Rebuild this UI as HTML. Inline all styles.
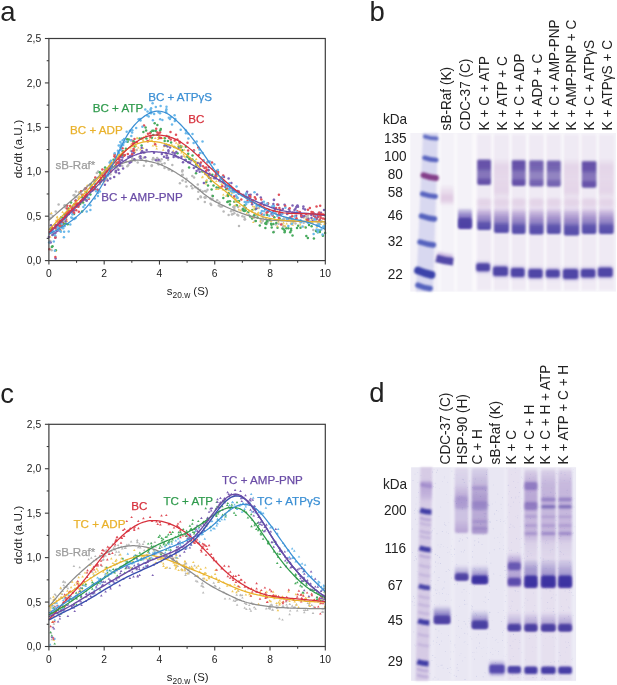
<!DOCTYPE html>
<html><head><meta charset="utf-8"><style>
html,body{margin:0;padding:0;background:#fff;}
svg{display:block;font-family:"Liberation Sans", sans-serif;will-change:transform;}
</style></head><body>
<svg width="617" height="685" viewBox="0 0 617 685">
<defs><filter id="b0" filterUnits="userSpaceOnUse" x="0" y="0" width="617" height="685"><feGaussianBlur stdDeviation="0.8"/></filter><filter id="b1" filterUnits="userSpaceOnUse" x="0" y="0" width="617" height="685"><feGaussianBlur stdDeviation="1.0"/></filter><filter id="b2" filterUnits="userSpaceOnUse" x="0" y="0" width="617" height="685"><feGaussianBlur stdDeviation="0.9"/></filter><linearGradient id="g1" x1="0" y1="0" x2="0" y2="1"><stop offset="0" stop-color="#c79ac8" stop-opacity="0.0"/><stop offset="0.35" stop-color="#c79ac8" stop-opacity="0.25"/><stop offset="0.6" stop-color="#c79ac8" stop-opacity="0.45"/><stop offset="0.75" stop-color="#c79ac8" stop-opacity="0.4"/><stop offset="1" stop-color="#c79ac8" stop-opacity="0.0"/></linearGradient><filter id="b3" filterUnits="userSpaceOnUse" x="0" y="0" width="617" height="685"><feGaussianBlur stdDeviation="1.2"/></filter><filter id="b4" filterUnits="userSpaceOnUse" x="0" y="0" width="617" height="685"><feGaussianBlur stdDeviation="1.5"/></filter><filter id="b5" filterUnits="userSpaceOnUse" x="0" y="0" width="617" height="685"><feGaussianBlur stdDeviation="1.1"/></filter><linearGradient id="g2" x1="0" y1="0" x2="0" y2="1"><stop offset="0" stop-color="#5a48ae" stop-opacity="0.15"/><stop offset="0.3" stop-color="#5a48ae" stop-opacity="0.6"/><stop offset="0.5" stop-color="#5a48ae" stop-opacity="0.8"/><stop offset="1" stop-color="#5a48ae" stop-opacity="0.95"/></linearGradient><linearGradient id="g3" x1="0" y1="0" x2="0" y2="1"><stop offset="0" stop-color="#4d389c" stop-opacity="0.285"/><stop offset="0.07" stop-color="#4d389c" stop-opacity="0.855"/><stop offset="0.35" stop-color="#4d389c" stop-opacity="0.836"/><stop offset="0.5" stop-color="#4d389c" stop-opacity="0.646"/><stop offset="0.7" stop-color="#4d389c" stop-opacity="0.646"/><stop offset="0.8" stop-color="#4d389c" stop-opacity="0.836"/><stop offset="1" stop-color="#4d389c" stop-opacity="0.855"/></linearGradient><linearGradient id="g4" x1="0" y1="0" x2="0" y2="1"><stop offset="0" stop-color="#b58ccc" stop-opacity="0.0"/><stop offset="0.25" stop-color="#b58ccc" stop-opacity="0.35"/><stop offset="0.5" stop-color="#b58ccc" stop-opacity="0.5"/><stop offset="1" stop-color="#b58ccc" stop-opacity="0.0"/></linearGradient><linearGradient id="g5" x1="0" y1="0" x2="0" y2="1"><stop offset="0" stop-color="#4d44a6" stop-opacity="0.0"/><stop offset="0.3" stop-color="#4d44a6" stop-opacity="0.28"/><stop offset="0.52" stop-color="#4d44a6" stop-opacity="0.5"/><stop offset="0.68" stop-color="#4d44a6" stop-opacity="0.88"/><stop offset="1" stop-color="#4d44a6" stop-opacity="0.95"/></linearGradient><linearGradient id="g6" x1="0" y1="0" x2="0" y2="1"><stop offset="0" stop-color="#c9a2cc" stop-opacity="0.0"/><stop offset="0.2" stop-color="#c9a2cc" stop-opacity="0.3"/><stop offset="0.5" stop-color="#c9a2cc" stop-opacity="0.25"/><stop offset="0.8" stop-color="#c9a2cc" stop-opacity="0.3"/><stop offset="1" stop-color="#c9a2cc" stop-opacity="0.0"/></linearGradient><linearGradient id="g7" x1="0" y1="0" x2="0" y2="1"><stop offset="0" stop-color="#b58ccc" stop-opacity="0.0"/><stop offset="0.25" stop-color="#b58ccc" stop-opacity="0.35"/><stop offset="0.5" stop-color="#b58ccc" stop-opacity="0.5"/><stop offset="1" stop-color="#b58ccc" stop-opacity="0.0"/></linearGradient><linearGradient id="g8" x1="0" y1="0" x2="0" y2="1"><stop offset="0" stop-color="#4d44a6" stop-opacity="0.0"/><stop offset="0.3" stop-color="#4d44a6" stop-opacity="0.28"/><stop offset="0.52" stop-color="#4d44a6" stop-opacity="0.5"/><stop offset="0.68" stop-color="#4d44a6" stop-opacity="0.88"/><stop offset="1" stop-color="#4d44a6" stop-opacity="0.95"/></linearGradient><linearGradient id="g9" x1="0" y1="0" x2="0" y2="1"><stop offset="0" stop-color="#4d389c" stop-opacity="0.285"/><stop offset="0.07" stop-color="#4d389c" stop-opacity="0.855"/><stop offset="0.35" stop-color="#4d389c" stop-opacity="0.836"/><stop offset="0.5" stop-color="#4d389c" stop-opacity="0.646"/><stop offset="0.7" stop-color="#4d389c" stop-opacity="0.646"/><stop offset="0.8" stop-color="#4d389c" stop-opacity="0.836"/><stop offset="1" stop-color="#4d389c" stop-opacity="0.855"/></linearGradient><linearGradient id="g10" x1="0" y1="0" x2="0" y2="1"><stop offset="0" stop-color="#b58ccc" stop-opacity="0.0"/><stop offset="0.25" stop-color="#b58ccc" stop-opacity="0.35"/><stop offset="0.5" stop-color="#b58ccc" stop-opacity="0.5"/><stop offset="1" stop-color="#b58ccc" stop-opacity="0.0"/></linearGradient><linearGradient id="g11" x1="0" y1="0" x2="0" y2="1"><stop offset="0" stop-color="#4d44a6" stop-opacity="0.0"/><stop offset="0.3" stop-color="#4d44a6" stop-opacity="0.28"/><stop offset="0.52" stop-color="#4d44a6" stop-opacity="0.5"/><stop offset="0.68" stop-color="#4d44a6" stop-opacity="0.88"/><stop offset="1" stop-color="#4d44a6" stop-opacity="0.95"/></linearGradient><linearGradient id="g12" x1="0" y1="0" x2="0" y2="1"><stop offset="0" stop-color="#4d389c" stop-opacity="0.255"/><stop offset="0.07" stop-color="#4d389c" stop-opacity="0.765"/><stop offset="0.35" stop-color="#4d389c" stop-opacity="0.748"/><stop offset="0.5" stop-color="#4d389c" stop-opacity="0.5780000000000001"/><stop offset="0.7" stop-color="#4d389c" stop-opacity="0.5780000000000001"/><stop offset="0.8" stop-color="#4d389c" stop-opacity="0.748"/><stop offset="1" stop-color="#4d389c" stop-opacity="0.765"/></linearGradient><linearGradient id="g13" x1="0" y1="0" x2="0" y2="1"><stop offset="0" stop-color="#b58ccc" stop-opacity="0.0"/><stop offset="0.25" stop-color="#b58ccc" stop-opacity="0.35"/><stop offset="0.5" stop-color="#b58ccc" stop-opacity="0.5"/><stop offset="1" stop-color="#b58ccc" stop-opacity="0.0"/></linearGradient><linearGradient id="g14" x1="0" y1="0" x2="0" y2="1"><stop offset="0" stop-color="#4d44a6" stop-opacity="0.0"/><stop offset="0.3" stop-color="#4d44a6" stop-opacity="0.28"/><stop offset="0.52" stop-color="#4d44a6" stop-opacity="0.5"/><stop offset="0.68" stop-color="#4d44a6" stop-opacity="0.88"/><stop offset="1" stop-color="#4d44a6" stop-opacity="0.95"/></linearGradient><linearGradient id="g15" x1="0" y1="0" x2="0" y2="1"><stop offset="0" stop-color="#4d389c" stop-opacity="0.255"/><stop offset="0.07" stop-color="#4d389c" stop-opacity="0.765"/><stop offset="0.35" stop-color="#4d389c" stop-opacity="0.748"/><stop offset="0.5" stop-color="#4d389c" stop-opacity="0.5780000000000001"/><stop offset="0.7" stop-color="#4d389c" stop-opacity="0.5780000000000001"/><stop offset="0.8" stop-color="#4d389c" stop-opacity="0.748"/><stop offset="1" stop-color="#4d389c" stop-opacity="0.765"/></linearGradient><linearGradient id="g16" x1="0" y1="0" x2="0" y2="1"><stop offset="0" stop-color="#b58ccc" stop-opacity="0.0"/><stop offset="0.25" stop-color="#b58ccc" stop-opacity="0.35"/><stop offset="0.5" stop-color="#b58ccc" stop-opacity="0.5"/><stop offset="1" stop-color="#b58ccc" stop-opacity="0.0"/></linearGradient><linearGradient id="g17" x1="0" y1="0" x2="0" y2="1"><stop offset="0" stop-color="#4d44a6" stop-opacity="0.0"/><stop offset="0.3" stop-color="#4d44a6" stop-opacity="0.28"/><stop offset="0.52" stop-color="#4d44a6" stop-opacity="0.5"/><stop offset="0.68" stop-color="#4d44a6" stop-opacity="0.88"/><stop offset="1" stop-color="#4d44a6" stop-opacity="0.95"/></linearGradient><linearGradient id="g18" x1="0" y1="0" x2="0" y2="1"><stop offset="0" stop-color="#c9a2cc" stop-opacity="0.0"/><stop offset="0.2" stop-color="#c9a2cc" stop-opacity="0.3"/><stop offset="0.5" stop-color="#c9a2cc" stop-opacity="0.25"/><stop offset="0.8" stop-color="#c9a2cc" stop-opacity="0.3"/><stop offset="1" stop-color="#c9a2cc" stop-opacity="0.0"/></linearGradient><linearGradient id="g19" x1="0" y1="0" x2="0" y2="1"><stop offset="0" stop-color="#b58ccc" stop-opacity="0.0"/><stop offset="0.25" stop-color="#b58ccc" stop-opacity="0.35"/><stop offset="0.5" stop-color="#b58ccc" stop-opacity="0.5"/><stop offset="1" stop-color="#b58ccc" stop-opacity="0.0"/></linearGradient><linearGradient id="g20" x1="0" y1="0" x2="0" y2="1"><stop offset="0" stop-color="#4d44a6" stop-opacity="0.0"/><stop offset="0.3" stop-color="#4d44a6" stop-opacity="0.28"/><stop offset="0.52" stop-color="#4d44a6" stop-opacity="0.5"/><stop offset="0.68" stop-color="#4d44a6" stop-opacity="0.88"/><stop offset="1" stop-color="#4d44a6" stop-opacity="0.95"/></linearGradient><linearGradient id="g21" x1="0" y1="0" x2="0" y2="1"><stop offset="0" stop-color="#4d389c" stop-opacity="0.285"/><stop offset="0.07" stop-color="#4d389c" stop-opacity="0.855"/><stop offset="0.35" stop-color="#4d389c" stop-opacity="0.836"/><stop offset="0.5" stop-color="#4d389c" stop-opacity="0.646"/><stop offset="0.7" stop-color="#4d389c" stop-opacity="0.646"/><stop offset="0.8" stop-color="#4d389c" stop-opacity="0.836"/><stop offset="1" stop-color="#4d389c" stop-opacity="0.855"/></linearGradient><linearGradient id="g22" x1="0" y1="0" x2="0" y2="1"><stop offset="0" stop-color="#b58ccc" stop-opacity="0.0"/><stop offset="0.25" stop-color="#b58ccc" stop-opacity="0.35"/><stop offset="0.5" stop-color="#b58ccc" stop-opacity="0.5"/><stop offset="1" stop-color="#b58ccc" stop-opacity="0.0"/></linearGradient><linearGradient id="g23" x1="0" y1="0" x2="0" y2="1"><stop offset="0" stop-color="#4d44a6" stop-opacity="0.0"/><stop offset="0.3" stop-color="#4d44a6" stop-opacity="0.28"/><stop offset="0.52" stop-color="#4d44a6" stop-opacity="0.5"/><stop offset="0.68" stop-color="#4d44a6" stop-opacity="0.88"/><stop offset="1" stop-color="#4d44a6" stop-opacity="0.95"/></linearGradient><linearGradient id="g24" x1="0" y1="0" x2="0" y2="1"><stop offset="0" stop-color="#c9a2cc" stop-opacity="0.0"/><stop offset="0.2" stop-color="#c9a2cc" stop-opacity="0.3"/><stop offset="0.5" stop-color="#c9a2cc" stop-opacity="0.25"/><stop offset="0.8" stop-color="#c9a2cc" stop-opacity="0.3"/><stop offset="1" stop-color="#c9a2cc" stop-opacity="0.0"/></linearGradient><linearGradient id="g25" x1="0" y1="0" x2="0" y2="1"><stop offset="0" stop-color="#b58ccc" stop-opacity="0.0"/><stop offset="0.25" stop-color="#b58ccc" stop-opacity="0.35"/><stop offset="0.5" stop-color="#b58ccc" stop-opacity="0.5"/><stop offset="1" stop-color="#b58ccc" stop-opacity="0.0"/></linearGradient><linearGradient id="g26" x1="0" y1="0" x2="0" y2="1"><stop offset="0" stop-color="#4d44a6" stop-opacity="0.0"/><stop offset="0.3" stop-color="#4d44a6" stop-opacity="0.28"/><stop offset="0.52" stop-color="#4d44a6" stop-opacity="0.5"/><stop offset="0.68" stop-color="#4d44a6" stop-opacity="0.88"/><stop offset="1" stop-color="#4d44a6" stop-opacity="0.95"/></linearGradient><linearGradient id="g27" x1="0" y1="0" x2="0" y2="1"><stop offset="0" stop-color="#8a6cc0" stop-opacity="0.0"/><stop offset="0.15" stop-color="#8a6cc0" stop-opacity="0.5"/><stop offset="0.35" stop-color="#8a6cc0" stop-opacity="0.35"/><stop offset="0.7" stop-color="#8a6cc0" stop-opacity="0.25"/><stop offset="1" stop-color="#8a6cc0" stop-opacity="0.0"/></linearGradient><linearGradient id="g28" x1="0" y1="0" x2="0" y2="1"><stop offset="0" stop-color="#5a48ac" stop-opacity="0.05"/><stop offset="0.4" stop-color="#5a48ac" stop-opacity="0.55"/><stop offset="1" stop-color="#5a48ac" stop-opacity="0.95"/></linearGradient><linearGradient id="g29" x1="0" y1="0" x2="0" y2="1"><stop offset="0" stop-color="#8a68b8" stop-opacity="0.12"/><stop offset="0.25" stop-color="#8a68b8" stop-opacity="0.2"/><stop offset="0.4" stop-color="#8a68b8" stop-opacity="0.42"/><stop offset="0.6" stop-color="#8a68b8" stop-opacity="0.3"/><stop offset="0.8" stop-color="#8a68b8" stop-opacity="0.3"/><stop offset="0.96" stop-color="#8a68b8" stop-opacity="0.5"/><stop offset="1" stop-color="#8a68b8" stop-opacity="0.5"/></linearGradient><linearGradient id="g30" x1="0" y1="0" x2="0" y2="1"><stop offset="0" stop-color="#5a48ac" stop-opacity="0.0"/><stop offset="0.5" stop-color="#5a48ac" stop-opacity="0.4"/><stop offset="1" stop-color="#5a48ac" stop-opacity="0.9"/></linearGradient><linearGradient id="g31" x1="0" y1="0" x2="0" y2="1"><stop offset="0" stop-color="#7a5cb0" stop-opacity="0.15"/><stop offset="0.25" stop-color="#7a5cb0" stop-opacity="0.35"/><stop offset="0.45" stop-color="#7a5cb0" stop-opacity="0.55"/><stop offset="0.6" stop-color="#7a5cb0" stop-opacity="0.4"/><stop offset="0.8" stop-color="#7a5cb0" stop-opacity="0.45"/><stop offset="0.96" stop-color="#7a5cb0" stop-opacity="0.55"/><stop offset="1" stop-color="#7a5cb0" stop-opacity="0.55"/></linearGradient><filter id="b6" filterUnits="userSpaceOnUse" x="0" y="0" width="617" height="685"><feGaussianBlur stdDeviation="1.4"/></filter><linearGradient id="g32" x1="0" y1="0" x2="0" y2="1"><stop offset="0" stop-color="#5a48ac" stop-opacity="0.0"/><stop offset="0.45" stop-color="#5a48ac" stop-opacity="0.45"/><stop offset="1" stop-color="#5a48ac" stop-opacity="0.95"/></linearGradient><linearGradient id="g33" x1="0" y1="0" x2="0" y2="1"><stop offset="0" stop-color="#5a48ac" stop-opacity="0.0"/><stop offset="0.45" stop-color="#5a48ac" stop-opacity="0.45"/><stop offset="1" stop-color="#5a48ac" stop-opacity="0.95"/></linearGradient><linearGradient id="g34" x1="0" y1="0" x2="0" y2="1"><stop offset="0" stop-color="#6a4cb0" stop-opacity="0.0"/><stop offset="0.3" stop-color="#6a4cb0" stop-opacity="0.55"/><stop offset="0.45" stop-color="#6a4cb0" stop-opacity="0.5"/><stop offset="0.6" stop-color="#6a4cb0" stop-opacity="0.35"/><stop offset="0.8" stop-color="#6a4cb0" stop-opacity="0.7"/><stop offset="0.92" stop-color="#6a4cb0" stop-opacity="0.6"/><stop offset="1" stop-color="#6a4cb0" stop-opacity="0.0"/></linearGradient><linearGradient id="g35" x1="0" y1="0" x2="0" y2="1"><stop offset="0" stop-color="#8060b4" stop-opacity="0.12"/><stop offset="0.15" stop-color="#8060b4" stop-opacity="0.4"/><stop offset="0.35" stop-color="#8060b4" stop-opacity="0.45"/><stop offset="0.5" stop-color="#8060b4" stop-opacity="0.3"/><stop offset="0.7" stop-color="#8060b4" stop-opacity="0.35"/><stop offset="0.8" stop-color="#8060b4" stop-opacity="0.12"/><stop offset="1" stop-color="#8060b4" stop-opacity="0.05"/></linearGradient><filter id="b7" filterUnits="userSpaceOnUse" x="0" y="0" width="617" height="685"><feGaussianBlur stdDeviation="1.3"/></filter><linearGradient id="g36" x1="0" y1="0" x2="0" y2="1"><stop offset="0" stop-color="#5a48ac" stop-opacity="0.1"/><stop offset="0.3" stop-color="#5a48ac" stop-opacity="0.45"/><stop offset="0.55" stop-color="#5a48ac" stop-opacity="0.5"/><stop offset="1" stop-color="#5a48ac" stop-opacity="0.95"/></linearGradient><linearGradient id="g37" x1="0" y1="0" x2="0" y2="1"><stop offset="0" stop-color="#6a52b0" stop-opacity="0.0"/><stop offset="0.5" stop-color="#6a52b0" stop-opacity="0.35"/><stop offset="1" stop-color="#6a52b0" stop-opacity="0.9"/></linearGradient><linearGradient id="g38" x1="0" y1="0" x2="0" y2="1"><stop offset="0" stop-color="#8060b4" stop-opacity="0.12"/><stop offset="0.15" stop-color="#8060b4" stop-opacity="0.32000000000000006"/><stop offset="0.35" stop-color="#8060b4" stop-opacity="0.36000000000000004"/><stop offset="0.5" stop-color="#8060b4" stop-opacity="0.3"/><stop offset="0.7" stop-color="#8060b4" stop-opacity="0.35"/><stop offset="0.8" stop-color="#8060b4" stop-opacity="0.12"/><stop offset="1" stop-color="#8060b4" stop-opacity="0.05"/></linearGradient><linearGradient id="g39" x1="0" y1="0" x2="0" y2="1"><stop offset="0" stop-color="#5a48ac" stop-opacity="0.1"/><stop offset="0.3" stop-color="#5a48ac" stop-opacity="0.36000000000000004"/><stop offset="0.55" stop-color="#5a48ac" stop-opacity="0.5"/><stop offset="1" stop-color="#5a48ac" stop-opacity="0.95"/></linearGradient><linearGradient id="g40" x1="0" y1="0" x2="0" y2="1"><stop offset="0" stop-color="#6a52b0" stop-opacity="0.0"/><stop offset="0.5" stop-color="#6a52b0" stop-opacity="0.35"/><stop offset="1" stop-color="#6a52b0" stop-opacity="0.9"/></linearGradient><linearGradient id="g41" x1="0" y1="0" x2="0" y2="1"><stop offset="0" stop-color="#8060b4" stop-opacity="0.12"/><stop offset="0.15" stop-color="#8060b4" stop-opacity="0.30000000000000004"/><stop offset="0.35" stop-color="#8060b4" stop-opacity="0.3375"/><stop offset="0.5" stop-color="#8060b4" stop-opacity="0.3"/><stop offset="0.7" stop-color="#8060b4" stop-opacity="0.35"/><stop offset="0.8" stop-color="#8060b4" stop-opacity="0.12"/><stop offset="1" stop-color="#8060b4" stop-opacity="0.05"/></linearGradient><linearGradient id="g42" x1="0" y1="0" x2="0" y2="1"><stop offset="0" stop-color="#5a48ac" stop-opacity="0.1"/><stop offset="0.3" stop-color="#5a48ac" stop-opacity="0.3375"/><stop offset="0.55" stop-color="#5a48ac" stop-opacity="0.5"/><stop offset="1" stop-color="#5a48ac" stop-opacity="0.95"/></linearGradient><linearGradient id="g43" x1="0" y1="0" x2="0" y2="1"><stop offset="0" stop-color="#6a52b0" stop-opacity="0.0"/><stop offset="0.5" stop-color="#6a52b0" stop-opacity="0.35"/><stop offset="1" stop-color="#6a52b0" stop-opacity="0.9"/></linearGradient><linearGradient id="g44" x1="0" y1="0" x2="0" y2="1"><stop offset="0" stop-color="#6a52b0" stop-opacity="0.0"/><stop offset="0.5" stop-color="#6a52b0" stop-opacity="0.3"/><stop offset="1" stop-color="#6a52b0" stop-opacity="0.9"/></linearGradient></defs>
<rect width="617" height="685" fill="#fff"/>
<text x="0.2" y="20.8" font-size="27.5" text-anchor="start" fill="#222">a</text>
<text x="369.5" y="20.8" font-size="27.5" text-anchor="start" fill="#222">b</text>
<text x="0.2" y="402.7" font-size="27.5" text-anchor="start" fill="#222">c</text>
<text x="369.2" y="402.4" font-size="27.5" text-anchor="start" fill="#222">d</text>
<circle cx="50.6" cy="218.1" r="1.25" fill="#b9b9b9"/>
<circle cx="50.7" cy="214.1" r="1.25" fill="#b9b9b9"/>
<circle cx="52.7" cy="216.1" r="1.25" fill="#b9b9b9"/>
<circle cx="55.7" cy="211.5" r="1.25" fill="#b9b9b9"/>
<circle cx="58.6" cy="204.4" r="1.25" fill="#b9b9b9"/>
<circle cx="64.6" cy="205.3" r="1.25" fill="#b9b9b9"/>
<circle cx="64.9" cy="205.4" r="1.25" fill="#b9b9b9"/>
<circle cx="65.2" cy="207.2" r="1.25" fill="#b9b9b9"/>
<circle cx="68.0" cy="210.7" r="1.25" fill="#b9b9b9"/>
<circle cx="73.6" cy="195.3" r="1.25" fill="#b9b9b9"/>
<circle cx="73.8" cy="206.3" r="1.25" fill="#b9b9b9"/>
<circle cx="74.5" cy="195.0" r="1.25" fill="#b9b9b9"/>
<circle cx="75.3" cy="197.3" r="1.25" fill="#b9b9b9"/>
<circle cx="75.9" cy="191.6" r="1.25" fill="#b9b9b9"/>
<circle cx="76.2" cy="196.7" r="1.25" fill="#b9b9b9"/>
<circle cx="78.4" cy="198.1" r="1.25" fill="#b9b9b9"/>
<circle cx="79.0" cy="192.4" r="1.25" fill="#b9b9b9"/>
<circle cx="81.5" cy="194.2" r="1.25" fill="#b9b9b9"/>
<circle cx="84.8" cy="189.6" r="1.25" fill="#b9b9b9"/>
<circle cx="84.9" cy="188.4" r="1.25" fill="#b9b9b9"/>
<circle cx="85.1" cy="189.0" r="1.25" fill="#b9b9b9"/>
<circle cx="89.8" cy="185.0" r="1.25" fill="#b9b9b9"/>
<circle cx="90.5" cy="187.2" r="1.25" fill="#b9b9b9"/>
<circle cx="90.7" cy="184.2" r="1.25" fill="#b9b9b9"/>
<circle cx="94.2" cy="189.8" r="1.25" fill="#b9b9b9"/>
<circle cx="94.3" cy="180.9" r="1.25" fill="#b9b9b9"/>
<circle cx="96.7" cy="183.4" r="1.25" fill="#b9b9b9"/>
<circle cx="96.8" cy="173.1" r="1.25" fill="#b9b9b9"/>
<circle cx="98.1" cy="171.4" r="1.25" fill="#b9b9b9"/>
<circle cx="99.9" cy="184.3" r="1.25" fill="#b9b9b9"/>
<circle cx="103.5" cy="172.4" r="1.25" fill="#b9b9b9"/>
<circle cx="104.4" cy="173.0" r="1.25" fill="#b9b9b9"/>
<circle cx="104.5" cy="177.0" r="1.25" fill="#b9b9b9"/>
<circle cx="104.8" cy="169.8" r="1.25" fill="#b9b9b9"/>
<circle cx="106.7" cy="173.0" r="1.25" fill="#b9b9b9"/>
<circle cx="106.9" cy="178.7" r="1.25" fill="#b9b9b9"/>
<circle cx="107.3" cy="171.8" r="1.25" fill="#b9b9b9"/>
<circle cx="109.0" cy="170.2" r="1.25" fill="#b9b9b9"/>
<circle cx="109.1" cy="169.1" r="1.25" fill="#b9b9b9"/>
<circle cx="110.4" cy="174.3" r="1.25" fill="#b9b9b9"/>
<circle cx="112.2" cy="165.1" r="1.25" fill="#b9b9b9"/>
<circle cx="115.4" cy="163.0" r="1.25" fill="#b9b9b9"/>
<circle cx="115.4" cy="171.4" r="1.25" fill="#b9b9b9"/>
<circle cx="117.4" cy="168.3" r="1.25" fill="#b9b9b9"/>
<circle cx="120.1" cy="164.6" r="1.25" fill="#b9b9b9"/>
<circle cx="122.3" cy="165.9" r="1.25" fill="#b9b9b9"/>
<circle cx="123.2" cy="155.3" r="1.25" fill="#b9b9b9"/>
<circle cx="126.0" cy="161.2" r="1.25" fill="#b9b9b9"/>
<circle cx="127.3" cy="166.2" r="1.25" fill="#b9b9b9"/>
<circle cx="128.4" cy="164.9" r="1.25" fill="#b9b9b9"/>
<circle cx="130.6" cy="161.2" r="1.25" fill="#b9b9b9"/>
<circle cx="130.8" cy="150.7" r="1.25" fill="#b9b9b9"/>
<circle cx="131.9" cy="161.5" r="1.25" fill="#b9b9b9"/>
<circle cx="132.3" cy="160.0" r="1.25" fill="#b9b9b9"/>
<circle cx="132.3" cy="158.3" r="1.25" fill="#b9b9b9"/>
<circle cx="135.1" cy="160.4" r="1.25" fill="#b9b9b9"/>
<circle cx="136.6" cy="150.1" r="1.25" fill="#b9b9b9"/>
<circle cx="137.7" cy="162.5" r="1.25" fill="#b9b9b9"/>
<circle cx="139.4" cy="156.9" r="1.25" fill="#b9b9b9"/>
<circle cx="141.8" cy="159.7" r="1.25" fill="#b9b9b9"/>
<circle cx="143.7" cy="157.8" r="1.25" fill="#b9b9b9"/>
<circle cx="143.9" cy="165.8" r="1.25" fill="#b9b9b9"/>
<circle cx="144.5" cy="152.8" r="1.25" fill="#b9b9b9"/>
<circle cx="146.0" cy="161.4" r="1.25" fill="#b9b9b9"/>
<circle cx="146.2" cy="160.8" r="1.25" fill="#b9b9b9"/>
<circle cx="151.6" cy="166.1" r="1.25" fill="#b9b9b9"/>
<circle cx="151.8" cy="165.2" r="1.25" fill="#b9b9b9"/>
<circle cx="152.6" cy="159.6" r="1.25" fill="#b9b9b9"/>
<circle cx="153.2" cy="157.9" r="1.25" fill="#b9b9b9"/>
<circle cx="154.9" cy="159.4" r="1.25" fill="#b9b9b9"/>
<circle cx="157.2" cy="158.1" r="1.25" fill="#b9b9b9"/>
<circle cx="157.5" cy="160.4" r="1.25" fill="#b9b9b9"/>
<circle cx="157.9" cy="163.5" r="1.25" fill="#b9b9b9"/>
<circle cx="158.4" cy="160.1" r="1.25" fill="#b9b9b9"/>
<circle cx="158.5" cy="161.3" r="1.25" fill="#b9b9b9"/>
<circle cx="158.6" cy="164.4" r="1.25" fill="#b9b9b9"/>
<circle cx="160.2" cy="161.3" r="1.25" fill="#b9b9b9"/>
<circle cx="161.6" cy="159.3" r="1.25" fill="#b9b9b9"/>
<circle cx="161.7" cy="164.1" r="1.25" fill="#b9b9b9"/>
<circle cx="164.5" cy="167.9" r="1.25" fill="#b9b9b9"/>
<circle cx="164.6" cy="163.2" r="1.25" fill="#b9b9b9"/>
<circle cx="168.1" cy="159.7" r="1.25" fill="#b9b9b9"/>
<circle cx="168.7" cy="169.4" r="1.25" fill="#b9b9b9"/>
<circle cx="169.4" cy="169.3" r="1.25" fill="#b9b9b9"/>
<circle cx="172.0" cy="170.9" r="1.25" fill="#b9b9b9"/>
<circle cx="172.3" cy="165.0" r="1.25" fill="#b9b9b9"/>
<circle cx="179.9" cy="183.3" r="1.25" fill="#b9b9b9"/>
<circle cx="182.0" cy="175.0" r="1.25" fill="#b9b9b9"/>
<circle cx="182.2" cy="171.4" r="1.25" fill="#b9b9b9"/>
<circle cx="182.5" cy="180.5" r="1.25" fill="#b9b9b9"/>
<circle cx="182.5" cy="170.3" r="1.25" fill="#b9b9b9"/>
<circle cx="182.8" cy="174.8" r="1.25" fill="#b9b9b9"/>
<circle cx="185.8" cy="181.7" r="1.25" fill="#b9b9b9"/>
<circle cx="186.5" cy="178.8" r="1.25" fill="#b9b9b9"/>
<circle cx="186.5" cy="186.6" r="1.25" fill="#b9b9b9"/>
<circle cx="191.3" cy="185.9" r="1.25" fill="#b9b9b9"/>
<circle cx="192.3" cy="176.1" r="1.25" fill="#b9b9b9"/>
<circle cx="192.4" cy="188.3" r="1.25" fill="#b9b9b9"/>
<circle cx="194.1" cy="177.5" r="1.25" fill="#b9b9b9"/>
<circle cx="195.4" cy="187.2" r="1.25" fill="#b9b9b9"/>
<circle cx="197.8" cy="184.4" r="1.25" fill="#b9b9b9"/>
<circle cx="197.8" cy="188.6" r="1.25" fill="#b9b9b9"/>
<circle cx="198.0" cy="199.0" r="1.25" fill="#b9b9b9"/>
<circle cx="198.3" cy="191.8" r="1.25" fill="#b9b9b9"/>
<circle cx="200.2" cy="190.0" r="1.25" fill="#b9b9b9"/>
<circle cx="200.6" cy="196.4" r="1.25" fill="#b9b9b9"/>
<circle cx="200.8" cy="197.3" r="1.25" fill="#b9b9b9"/>
<circle cx="202.8" cy="191.4" r="1.25" fill="#b9b9b9"/>
<circle cx="204.6" cy="197.3" r="1.25" fill="#b9b9b9"/>
<circle cx="204.8" cy="202.1" r="1.25" fill="#b9b9b9"/>
<circle cx="205.0" cy="197.8" r="1.25" fill="#b9b9b9"/>
<circle cx="205.1" cy="191.0" r="1.25" fill="#b9b9b9"/>
<circle cx="205.6" cy="197.4" r="1.25" fill="#b9b9b9"/>
<circle cx="206.2" cy="191.5" r="1.25" fill="#b9b9b9"/>
<circle cx="207.5" cy="189.8" r="1.25" fill="#b9b9b9"/>
<circle cx="210.4" cy="198.5" r="1.25" fill="#b9b9b9"/>
<circle cx="210.5" cy="203.7" r="1.25" fill="#b9b9b9"/>
<circle cx="211.2" cy="204.9" r="1.25" fill="#b9b9b9"/>
<circle cx="211.7" cy="199.5" r="1.25" fill="#b9b9b9"/>
<circle cx="212.1" cy="195.8" r="1.25" fill="#b9b9b9"/>
<circle cx="212.5" cy="198.7" r="1.25" fill="#b9b9b9"/>
<circle cx="217.2" cy="200.2" r="1.25" fill="#b9b9b9"/>
<circle cx="218.8" cy="205.4" r="1.25" fill="#b9b9b9"/>
<circle cx="219.4" cy="202.4" r="1.25" fill="#b9b9b9"/>
<circle cx="220.4" cy="206.4" r="1.25" fill="#b9b9b9"/>
<circle cx="221.8" cy="206.4" r="1.25" fill="#b9b9b9"/>
<circle cx="223.6" cy="211.5" r="1.25" fill="#b9b9b9"/>
<circle cx="228.6" cy="215.0" r="1.25" fill="#b9b9b9"/>
<circle cx="231.1" cy="211.3" r="1.25" fill="#b9b9b9"/>
<circle cx="231.9" cy="214.4" r="1.25" fill="#b9b9b9"/>
<circle cx="232.8" cy="214.1" r="1.25" fill="#b9b9b9"/>
<circle cx="233.3" cy="207.0" r="1.25" fill="#b9b9b9"/>
<circle cx="233.5" cy="210.6" r="1.25" fill="#b9b9b9"/>
<circle cx="234.0" cy="197.4" r="1.25" fill="#b9b9b9"/>
<circle cx="234.3" cy="206.3" r="1.25" fill="#b9b9b9"/>
<circle cx="234.3" cy="213.2" r="1.25" fill="#b9b9b9"/>
<circle cx="234.4" cy="207.0" r="1.25" fill="#b9b9b9"/>
<circle cx="234.4" cy="208.9" r="1.25" fill="#b9b9b9"/>
<circle cx="237.3" cy="214.7" r="1.25" fill="#b9b9b9"/>
<circle cx="238.1" cy="207.0" r="1.25" fill="#b9b9b9"/>
<circle cx="238.3" cy="215.4" r="1.25" fill="#b9b9b9"/>
<circle cx="239.0" cy="225.9" r="1.25" fill="#b9b9b9"/>
<circle cx="241.8" cy="209.8" r="1.25" fill="#b9b9b9"/>
<circle cx="242.4" cy="216.3" r="1.25" fill="#b9b9b9"/>
<circle cx="243.9" cy="207.4" r="1.25" fill="#b9b9b9"/>
<circle cx="244.4" cy="217.1" r="1.25" fill="#b9b9b9"/>
<circle cx="244.6" cy="219.5" r="1.25" fill="#b9b9b9"/>
<circle cx="244.7" cy="207.5" r="1.25" fill="#b9b9b9"/>
<circle cx="245.0" cy="219.2" r="1.25" fill="#b9b9b9"/>
<circle cx="248.9" cy="214.8" r="1.25" fill="#b9b9b9"/>
<circle cx="252.3" cy="210.2" r="1.25" fill="#b9b9b9"/>
<circle cx="253.2" cy="216.4" r="1.25" fill="#b9b9b9"/>
<circle cx="254.1" cy="217.5" r="1.25" fill="#b9b9b9"/>
<circle cx="254.3" cy="216.7" r="1.25" fill="#b9b9b9"/>
<circle cx="254.9" cy="213.6" r="1.25" fill="#b9b9b9"/>
<circle cx="254.9" cy="220.9" r="1.25" fill="#b9b9b9"/>
<circle cx="255.7" cy="214.8" r="1.25" fill="#b9b9b9"/>
<circle cx="257.2" cy="215.3" r="1.25" fill="#b9b9b9"/>
<circle cx="258.9" cy="207.9" r="1.25" fill="#b9b9b9"/>
<circle cx="260.8" cy="220.1" r="1.25" fill="#b9b9b9"/>
<circle cx="261.4" cy="222.8" r="1.25" fill="#b9b9b9"/>
<circle cx="261.8" cy="215.6" r="1.25" fill="#b9b9b9"/>
<circle cx="262.9" cy="220.8" r="1.25" fill="#b9b9b9"/>
<circle cx="263.2" cy="217.8" r="1.25" fill="#b9b9b9"/>
<circle cx="265.9" cy="218.9" r="1.25" fill="#b9b9b9"/>
<circle cx="266.7" cy="214.4" r="1.25" fill="#b9b9b9"/>
<circle cx="267.5" cy="222.6" r="1.25" fill="#b9b9b9"/>
<circle cx="270.6" cy="220.4" r="1.25" fill="#b9b9b9"/>
<circle cx="273.9" cy="231.7" r="1.25" fill="#b9b9b9"/>
<circle cx="275.8" cy="224.4" r="1.25" fill="#b9b9b9"/>
<circle cx="275.8" cy="213.6" r="1.25" fill="#b9b9b9"/>
<circle cx="278.5" cy="223.7" r="1.25" fill="#b9b9b9"/>
<circle cx="281.9" cy="223.9" r="1.25" fill="#b9b9b9"/>
<circle cx="283.3" cy="226.3" r="1.25" fill="#b9b9b9"/>
<circle cx="283.9" cy="218.4" r="1.25" fill="#b9b9b9"/>
<circle cx="284.0" cy="220.1" r="1.25" fill="#b9b9b9"/>
<circle cx="284.3" cy="226.2" r="1.25" fill="#b9b9b9"/>
<circle cx="286.4" cy="218.1" r="1.25" fill="#b9b9b9"/>
<circle cx="289.9" cy="220.0" r="1.25" fill="#b9b9b9"/>
<circle cx="290.3" cy="217.8" r="1.25" fill="#b9b9b9"/>
<circle cx="291.3" cy="224.1" r="1.25" fill="#b9b9b9"/>
<circle cx="291.9" cy="213.5" r="1.25" fill="#b9b9b9"/>
<circle cx="292.6" cy="219.4" r="1.25" fill="#b9b9b9"/>
<circle cx="293.6" cy="221.8" r="1.25" fill="#b9b9b9"/>
<circle cx="295.5" cy="223.6" r="1.25" fill="#b9b9b9"/>
<circle cx="300.4" cy="222.5" r="1.25" fill="#b9b9b9"/>
<circle cx="303.6" cy="217.6" r="1.25" fill="#b9b9b9"/>
<circle cx="303.7" cy="222.7" r="1.25" fill="#b9b9b9"/>
<circle cx="306.5" cy="216.7" r="1.25" fill="#b9b9b9"/>
<circle cx="306.6" cy="218.9" r="1.25" fill="#b9b9b9"/>
<circle cx="308.0" cy="215.5" r="1.25" fill="#b9b9b9"/>
<circle cx="308.1" cy="217.9" r="1.25" fill="#b9b9b9"/>
<circle cx="310.8" cy="221.8" r="1.25" fill="#b9b9b9"/>
<circle cx="313.3" cy="230.0" r="1.25" fill="#b9b9b9"/>
<circle cx="315.5" cy="220.2" r="1.25" fill="#b9b9b9"/>
<circle cx="315.6" cy="218.0" r="1.25" fill="#b9b9b9"/>
<circle cx="315.7" cy="220.8" r="1.25" fill="#b9b9b9"/>
<circle cx="317.2" cy="219.1" r="1.25" fill="#b9b9b9"/>
<circle cx="318.0" cy="223.6" r="1.25" fill="#b9b9b9"/>
<circle cx="325.2" cy="223.2" r="1.25" fill="#b9b9b9"/>
<circle cx="50.3" cy="241.1" r="1.25" fill="#b9b9b9"/>
<circle cx="51.6" cy="250.3" r="1.25" fill="#b9b9b9"/>
<circle cx="55.6" cy="236.6" r="1.25" fill="#b9b9b9"/>
<circle cx="50.9" cy="228.7" r="1.25" fill="#48ab5e"/>
<circle cx="51.4" cy="228.1" r="1.25" fill="#48ab5e"/>
<circle cx="53.2" cy="234.5" r="1.25" fill="#48ab5e"/>
<circle cx="57.4" cy="224.9" r="1.25" fill="#48ab5e"/>
<circle cx="58.4" cy="225.2" r="1.25" fill="#48ab5e"/>
<circle cx="60.4" cy="222.0" r="1.25" fill="#48ab5e"/>
<circle cx="61.0" cy="217.4" r="1.25" fill="#48ab5e"/>
<circle cx="61.2" cy="223.9" r="1.25" fill="#48ab5e"/>
<circle cx="61.4" cy="225.7" r="1.25" fill="#48ab5e"/>
<circle cx="61.9" cy="225.2" r="1.25" fill="#48ab5e"/>
<circle cx="62.9" cy="222.5" r="1.25" fill="#48ab5e"/>
<circle cx="62.9" cy="217.7" r="1.25" fill="#48ab5e"/>
<circle cx="63.9" cy="223.7" r="1.25" fill="#48ab5e"/>
<circle cx="64.4" cy="214.5" r="1.25" fill="#48ab5e"/>
<circle cx="65.5" cy="217.3" r="1.25" fill="#48ab5e"/>
<circle cx="65.5" cy="219.6" r="1.25" fill="#48ab5e"/>
<circle cx="66.2" cy="223.8" r="1.25" fill="#48ab5e"/>
<circle cx="66.3" cy="216.8" r="1.25" fill="#48ab5e"/>
<circle cx="66.9" cy="214.2" r="1.25" fill="#48ab5e"/>
<circle cx="67.7" cy="224.3" r="1.25" fill="#48ab5e"/>
<circle cx="68.1" cy="210.7" r="1.25" fill="#48ab5e"/>
<circle cx="68.2" cy="208.6" r="1.25" fill="#48ab5e"/>
<circle cx="68.5" cy="214.1" r="1.25" fill="#48ab5e"/>
<circle cx="69.0" cy="212.9" r="1.25" fill="#48ab5e"/>
<circle cx="71.0" cy="202.4" r="1.25" fill="#48ab5e"/>
<circle cx="74.0" cy="204.5" r="1.25" fill="#48ab5e"/>
<circle cx="74.0" cy="213.9" r="1.25" fill="#48ab5e"/>
<circle cx="79.5" cy="203.9" r="1.25" fill="#48ab5e"/>
<circle cx="80.1" cy="204.0" r="1.25" fill="#48ab5e"/>
<circle cx="81.5" cy="202.3" r="1.25" fill="#48ab5e"/>
<circle cx="82.1" cy="211.4" r="1.25" fill="#48ab5e"/>
<circle cx="82.3" cy="197.3" r="1.25" fill="#48ab5e"/>
<circle cx="83.1" cy="202.6" r="1.25" fill="#48ab5e"/>
<circle cx="83.6" cy="198.5" r="1.25" fill="#48ab5e"/>
<circle cx="83.7" cy="199.6" r="1.25" fill="#48ab5e"/>
<circle cx="86.4" cy="192.0" r="1.25" fill="#48ab5e"/>
<circle cx="86.6" cy="196.9" r="1.25" fill="#48ab5e"/>
<circle cx="90.4" cy="194.4" r="1.25" fill="#48ab5e"/>
<circle cx="90.7" cy="188.2" r="1.25" fill="#48ab5e"/>
<circle cx="90.8" cy="184.2" r="1.25" fill="#48ab5e"/>
<circle cx="93.0" cy="189.1" r="1.25" fill="#48ab5e"/>
<circle cx="94.4" cy="179.9" r="1.25" fill="#48ab5e"/>
<circle cx="95.0" cy="184.1" r="1.25" fill="#48ab5e"/>
<circle cx="95.7" cy="186.7" r="1.25" fill="#48ab5e"/>
<circle cx="99.8" cy="172.3" r="1.25" fill="#48ab5e"/>
<circle cx="100.1" cy="182.3" r="1.25" fill="#48ab5e"/>
<circle cx="100.3" cy="174.0" r="1.25" fill="#48ab5e"/>
<circle cx="101.0" cy="179.8" r="1.25" fill="#48ab5e"/>
<circle cx="101.9" cy="174.5" r="1.25" fill="#48ab5e"/>
<circle cx="103.7" cy="179.6" r="1.25" fill="#48ab5e"/>
<circle cx="104.1" cy="177.3" r="1.25" fill="#48ab5e"/>
<circle cx="105.1" cy="167.6" r="1.25" fill="#48ab5e"/>
<circle cx="107.2" cy="168.8" r="1.25" fill="#48ab5e"/>
<circle cx="109.9" cy="166.1" r="1.25" fill="#48ab5e"/>
<circle cx="110.5" cy="167.4" r="1.25" fill="#48ab5e"/>
<circle cx="113.5" cy="159.8" r="1.25" fill="#48ab5e"/>
<circle cx="114.9" cy="166.3" r="1.25" fill="#48ab5e"/>
<circle cx="116.9" cy="162.7" r="1.25" fill="#48ab5e"/>
<circle cx="119.8" cy="155.0" r="1.25" fill="#48ab5e"/>
<circle cx="122.3" cy="155.2" r="1.25" fill="#48ab5e"/>
<circle cx="122.5" cy="154.4" r="1.25" fill="#48ab5e"/>
<circle cx="122.7" cy="151.5" r="1.25" fill="#48ab5e"/>
<circle cx="123.0" cy="151.4" r="1.25" fill="#48ab5e"/>
<circle cx="125.9" cy="148.8" r="1.25" fill="#48ab5e"/>
<circle cx="127.2" cy="139.2" r="1.25" fill="#48ab5e"/>
<circle cx="127.6" cy="141.7" r="1.25" fill="#48ab5e"/>
<circle cx="128.8" cy="139.6" r="1.25" fill="#48ab5e"/>
<circle cx="133.5" cy="141.2" r="1.25" fill="#48ab5e"/>
<circle cx="134.7" cy="142.4" r="1.25" fill="#48ab5e"/>
<circle cx="134.8" cy="146.5" r="1.25" fill="#48ab5e"/>
<circle cx="139.6" cy="138.6" r="1.25" fill="#48ab5e"/>
<circle cx="141.6" cy="145.4" r="1.25" fill="#48ab5e"/>
<circle cx="141.8" cy="138.6" r="1.25" fill="#48ab5e"/>
<circle cx="143.4" cy="132.0" r="1.25" fill="#48ab5e"/>
<circle cx="145.6" cy="127.5" r="1.25" fill="#48ab5e"/>
<circle cx="146.1" cy="130.4" r="1.25" fill="#48ab5e"/>
<circle cx="146.4" cy="138.4" r="1.25" fill="#48ab5e"/>
<circle cx="150.8" cy="132.1" r="1.25" fill="#48ab5e"/>
<circle cx="151.9" cy="137.8" r="1.25" fill="#48ab5e"/>
<circle cx="152.3" cy="130.7" r="1.25" fill="#48ab5e"/>
<circle cx="153.3" cy="135.0" r="1.25" fill="#48ab5e"/>
<circle cx="153.6" cy="130.7" r="1.25" fill="#48ab5e"/>
<circle cx="154.7" cy="123.3" r="1.25" fill="#48ab5e"/>
<circle cx="155.8" cy="130.9" r="1.25" fill="#48ab5e"/>
<circle cx="157.4" cy="125.1" r="1.25" fill="#48ab5e"/>
<circle cx="157.5" cy="134.7" r="1.25" fill="#48ab5e"/>
<circle cx="159.1" cy="137.5" r="1.25" fill="#48ab5e"/>
<circle cx="160.2" cy="130.5" r="1.25" fill="#48ab5e"/>
<circle cx="160.8" cy="129.0" r="1.25" fill="#48ab5e"/>
<circle cx="164.7" cy="140.9" r="1.25" fill="#48ab5e"/>
<circle cx="164.8" cy="138.2" r="1.25" fill="#48ab5e"/>
<circle cx="165.9" cy="145.5" r="1.25" fill="#48ab5e"/>
<circle cx="167.9" cy="141.1" r="1.25" fill="#48ab5e"/>
<circle cx="168.6" cy="136.7" r="1.25" fill="#48ab5e"/>
<circle cx="171.1" cy="142.6" r="1.25" fill="#48ab5e"/>
<circle cx="174.3" cy="147.1" r="1.25" fill="#48ab5e"/>
<circle cx="177.5" cy="153.3" r="1.25" fill="#48ab5e"/>
<circle cx="178.7" cy="146.5" r="1.25" fill="#48ab5e"/>
<circle cx="180.5" cy="146.1" r="1.25" fill="#48ab5e"/>
<circle cx="180.9" cy="147.3" r="1.25" fill="#48ab5e"/>
<circle cx="182.4" cy="150.2" r="1.25" fill="#48ab5e"/>
<circle cx="185.7" cy="160.1" r="1.25" fill="#48ab5e"/>
<circle cx="185.8" cy="146.7" r="1.25" fill="#48ab5e"/>
<circle cx="187.5" cy="156.5" r="1.25" fill="#48ab5e"/>
<circle cx="187.5" cy="156.9" r="1.25" fill="#48ab5e"/>
<circle cx="188.2" cy="153.7" r="1.25" fill="#48ab5e"/>
<circle cx="189.1" cy="167.4" r="1.25" fill="#48ab5e"/>
<circle cx="189.5" cy="158.6" r="1.25" fill="#48ab5e"/>
<circle cx="189.5" cy="158.9" r="1.25" fill="#48ab5e"/>
<circle cx="192.4" cy="159.6" r="1.25" fill="#48ab5e"/>
<circle cx="192.5" cy="155.4" r="1.25" fill="#48ab5e"/>
<circle cx="194.7" cy="161.6" r="1.25" fill="#48ab5e"/>
<circle cx="196.0" cy="173.2" r="1.25" fill="#48ab5e"/>
<circle cx="196.2" cy="166.8" r="1.25" fill="#48ab5e"/>
<circle cx="196.2" cy="164.4" r="1.25" fill="#48ab5e"/>
<circle cx="202.4" cy="171.4" r="1.25" fill="#48ab5e"/>
<circle cx="206.3" cy="182.0" r="1.25" fill="#48ab5e"/>
<circle cx="208.0" cy="185.4" r="1.25" fill="#48ab5e"/>
<circle cx="208.2" cy="175.8" r="1.25" fill="#48ab5e"/>
<circle cx="209.1" cy="177.7" r="1.25" fill="#48ab5e"/>
<circle cx="211.0" cy="181.3" r="1.25" fill="#48ab5e"/>
<circle cx="211.6" cy="189.5" r="1.25" fill="#48ab5e"/>
<circle cx="212.3" cy="174.7" r="1.25" fill="#48ab5e"/>
<circle cx="212.9" cy="196.1" r="1.25" fill="#48ab5e"/>
<circle cx="213.5" cy="185.4" r="1.25" fill="#48ab5e"/>
<circle cx="215.7" cy="176.6" r="1.25" fill="#48ab5e"/>
<circle cx="216.6" cy="187.4" r="1.25" fill="#48ab5e"/>
<circle cx="218.7" cy="187.7" r="1.25" fill="#48ab5e"/>
<circle cx="223.3" cy="198.0" r="1.25" fill="#48ab5e"/>
<circle cx="226.2" cy="189.2" r="1.25" fill="#48ab5e"/>
<circle cx="227.3" cy="201.9" r="1.25" fill="#48ab5e"/>
<circle cx="227.7" cy="195.3" r="1.25" fill="#48ab5e"/>
<circle cx="228.0" cy="196.0" r="1.25" fill="#48ab5e"/>
<circle cx="228.2" cy="201.5" r="1.25" fill="#48ab5e"/>
<circle cx="228.7" cy="193.3" r="1.25" fill="#48ab5e"/>
<circle cx="229.9" cy="204.5" r="1.25" fill="#48ab5e"/>
<circle cx="230.0" cy="201.3" r="1.25" fill="#48ab5e"/>
<circle cx="234.3" cy="201.7" r="1.25" fill="#48ab5e"/>
<circle cx="236.8" cy="205.2" r="1.25" fill="#48ab5e"/>
<circle cx="237.2" cy="201.6" r="1.25" fill="#48ab5e"/>
<circle cx="239.1" cy="201.0" r="1.25" fill="#48ab5e"/>
<circle cx="243.0" cy="209.1" r="1.25" fill="#48ab5e"/>
<circle cx="243.4" cy="210.5" r="1.25" fill="#48ab5e"/>
<circle cx="244.4" cy="211.1" r="1.25" fill="#48ab5e"/>
<circle cx="244.5" cy="210.5" r="1.25" fill="#48ab5e"/>
<circle cx="244.6" cy="205.3" r="1.25" fill="#48ab5e"/>
<circle cx="245.6" cy="210.6" r="1.25" fill="#48ab5e"/>
<circle cx="245.7" cy="207.9" r="1.25" fill="#48ab5e"/>
<circle cx="248.3" cy="211.9" r="1.25" fill="#48ab5e"/>
<circle cx="250.2" cy="216.5" r="1.25" fill="#48ab5e"/>
<circle cx="252.1" cy="210.1" r="1.25" fill="#48ab5e"/>
<circle cx="252.1" cy="218.6" r="1.25" fill="#48ab5e"/>
<circle cx="254.1" cy="215.2" r="1.25" fill="#48ab5e"/>
<circle cx="255.4" cy="209.3" r="1.25" fill="#48ab5e"/>
<circle cx="255.8" cy="221.0" r="1.25" fill="#48ab5e"/>
<circle cx="257.5" cy="217.4" r="1.25" fill="#48ab5e"/>
<circle cx="259.8" cy="225.5" r="1.25" fill="#48ab5e"/>
<circle cx="265.3" cy="223.5" r="1.25" fill="#48ab5e"/>
<circle cx="265.4" cy="227.9" r="1.25" fill="#48ab5e"/>
<circle cx="265.9" cy="223.1" r="1.25" fill="#48ab5e"/>
<circle cx="266.3" cy="224.0" r="1.25" fill="#48ab5e"/>
<circle cx="266.9" cy="221.3" r="1.25" fill="#48ab5e"/>
<circle cx="267.3" cy="215.1" r="1.25" fill="#48ab5e"/>
<circle cx="267.4" cy="220.9" r="1.25" fill="#48ab5e"/>
<circle cx="269.5" cy="220.0" r="1.25" fill="#48ab5e"/>
<circle cx="271.1" cy="223.8" r="1.25" fill="#48ab5e"/>
<circle cx="271.5" cy="224.8" r="1.25" fill="#48ab5e"/>
<circle cx="271.7" cy="227.4" r="1.25" fill="#48ab5e"/>
<circle cx="273.4" cy="232.3" r="1.25" fill="#48ab5e"/>
<circle cx="273.4" cy="224.0" r="1.25" fill="#48ab5e"/>
<circle cx="274.3" cy="217.3" r="1.25" fill="#48ab5e"/>
<circle cx="276.3" cy="223.0" r="1.25" fill="#48ab5e"/>
<circle cx="277.5" cy="227.8" r="1.25" fill="#48ab5e"/>
<circle cx="279.6" cy="218.6" r="1.25" fill="#48ab5e"/>
<circle cx="282.5" cy="228.4" r="1.25" fill="#48ab5e"/>
<circle cx="283.9" cy="229.5" r="1.25" fill="#48ab5e"/>
<circle cx="284.6" cy="232.2" r="1.25" fill="#48ab5e"/>
<circle cx="284.9" cy="231.1" r="1.25" fill="#48ab5e"/>
<circle cx="286.3" cy="228.2" r="1.25" fill="#48ab5e"/>
<circle cx="288.0" cy="218.5" r="1.25" fill="#48ab5e"/>
<circle cx="288.4" cy="228.3" r="1.25" fill="#48ab5e"/>
<circle cx="290.2" cy="232.2" r="1.25" fill="#48ab5e"/>
<circle cx="291.1" cy="230.5" r="1.25" fill="#48ab5e"/>
<circle cx="291.1" cy="228.8" r="1.25" fill="#48ab5e"/>
<circle cx="292.5" cy="235.6" r="1.25" fill="#48ab5e"/>
<circle cx="297.0" cy="228.0" r="1.25" fill="#48ab5e"/>
<circle cx="298.2" cy="225.7" r="1.25" fill="#48ab5e"/>
<circle cx="300.5" cy="227.7" r="1.25" fill="#48ab5e"/>
<circle cx="305.7" cy="227.4" r="1.25" fill="#48ab5e"/>
<circle cx="306.3" cy="235.9" r="1.25" fill="#48ab5e"/>
<circle cx="307.9" cy="238.0" r="1.25" fill="#48ab5e"/>
<circle cx="309.0" cy="224.9" r="1.25" fill="#48ab5e"/>
<circle cx="311.6" cy="226.3" r="1.25" fill="#48ab5e"/>
<circle cx="313.9" cy="238.4" r="1.25" fill="#48ab5e"/>
<circle cx="316.0" cy="231.1" r="1.25" fill="#48ab5e"/>
<circle cx="317.8" cy="232.3" r="1.25" fill="#48ab5e"/>
<circle cx="319.8" cy="230.4" r="1.25" fill="#48ab5e"/>
<circle cx="319.9" cy="231.9" r="1.25" fill="#48ab5e"/>
<circle cx="322.9" cy="235.7" r="1.25" fill="#48ab5e"/>
<circle cx="325.1" cy="233.0" r="1.25" fill="#48ab5e"/>
<circle cx="52.5" cy="246.3" r="1.25" fill="#48ab5e"/>
<circle cx="55.8" cy="250.2" r="1.25" fill="#48ab5e"/>
<circle cx="51.8" cy="247.0" r="1.25" fill="#48ab5e"/>
<path d="M51.4 211.8l1.3 2.2h-2.6z" fill="#f0c85a"/>
<path d="M54.6 226.2l1.3 2.2h-2.6z" fill="#f0c85a"/>
<path d="M56.0 219.3l1.3 2.2h-2.6z" fill="#f0c85a"/>
<path d="M57.0 216.0l1.3 2.2h-2.6z" fill="#f0c85a"/>
<path d="M57.3 215.6l1.3 2.2h-2.6z" fill="#f0c85a"/>
<path d="M57.8 217.8l1.3 2.2h-2.6z" fill="#f0c85a"/>
<path d="M60.8 228.7l1.3 2.2h-2.6z" fill="#f0c85a"/>
<path d="M62.1 219.3l1.3 2.2h-2.6z" fill="#f0c85a"/>
<path d="M62.6 210.7l1.3 2.2h-2.6z" fill="#f0c85a"/>
<path d="M63.5 217.2l1.3 2.2h-2.6z" fill="#f0c85a"/>
<path d="M66.4 214.8l1.3 2.2h-2.6z" fill="#f0c85a"/>
<path d="M67.1 219.9l1.3 2.2h-2.6z" fill="#f0c85a"/>
<path d="M67.3 203.8l1.3 2.2h-2.6z" fill="#f0c85a"/>
<path d="M70.1 204.2l1.3 2.2h-2.6z" fill="#f0c85a"/>
<path d="M72.4 208.1l1.3 2.2h-2.6z" fill="#f0c85a"/>
<path d="M72.7 204.5l1.3 2.2h-2.6z" fill="#f0c85a"/>
<path d="M73.7 203.3l1.3 2.2h-2.6z" fill="#f0c85a"/>
<path d="M74.7 206.9l1.3 2.2h-2.6z" fill="#f0c85a"/>
<path d="M76.3 201.6l1.3 2.2h-2.6z" fill="#f0c85a"/>
<path d="M78.8 196.7l1.3 2.2h-2.6z" fill="#f0c85a"/>
<path d="M79.1 195.1l1.3 2.2h-2.6z" fill="#f0c85a"/>
<path d="M79.7 191.3l1.3 2.2h-2.6z" fill="#f0c85a"/>
<path d="M82.9 193.5l1.3 2.2h-2.6z" fill="#f0c85a"/>
<path d="M84.3 194.2l1.3 2.2h-2.6z" fill="#f0c85a"/>
<path d="M84.8 189.8l1.3 2.2h-2.6z" fill="#f0c85a"/>
<path d="M85.3 193.9l1.3 2.2h-2.6z" fill="#f0c85a"/>
<path d="M85.7 196.3l1.3 2.2h-2.6z" fill="#f0c85a"/>
<path d="M87.2 184.0l1.3 2.2h-2.6z" fill="#f0c85a"/>
<path d="M87.9 190.0l1.3 2.2h-2.6z" fill="#f0c85a"/>
<path d="M91.6 183.8l1.3 2.2h-2.6z" fill="#f0c85a"/>
<path d="M92.9 179.9l1.3 2.2h-2.6z" fill="#f0c85a"/>
<path d="M93.9 186.7l1.3 2.2h-2.6z" fill="#f0c85a"/>
<path d="M94.4 178.3l1.3 2.2h-2.6z" fill="#f0c85a"/>
<path d="M99.6 173.3l1.3 2.2h-2.6z" fill="#f0c85a"/>
<path d="M100.4 174.9l1.3 2.2h-2.6z" fill="#f0c85a"/>
<path d="M101.7 171.2l1.3 2.2h-2.6z" fill="#f0c85a"/>
<path d="M101.8 176.2l1.3 2.2h-2.6z" fill="#f0c85a"/>
<path d="M103.8 180.4l1.3 2.2h-2.6z" fill="#f0c85a"/>
<path d="M107.0 168.2l1.3 2.2h-2.6z" fill="#f0c85a"/>
<path d="M110.0 167.7l1.3 2.2h-2.6z" fill="#f0c85a"/>
<path d="M110.1 159.7l1.3 2.2h-2.6z" fill="#f0c85a"/>
<path d="M110.5 161.9l1.3 2.2h-2.6z" fill="#f0c85a"/>
<path d="M110.9 165.0l1.3 2.2h-2.6z" fill="#f0c85a"/>
<path d="M111.6 161.7l1.3 2.2h-2.6z" fill="#f0c85a"/>
<path d="M114.6 152.8l1.3 2.2h-2.6z" fill="#f0c85a"/>
<path d="M114.8 153.5l1.3 2.2h-2.6z" fill="#f0c85a"/>
<path d="M118.2 153.6l1.3 2.2h-2.6z" fill="#f0c85a"/>
<path d="M118.9 152.7l1.3 2.2h-2.6z" fill="#f0c85a"/>
<path d="M120.5 154.4l1.3 2.2h-2.6z" fill="#f0c85a"/>
<path d="M130.6 146.2l1.3 2.2h-2.6z" fill="#f0c85a"/>
<path d="M131.3 142.6l1.3 2.2h-2.6z" fill="#f0c85a"/>
<path d="M133.0 144.8l1.3 2.2h-2.6z" fill="#f0c85a"/>
<path d="M133.0 142.9l1.3 2.2h-2.6z" fill="#f0c85a"/>
<path d="M134.8 148.3l1.3 2.2h-2.6z" fill="#f0c85a"/>
<path d="M134.8 150.8l1.3 2.2h-2.6z" fill="#f0c85a"/>
<path d="M135.0 150.9l1.3 2.2h-2.6z" fill="#f0c85a"/>
<path d="M136.3 144.7l1.3 2.2h-2.6z" fill="#f0c85a"/>
<path d="M137.0 136.6l1.3 2.2h-2.6z" fill="#f0c85a"/>
<path d="M137.6 137.0l1.3 2.2h-2.6z" fill="#f0c85a"/>
<path d="M138.3 146.4l1.3 2.2h-2.6z" fill="#f0c85a"/>
<path d="M140.6 148.2l1.3 2.2h-2.6z" fill="#f0c85a"/>
<path d="M142.3 137.4l1.3 2.2h-2.6z" fill="#f0c85a"/>
<path d="M143.1 138.7l1.3 2.2h-2.6z" fill="#f0c85a"/>
<path d="M143.1 146.9l1.3 2.2h-2.6z" fill="#f0c85a"/>
<path d="M143.5 136.0l1.3 2.2h-2.6z" fill="#f0c85a"/>
<path d="M143.5 139.9l1.3 2.2h-2.6z" fill="#f0c85a"/>
<path d="M145.9 134.5l1.3 2.2h-2.6z" fill="#f0c85a"/>
<path d="M149.6 138.6l1.3 2.2h-2.6z" fill="#f0c85a"/>
<path d="M150.0 136.2l1.3 2.2h-2.6z" fill="#f0c85a"/>
<path d="M151.9 138.7l1.3 2.2h-2.6z" fill="#f0c85a"/>
<path d="M152.9 144.4l1.3 2.2h-2.6z" fill="#f0c85a"/>
<path d="M154.6 141.3l1.3 2.2h-2.6z" fill="#f0c85a"/>
<path d="M154.9 143.3l1.3 2.2h-2.6z" fill="#f0c85a"/>
<path d="M155.2 136.7l1.3 2.2h-2.6z" fill="#f0c85a"/>
<path d="M156.4 144.9l1.3 2.2h-2.6z" fill="#f0c85a"/>
<path d="M156.7 147.3l1.3 2.2h-2.6z" fill="#f0c85a"/>
<path d="M158.2 137.7l1.3 2.2h-2.6z" fill="#f0c85a"/>
<path d="M158.6 135.7l1.3 2.2h-2.6z" fill="#f0c85a"/>
<path d="M159.6 134.5l1.3 2.2h-2.6z" fill="#f0c85a"/>
<path d="M163.1 136.9l1.3 2.2h-2.6z" fill="#f0c85a"/>
<path d="M163.2 148.5l1.3 2.2h-2.6z" fill="#f0c85a"/>
<path d="M163.9 145.1l1.3 2.2h-2.6z" fill="#f0c85a"/>
<path d="M165.0 144.7l1.3 2.2h-2.6z" fill="#f0c85a"/>
<path d="M166.3 142.8l1.3 2.2h-2.6z" fill="#f0c85a"/>
<path d="M166.6 152.3l1.3 2.2h-2.6z" fill="#f0c85a"/>
<path d="M169.3 143.7l1.3 2.2h-2.6z" fill="#f0c85a"/>
<path d="M171.9 143.5l1.3 2.2h-2.6z" fill="#f0c85a"/>
<path d="M173.3 149.6l1.3 2.2h-2.6z" fill="#f0c85a"/>
<path d="M173.8 145.1l1.3 2.2h-2.6z" fill="#f0c85a"/>
<path d="M176.2 141.5l1.3 2.2h-2.6z" fill="#f0c85a"/>
<path d="M176.7 146.8l1.3 2.2h-2.6z" fill="#f0c85a"/>
<path d="M178.1 143.1l1.3 2.2h-2.6z" fill="#f0c85a"/>
<path d="M179.7 144.2l1.3 2.2h-2.6z" fill="#f0c85a"/>
<path d="M180.7 147.5l1.3 2.2h-2.6z" fill="#f0c85a"/>
<path d="M180.7 147.6l1.3 2.2h-2.6z" fill="#f0c85a"/>
<path d="M181.4 151.4l1.3 2.2h-2.6z" fill="#f0c85a"/>
<path d="M182.5 145.0l1.3 2.2h-2.6z" fill="#f0c85a"/>
<path d="M183.6 153.3l1.3 2.2h-2.6z" fill="#f0c85a"/>
<path d="M184.1 154.7l1.3 2.2h-2.6z" fill="#f0c85a"/>
<path d="M184.3 148.6l1.3 2.2h-2.6z" fill="#f0c85a"/>
<path d="M185.2 155.6l1.3 2.2h-2.6z" fill="#f0c85a"/>
<path d="M196.2 160.6l1.3 2.2h-2.6z" fill="#f0c85a"/>
<path d="M196.2 157.8l1.3 2.2h-2.6z" fill="#f0c85a"/>
<path d="M196.9 162.8l1.3 2.2h-2.6z" fill="#f0c85a"/>
<path d="M197.2 163.1l1.3 2.2h-2.6z" fill="#f0c85a"/>
<path d="M198.9 161.4l1.3 2.2h-2.6z" fill="#f0c85a"/>
<path d="M199.8 163.0l1.3 2.2h-2.6z" fill="#f0c85a"/>
<path d="M202.2 176.0l1.3 2.2h-2.6z" fill="#f0c85a"/>
<path d="M202.7 175.4l1.3 2.2h-2.6z" fill="#f0c85a"/>
<path d="M205.0 166.2l1.3 2.2h-2.6z" fill="#f0c85a"/>
<path d="M205.4 170.9l1.3 2.2h-2.6z" fill="#f0c85a"/>
<path d="M205.9 182.4l1.3 2.2h-2.6z" fill="#f0c85a"/>
<path d="M206.1 179.3l1.3 2.2h-2.6z" fill="#f0c85a"/>
<path d="M206.7 173.8l1.3 2.2h-2.6z" fill="#f0c85a"/>
<path d="M206.9 178.5l1.3 2.2h-2.6z" fill="#f0c85a"/>
<path d="M207.5 172.7l1.3 2.2h-2.6z" fill="#f0c85a"/>
<path d="M208.7 175.6l1.3 2.2h-2.6z" fill="#f0c85a"/>
<path d="M211.7 176.6l1.3 2.2h-2.6z" fill="#f0c85a"/>
<path d="M216.2 187.8l1.3 2.2h-2.6z" fill="#f0c85a"/>
<path d="M216.3 179.9l1.3 2.2h-2.6z" fill="#f0c85a"/>
<path d="M217.3 174.8l1.3 2.2h-2.6z" fill="#f0c85a"/>
<path d="M218.3 187.8l1.3 2.2h-2.6z" fill="#f0c85a"/>
<path d="M220.6 180.3l1.3 2.2h-2.6z" fill="#f0c85a"/>
<path d="M221.7 182.7l1.3 2.2h-2.6z" fill="#f0c85a"/>
<path d="M222.1 184.5l1.3 2.2h-2.6z" fill="#f0c85a"/>
<path d="M222.9 188.2l1.3 2.2h-2.6z" fill="#f0c85a"/>
<path d="M223.3 193.4l1.3 2.2h-2.6z" fill="#f0c85a"/>
<path d="M226.2 194.6l1.3 2.2h-2.6z" fill="#f0c85a"/>
<path d="M228.4 189.1l1.3 2.2h-2.6z" fill="#f0c85a"/>
<path d="M229.5 189.1l1.3 2.2h-2.6z" fill="#f0c85a"/>
<path d="M230.5 188.8l1.3 2.2h-2.6z" fill="#f0c85a"/>
<path d="M231.6 191.0l1.3 2.2h-2.6z" fill="#f0c85a"/>
<path d="M231.9 191.5l1.3 2.2h-2.6z" fill="#f0c85a"/>
<path d="M235.2 200.3l1.3 2.2h-2.6z" fill="#f0c85a"/>
<path d="M235.2 203.8l1.3 2.2h-2.6z" fill="#f0c85a"/>
<path d="M235.5 197.7l1.3 2.2h-2.6z" fill="#f0c85a"/>
<path d="M236.3 197.1l1.3 2.2h-2.6z" fill="#f0c85a"/>
<path d="M238.4 200.7l1.3 2.2h-2.6z" fill="#f0c85a"/>
<path d="M238.9 208.2l1.3 2.2h-2.6z" fill="#f0c85a"/>
<path d="M239.8 204.6l1.3 2.2h-2.6z" fill="#f0c85a"/>
<path d="M240.6 209.4l1.3 2.2h-2.6z" fill="#f0c85a"/>
<path d="M245.0 205.5l1.3 2.2h-2.6z" fill="#f0c85a"/>
<path d="M246.7 212.0l1.3 2.2h-2.6z" fill="#f0c85a"/>
<path d="M249.0 209.6l1.3 2.2h-2.6z" fill="#f0c85a"/>
<path d="M251.7 208.9l1.3 2.2h-2.6z" fill="#f0c85a"/>
<path d="M252.2 210.0l1.3 2.2h-2.6z" fill="#f0c85a"/>
<path d="M252.9 205.0l1.3 2.2h-2.6z" fill="#f0c85a"/>
<path d="M253.1 216.0l1.3 2.2h-2.6z" fill="#f0c85a"/>
<path d="M253.3 220.9l1.3 2.2h-2.6z" fill="#f0c85a"/>
<path d="M254.1 207.4l1.3 2.2h-2.6z" fill="#f0c85a"/>
<path d="M254.6 205.6l1.3 2.2h-2.6z" fill="#f0c85a"/>
<path d="M257.7 206.9l1.3 2.2h-2.6z" fill="#f0c85a"/>
<path d="M257.7 212.0l1.3 2.2h-2.6z" fill="#f0c85a"/>
<path d="M258.5 211.2l1.3 2.2h-2.6z" fill="#f0c85a"/>
<path d="M258.6 213.1l1.3 2.2h-2.6z" fill="#f0c85a"/>
<path d="M260.4 220.1l1.3 2.2h-2.6z" fill="#f0c85a"/>
<path d="M261.1 217.1l1.3 2.2h-2.6z" fill="#f0c85a"/>
<path d="M264.5 213.5l1.3 2.2h-2.6z" fill="#f0c85a"/>
<path d="M271.2 219.8l1.3 2.2h-2.6z" fill="#f0c85a"/>
<path d="M277.2 209.7l1.3 2.2h-2.6z" fill="#f0c85a"/>
<path d="M277.5 225.0l1.3 2.2h-2.6z" fill="#f0c85a"/>
<path d="M278.4 220.2l1.3 2.2h-2.6z" fill="#f0c85a"/>
<path d="M279.5 213.5l1.3 2.2h-2.6z" fill="#f0c85a"/>
<path d="M283.5 221.5l1.3 2.2h-2.6z" fill="#f0c85a"/>
<path d="M283.8 223.9l1.3 2.2h-2.6z" fill="#f0c85a"/>
<path d="M285.5 225.0l1.3 2.2h-2.6z" fill="#f0c85a"/>
<path d="M286.7 222.3l1.3 2.2h-2.6z" fill="#f0c85a"/>
<path d="M287.8 212.4l1.3 2.2h-2.6z" fill="#f0c85a"/>
<path d="M289.3 217.4l1.3 2.2h-2.6z" fill="#f0c85a"/>
<path d="M290.7 217.0l1.3 2.2h-2.6z" fill="#f0c85a"/>
<path d="M290.9 221.7l1.3 2.2h-2.6z" fill="#f0c85a"/>
<path d="M291.2 215.6l1.3 2.2h-2.6z" fill="#f0c85a"/>
<path d="M292.4 219.0l1.3 2.2h-2.6z" fill="#f0c85a"/>
<path d="M292.8 223.5l1.3 2.2h-2.6z" fill="#f0c85a"/>
<path d="M292.8 221.5l1.3 2.2h-2.6z" fill="#f0c85a"/>
<path d="M293.6 218.6l1.3 2.2h-2.6z" fill="#f0c85a"/>
<path d="M294.3 214.3l1.3 2.2h-2.6z" fill="#f0c85a"/>
<path d="M294.9 219.8l1.3 2.2h-2.6z" fill="#f0c85a"/>
<path d="M297.4 217.5l1.3 2.2h-2.6z" fill="#f0c85a"/>
<path d="M299.4 210.8l1.3 2.2h-2.6z" fill="#f0c85a"/>
<path d="M300.2 223.3l1.3 2.2h-2.6z" fill="#f0c85a"/>
<path d="M304.0 225.4l1.3 2.2h-2.6z" fill="#f0c85a"/>
<path d="M304.1 215.6l1.3 2.2h-2.6z" fill="#f0c85a"/>
<path d="M305.8 218.0l1.3 2.2h-2.6z" fill="#f0c85a"/>
<path d="M306.5 220.5l1.3 2.2h-2.6z" fill="#f0c85a"/>
<path d="M307.3 218.9l1.3 2.2h-2.6z" fill="#f0c85a"/>
<path d="M311.4 221.6l1.3 2.2h-2.6z" fill="#f0c85a"/>
<path d="M311.9 217.9l1.3 2.2h-2.6z" fill="#f0c85a"/>
<path d="M312.6 221.7l1.3 2.2h-2.6z" fill="#f0c85a"/>
<path d="M314.8 216.7l1.3 2.2h-2.6z" fill="#f0c85a"/>
<path d="M316.8 225.5l1.3 2.2h-2.6z" fill="#f0c85a"/>
<path d="M317.5 223.9l1.3 2.2h-2.6z" fill="#f0c85a"/>
<path d="M318.1 219.8l1.3 2.2h-2.6z" fill="#f0c85a"/>
<path d="M319.3 222.5l1.3 2.2h-2.6z" fill="#f0c85a"/>
<path d="M319.9 217.3l1.3 2.2h-2.6z" fill="#f0c85a"/>
<path d="M320.6 220.6l1.3 2.2h-2.6z" fill="#f0c85a"/>
<path d="M320.6 222.8l1.3 2.2h-2.6z" fill="#f0c85a"/>
<path d="M321.9 219.5l1.3 2.2h-2.6z" fill="#f0c85a"/>
<path d="M324.5 222.8l1.3 2.2h-2.6z" fill="#f0c85a"/>
<path d="M324.9 227.4l1.3 2.2h-2.6z" fill="#f0c85a"/>
<path d="M55.7 249.9l1.3 2.2h-2.6z" fill="#f0c85a"/>
<path d="M50.2 235.5l1.3 2.2h-2.6z" fill="#f0c85a"/>
<path d="M49.5 247.4l1.3 2.2h-2.6z" fill="#f0c85a"/>
<circle cx="50.7" cy="242.4" r="1.25" fill="#7d62b4"/>
<circle cx="51.0" cy="225.2" r="1.25" fill="#7d62b4"/>
<circle cx="52.4" cy="234.9" r="1.25" fill="#7d62b4"/>
<circle cx="54.0" cy="233.5" r="1.25" fill="#7d62b4"/>
<circle cx="55.3" cy="225.1" r="1.25" fill="#7d62b4"/>
<circle cx="55.5" cy="227.2" r="1.25" fill="#7d62b4"/>
<circle cx="55.6" cy="232.8" r="1.25" fill="#7d62b4"/>
<circle cx="56.9" cy="225.1" r="1.25" fill="#7d62b4"/>
<circle cx="57.0" cy="231.0" r="1.25" fill="#7d62b4"/>
<circle cx="58.6" cy="227.5" r="1.25" fill="#7d62b4"/>
<circle cx="59.1" cy="230.6" r="1.25" fill="#7d62b4"/>
<circle cx="65.5" cy="221.5" r="1.25" fill="#7d62b4"/>
<circle cx="65.7" cy="215.8" r="1.25" fill="#7d62b4"/>
<circle cx="69.0" cy="213.9" r="1.25" fill="#7d62b4"/>
<circle cx="71.4" cy="210.7" r="1.25" fill="#7d62b4"/>
<circle cx="72.3" cy="207.1" r="1.25" fill="#7d62b4"/>
<circle cx="72.6" cy="211.0" r="1.25" fill="#7d62b4"/>
<circle cx="73.1" cy="213.3" r="1.25" fill="#7d62b4"/>
<circle cx="74.1" cy="210.6" r="1.25" fill="#7d62b4"/>
<circle cx="75.8" cy="200.4" r="1.25" fill="#7d62b4"/>
<circle cx="76.8" cy="206.5" r="1.25" fill="#7d62b4"/>
<circle cx="77.5" cy="204.5" r="1.25" fill="#7d62b4"/>
<circle cx="78.5" cy="205.4" r="1.25" fill="#7d62b4"/>
<circle cx="81.7" cy="200.7" r="1.25" fill="#7d62b4"/>
<circle cx="82.8" cy="198.7" r="1.25" fill="#7d62b4"/>
<circle cx="84.7" cy="198.8" r="1.25" fill="#7d62b4"/>
<circle cx="84.9" cy="199.2" r="1.25" fill="#7d62b4"/>
<circle cx="86.5" cy="200.4" r="1.25" fill="#7d62b4"/>
<circle cx="86.7" cy="200.4" r="1.25" fill="#7d62b4"/>
<circle cx="90.1" cy="191.5" r="1.25" fill="#7d62b4"/>
<circle cx="91.1" cy="188.9" r="1.25" fill="#7d62b4"/>
<circle cx="92.2" cy="187.0" r="1.25" fill="#7d62b4"/>
<circle cx="92.5" cy="190.6" r="1.25" fill="#7d62b4"/>
<circle cx="97.4" cy="189.5" r="1.25" fill="#7d62b4"/>
<circle cx="98.9" cy="181.5" r="1.25" fill="#7d62b4"/>
<circle cx="99.1" cy="181.4" r="1.25" fill="#7d62b4"/>
<circle cx="104.9" cy="184.8" r="1.25" fill="#7d62b4"/>
<circle cx="105.1" cy="174.4" r="1.25" fill="#7d62b4"/>
<circle cx="105.2" cy="175.3" r="1.25" fill="#7d62b4"/>
<circle cx="105.3" cy="170.4" r="1.25" fill="#7d62b4"/>
<circle cx="107.6" cy="180.4" r="1.25" fill="#7d62b4"/>
<circle cx="110.3" cy="178.4" r="1.25" fill="#7d62b4"/>
<circle cx="112.5" cy="167.1" r="1.25" fill="#7d62b4"/>
<circle cx="114.2" cy="176.9" r="1.25" fill="#7d62b4"/>
<circle cx="115.9" cy="170.7" r="1.25" fill="#7d62b4"/>
<circle cx="116.0" cy="172.2" r="1.25" fill="#7d62b4"/>
<circle cx="118.4" cy="169.8" r="1.25" fill="#7d62b4"/>
<circle cx="119.1" cy="173.2" r="1.25" fill="#7d62b4"/>
<circle cx="119.5" cy="165.5" r="1.25" fill="#7d62b4"/>
<circle cx="119.5" cy="160.1" r="1.25" fill="#7d62b4"/>
<circle cx="119.7" cy="162.3" r="1.25" fill="#7d62b4"/>
<circle cx="119.9" cy="162.2" r="1.25" fill="#7d62b4"/>
<circle cx="120.1" cy="165.5" r="1.25" fill="#7d62b4"/>
<circle cx="120.8" cy="157.0" r="1.25" fill="#7d62b4"/>
<circle cx="122.0" cy="160.2" r="1.25" fill="#7d62b4"/>
<circle cx="122.5" cy="157.5" r="1.25" fill="#7d62b4"/>
<circle cx="123.1" cy="168.6" r="1.25" fill="#7d62b4"/>
<circle cx="128.3" cy="156.9" r="1.25" fill="#7d62b4"/>
<circle cx="129.6" cy="162.8" r="1.25" fill="#7d62b4"/>
<circle cx="130.2" cy="155.9" r="1.25" fill="#7d62b4"/>
<circle cx="130.2" cy="156.5" r="1.25" fill="#7d62b4"/>
<circle cx="130.8" cy="162.1" r="1.25" fill="#7d62b4"/>
<circle cx="131.9" cy="155.7" r="1.25" fill="#7d62b4"/>
<circle cx="132.0" cy="151.4" r="1.25" fill="#7d62b4"/>
<circle cx="132.3" cy="154.1" r="1.25" fill="#7d62b4"/>
<circle cx="134.0" cy="152.9" r="1.25" fill="#7d62b4"/>
<circle cx="134.4" cy="159.2" r="1.25" fill="#7d62b4"/>
<circle cx="140.4" cy="156.3" r="1.25" fill="#7d62b4"/>
<circle cx="140.6" cy="158.2" r="1.25" fill="#7d62b4"/>
<circle cx="141.2" cy="152.5" r="1.25" fill="#7d62b4"/>
<circle cx="141.7" cy="147.7" r="1.25" fill="#7d62b4"/>
<circle cx="142.1" cy="150.9" r="1.25" fill="#7d62b4"/>
<circle cx="143.6" cy="152.5" r="1.25" fill="#7d62b4"/>
<circle cx="145.2" cy="157.2" r="1.25" fill="#7d62b4"/>
<circle cx="146.6" cy="150.1" r="1.25" fill="#7d62b4"/>
<circle cx="154.0" cy="152.8" r="1.25" fill="#7d62b4"/>
<circle cx="156.1" cy="160.3" r="1.25" fill="#7d62b4"/>
<circle cx="158.7" cy="159.7" r="1.25" fill="#7d62b4"/>
<circle cx="161.8" cy="153.9" r="1.25" fill="#7d62b4"/>
<circle cx="164.0" cy="156.7" r="1.25" fill="#7d62b4"/>
<circle cx="164.6" cy="145.5" r="1.25" fill="#7d62b4"/>
<circle cx="165.8" cy="152.9" r="1.25" fill="#7d62b4"/>
<circle cx="166.5" cy="157.8" r="1.25" fill="#7d62b4"/>
<circle cx="166.8" cy="155.4" r="1.25" fill="#7d62b4"/>
<circle cx="167.5" cy="146.4" r="1.25" fill="#7d62b4"/>
<circle cx="168.0" cy="157.7" r="1.25" fill="#7d62b4"/>
<circle cx="168.4" cy="150.2" r="1.25" fill="#7d62b4"/>
<circle cx="168.5" cy="151.7" r="1.25" fill="#7d62b4"/>
<circle cx="170.0" cy="147.5" r="1.25" fill="#7d62b4"/>
<circle cx="172.6" cy="152.5" r="1.25" fill="#7d62b4"/>
<circle cx="173.6" cy="156.9" r="1.25" fill="#7d62b4"/>
<circle cx="174.7" cy="153.2" r="1.25" fill="#7d62b4"/>
<circle cx="174.8" cy="155.3" r="1.25" fill="#7d62b4"/>
<circle cx="176.3" cy="151.9" r="1.25" fill="#7d62b4"/>
<circle cx="176.3" cy="156.5" r="1.25" fill="#7d62b4"/>
<circle cx="178.4" cy="148.4" r="1.25" fill="#7d62b4"/>
<circle cx="178.4" cy="157.6" r="1.25" fill="#7d62b4"/>
<circle cx="181.5" cy="156.7" r="1.25" fill="#7d62b4"/>
<circle cx="183.0" cy="162.3" r="1.25" fill="#7d62b4"/>
<circle cx="185.2" cy="160.0" r="1.25" fill="#7d62b4"/>
<circle cx="188.3" cy="162.2" r="1.25" fill="#7d62b4"/>
<circle cx="189.9" cy="162.5" r="1.25" fill="#7d62b4"/>
<circle cx="191.6" cy="160.2" r="1.25" fill="#7d62b4"/>
<circle cx="193.8" cy="167.9" r="1.25" fill="#7d62b4"/>
<circle cx="196.6" cy="170.9" r="1.25" fill="#7d62b4"/>
<circle cx="197.7" cy="162.9" r="1.25" fill="#7d62b4"/>
<circle cx="198.5" cy="169.5" r="1.25" fill="#7d62b4"/>
<circle cx="199.7" cy="171.8" r="1.25" fill="#7d62b4"/>
<circle cx="200.2" cy="164.0" r="1.25" fill="#7d62b4"/>
<circle cx="200.4" cy="165.8" r="1.25" fill="#7d62b4"/>
<circle cx="203.9" cy="182.9" r="1.25" fill="#7d62b4"/>
<circle cx="205.3" cy="173.7" r="1.25" fill="#7d62b4"/>
<circle cx="208.4" cy="170.3" r="1.25" fill="#7d62b4"/>
<circle cx="208.4" cy="170.1" r="1.25" fill="#7d62b4"/>
<circle cx="208.4" cy="176.1" r="1.25" fill="#7d62b4"/>
<circle cx="208.8" cy="167.1" r="1.25" fill="#7d62b4"/>
<circle cx="210.1" cy="178.3" r="1.25" fill="#7d62b4"/>
<circle cx="214.3" cy="178.2" r="1.25" fill="#7d62b4"/>
<circle cx="215.8" cy="177.6" r="1.25" fill="#7d62b4"/>
<circle cx="215.9" cy="178.2" r="1.25" fill="#7d62b4"/>
<circle cx="215.9" cy="174.6" r="1.25" fill="#7d62b4"/>
<circle cx="216.4" cy="173.9" r="1.25" fill="#7d62b4"/>
<circle cx="219.4" cy="180.5" r="1.25" fill="#7d62b4"/>
<circle cx="224.0" cy="176.9" r="1.25" fill="#7d62b4"/>
<circle cx="225.4" cy="187.0" r="1.25" fill="#7d62b4"/>
<circle cx="225.7" cy="185.1" r="1.25" fill="#7d62b4"/>
<circle cx="228.6" cy="178.4" r="1.25" fill="#7d62b4"/>
<circle cx="229.4" cy="186.0" r="1.25" fill="#7d62b4"/>
<circle cx="231.4" cy="183.0" r="1.25" fill="#7d62b4"/>
<circle cx="233.4" cy="190.9" r="1.25" fill="#7d62b4"/>
<circle cx="234.2" cy="190.6" r="1.25" fill="#7d62b4"/>
<circle cx="237.4" cy="191.9" r="1.25" fill="#7d62b4"/>
<circle cx="237.7" cy="190.9" r="1.25" fill="#7d62b4"/>
<circle cx="238.7" cy="193.7" r="1.25" fill="#7d62b4"/>
<circle cx="243.4" cy="194.9" r="1.25" fill="#7d62b4"/>
<circle cx="246.4" cy="193.7" r="1.25" fill="#7d62b4"/>
<circle cx="247.1" cy="191.7" r="1.25" fill="#7d62b4"/>
<circle cx="248.7" cy="197.3" r="1.25" fill="#7d62b4"/>
<circle cx="249.1" cy="195.1" r="1.25" fill="#7d62b4"/>
<circle cx="250.6" cy="194.7" r="1.25" fill="#7d62b4"/>
<circle cx="252.1" cy="204.2" r="1.25" fill="#7d62b4"/>
<circle cx="256.4" cy="208.4" r="1.25" fill="#7d62b4"/>
<circle cx="257.1" cy="194.6" r="1.25" fill="#7d62b4"/>
<circle cx="260.8" cy="197.5" r="1.25" fill="#7d62b4"/>
<circle cx="261.3" cy="203.3" r="1.25" fill="#7d62b4"/>
<circle cx="262.4" cy="202.4" r="1.25" fill="#7d62b4"/>
<circle cx="265.3" cy="209.3" r="1.25" fill="#7d62b4"/>
<circle cx="267.4" cy="212.0" r="1.25" fill="#7d62b4"/>
<circle cx="267.7" cy="204.6" r="1.25" fill="#7d62b4"/>
<circle cx="271.5" cy="214.0" r="1.25" fill="#7d62b4"/>
<circle cx="273.4" cy="204.0" r="1.25" fill="#7d62b4"/>
<circle cx="273.4" cy="211.1" r="1.25" fill="#7d62b4"/>
<circle cx="273.8" cy="206.9" r="1.25" fill="#7d62b4"/>
<circle cx="273.9" cy="199.7" r="1.25" fill="#7d62b4"/>
<circle cx="274.0" cy="200.0" r="1.25" fill="#7d62b4"/>
<circle cx="275.0" cy="209.8" r="1.25" fill="#7d62b4"/>
<circle cx="278.3" cy="204.8" r="1.25" fill="#7d62b4"/>
<circle cx="280.9" cy="214.8" r="1.25" fill="#7d62b4"/>
<circle cx="281.3" cy="212.9" r="1.25" fill="#7d62b4"/>
<circle cx="282.9" cy="209.0" r="1.25" fill="#7d62b4"/>
<circle cx="284.6" cy="204.8" r="1.25" fill="#7d62b4"/>
<circle cx="287.1" cy="213.9" r="1.25" fill="#7d62b4"/>
<circle cx="289.0" cy="209.3" r="1.25" fill="#7d62b4"/>
<circle cx="289.7" cy="211.3" r="1.25" fill="#7d62b4"/>
<circle cx="290.2" cy="217.4" r="1.25" fill="#7d62b4"/>
<circle cx="292.4" cy="212.7" r="1.25" fill="#7d62b4"/>
<circle cx="292.5" cy="205.5" r="1.25" fill="#7d62b4"/>
<circle cx="294.1" cy="212.7" r="1.25" fill="#7d62b4"/>
<circle cx="294.5" cy="210.1" r="1.25" fill="#7d62b4"/>
<circle cx="295.5" cy="208.7" r="1.25" fill="#7d62b4"/>
<circle cx="296.2" cy="215.7" r="1.25" fill="#7d62b4"/>
<circle cx="296.3" cy="207.0" r="1.25" fill="#7d62b4"/>
<circle cx="297.1" cy="205.9" r="1.25" fill="#7d62b4"/>
<circle cx="297.5" cy="205.5" r="1.25" fill="#7d62b4"/>
<circle cx="298.0" cy="206.8" r="1.25" fill="#7d62b4"/>
<circle cx="301.1" cy="214.9" r="1.25" fill="#7d62b4"/>
<circle cx="301.4" cy="215.5" r="1.25" fill="#7d62b4"/>
<circle cx="301.6" cy="216.4" r="1.25" fill="#7d62b4"/>
<circle cx="301.6" cy="216.9" r="1.25" fill="#7d62b4"/>
<circle cx="303.0" cy="216.5" r="1.25" fill="#7d62b4"/>
<circle cx="303.3" cy="208.6" r="1.25" fill="#7d62b4"/>
<circle cx="303.4" cy="206.6" r="1.25" fill="#7d62b4"/>
<circle cx="304.4" cy="216.0" r="1.25" fill="#7d62b4"/>
<circle cx="305.1" cy="209.6" r="1.25" fill="#7d62b4"/>
<circle cx="308.5" cy="219.0" r="1.25" fill="#7d62b4"/>
<circle cx="311.3" cy="215.1" r="1.25" fill="#7d62b4"/>
<circle cx="311.5" cy="218.1" r="1.25" fill="#7d62b4"/>
<circle cx="312.7" cy="221.1" r="1.25" fill="#7d62b4"/>
<circle cx="313.4" cy="213.7" r="1.25" fill="#7d62b4"/>
<circle cx="313.8" cy="213.6" r="1.25" fill="#7d62b4"/>
<circle cx="314.4" cy="215.8" r="1.25" fill="#7d62b4"/>
<circle cx="314.9" cy="216.4" r="1.25" fill="#7d62b4"/>
<circle cx="316.7" cy="218.7" r="1.25" fill="#7d62b4"/>
<circle cx="317.4" cy="215.0" r="1.25" fill="#7d62b4"/>
<circle cx="317.6" cy="217.1" r="1.25" fill="#7d62b4"/>
<circle cx="318.5" cy="213.5" r="1.25" fill="#7d62b4"/>
<circle cx="319.8" cy="220.1" r="1.25" fill="#7d62b4"/>
<circle cx="320.7" cy="213.9" r="1.25" fill="#7d62b4"/>
<circle cx="321.0" cy="212.7" r="1.25" fill="#7d62b4"/>
<circle cx="324.0" cy="209.9" r="1.25" fill="#7d62b4"/>
<circle cx="55.6" cy="258.4" r="1.25" fill="#7d62b4"/>
<circle cx="55.4" cy="237.8" r="1.25" fill="#7d62b4"/>
<circle cx="48.9" cy="237.1" r="1.25" fill="#7d62b4"/>
<circle cx="52.1" cy="227.4" r="1.25" fill="#e0505a"/>
<circle cx="55.7" cy="228.5" r="1.25" fill="#e0505a"/>
<circle cx="57.5" cy="221.5" r="1.25" fill="#e0505a"/>
<circle cx="58.9" cy="225.5" r="1.25" fill="#e0505a"/>
<circle cx="59.6" cy="222.9" r="1.25" fill="#e0505a"/>
<circle cx="59.9" cy="220.6" r="1.25" fill="#e0505a"/>
<circle cx="60.1" cy="226.1" r="1.25" fill="#e0505a"/>
<circle cx="60.1" cy="230.0" r="1.25" fill="#e0505a"/>
<circle cx="62.2" cy="224.6" r="1.25" fill="#e0505a"/>
<circle cx="62.3" cy="222.4" r="1.25" fill="#e0505a"/>
<circle cx="63.2" cy="219.3" r="1.25" fill="#e0505a"/>
<circle cx="64.9" cy="217.0" r="1.25" fill="#e0505a"/>
<circle cx="65.1" cy="216.8" r="1.25" fill="#e0505a"/>
<circle cx="66.1" cy="213.3" r="1.25" fill="#e0505a"/>
<circle cx="66.1" cy="219.5" r="1.25" fill="#e0505a"/>
<circle cx="66.8" cy="208.6" r="1.25" fill="#e0505a"/>
<circle cx="67.1" cy="205.7" r="1.25" fill="#e0505a"/>
<circle cx="68.0" cy="212.0" r="1.25" fill="#e0505a"/>
<circle cx="70.0" cy="210.8" r="1.25" fill="#e0505a"/>
<circle cx="70.1" cy="206.1" r="1.25" fill="#e0505a"/>
<circle cx="71.3" cy="207.5" r="1.25" fill="#e0505a"/>
<circle cx="72.1" cy="208.8" r="1.25" fill="#e0505a"/>
<circle cx="72.5" cy="210.0" r="1.25" fill="#e0505a"/>
<circle cx="73.0" cy="212.0" r="1.25" fill="#e0505a"/>
<circle cx="74.1" cy="212.9" r="1.25" fill="#e0505a"/>
<circle cx="75.0" cy="203.8" r="1.25" fill="#e0505a"/>
<circle cx="75.6" cy="200.8" r="1.25" fill="#e0505a"/>
<circle cx="76.2" cy="210.3" r="1.25" fill="#e0505a"/>
<circle cx="76.9" cy="205.2" r="1.25" fill="#e0505a"/>
<circle cx="77.2" cy="203.6" r="1.25" fill="#e0505a"/>
<circle cx="77.7" cy="206.0" r="1.25" fill="#e0505a"/>
<circle cx="78.4" cy="206.8" r="1.25" fill="#e0505a"/>
<circle cx="78.4" cy="205.1" r="1.25" fill="#e0505a"/>
<circle cx="78.8" cy="211.7" r="1.25" fill="#e0505a"/>
<circle cx="80.9" cy="201.1" r="1.25" fill="#e0505a"/>
<circle cx="81.0" cy="202.0" r="1.25" fill="#e0505a"/>
<circle cx="81.1" cy="191.2" r="1.25" fill="#e0505a"/>
<circle cx="82.5" cy="195.0" r="1.25" fill="#e0505a"/>
<circle cx="82.9" cy="200.3" r="1.25" fill="#e0505a"/>
<circle cx="85.0" cy="196.6" r="1.25" fill="#e0505a"/>
<circle cx="85.5" cy="188.4" r="1.25" fill="#e0505a"/>
<circle cx="86.2" cy="188.1" r="1.25" fill="#e0505a"/>
<circle cx="86.4" cy="194.2" r="1.25" fill="#e0505a"/>
<circle cx="86.4" cy="195.6" r="1.25" fill="#e0505a"/>
<circle cx="88.9" cy="198.8" r="1.25" fill="#e0505a"/>
<circle cx="92.4" cy="190.0" r="1.25" fill="#e0505a"/>
<circle cx="94.1" cy="187.3" r="1.25" fill="#e0505a"/>
<circle cx="94.9" cy="189.0" r="1.25" fill="#e0505a"/>
<circle cx="95.3" cy="177.6" r="1.25" fill="#e0505a"/>
<circle cx="98.2" cy="190.3" r="1.25" fill="#e0505a"/>
<circle cx="100.1" cy="180.2" r="1.25" fill="#e0505a"/>
<circle cx="100.4" cy="177.5" r="1.25" fill="#e0505a"/>
<circle cx="102.3" cy="175.1" r="1.25" fill="#e0505a"/>
<circle cx="102.4" cy="169.4" r="1.25" fill="#e0505a"/>
<circle cx="104.4" cy="180.8" r="1.25" fill="#e0505a"/>
<circle cx="105.1" cy="177.1" r="1.25" fill="#e0505a"/>
<circle cx="106.6" cy="171.4" r="1.25" fill="#e0505a"/>
<circle cx="109.2" cy="168.2" r="1.25" fill="#e0505a"/>
<circle cx="110.2" cy="169.4" r="1.25" fill="#e0505a"/>
<circle cx="110.2" cy="171.0" r="1.25" fill="#e0505a"/>
<circle cx="110.5" cy="162.5" r="1.25" fill="#e0505a"/>
<circle cx="110.8" cy="171.5" r="1.25" fill="#e0505a"/>
<circle cx="111.5" cy="168.6" r="1.25" fill="#e0505a"/>
<circle cx="114.4" cy="156.2" r="1.25" fill="#e0505a"/>
<circle cx="114.7" cy="154.6" r="1.25" fill="#e0505a"/>
<circle cx="115.4" cy="157.6" r="1.25" fill="#e0505a"/>
<circle cx="116.0" cy="164.7" r="1.25" fill="#e0505a"/>
<circle cx="117.4" cy="163.1" r="1.25" fill="#e0505a"/>
<circle cx="118.3" cy="162.3" r="1.25" fill="#e0505a"/>
<circle cx="118.5" cy="163.1" r="1.25" fill="#e0505a"/>
<circle cx="119.2" cy="159.2" r="1.25" fill="#e0505a"/>
<circle cx="122.5" cy="148.3" r="1.25" fill="#e0505a"/>
<circle cx="123.3" cy="152.1" r="1.25" fill="#e0505a"/>
<circle cx="124.1" cy="155.7" r="1.25" fill="#e0505a"/>
<circle cx="124.9" cy="155.0" r="1.25" fill="#e0505a"/>
<circle cx="127.8" cy="154.1" r="1.25" fill="#e0505a"/>
<circle cx="131.5" cy="140.3" r="1.25" fill="#e0505a"/>
<circle cx="132.1" cy="154.2" r="1.25" fill="#e0505a"/>
<circle cx="133.1" cy="143.2" r="1.25" fill="#e0505a"/>
<circle cx="133.1" cy="150.8" r="1.25" fill="#e0505a"/>
<circle cx="133.6" cy="148.7" r="1.25" fill="#e0505a"/>
<circle cx="133.7" cy="150.6" r="1.25" fill="#e0505a"/>
<circle cx="134.5" cy="139.1" r="1.25" fill="#e0505a"/>
<circle cx="136.8" cy="142.1" r="1.25" fill="#e0505a"/>
<circle cx="144.0" cy="125.5" r="1.25" fill="#e0505a"/>
<circle cx="147.6" cy="141.0" r="1.25" fill="#e0505a"/>
<circle cx="147.9" cy="141.2" r="1.25" fill="#e0505a"/>
<circle cx="148.0" cy="133.7" r="1.25" fill="#e0505a"/>
<circle cx="150.0" cy="133.3" r="1.25" fill="#e0505a"/>
<circle cx="150.5" cy="137.0" r="1.25" fill="#e0505a"/>
<circle cx="155.2" cy="144.2" r="1.25" fill="#e0505a"/>
<circle cx="156.2" cy="128.7" r="1.25" fill="#e0505a"/>
<circle cx="157.4" cy="132.6" r="1.25" fill="#e0505a"/>
<circle cx="158.7" cy="133.4" r="1.25" fill="#e0505a"/>
<circle cx="159.7" cy="137.9" r="1.25" fill="#e0505a"/>
<circle cx="160.0" cy="132.4" r="1.25" fill="#e0505a"/>
<circle cx="161.0" cy="137.9" r="1.25" fill="#e0505a"/>
<circle cx="166.6" cy="136.1" r="1.25" fill="#e0505a"/>
<circle cx="169.2" cy="137.9" r="1.25" fill="#e0505a"/>
<circle cx="170.5" cy="131.9" r="1.25" fill="#e0505a"/>
<circle cx="170.8" cy="139.6" r="1.25" fill="#e0505a"/>
<circle cx="174.7" cy="140.6" r="1.25" fill="#e0505a"/>
<circle cx="176.0" cy="134.8" r="1.25" fill="#e0505a"/>
<circle cx="177.4" cy="139.5" r="1.25" fill="#e0505a"/>
<circle cx="179.6" cy="141.8" r="1.25" fill="#e0505a"/>
<circle cx="179.7" cy="142.8" r="1.25" fill="#e0505a"/>
<circle cx="187.5" cy="142.8" r="1.25" fill="#e0505a"/>
<circle cx="188.1" cy="150.5" r="1.25" fill="#e0505a"/>
<circle cx="193.9" cy="150.3" r="1.25" fill="#e0505a"/>
<circle cx="198.3" cy="147.5" r="1.25" fill="#e0505a"/>
<circle cx="198.8" cy="155.1" r="1.25" fill="#e0505a"/>
<circle cx="200.9" cy="162.5" r="1.25" fill="#e0505a"/>
<circle cx="203.0" cy="166.3" r="1.25" fill="#e0505a"/>
<circle cx="203.2" cy="160.5" r="1.25" fill="#e0505a"/>
<circle cx="204.5" cy="167.9" r="1.25" fill="#e0505a"/>
<circle cx="206.0" cy="171.0" r="1.25" fill="#e0505a"/>
<circle cx="206.1" cy="167.4" r="1.25" fill="#e0505a"/>
<circle cx="206.9" cy="169.7" r="1.25" fill="#e0505a"/>
<circle cx="207.8" cy="161.8" r="1.25" fill="#e0505a"/>
<circle cx="209.5" cy="173.7" r="1.25" fill="#e0505a"/>
<circle cx="212.0" cy="162.6" r="1.25" fill="#e0505a"/>
<circle cx="215.5" cy="176.1" r="1.25" fill="#e0505a"/>
<circle cx="216.3" cy="172.9" r="1.25" fill="#e0505a"/>
<circle cx="216.7" cy="170.9" r="1.25" fill="#e0505a"/>
<circle cx="218.0" cy="174.0" r="1.25" fill="#e0505a"/>
<circle cx="218.2" cy="172.0" r="1.25" fill="#e0505a"/>
<circle cx="219.2" cy="180.5" r="1.25" fill="#e0505a"/>
<circle cx="220.6" cy="187.5" r="1.25" fill="#e0505a"/>
<circle cx="220.8" cy="178.4" r="1.25" fill="#e0505a"/>
<circle cx="222.3" cy="186.3" r="1.25" fill="#e0505a"/>
<circle cx="223.2" cy="182.3" r="1.25" fill="#e0505a"/>
<circle cx="223.2" cy="175.5" r="1.25" fill="#e0505a"/>
<circle cx="223.5" cy="180.8" r="1.25" fill="#e0505a"/>
<circle cx="224.2" cy="183.2" r="1.25" fill="#e0505a"/>
<circle cx="227.3" cy="188.3" r="1.25" fill="#e0505a"/>
<circle cx="233.2" cy="189.6" r="1.25" fill="#e0505a"/>
<circle cx="233.2" cy="189.1" r="1.25" fill="#e0505a"/>
<circle cx="234.3" cy="196.2" r="1.25" fill="#e0505a"/>
<circle cx="238.8" cy="191.5" r="1.25" fill="#e0505a"/>
<circle cx="241.3" cy="199.5" r="1.25" fill="#e0505a"/>
<circle cx="242.9" cy="194.9" r="1.25" fill="#e0505a"/>
<circle cx="247.5" cy="201.1" r="1.25" fill="#e0505a"/>
<circle cx="249.8" cy="196.1" r="1.25" fill="#e0505a"/>
<circle cx="250.4" cy="197.1" r="1.25" fill="#e0505a"/>
<circle cx="251.2" cy="201.3" r="1.25" fill="#e0505a"/>
<circle cx="251.9" cy="202.2" r="1.25" fill="#e0505a"/>
<circle cx="253.1" cy="200.5" r="1.25" fill="#e0505a"/>
<circle cx="254.8" cy="197.2" r="1.25" fill="#e0505a"/>
<circle cx="255.7" cy="199.1" r="1.25" fill="#e0505a"/>
<circle cx="259.5" cy="205.0" r="1.25" fill="#e0505a"/>
<circle cx="260.7" cy="204.8" r="1.25" fill="#e0505a"/>
<circle cx="261.3" cy="199.5" r="1.25" fill="#e0505a"/>
<circle cx="261.5" cy="213.8" r="1.25" fill="#e0505a"/>
<circle cx="264.0" cy="205.2" r="1.25" fill="#e0505a"/>
<circle cx="266.6" cy="212.7" r="1.25" fill="#e0505a"/>
<circle cx="268.0" cy="203.2" r="1.25" fill="#e0505a"/>
<circle cx="268.2" cy="211.4" r="1.25" fill="#e0505a"/>
<circle cx="268.9" cy="210.0" r="1.25" fill="#e0505a"/>
<circle cx="272.7" cy="215.6" r="1.25" fill="#e0505a"/>
<circle cx="274.2" cy="211.1" r="1.25" fill="#e0505a"/>
<circle cx="276.1" cy="208.1" r="1.25" fill="#e0505a"/>
<circle cx="277.3" cy="204.5" r="1.25" fill="#e0505a"/>
<circle cx="278.8" cy="217.8" r="1.25" fill="#e0505a"/>
<circle cx="278.8" cy="214.2" r="1.25" fill="#e0505a"/>
<circle cx="278.9" cy="194.8" r="1.25" fill="#e0505a"/>
<circle cx="279.4" cy="208.1" r="1.25" fill="#e0505a"/>
<circle cx="279.7" cy="212.3" r="1.25" fill="#e0505a"/>
<circle cx="280.4" cy="210.1" r="1.25" fill="#e0505a"/>
<circle cx="281.1" cy="224.4" r="1.25" fill="#e0505a"/>
<circle cx="285.2" cy="205.9" r="1.25" fill="#e0505a"/>
<circle cx="287.4" cy="212.5" r="1.25" fill="#e0505a"/>
<circle cx="287.5" cy="219.6" r="1.25" fill="#e0505a"/>
<circle cx="289.6" cy="208.2" r="1.25" fill="#e0505a"/>
<circle cx="292.2" cy="216.3" r="1.25" fill="#e0505a"/>
<circle cx="296.4" cy="218.2" r="1.25" fill="#e0505a"/>
<circle cx="297.3" cy="211.3" r="1.25" fill="#e0505a"/>
<circle cx="299.8" cy="211.9" r="1.25" fill="#e0505a"/>
<circle cx="301.2" cy="215.7" r="1.25" fill="#e0505a"/>
<circle cx="306.2" cy="214.1" r="1.25" fill="#e0505a"/>
<circle cx="307.1" cy="219.8" r="1.25" fill="#e0505a"/>
<circle cx="307.8" cy="220.2" r="1.25" fill="#e0505a"/>
<circle cx="308.0" cy="209.8" r="1.25" fill="#e0505a"/>
<circle cx="309.9" cy="208.0" r="1.25" fill="#e0505a"/>
<circle cx="311.5" cy="212.0" r="1.25" fill="#e0505a"/>
<circle cx="312.8" cy="212.3" r="1.25" fill="#e0505a"/>
<circle cx="313.7" cy="215.8" r="1.25" fill="#e0505a"/>
<circle cx="314.7" cy="214.6" r="1.25" fill="#e0505a"/>
<circle cx="315.5" cy="218.3" r="1.25" fill="#e0505a"/>
<circle cx="316.5" cy="206.4" r="1.25" fill="#e0505a"/>
<circle cx="318.5" cy="216.8" r="1.25" fill="#e0505a"/>
<circle cx="319.2" cy="212.5" r="1.25" fill="#e0505a"/>
<circle cx="319.3" cy="214.4" r="1.25" fill="#e0505a"/>
<circle cx="319.6" cy="220.6" r="1.25" fill="#e0505a"/>
<circle cx="320.2" cy="205.8" r="1.25" fill="#e0505a"/>
<circle cx="320.5" cy="216.1" r="1.25" fill="#e0505a"/>
<circle cx="320.8" cy="217.9" r="1.25" fill="#e0505a"/>
<circle cx="321.5" cy="214.0" r="1.25" fill="#e0505a"/>
<circle cx="323.0" cy="218.6" r="1.25" fill="#e0505a"/>
<circle cx="323.3" cy="214.5" r="1.25" fill="#e0505a"/>
<circle cx="324.9" cy="219.0" r="1.25" fill="#e0505a"/>
<circle cx="49.3" cy="249.2" r="1.25" fill="#e0505a"/>
<circle cx="55.4" cy="257.1" r="1.25" fill="#e0505a"/>
<circle cx="55.3" cy="237.4" r="1.25" fill="#e0505a"/>
<circle cx="51.8" cy="231.7" r="1.25" fill="#6ab8ea"/>
<circle cx="52.2" cy="231.1" r="1.25" fill="#6ab8ea"/>
<circle cx="52.4" cy="231.6" r="1.25" fill="#6ab8ea"/>
<circle cx="52.7" cy="231.1" r="1.25" fill="#6ab8ea"/>
<circle cx="55.0" cy="235.2" r="1.25" fill="#6ab8ea"/>
<circle cx="57.5" cy="229.6" r="1.25" fill="#6ab8ea"/>
<circle cx="58.0" cy="227.6" r="1.25" fill="#6ab8ea"/>
<circle cx="59.8" cy="230.7" r="1.25" fill="#6ab8ea"/>
<circle cx="60.8" cy="231.8" r="1.25" fill="#6ab8ea"/>
<circle cx="61.3" cy="218.9" r="1.25" fill="#6ab8ea"/>
<circle cx="61.8" cy="224.1" r="1.25" fill="#6ab8ea"/>
<circle cx="62.3" cy="227.9" r="1.25" fill="#6ab8ea"/>
<circle cx="63.2" cy="228.2" r="1.25" fill="#6ab8ea"/>
<circle cx="63.9" cy="237.3" r="1.25" fill="#6ab8ea"/>
<circle cx="64.1" cy="231.7" r="1.25" fill="#6ab8ea"/>
<circle cx="64.5" cy="226.3" r="1.25" fill="#6ab8ea"/>
<circle cx="65.0" cy="219.1" r="1.25" fill="#6ab8ea"/>
<circle cx="68.7" cy="231.6" r="1.25" fill="#6ab8ea"/>
<circle cx="70.3" cy="224.4" r="1.25" fill="#6ab8ea"/>
<circle cx="71.1" cy="212.2" r="1.25" fill="#6ab8ea"/>
<circle cx="71.3" cy="217.6" r="1.25" fill="#6ab8ea"/>
<circle cx="72.3" cy="218.0" r="1.25" fill="#6ab8ea"/>
<circle cx="72.4" cy="214.5" r="1.25" fill="#6ab8ea"/>
<circle cx="74.3" cy="218.9" r="1.25" fill="#6ab8ea"/>
<circle cx="75.6" cy="218.1" r="1.25" fill="#6ab8ea"/>
<circle cx="83.4" cy="207.0" r="1.25" fill="#6ab8ea"/>
<circle cx="84.7" cy="205.1" r="1.25" fill="#6ab8ea"/>
<circle cx="86.7" cy="211.4" r="1.25" fill="#6ab8ea"/>
<circle cx="88.5" cy="197.8" r="1.25" fill="#6ab8ea"/>
<circle cx="90.4" cy="210.0" r="1.25" fill="#6ab8ea"/>
<circle cx="90.4" cy="205.3" r="1.25" fill="#6ab8ea"/>
<circle cx="94.2" cy="183.6" r="1.25" fill="#6ab8ea"/>
<circle cx="94.8" cy="198.6" r="1.25" fill="#6ab8ea"/>
<circle cx="96.2" cy="191.3" r="1.25" fill="#6ab8ea"/>
<circle cx="97.9" cy="196.1" r="1.25" fill="#6ab8ea"/>
<circle cx="98.0" cy="193.0" r="1.25" fill="#6ab8ea"/>
<circle cx="99.9" cy="191.6" r="1.25" fill="#6ab8ea"/>
<circle cx="108.0" cy="175.4" r="1.25" fill="#6ab8ea"/>
<circle cx="109.4" cy="167.9" r="1.25" fill="#6ab8ea"/>
<circle cx="109.6" cy="162.5" r="1.25" fill="#6ab8ea"/>
<circle cx="110.1" cy="165.5" r="1.25" fill="#6ab8ea"/>
<circle cx="110.9" cy="160.7" r="1.25" fill="#6ab8ea"/>
<circle cx="111.9" cy="167.9" r="1.25" fill="#6ab8ea"/>
<circle cx="114.7" cy="153.3" r="1.25" fill="#6ab8ea"/>
<circle cx="117.9" cy="150.7" r="1.25" fill="#6ab8ea"/>
<circle cx="118.7" cy="145.4" r="1.25" fill="#6ab8ea"/>
<circle cx="118.8" cy="153.1" r="1.25" fill="#6ab8ea"/>
<circle cx="118.8" cy="152.2" r="1.25" fill="#6ab8ea"/>
<circle cx="120.3" cy="142.1" r="1.25" fill="#6ab8ea"/>
<circle cx="120.4" cy="145.4" r="1.25" fill="#6ab8ea"/>
<circle cx="120.5" cy="147.3" r="1.25" fill="#6ab8ea"/>
<circle cx="120.9" cy="150.0" r="1.25" fill="#6ab8ea"/>
<circle cx="121.3" cy="146.6" r="1.25" fill="#6ab8ea"/>
<circle cx="121.5" cy="143.7" r="1.25" fill="#6ab8ea"/>
<circle cx="122.7" cy="140.3" r="1.25" fill="#6ab8ea"/>
<circle cx="123.2" cy="145.0" r="1.25" fill="#6ab8ea"/>
<circle cx="123.9" cy="142.6" r="1.25" fill="#6ab8ea"/>
<circle cx="124.1" cy="138.9" r="1.25" fill="#6ab8ea"/>
<circle cx="126.3" cy="141.5" r="1.25" fill="#6ab8ea"/>
<circle cx="126.7" cy="131.8" r="1.25" fill="#6ab8ea"/>
<circle cx="129.8" cy="131.0" r="1.25" fill="#6ab8ea"/>
<circle cx="130.4" cy="130.7" r="1.25" fill="#6ab8ea"/>
<circle cx="130.8" cy="140.3" r="1.25" fill="#6ab8ea"/>
<circle cx="131.3" cy="135.9" r="1.25" fill="#6ab8ea"/>
<circle cx="132.1" cy="132.5" r="1.25" fill="#6ab8ea"/>
<circle cx="132.3" cy="130.3" r="1.25" fill="#6ab8ea"/>
<circle cx="136.2" cy="128.0" r="1.25" fill="#6ab8ea"/>
<circle cx="138.6" cy="119.2" r="1.25" fill="#6ab8ea"/>
<circle cx="140.0" cy="119.1" r="1.25" fill="#6ab8ea"/>
<circle cx="140.5" cy="120.4" r="1.25" fill="#6ab8ea"/>
<circle cx="142.4" cy="126.7" r="1.25" fill="#6ab8ea"/>
<circle cx="145.3" cy="109.4" r="1.25" fill="#6ab8ea"/>
<circle cx="147.2" cy="115.6" r="1.25" fill="#6ab8ea"/>
<circle cx="147.5" cy="111.6" r="1.25" fill="#6ab8ea"/>
<circle cx="148.7" cy="116.6" r="1.25" fill="#6ab8ea"/>
<circle cx="149.8" cy="113.1" r="1.25" fill="#6ab8ea"/>
<circle cx="150.5" cy="109.7" r="1.25" fill="#6ab8ea"/>
<circle cx="151.1" cy="111.5" r="1.25" fill="#6ab8ea"/>
<circle cx="151.1" cy="108.2" r="1.25" fill="#6ab8ea"/>
<circle cx="151.1" cy="113.3" r="1.25" fill="#6ab8ea"/>
<circle cx="152.6" cy="103.2" r="1.25" fill="#6ab8ea"/>
<circle cx="152.9" cy="120.3" r="1.25" fill="#6ab8ea"/>
<circle cx="154.1" cy="114.1" r="1.25" fill="#6ab8ea"/>
<circle cx="155.8" cy="107.0" r="1.25" fill="#6ab8ea"/>
<circle cx="158.6" cy="112.3" r="1.25" fill="#6ab8ea"/>
<circle cx="160.0" cy="113.2" r="1.25" fill="#6ab8ea"/>
<circle cx="160.2" cy="119.2" r="1.25" fill="#6ab8ea"/>
<circle cx="160.6" cy="106.0" r="1.25" fill="#6ab8ea"/>
<circle cx="162.4" cy="120.1" r="1.25" fill="#6ab8ea"/>
<circle cx="166.1" cy="110.8" r="1.25" fill="#6ab8ea"/>
<circle cx="166.2" cy="112.2" r="1.25" fill="#6ab8ea"/>
<circle cx="166.4" cy="109.3" r="1.25" fill="#6ab8ea"/>
<circle cx="166.5" cy="106.8" r="1.25" fill="#6ab8ea"/>
<circle cx="168.8" cy="117.7" r="1.25" fill="#6ab8ea"/>
<circle cx="169.9" cy="118.9" r="1.25" fill="#6ab8ea"/>
<circle cx="170.8" cy="117.3" r="1.25" fill="#6ab8ea"/>
<circle cx="172.0" cy="124.5" r="1.25" fill="#6ab8ea"/>
<circle cx="174.6" cy="115.3" r="1.25" fill="#6ab8ea"/>
<circle cx="174.8" cy="120.9" r="1.25" fill="#6ab8ea"/>
<circle cx="175.3" cy="119.0" r="1.25" fill="#6ab8ea"/>
<circle cx="180.7" cy="129.8" r="1.25" fill="#6ab8ea"/>
<circle cx="185.9" cy="130.4" r="1.25" fill="#6ab8ea"/>
<circle cx="185.9" cy="133.3" r="1.25" fill="#6ab8ea"/>
<circle cx="188.3" cy="133.7" r="1.25" fill="#6ab8ea"/>
<circle cx="188.4" cy="138.4" r="1.25" fill="#6ab8ea"/>
<circle cx="192.5" cy="134.1" r="1.25" fill="#6ab8ea"/>
<circle cx="193.6" cy="143.0" r="1.25" fill="#6ab8ea"/>
<circle cx="193.7" cy="151.6" r="1.25" fill="#6ab8ea"/>
<circle cx="196.7" cy="141.5" r="1.25" fill="#6ab8ea"/>
<circle cx="199.4" cy="149.5" r="1.25" fill="#6ab8ea"/>
<circle cx="200.1" cy="153.0" r="1.25" fill="#6ab8ea"/>
<circle cx="202.5" cy="141.6" r="1.25" fill="#6ab8ea"/>
<circle cx="202.6" cy="153.0" r="1.25" fill="#6ab8ea"/>
<circle cx="203.8" cy="160.5" r="1.25" fill="#6ab8ea"/>
<circle cx="207.3" cy="162.4" r="1.25" fill="#6ab8ea"/>
<circle cx="209.7" cy="161.6" r="1.25" fill="#6ab8ea"/>
<circle cx="212.7" cy="168.6" r="1.25" fill="#6ab8ea"/>
<circle cx="214.3" cy="164.3" r="1.25" fill="#6ab8ea"/>
<circle cx="217.8" cy="169.9" r="1.25" fill="#6ab8ea"/>
<circle cx="220.3" cy="181.2" r="1.25" fill="#6ab8ea"/>
<circle cx="221.2" cy="178.7" r="1.25" fill="#6ab8ea"/>
<circle cx="222.2" cy="177.1" r="1.25" fill="#6ab8ea"/>
<circle cx="226.9" cy="186.8" r="1.25" fill="#6ab8ea"/>
<circle cx="229.1" cy="189.0" r="1.25" fill="#6ab8ea"/>
<circle cx="229.3" cy="183.3" r="1.25" fill="#6ab8ea"/>
<circle cx="230.9" cy="186.5" r="1.25" fill="#6ab8ea"/>
<circle cx="231.1" cy="194.9" r="1.25" fill="#6ab8ea"/>
<circle cx="231.2" cy="191.2" r="1.25" fill="#6ab8ea"/>
<circle cx="233.5" cy="192.3" r="1.25" fill="#6ab8ea"/>
<circle cx="234.7" cy="191.9" r="1.25" fill="#6ab8ea"/>
<circle cx="236.0" cy="195.4" r="1.25" fill="#6ab8ea"/>
<circle cx="236.5" cy="186.6" r="1.25" fill="#6ab8ea"/>
<circle cx="237.1" cy="197.2" r="1.25" fill="#6ab8ea"/>
<circle cx="237.6" cy="198.0" r="1.25" fill="#6ab8ea"/>
<circle cx="242.6" cy="195.4" r="1.25" fill="#6ab8ea"/>
<circle cx="244.4" cy="207.3" r="1.25" fill="#6ab8ea"/>
<circle cx="244.7" cy="202.1" r="1.25" fill="#6ab8ea"/>
<circle cx="245.5" cy="195.2" r="1.25" fill="#6ab8ea"/>
<circle cx="246.0" cy="204.2" r="1.25" fill="#6ab8ea"/>
<circle cx="246.0" cy="202.0" r="1.25" fill="#6ab8ea"/>
<circle cx="246.1" cy="193.5" r="1.25" fill="#6ab8ea"/>
<circle cx="246.4" cy="196.5" r="1.25" fill="#6ab8ea"/>
<circle cx="247.1" cy="198.6" r="1.25" fill="#6ab8ea"/>
<circle cx="247.6" cy="198.1" r="1.25" fill="#6ab8ea"/>
<circle cx="247.8" cy="202.3" r="1.25" fill="#6ab8ea"/>
<circle cx="249.3" cy="198.8" r="1.25" fill="#6ab8ea"/>
<circle cx="250.0" cy="201.5" r="1.25" fill="#6ab8ea"/>
<circle cx="254.5" cy="192.2" r="1.25" fill="#6ab8ea"/>
<circle cx="255.5" cy="201.4" r="1.25" fill="#6ab8ea"/>
<circle cx="256.5" cy="206.0" r="1.25" fill="#6ab8ea"/>
<circle cx="257.5" cy="205.3" r="1.25" fill="#6ab8ea"/>
<circle cx="259.8" cy="206.1" r="1.25" fill="#6ab8ea"/>
<circle cx="260.6" cy="212.9" r="1.25" fill="#6ab8ea"/>
<circle cx="261.9" cy="211.1" r="1.25" fill="#6ab8ea"/>
<circle cx="263.9" cy="201.8" r="1.25" fill="#6ab8ea"/>
<circle cx="264.0" cy="214.8" r="1.25" fill="#6ab8ea"/>
<circle cx="264.1" cy="211.2" r="1.25" fill="#6ab8ea"/>
<circle cx="264.6" cy="204.4" r="1.25" fill="#6ab8ea"/>
<circle cx="267.3" cy="203.6" r="1.25" fill="#6ab8ea"/>
<circle cx="269.3" cy="215.8" r="1.25" fill="#6ab8ea"/>
<circle cx="272.4" cy="206.2" r="1.25" fill="#6ab8ea"/>
<circle cx="272.5" cy="214.4" r="1.25" fill="#6ab8ea"/>
<circle cx="274.0" cy="206.0" r="1.25" fill="#6ab8ea"/>
<circle cx="275.3" cy="211.7" r="1.25" fill="#6ab8ea"/>
<circle cx="277.4" cy="216.0" r="1.25" fill="#6ab8ea"/>
<circle cx="281.6" cy="212.9" r="1.25" fill="#6ab8ea"/>
<circle cx="282.3" cy="213.9" r="1.25" fill="#6ab8ea"/>
<circle cx="282.5" cy="219.8" r="1.25" fill="#6ab8ea"/>
<circle cx="285.4" cy="207.7" r="1.25" fill="#6ab8ea"/>
<circle cx="287.1" cy="219.2" r="1.25" fill="#6ab8ea"/>
<circle cx="287.1" cy="212.5" r="1.25" fill="#6ab8ea"/>
<circle cx="287.5" cy="219.9" r="1.25" fill="#6ab8ea"/>
<circle cx="288.3" cy="226.1" r="1.25" fill="#6ab8ea"/>
<circle cx="291.9" cy="223.8" r="1.25" fill="#6ab8ea"/>
<circle cx="292.1" cy="219.3" r="1.25" fill="#6ab8ea"/>
<circle cx="294.8" cy="216.4" r="1.25" fill="#6ab8ea"/>
<circle cx="296.6" cy="212.0" r="1.25" fill="#6ab8ea"/>
<circle cx="300.5" cy="220.3" r="1.25" fill="#6ab8ea"/>
<circle cx="301.3" cy="222.1" r="1.25" fill="#6ab8ea"/>
<circle cx="302.6" cy="226.6" r="1.25" fill="#6ab8ea"/>
<circle cx="307.9" cy="222.7" r="1.25" fill="#6ab8ea"/>
<circle cx="309.6" cy="221.6" r="1.25" fill="#6ab8ea"/>
<circle cx="313.6" cy="234.1" r="1.25" fill="#6ab8ea"/>
<circle cx="314.5" cy="218.9" r="1.25" fill="#6ab8ea"/>
<circle cx="314.6" cy="219.6" r="1.25" fill="#6ab8ea"/>
<circle cx="314.8" cy="214.6" r="1.25" fill="#6ab8ea"/>
<circle cx="316.6" cy="229.5" r="1.25" fill="#6ab8ea"/>
<circle cx="316.8" cy="225.4" r="1.25" fill="#6ab8ea"/>
<circle cx="317.5" cy="225.8" r="1.25" fill="#6ab8ea"/>
<circle cx="317.8" cy="231.9" r="1.25" fill="#6ab8ea"/>
<circle cx="318.1" cy="229.9" r="1.25" fill="#6ab8ea"/>
<circle cx="318.2" cy="230.6" r="1.25" fill="#6ab8ea"/>
<circle cx="319.1" cy="224.3" r="1.25" fill="#6ab8ea"/>
<circle cx="319.3" cy="224.7" r="1.25" fill="#6ab8ea"/>
<circle cx="321.0" cy="221.4" r="1.25" fill="#6ab8ea"/>
<circle cx="321.3" cy="229.4" r="1.25" fill="#6ab8ea"/>
<circle cx="322.6" cy="234.4" r="1.25" fill="#6ab8ea"/>
<circle cx="323.3" cy="226.6" r="1.25" fill="#6ab8ea"/>
<circle cx="324.1" cy="227.3" r="1.25" fill="#6ab8ea"/>
<circle cx="324.7" cy="226.2" r="1.25" fill="#6ab8ea"/>
<circle cx="53.8" cy="241.4" r="1.25" fill="#6ab8ea"/>
<circle cx="54.9" cy="250.8" r="1.25" fill="#6ab8ea"/>
<circle cx="49.1" cy="242.4" r="1.25" fill="#6ab8ea"/>
<path d="M48.90 220.26 L50.64 218.72 L52.38 217.18 L54.12 215.65 L55.85 214.12 L57.59 212.59 L59.33 211.06 L61.07 209.54 L62.81 208.02 L64.55 206.50 L66.28 205.00 L68.02 203.49 L69.76 201.99 L71.50 200.49 L73.24 198.99 L74.98 197.48 L76.71 195.96 L78.45 194.44 L80.19 192.90 L81.93 191.35 L83.67 189.78 L85.41 188.20 L87.14 186.61 L88.88 185.02 L90.62 183.44 L92.36 181.88 L94.10 180.36 L95.84 178.87 L97.57 177.43 L99.31 176.05 L101.05 174.74 L102.79 173.50 L104.53 172.33 L106.27 171.22 L108.00 170.17 L109.74 169.18 L111.48 168.25 L113.22 167.36 L114.96 166.52 L116.70 165.72 L118.43 164.95 L120.17 164.23 L121.91 163.54 L123.65 162.90 L125.39 162.31 L127.13 161.78 L128.86 161.31 L130.60 160.92 L132.34 160.60 L134.08 160.36 L135.82 160.22 L137.56 160.17 L139.29 160.20 L141.03 160.30 L142.77 160.46 L144.51 160.68 L146.25 160.92 L147.99 161.21 L149.73 161.53 L151.46 161.89 L153.20 162.29 L154.94 162.75 L156.68 163.27 L158.42 163.85 L160.16 164.49 L161.89 165.20 L163.63 165.96 L165.37 166.77 L167.11 167.64 L168.85 168.55 L170.59 169.50 L172.32 170.49 L174.06 171.52 L175.80 172.57 L177.54 173.66 L179.28 174.78 L181.02 175.92 L182.75 177.10 L184.49 178.32 L186.23 179.57 L187.97 180.86 L189.71 182.18 L191.45 183.55 L193.18 184.95 L194.92 186.40 L196.66 187.86 L198.40 189.34 L200.14 190.81 L201.88 192.26 L203.61 193.68 L205.35 195.04 L207.09 196.34 L208.83 197.57 L210.57 198.72 L212.31 199.82 L214.04 200.86 L215.78 201.85 L217.52 202.79 L219.26 203.69 L221.00 204.55 L222.74 205.38 L224.47 206.18 L226.21 206.97 L227.95 207.74 L229.69 208.49 L231.43 209.23 L233.17 209.96 L234.91 210.67 L236.64 211.36 L238.38 212.04 L240.12 212.69 L241.86 213.33 L243.60 213.95 L245.34 214.54 L247.07 215.11 L248.81 215.66 L250.55 216.18 L252.29 216.67 L254.03 217.14 L255.77 217.57 L257.50 217.98 L259.24 218.36 L260.98 218.70 L262.72 219.00 L264.46 219.28 L266.20 219.53 L267.93 219.74 L269.67 219.94 L271.41 220.11 L273.15 220.26 L274.89 220.40 L276.63 220.52 L278.36 220.63 L280.10 220.73 L281.84 220.82 L283.58 220.91 L285.32 220.99 L287.06 221.06 L288.79 221.13 L290.53 221.19 L292.27 221.24 L294.01 221.29 L295.75 221.33 L297.49 221.37 L299.22 221.40 L300.96 221.43 L302.70 221.45 L304.44 221.47 L306.18 221.49 L307.92 221.50 L309.65 221.51 L311.39 221.52 L313.13 221.52 L314.87 221.53 L316.61 221.53 L318.35 221.53 L320.08 221.52 L321.82 221.52 L323.56 221.52 L325.30 221.52" fill="none" stroke="#8c8c8c" stroke-width="1.25"/>
<path d="M48.90 229.84 L50.64 228.00 L52.38 226.18 L54.12 224.35 L55.85 222.53 L57.59 220.71 L59.33 218.90 L61.07 217.11 L62.81 215.32 L64.55 213.54 L66.28 211.78 L68.02 210.04 L69.76 208.30 L71.50 206.57 L73.24 204.84 L74.98 203.10 L76.71 201.36 L78.45 199.61 L80.19 197.84 L81.93 196.05 L83.67 194.24 L85.41 192.40 L87.14 190.54 L88.88 188.66 L90.62 186.76 L92.36 184.84 L94.10 182.90 L95.84 180.96 L97.57 179.00 L99.31 177.03 L101.05 175.05 L102.79 173.08 L104.53 171.10 L106.27 169.14 L108.00 167.20 L109.74 165.29 L111.48 163.41 L113.22 161.57 L114.96 159.79 L116.70 158.06 L118.43 156.39 L120.17 154.80 L121.91 153.28 L123.65 151.85 L125.39 150.49 L127.13 149.22 L128.86 148.05 L130.60 146.96 L132.34 145.98 L134.08 145.09 L135.82 144.32 L137.56 143.64 L139.29 143.07 L141.03 142.60 L142.77 142.22 L144.51 141.92 L146.25 141.70 L147.99 141.56 L149.73 141.49 L151.46 141.49 L153.20 141.56 L154.94 141.69 L156.68 141.88 L158.42 142.13 L160.16 142.44 L161.89 142.81 L163.63 143.24 L165.37 143.73 L167.11 144.27 L168.85 144.88 L170.59 145.55 L172.32 146.28 L174.06 147.07 L175.80 147.92 L177.54 148.84 L179.28 149.82 L181.02 150.88 L182.75 152.02 L184.49 153.23 L186.23 154.54 L187.97 155.93 L189.71 157.41 L191.45 158.99 L193.18 160.67 L194.92 162.45 L196.66 164.31 L198.40 166.22 L200.14 168.16 L201.88 170.10 L203.61 172.03 L205.35 173.92 L207.09 175.74 L208.83 177.48 L210.57 179.12 L212.31 180.69 L214.04 182.19 L215.78 183.65 L217.52 185.06 L219.26 186.45 L221.00 187.83 L222.74 189.21 L224.47 190.61 L226.21 192.04 L227.95 193.50 L229.69 194.99 L231.43 196.49 L233.17 198.00 L234.91 199.51 L236.64 201.00 L238.38 202.46 L240.12 203.88 L241.86 205.26 L243.60 206.58 L245.34 207.83 L247.07 209.01 L248.81 210.11 L250.55 211.15 L252.29 212.12 L254.03 213.02 L255.77 213.85 L257.50 214.62 L259.24 215.33 L260.98 215.97 L262.72 216.55 L264.46 217.08 L266.20 217.55 L267.93 217.98 L269.67 218.35 L271.41 218.69 L273.15 218.99 L274.89 219.26 L276.63 219.50 L278.36 219.72 L280.10 219.92 L281.84 220.09 L283.58 220.26 L285.32 220.40 L287.06 220.54 L288.79 220.66 L290.53 220.77 L292.27 220.87 L294.01 220.96 L295.75 221.05 L297.49 221.13 L299.22 221.20 L300.96 221.27 L302.70 221.34 L304.44 221.40 L306.18 221.46 L307.92 221.51 L309.65 221.57 L311.39 221.62 L313.13 221.67 L314.87 221.71 L316.61 221.76 L318.35 221.80 L320.08 221.84 L321.82 221.88 L323.56 221.92 L325.30 221.96" fill="none" stroke="#e9b12a" stroke-width="1.25"/>
<path d="M48.90 233.35 L50.64 231.74 L52.38 230.13 L54.12 228.52 L55.85 226.90 L57.59 225.27 L59.33 223.64 L61.07 222.00 L62.81 220.34 L64.55 218.68 L66.28 216.99 L68.02 215.30 L69.76 213.59 L71.50 211.87 L73.24 210.14 L74.98 208.40 L76.71 206.65 L78.45 204.91 L80.19 203.15 L81.93 201.40 L83.67 199.65 L85.41 197.90 L87.14 196.15 L88.88 194.41 L90.62 192.66 L92.36 190.90 L94.10 189.14 L95.84 187.38 L97.57 185.61 L99.31 183.83 L101.05 182.05 L102.79 180.25 L104.53 178.46 L106.27 176.67 L108.00 174.91 L109.74 173.17 L111.48 171.47 L113.22 169.82 L114.96 168.22 L116.70 166.68 L118.43 165.21 L120.17 163.83 L121.91 162.52 L123.65 161.29 L125.39 160.14 L127.13 159.06 L128.86 158.06 L130.60 157.13 L132.34 156.28 L134.08 155.50 L135.82 154.79 L137.56 154.16 L139.29 153.59 L141.03 153.10 L142.77 152.68 L144.51 152.34 L146.25 152.08 L147.99 151.89 L149.73 151.77 L151.46 151.72 L153.20 151.72 L154.94 151.78 L156.68 151.88 L158.42 152.02 L160.16 152.19 L161.89 152.41 L163.63 152.67 L165.37 152.97 L167.11 153.33 L168.85 153.74 L170.59 154.21 L172.32 154.74 L174.06 155.34 L175.80 156.01 L177.54 156.75 L179.28 157.54 L181.02 158.39 L182.75 159.29 L184.49 160.23 L186.23 161.19 L187.97 162.18 L189.71 163.18 L191.45 164.19 L193.18 165.20 L194.92 166.20 L196.66 167.19 L198.40 168.18 L200.14 169.17 L201.88 170.16 L203.61 171.15 L205.35 172.14 L207.09 173.13 L208.83 174.13 L210.57 175.13 L212.31 176.14 L214.04 177.16 L215.78 178.19 L217.52 179.22 L219.26 180.26 L221.00 181.32 L222.74 182.38 L224.47 183.45 L226.21 184.54 L227.95 185.64 L229.69 186.74 L231.43 187.84 L233.17 188.94 L234.91 190.04 L236.64 191.12 L238.38 192.18 L240.12 193.23 L241.86 194.25 L243.60 195.24 L245.34 196.20 L247.07 197.12 L248.81 198.01 L250.55 198.87 L252.29 199.71 L254.03 200.52 L255.77 201.30 L257.50 202.06 L259.24 202.80 L260.98 203.53 L262.72 204.24 L264.46 204.93 L266.20 205.62 L267.93 206.29 L269.67 206.93 L271.41 207.55 L273.15 208.15 L274.89 208.71 L276.63 209.23 L278.36 209.72 L280.10 210.15 L281.84 210.55 L283.58 210.91 L285.32 211.23 L287.06 211.51 L288.79 211.77 L290.53 212.00 L292.27 212.20 L294.01 212.38 L295.75 212.55 L297.49 212.70 L299.22 212.84 L300.96 212.97 L302.70 213.10 L304.44 213.23 L306.18 213.36 L307.92 213.49 L309.65 213.64 L311.39 213.80 L313.13 213.98 L314.87 214.18 L316.61 214.40 L318.35 214.63 L320.08 214.88 L321.82 215.14 L323.56 215.41 L325.30 215.68" fill="none" stroke="#6a4ca6" stroke-width="1.25"/>
<path d="M48.90 232.52 L50.64 230.80 L52.38 229.07 L54.12 227.34 L55.85 225.62 L57.59 223.90 L59.33 222.17 L61.07 220.45 L62.81 218.74 L64.55 217.02 L66.28 215.31 L68.02 213.60 L69.76 211.89 L71.50 210.17 L73.24 208.45 L74.98 206.72 L76.71 204.98 L78.45 203.23 L80.19 201.45 L81.93 199.67 L83.67 197.85 L85.41 196.02 L87.14 194.16 L88.88 192.28 L90.62 190.38 L92.36 188.45 L94.10 186.50 L95.84 184.53 L97.57 182.53 L99.31 180.51 L101.05 178.46 L102.79 176.39 L104.53 174.31 L106.27 172.22 L108.00 170.14 L109.74 168.06 L111.48 166.00 L113.22 163.96 L114.96 161.96 L116.70 160.00 L118.43 158.08 L120.17 156.22 L121.91 154.42 L123.65 152.68 L125.39 151.00 L127.13 149.38 L128.86 147.83 L130.60 146.35 L132.34 144.94 L134.08 143.60 L135.82 142.34 L137.56 141.16 L139.29 140.06 L141.03 139.06 L142.77 138.16 L144.51 137.38 L146.25 136.71 L147.99 136.16 L149.73 135.73 L151.46 135.41 L153.20 135.18 L154.94 135.05 L156.68 135.00 L158.42 135.02 L160.16 135.12 L161.89 135.29 L163.63 135.53 L165.37 135.85 L167.11 136.24 L168.85 136.72 L170.59 137.27 L172.32 137.90 L174.06 138.62 L175.80 139.43 L177.54 140.31 L179.28 141.28 L181.02 142.33 L182.75 143.45 L184.49 144.64 L186.23 145.91 L187.97 147.23 L189.71 148.62 L191.45 150.07 L193.18 151.57 L194.92 153.12 L196.66 154.71 L198.40 156.34 L200.14 157.99 L201.88 159.66 L203.61 161.33 L205.35 163.01 L207.09 164.68 L208.83 166.33 L210.57 167.96 L212.31 169.58 L214.04 171.17 L215.78 172.75 L217.52 174.32 L219.26 175.87 L221.00 177.41 L222.74 178.95 L224.47 180.47 L226.21 181.98 L227.95 183.49 L229.69 184.99 L231.43 186.47 L233.17 187.93 L234.91 189.36 L236.64 190.77 L238.38 192.15 L240.12 193.49 L241.86 194.79 L243.60 196.04 L245.34 197.25 L247.07 198.41 L248.81 199.52 L250.55 200.58 L252.29 201.60 L254.03 202.58 L255.77 203.51 L257.50 204.40 L259.24 205.25 L260.98 206.06 L262.72 206.83 L264.46 207.57 L266.20 208.27 L267.93 208.93 L269.67 209.55 L271.41 210.13 L273.15 210.66 L274.89 211.15 L276.63 211.58 L278.36 211.97 L280.10 212.30 L281.84 212.57 L283.58 212.81 L285.32 213.00 L287.06 213.15 L288.79 213.27 L290.53 213.37 L292.27 213.44 L294.01 213.50 L295.75 213.54 L297.49 213.58 L299.22 213.62 L300.96 213.65 L302.70 213.68 L304.44 213.71 L306.18 213.75 L307.92 213.80 L309.65 213.85 L311.39 213.91 L313.13 213.99 L314.87 214.07 L316.61 214.18 L318.35 214.29 L320.08 214.41 L321.82 214.54 L323.56 214.67 L325.30 214.81" fill="none" stroke="#d7303c" stroke-width="1.25"/>
<path d="M48.90 234.28 L50.64 233.34 L52.38 232.41 L54.12 231.46 L55.85 230.51 L57.59 229.53 L59.33 228.54 L61.07 227.53 L62.81 226.49 L64.55 225.41 L66.28 224.30 L68.02 223.15 L69.76 221.96 L71.50 220.72 L73.24 219.42 L74.98 218.06 L76.71 216.64 L78.45 215.14 L80.19 213.57 L81.93 211.92 L83.67 210.18 L85.41 208.35 L87.14 206.42 L88.88 204.39 L90.62 202.25 L92.36 199.99 L94.10 197.62 L95.84 195.11 L97.57 192.47 L99.31 189.69 L101.05 186.77 L102.79 183.70 L104.53 180.50 L106.27 177.19 L108.00 173.79 L109.74 170.30 L111.48 166.76 L113.22 163.17 L114.96 159.56 L116.70 155.94 L118.43 152.32 L120.17 148.73 L121.91 145.20 L123.65 141.78 L125.39 138.51 L127.13 135.42 L128.86 132.56 L130.60 129.95 L132.34 127.61 L134.08 125.50 L135.82 123.60 L137.56 121.86 L139.29 120.27 L141.03 118.79 L142.77 117.40 L144.51 116.13 L146.25 114.99 L147.99 113.97 L149.73 113.10 L151.46 112.38 L153.20 111.82 L154.94 111.42 L156.68 111.19 L158.42 111.13 L160.16 111.25 L161.89 111.54 L163.63 112.02 L165.37 112.68 L167.11 113.53 L168.85 114.55 L170.59 115.72 L172.32 117.04 L174.06 118.47 L175.80 119.99 L177.54 121.59 L179.28 123.27 L181.02 125.02 L182.75 126.86 L184.49 128.76 L186.23 130.74 L187.97 132.80 L189.71 134.92 L191.45 137.12 L193.18 139.39 L194.92 141.72 L196.66 144.11 L198.40 146.56 L200.14 149.04 L201.88 151.55 L203.61 154.09 L205.35 156.64 L207.09 159.19 L208.83 161.74 L210.57 164.28 L212.31 166.78 L214.04 169.24 L215.78 171.65 L217.52 173.99 L219.26 176.24 L221.00 178.40 L222.74 180.45 L224.47 182.38 L226.21 184.17 L227.95 185.82 L229.69 187.34 L231.43 188.76 L233.17 190.07 L234.91 191.29 L236.64 192.45 L238.38 193.55 L240.12 194.61 L241.86 195.65 L243.60 196.67 L245.34 197.69 L247.07 198.72 L248.81 199.76 L250.55 200.79 L252.29 201.82 L254.03 202.85 L255.77 203.87 L257.50 204.87 L259.24 205.86 L260.98 206.84 L262.72 207.79 L264.46 208.72 L266.20 209.62 L267.93 210.50 L269.67 211.34 L271.41 212.15 L273.15 212.92 L274.89 213.66 L276.63 214.35 L278.36 214.99 L280.10 215.59 L281.84 216.15 L283.58 216.66 L285.32 217.14 L287.06 217.59 L288.79 218.01 L290.53 218.42 L292.27 218.81 L294.01 219.18 L295.75 219.56 L297.49 219.93 L299.22 220.30 L300.96 220.69 L302.70 221.09 L304.44 221.51 L306.18 221.95 L307.92 222.43 L309.65 222.94 L311.39 223.49 L313.13 224.09 L314.87 224.74 L316.61 225.43 L318.35 226.17 L320.08 226.94 L321.82 227.74 L323.56 228.55 L325.30 229.37" fill="none" stroke="#3b8fd4" stroke-width="1.25"/>
<rect x="48.90" y="38.50" width="276.40" height="222.10" fill="none" stroke="#3c3c3c" stroke-width="1.2"/>
<line x1="44.90" y1="260.60" x2="48.90" y2="260.60" stroke="#3c3c3c" stroke-width="1.1"/>
<text x="41.20" y="264.20" text-anchor="end" font-size="10.3" fill="#222">0,0</text>
<line x1="46.70" y1="238.39" x2="48.90" y2="238.39" stroke="#3c3c3c" stroke-width="1.1"/>
<line x1="44.90" y1="216.18" x2="48.90" y2="216.18" stroke="#3c3c3c" stroke-width="1.1"/>
<text x="41.20" y="219.78" text-anchor="end" font-size="10.3" fill="#222">0,5</text>
<line x1="46.70" y1="193.97" x2="48.90" y2="193.97" stroke="#3c3c3c" stroke-width="1.1"/>
<line x1="44.90" y1="171.76" x2="48.90" y2="171.76" stroke="#3c3c3c" stroke-width="1.1"/>
<text x="41.20" y="175.36" text-anchor="end" font-size="10.3" fill="#222">1,0</text>
<line x1="46.70" y1="149.55" x2="48.90" y2="149.55" stroke="#3c3c3c" stroke-width="1.1"/>
<line x1="44.90" y1="127.34" x2="48.90" y2="127.34" stroke="#3c3c3c" stroke-width="1.1"/>
<text x="41.20" y="130.94" text-anchor="end" font-size="10.3" fill="#222">1,5</text>
<line x1="46.70" y1="105.13" x2="48.90" y2="105.13" stroke="#3c3c3c" stroke-width="1.1"/>
<line x1="44.90" y1="82.92" x2="48.90" y2="82.92" stroke="#3c3c3c" stroke-width="1.1"/>
<text x="41.20" y="86.52" text-anchor="end" font-size="10.3" fill="#222">2,0</text>
<line x1="46.70" y1="60.71" x2="48.90" y2="60.71" stroke="#3c3c3c" stroke-width="1.1"/>
<line x1="44.90" y1="38.50" x2="48.90" y2="38.50" stroke="#3c3c3c" stroke-width="1.1"/>
<text x="41.20" y="42.10" text-anchor="end" font-size="10.3" fill="#222">2,5</text>
<line x1="48.90" y1="260.60" x2="48.90" y2="264.60" stroke="#3c3c3c" stroke-width="1.1"/>
<text x="48.90" y="277.00" text-anchor="middle" font-size="10.3" fill="#222">0</text>
<line x1="76.54" y1="260.60" x2="76.54" y2="262.80" stroke="#3c3c3c" stroke-width="1.1"/>
<line x1="104.18" y1="260.60" x2="104.18" y2="264.60" stroke="#3c3c3c" stroke-width="1.1"/>
<text x="104.18" y="277.00" text-anchor="middle" font-size="10.3" fill="#222">2</text>
<line x1="131.82" y1="260.60" x2="131.82" y2="262.80" stroke="#3c3c3c" stroke-width="1.1"/>
<line x1="159.46" y1="260.60" x2="159.46" y2="264.60" stroke="#3c3c3c" stroke-width="1.1"/>
<text x="159.46" y="277.00" text-anchor="middle" font-size="10.3" fill="#222">4</text>
<line x1="187.10" y1="260.60" x2="187.10" y2="262.80" stroke="#3c3c3c" stroke-width="1.1"/>
<line x1="214.74" y1="260.60" x2="214.74" y2="264.60" stroke="#3c3c3c" stroke-width="1.1"/>
<text x="214.74" y="277.00" text-anchor="middle" font-size="10.3" fill="#222">6</text>
<line x1="242.38" y1="260.60" x2="242.38" y2="262.80" stroke="#3c3c3c" stroke-width="1.1"/>
<line x1="270.02" y1="260.60" x2="270.02" y2="264.60" stroke="#3c3c3c" stroke-width="1.1"/>
<text x="270.02" y="277.00" text-anchor="middle" font-size="10.3" fill="#222">8</text>
<line x1="297.66" y1="260.60" x2="297.66" y2="262.80" stroke="#3c3c3c" stroke-width="1.1"/>
<line x1="325.30" y1="260.60" x2="325.30" y2="264.60" stroke="#3c3c3c" stroke-width="1.1"/>
<text x="325.30" y="277.00" text-anchor="middle" font-size="10.3" fill="#222">10</text>
<text transform="translate(21.9 149.10) rotate(-90)" text-anchor="middle" font-size="11.8" fill="#222">dc/dt (a.U.)</text>
<text x="166.80" y="294.60" font-size="11.4" fill="#222">s<tspan font-size="8.4" dy="3">20.w</tspan><tspan dy="-3"> (S)</tspan></text>
<text x="148.2" y="101" font-size="11.6" fill="#3b8fd4" stroke="#3b8fd4" stroke-width="0.25">BC + ATPγS</text>
<text x="92.8" y="112.3" font-size="11.6" fill="#2e9a4c" stroke="#2e9a4c" stroke-width="0.25">BC + ATP</text>
<text x="188.2" y="122.7" font-size="11.6" fill="#d7303c" stroke="#d7303c" stroke-width="0.25">BC</text>
<text x="70.1" y="133.5" font-size="11.6" fill="#e9b12a" stroke="#e9b12a" stroke-width="0.25">BC + ADP</text>
<text x="55.4" y="169.3" font-size="11.6" fill="#9c9c9c" stroke="#9c9c9c" stroke-width="0.25">sB-Raf*</text>
<text x="101.2" y="200.6" font-size="11.6" fill="#6a4ca6" stroke="#6a4ca6" stroke-width="0.25">BC + AMP-PNP</text>
<path d="M50.5 597.1l1.3 2.2h-2.6z" fill="#b9b9b9"/>
<path d="M50.6 605.8l1.3 2.2h-2.6z" fill="#b9b9b9"/>
<path d="M51.0 612.3l1.3 2.2h-2.6z" fill="#b9b9b9"/>
<path d="M51.9 604.5l1.3 2.2h-2.6z" fill="#b9b9b9"/>
<path d="M54.3 598.9l1.3 2.2h-2.6z" fill="#b9b9b9"/>
<path d="M54.9 592.9l1.3 2.2h-2.6z" fill="#b9b9b9"/>
<path d="M55.4 602.1l1.3 2.2h-2.6z" fill="#b9b9b9"/>
<path d="M55.8 594.1l1.3 2.2h-2.6z" fill="#b9b9b9"/>
<path d="M61.0 587.3l1.3 2.2h-2.6z" fill="#b9b9b9"/>
<path d="M62.1 592.7l1.3 2.2h-2.6z" fill="#b9b9b9"/>
<path d="M62.7 589.7l1.3 2.2h-2.6z" fill="#b9b9b9"/>
<path d="M63.1 580.6l1.3 2.2h-2.6z" fill="#b9b9b9"/>
<path d="M63.7 580.1l1.3 2.2h-2.6z" fill="#b9b9b9"/>
<path d="M63.7 583.9l1.3 2.2h-2.6z" fill="#b9b9b9"/>
<path d="M64.2 585.8l1.3 2.2h-2.6z" fill="#b9b9b9"/>
<path d="M65.1 581.1l1.3 2.2h-2.6z" fill="#b9b9b9"/>
<path d="M66.0 585.8l1.3 2.2h-2.6z" fill="#b9b9b9"/>
<path d="M67.0 584.6l1.3 2.2h-2.6z" fill="#b9b9b9"/>
<path d="M67.9 587.0l1.3 2.2h-2.6z" fill="#b9b9b9"/>
<path d="M68.3 582.7l1.3 2.2h-2.6z" fill="#b9b9b9"/>
<path d="M70.5 580.9l1.3 2.2h-2.6z" fill="#b9b9b9"/>
<path d="M73.9 564.8l1.3 2.2h-2.6z" fill="#b9b9b9"/>
<path d="M79.5 572.8l1.3 2.2h-2.6z" fill="#b9b9b9"/>
<path d="M79.7 566.1l1.3 2.2h-2.6z" fill="#b9b9b9"/>
<path d="M88.7 558.0l1.3 2.2h-2.6z" fill="#b9b9b9"/>
<path d="M91.3 562.6l1.3 2.2h-2.6z" fill="#b9b9b9"/>
<path d="M91.3 556.6l1.3 2.2h-2.6z" fill="#b9b9b9"/>
<path d="M92.3 570.6l1.3 2.2h-2.6z" fill="#b9b9b9"/>
<path d="M93.5 559.6l1.3 2.2h-2.6z" fill="#b9b9b9"/>
<path d="M95.3 554.9l1.3 2.2h-2.6z" fill="#b9b9b9"/>
<path d="M101.9 564.8l1.3 2.2h-2.6z" fill="#b9b9b9"/>
<path d="M102.8 558.7l1.3 2.2h-2.6z" fill="#b9b9b9"/>
<path d="M103.2 548.7l1.3 2.2h-2.6z" fill="#b9b9b9"/>
<path d="M103.5 554.3l1.3 2.2h-2.6z" fill="#b9b9b9"/>
<path d="M103.6 558.0l1.3 2.2h-2.6z" fill="#b9b9b9"/>
<path d="M104.0 554.6l1.3 2.2h-2.6z" fill="#b9b9b9"/>
<path d="M105.7 554.4l1.3 2.2h-2.6z" fill="#b9b9b9"/>
<path d="M106.2 548.5l1.3 2.2h-2.6z" fill="#b9b9b9"/>
<path d="M106.2 549.7l1.3 2.2h-2.6z" fill="#b9b9b9"/>
<path d="M109.0 551.5l1.3 2.2h-2.6z" fill="#b9b9b9"/>
<path d="M110.0 552.8l1.3 2.2h-2.6z" fill="#b9b9b9"/>
<path d="M111.3 549.5l1.3 2.2h-2.6z" fill="#b9b9b9"/>
<path d="M112.8 542.7l1.3 2.2h-2.6z" fill="#b9b9b9"/>
<path d="M113.7 546.7l1.3 2.2h-2.6z" fill="#b9b9b9"/>
<path d="M114.8 545.0l1.3 2.2h-2.6z" fill="#b9b9b9"/>
<path d="M115.1 548.4l1.3 2.2h-2.6z" fill="#b9b9b9"/>
<path d="M115.2 553.4l1.3 2.2h-2.6z" fill="#b9b9b9"/>
<path d="M116.3 550.5l1.3 2.2h-2.6z" fill="#b9b9b9"/>
<path d="M118.1 543.8l1.3 2.2h-2.6z" fill="#b9b9b9"/>
<path d="M118.5 546.2l1.3 2.2h-2.6z" fill="#b9b9b9"/>
<path d="M118.9 550.5l1.3 2.2h-2.6z" fill="#b9b9b9"/>
<path d="M119.3 553.6l1.3 2.2h-2.6z" fill="#b9b9b9"/>
<path d="M121.3 545.4l1.3 2.2h-2.6z" fill="#b9b9b9"/>
<path d="M122.2 547.2l1.3 2.2h-2.6z" fill="#b9b9b9"/>
<path d="M124.9 546.7l1.3 2.2h-2.6z" fill="#b9b9b9"/>
<path d="M125.7 546.5l1.3 2.2h-2.6z" fill="#b9b9b9"/>
<path d="M126.9 543.6l1.3 2.2h-2.6z" fill="#b9b9b9"/>
<path d="M128.9 543.3l1.3 2.2h-2.6z" fill="#b9b9b9"/>
<path d="M131.1 540.2l1.3 2.2h-2.6z" fill="#b9b9b9"/>
<path d="M137.2 540.4l1.3 2.2h-2.6z" fill="#b9b9b9"/>
<path d="M137.3 538.7l1.3 2.2h-2.6z" fill="#b9b9b9"/>
<path d="M137.5 541.0l1.3 2.2h-2.6z" fill="#b9b9b9"/>
<path d="M138.2 546.1l1.3 2.2h-2.6z" fill="#b9b9b9"/>
<path d="M139.3 545.0l1.3 2.2h-2.6z" fill="#b9b9b9"/>
<path d="M139.6 542.6l1.3 2.2h-2.6z" fill="#b9b9b9"/>
<path d="M140.3 546.2l1.3 2.2h-2.6z" fill="#b9b9b9"/>
<path d="M143.0 542.8l1.3 2.2h-2.6z" fill="#b9b9b9"/>
<path d="M144.2 540.3l1.3 2.2h-2.6z" fill="#b9b9b9"/>
<path d="M144.2 549.0l1.3 2.2h-2.6z" fill="#b9b9b9"/>
<path d="M146.4 553.7l1.3 2.2h-2.6z" fill="#b9b9b9"/>
<path d="M151.0 541.7l1.3 2.2h-2.6z" fill="#b9b9b9"/>
<path d="M151.5 547.1l1.3 2.2h-2.6z" fill="#b9b9b9"/>
<path d="M153.6 544.7l1.3 2.2h-2.6z" fill="#b9b9b9"/>
<path d="M153.8 553.9l1.3 2.2h-2.6z" fill="#b9b9b9"/>
<path d="M154.9 540.7l1.3 2.2h-2.6z" fill="#b9b9b9"/>
<path d="M155.7 545.4l1.3 2.2h-2.6z" fill="#b9b9b9"/>
<path d="M157.7 550.0l1.3 2.2h-2.6z" fill="#b9b9b9"/>
<path d="M158.2 551.3l1.3 2.2h-2.6z" fill="#b9b9b9"/>
<path d="M160.0 550.1l1.3 2.2h-2.6z" fill="#b9b9b9"/>
<path d="M160.1 551.4l1.3 2.2h-2.6z" fill="#b9b9b9"/>
<path d="M160.6 552.1l1.3 2.2h-2.6z" fill="#b9b9b9"/>
<path d="M160.9 556.0l1.3 2.2h-2.6z" fill="#b9b9b9"/>
<path d="M161.7 545.8l1.3 2.2h-2.6z" fill="#b9b9b9"/>
<path d="M162.6 552.1l1.3 2.2h-2.6z" fill="#b9b9b9"/>
<path d="M164.9 552.9l1.3 2.2h-2.6z" fill="#b9b9b9"/>
<path d="M165.8 553.3l1.3 2.2h-2.6z" fill="#b9b9b9"/>
<path d="M169.9 566.7l1.3 2.2h-2.6z" fill="#b9b9b9"/>
<path d="M170.4 554.2l1.3 2.2h-2.6z" fill="#b9b9b9"/>
<path d="M172.3 559.3l1.3 2.2h-2.6z" fill="#b9b9b9"/>
<path d="M173.2 559.8l1.3 2.2h-2.6z" fill="#b9b9b9"/>
<path d="M173.6 558.4l1.3 2.2h-2.6z" fill="#b9b9b9"/>
<path d="M174.9 563.9l1.3 2.2h-2.6z" fill="#b9b9b9"/>
<path d="M175.3 556.1l1.3 2.2h-2.6z" fill="#b9b9b9"/>
<path d="M177.8 564.7l1.3 2.2h-2.6z" fill="#b9b9b9"/>
<path d="M181.5 568.1l1.3 2.2h-2.6z" fill="#b9b9b9"/>
<path d="M182.1 568.4l1.3 2.2h-2.6z" fill="#b9b9b9"/>
<path d="M182.4 564.1l1.3 2.2h-2.6z" fill="#b9b9b9"/>
<path d="M184.6 563.0l1.3 2.2h-2.6z" fill="#b9b9b9"/>
<path d="M185.2 569.4l1.3 2.2h-2.6z" fill="#b9b9b9"/>
<path d="M185.5 573.7l1.3 2.2h-2.6z" fill="#b9b9b9"/>
<path d="M185.5 562.2l1.3 2.2h-2.6z" fill="#b9b9b9"/>
<path d="M185.9 571.9l1.3 2.2h-2.6z" fill="#b9b9b9"/>
<path d="M186.2 562.1l1.3 2.2h-2.6z" fill="#b9b9b9"/>
<path d="M188.2 569.1l1.3 2.2h-2.6z" fill="#b9b9b9"/>
<path d="M188.2 572.0l1.3 2.2h-2.6z" fill="#b9b9b9"/>
<path d="M188.7 572.0l1.3 2.2h-2.6z" fill="#b9b9b9"/>
<path d="M189.2 567.5l1.3 2.2h-2.6z" fill="#b9b9b9"/>
<path d="M189.5 565.8l1.3 2.2h-2.6z" fill="#b9b9b9"/>
<path d="M189.7 570.8l1.3 2.2h-2.6z" fill="#b9b9b9"/>
<path d="M192.0 567.4l1.3 2.2h-2.6z" fill="#b9b9b9"/>
<path d="M194.6 564.2l1.3 2.2h-2.6z" fill="#b9b9b9"/>
<path d="M195.2 574.8l1.3 2.2h-2.6z" fill="#b9b9b9"/>
<path d="M196.0 579.6l1.3 2.2h-2.6z" fill="#b9b9b9"/>
<path d="M197.4 580.2l1.3 2.2h-2.6z" fill="#b9b9b9"/>
<path d="M201.3 584.4l1.3 2.2h-2.6z" fill="#b9b9b9"/>
<path d="M202.3 581.7l1.3 2.2h-2.6z" fill="#b9b9b9"/>
<path d="M202.4 582.2l1.3 2.2h-2.6z" fill="#b9b9b9"/>
<path d="M202.4 584.9l1.3 2.2h-2.6z" fill="#b9b9b9"/>
<path d="M203.1 577.1l1.3 2.2h-2.6z" fill="#b9b9b9"/>
<path d="M203.2 591.2l1.3 2.2h-2.6z" fill="#b9b9b9"/>
<path d="M203.4 585.6l1.3 2.2h-2.6z" fill="#b9b9b9"/>
<path d="M205.1 571.9l1.3 2.2h-2.6z" fill="#b9b9b9"/>
<path d="M213.7 581.5l1.3 2.2h-2.6z" fill="#b9b9b9"/>
<path d="M214.7 584.4l1.3 2.2h-2.6z" fill="#b9b9b9"/>
<path d="M215.6 585.1l1.3 2.2h-2.6z" fill="#b9b9b9"/>
<path d="M218.7 580.9l1.3 2.2h-2.6z" fill="#b9b9b9"/>
<path d="M219.5 586.8l1.3 2.2h-2.6z" fill="#b9b9b9"/>
<path d="M223.9 591.0l1.3 2.2h-2.6z" fill="#b9b9b9"/>
<path d="M225.0 597.4l1.3 2.2h-2.6z" fill="#b9b9b9"/>
<path d="M226.6 592.9l1.3 2.2h-2.6z" fill="#b9b9b9"/>
<path d="M229.7 597.4l1.3 2.2h-2.6z" fill="#b9b9b9"/>
<path d="M233.7 599.2l1.3 2.2h-2.6z" fill="#b9b9b9"/>
<path d="M235.2 599.9l1.3 2.2h-2.6z" fill="#b9b9b9"/>
<path d="M235.8 597.2l1.3 2.2h-2.6z" fill="#b9b9b9"/>
<path d="M236.4 598.8l1.3 2.2h-2.6z" fill="#b9b9b9"/>
<path d="M236.7 593.6l1.3 2.2h-2.6z" fill="#b9b9b9"/>
<path d="M237.1 603.5l1.3 2.2h-2.6z" fill="#b9b9b9"/>
<path d="M237.4 598.5l1.3 2.2h-2.6z" fill="#b9b9b9"/>
<path d="M238.5 589.9l1.3 2.2h-2.6z" fill="#b9b9b9"/>
<path d="M239.9 598.6l1.3 2.2h-2.6z" fill="#b9b9b9"/>
<path d="M240.3 593.6l1.3 2.2h-2.6z" fill="#b9b9b9"/>
<path d="M240.7 594.0l1.3 2.2h-2.6z" fill="#b9b9b9"/>
<path d="M242.1 593.7l1.3 2.2h-2.6z" fill="#b9b9b9"/>
<path d="M242.4 596.4l1.3 2.2h-2.6z" fill="#b9b9b9"/>
<path d="M244.7 606.6l1.3 2.2h-2.6z" fill="#b9b9b9"/>
<path d="M244.9 601.7l1.3 2.2h-2.6z" fill="#b9b9b9"/>
<path d="M246.3 602.7l1.3 2.2h-2.6z" fill="#b9b9b9"/>
<path d="M246.4 607.9l1.3 2.2h-2.6z" fill="#b9b9b9"/>
<path d="M249.3 603.9l1.3 2.2h-2.6z" fill="#b9b9b9"/>
<path d="M249.8 607.5l1.3 2.2h-2.6z" fill="#b9b9b9"/>
<path d="M250.9 609.6l1.3 2.2h-2.6z" fill="#b9b9b9"/>
<path d="M251.8 601.5l1.3 2.2h-2.6z" fill="#b9b9b9"/>
<path d="M253.1 602.9l1.3 2.2h-2.6z" fill="#b9b9b9"/>
<path d="M254.2 606.0l1.3 2.2h-2.6z" fill="#b9b9b9"/>
<path d="M255.6 607.5l1.3 2.2h-2.6z" fill="#b9b9b9"/>
<path d="M266.2 607.3l1.3 2.2h-2.6z" fill="#b9b9b9"/>
<path d="M268.6 606.9l1.3 2.2h-2.6z" fill="#b9b9b9"/>
<path d="M269.7 607.1l1.3 2.2h-2.6z" fill="#b9b9b9"/>
<path d="M269.9 605.6l1.3 2.2h-2.6z" fill="#b9b9b9"/>
<path d="M270.0 607.3l1.3 2.2h-2.6z" fill="#b9b9b9"/>
<path d="M270.3 603.7l1.3 2.2h-2.6z" fill="#b9b9b9"/>
<path d="M271.7 603.2l1.3 2.2h-2.6z" fill="#b9b9b9"/>
<path d="M272.0 604.0l1.3 2.2h-2.6z" fill="#b9b9b9"/>
<path d="M272.5 608.6l1.3 2.2h-2.6z" fill="#b9b9b9"/>
<path d="M272.7 608.4l1.3 2.2h-2.6z" fill="#b9b9b9"/>
<path d="M276.7 604.0l1.3 2.2h-2.6z" fill="#b9b9b9"/>
<path d="M276.9 606.9l1.3 2.2h-2.6z" fill="#b9b9b9"/>
<path d="M278.2 606.3l1.3 2.2h-2.6z" fill="#b9b9b9"/>
<path d="M279.4 617.3l1.3 2.2h-2.6z" fill="#b9b9b9"/>
<path d="M282.5 618.4l1.3 2.2h-2.6z" fill="#b9b9b9"/>
<path d="M282.7 604.9l1.3 2.2h-2.6z" fill="#b9b9b9"/>
<path d="M283.4 605.0l1.3 2.2h-2.6z" fill="#b9b9b9"/>
<path d="M286.3 600.4l1.3 2.2h-2.6z" fill="#b9b9b9"/>
<path d="M286.5 603.4l1.3 2.2h-2.6z" fill="#b9b9b9"/>
<path d="M287.1 605.6l1.3 2.2h-2.6z" fill="#b9b9b9"/>
<path d="M288.0 606.6l1.3 2.2h-2.6z" fill="#b9b9b9"/>
<path d="M289.6 613.1l1.3 2.2h-2.6z" fill="#b9b9b9"/>
<path d="M289.8 602.8l1.3 2.2h-2.6z" fill="#b9b9b9"/>
<path d="M290.2 609.4l1.3 2.2h-2.6z" fill="#b9b9b9"/>
<path d="M292.2 604.6l1.3 2.2h-2.6z" fill="#b9b9b9"/>
<path d="M294.0 606.0l1.3 2.2h-2.6z" fill="#b9b9b9"/>
<path d="M295.0 605.7l1.3 2.2h-2.6z" fill="#b9b9b9"/>
<path d="M296.5 603.0l1.3 2.2h-2.6z" fill="#b9b9b9"/>
<path d="M297.2 609.2l1.3 2.2h-2.6z" fill="#b9b9b9"/>
<path d="M304.0 608.9l1.3 2.2h-2.6z" fill="#b9b9b9"/>
<path d="M304.3 611.0l1.3 2.2h-2.6z" fill="#b9b9b9"/>
<path d="M305.5 608.8l1.3 2.2h-2.6z" fill="#b9b9b9"/>
<path d="M306.9 599.8l1.3 2.2h-2.6z" fill="#b9b9b9"/>
<path d="M307.4 608.8l1.3 2.2h-2.6z" fill="#b9b9b9"/>
<path d="M307.8 601.9l1.3 2.2h-2.6z" fill="#b9b9b9"/>
<path d="M309.1 603.6l1.3 2.2h-2.6z" fill="#b9b9b9"/>
<path d="M309.1 604.0l1.3 2.2h-2.6z" fill="#b9b9b9"/>
<path d="M311.8 603.7l1.3 2.2h-2.6z" fill="#b9b9b9"/>
<path d="M313.0 611.8l1.3 2.2h-2.6z" fill="#b9b9b9"/>
<path d="M313.9 605.6l1.3 2.2h-2.6z" fill="#b9b9b9"/>
<path d="M318.2 600.3l1.3 2.2h-2.6z" fill="#b9b9b9"/>
<path d="M322.2 610.5l1.3 2.2h-2.6z" fill="#b9b9b9"/>
<path d="M322.7 607.6l1.3 2.2h-2.6z" fill="#b9b9b9"/>
<path d="M323.0 610.5l1.3 2.2h-2.6z" fill="#b9b9b9"/>
<path d="M325.1 606.0l1.3 2.2h-2.6z" fill="#b9b9b9"/>
<path d="M51.0 631.3l1.3 2.2h-2.6z" fill="#b9b9b9"/>
<path d="M51.8 638.1l1.3 2.2h-2.6z" fill="#b9b9b9"/>
<path d="M53.9 622.5l1.3 2.2h-2.6z" fill="#b9b9b9"/>
<path d="M50.6 609.1l1.3 2.2h-2.6z" fill="#f0c85a"/>
<path d="M50.7 606.5l1.3 2.2h-2.6z" fill="#f0c85a"/>
<path d="M52.0 603.5l1.3 2.2h-2.6z" fill="#f0c85a"/>
<path d="M53.2 606.0l1.3 2.2h-2.6z" fill="#f0c85a"/>
<path d="M53.4 598.4l1.3 2.2h-2.6z" fill="#f0c85a"/>
<path d="M53.4 595.6l1.3 2.2h-2.6z" fill="#f0c85a"/>
<path d="M54.6 608.3l1.3 2.2h-2.6z" fill="#f0c85a"/>
<path d="M55.0 597.6l1.3 2.2h-2.6z" fill="#f0c85a"/>
<path d="M56.6 599.4l1.3 2.2h-2.6z" fill="#f0c85a"/>
<path d="M59.0 597.6l1.3 2.2h-2.6z" fill="#f0c85a"/>
<path d="M60.6 586.6l1.3 2.2h-2.6z" fill="#f0c85a"/>
<path d="M60.7 592.1l1.3 2.2h-2.6z" fill="#f0c85a"/>
<path d="M60.8 596.0l1.3 2.2h-2.6z" fill="#f0c85a"/>
<path d="M61.6 596.1l1.3 2.2h-2.6z" fill="#f0c85a"/>
<path d="M63.0 605.6l1.3 2.2h-2.6z" fill="#f0c85a"/>
<path d="M67.4 589.5l1.3 2.2h-2.6z" fill="#f0c85a"/>
<path d="M67.7 596.1l1.3 2.2h-2.6z" fill="#f0c85a"/>
<path d="M69.6 590.6l1.3 2.2h-2.6z" fill="#f0c85a"/>
<path d="M70.2 590.6l1.3 2.2h-2.6z" fill="#f0c85a"/>
<path d="M71.1 586.1l1.3 2.2h-2.6z" fill="#f0c85a"/>
<path d="M72.2 580.6l1.3 2.2h-2.6z" fill="#f0c85a"/>
<path d="M74.6 583.6l1.3 2.2h-2.6z" fill="#f0c85a"/>
<path d="M76.6 581.0l1.3 2.2h-2.6z" fill="#f0c85a"/>
<path d="M77.9 586.7l1.3 2.2h-2.6z" fill="#f0c85a"/>
<path d="M78.5 583.3l1.3 2.2h-2.6z" fill="#f0c85a"/>
<path d="M78.6 581.8l1.3 2.2h-2.6z" fill="#f0c85a"/>
<path d="M78.6 591.6l1.3 2.2h-2.6z" fill="#f0c85a"/>
<path d="M78.7 576.1l1.3 2.2h-2.6z" fill="#f0c85a"/>
<path d="M79.5 587.8l1.3 2.2h-2.6z" fill="#f0c85a"/>
<path d="M82.3 588.4l1.3 2.2h-2.6z" fill="#f0c85a"/>
<path d="M82.6 575.2l1.3 2.2h-2.6z" fill="#f0c85a"/>
<path d="M85.0 571.4l1.3 2.2h-2.6z" fill="#f0c85a"/>
<path d="M85.2 583.8l1.3 2.2h-2.6z" fill="#f0c85a"/>
<path d="M86.1 582.8l1.3 2.2h-2.6z" fill="#f0c85a"/>
<path d="M89.9 563.7l1.3 2.2h-2.6z" fill="#f0c85a"/>
<path d="M90.3 576.7l1.3 2.2h-2.6z" fill="#f0c85a"/>
<path d="M91.1 585.5l1.3 2.2h-2.6z" fill="#f0c85a"/>
<path d="M91.8 579.0l1.3 2.2h-2.6z" fill="#f0c85a"/>
<path d="M92.1 567.2l1.3 2.2h-2.6z" fill="#f0c85a"/>
<path d="M93.3 572.4l1.3 2.2h-2.6z" fill="#f0c85a"/>
<path d="M95.6 570.5l1.3 2.2h-2.6z" fill="#f0c85a"/>
<path d="M96.8 567.6l1.3 2.2h-2.6z" fill="#f0c85a"/>
<path d="M97.9 569.4l1.3 2.2h-2.6z" fill="#f0c85a"/>
<path d="M103.4 570.6l1.3 2.2h-2.6z" fill="#f0c85a"/>
<path d="M104.7 575.5l1.3 2.2h-2.6z" fill="#f0c85a"/>
<path d="M105.3 566.2l1.3 2.2h-2.6z" fill="#f0c85a"/>
<path d="M106.7 572.3l1.3 2.2h-2.6z" fill="#f0c85a"/>
<path d="M110.7 565.6l1.3 2.2h-2.6z" fill="#f0c85a"/>
<path d="M111.3 557.2l1.3 2.2h-2.6z" fill="#f0c85a"/>
<path d="M112.9 561.9l1.3 2.2h-2.6z" fill="#f0c85a"/>
<path d="M114.5 563.3l1.3 2.2h-2.6z" fill="#f0c85a"/>
<path d="M114.5 563.3l1.3 2.2h-2.6z" fill="#f0c85a"/>
<path d="M115.6 559.8l1.3 2.2h-2.6z" fill="#f0c85a"/>
<path d="M116.4 558.6l1.3 2.2h-2.6z" fill="#f0c85a"/>
<path d="M117.2 568.2l1.3 2.2h-2.6z" fill="#f0c85a"/>
<path d="M120.4 560.2l1.3 2.2h-2.6z" fill="#f0c85a"/>
<path d="M120.4 553.3l1.3 2.2h-2.6z" fill="#f0c85a"/>
<path d="M121.5 557.1l1.3 2.2h-2.6z" fill="#f0c85a"/>
<path d="M126.1 562.1l1.3 2.2h-2.6z" fill="#f0c85a"/>
<path d="M127.5 561.2l1.3 2.2h-2.6z" fill="#f0c85a"/>
<path d="M130.9 566.2l1.3 2.2h-2.6z" fill="#f0c85a"/>
<path d="M132.1 560.2l1.3 2.2h-2.6z" fill="#f0c85a"/>
<path d="M134.3 548.9l1.3 2.2h-2.6z" fill="#f0c85a"/>
<path d="M142.3 554.5l1.3 2.2h-2.6z" fill="#f0c85a"/>
<path d="M143.4 557.8l1.3 2.2h-2.6z" fill="#f0c85a"/>
<path d="M143.4 556.6l1.3 2.2h-2.6z" fill="#f0c85a"/>
<path d="M143.5 554.5l1.3 2.2h-2.6z" fill="#f0c85a"/>
<path d="M144.2 554.4l1.3 2.2h-2.6z" fill="#f0c85a"/>
<path d="M144.6 555.5l1.3 2.2h-2.6z" fill="#f0c85a"/>
<path d="M146.6 557.3l1.3 2.2h-2.6z" fill="#f0c85a"/>
<path d="M147.9 551.1l1.3 2.2h-2.6z" fill="#f0c85a"/>
<path d="M148.4 547.1l1.3 2.2h-2.6z" fill="#f0c85a"/>
<path d="M149.2 556.5l1.3 2.2h-2.6z" fill="#f0c85a"/>
<path d="M150.4 556.5l1.3 2.2h-2.6z" fill="#f0c85a"/>
<path d="M153.9 549.3l1.3 2.2h-2.6z" fill="#f0c85a"/>
<path d="M155.5 561.4l1.3 2.2h-2.6z" fill="#f0c85a"/>
<path d="M158.0 558.1l1.3 2.2h-2.6z" fill="#f0c85a"/>
<path d="M159.9 557.6l1.3 2.2h-2.6z" fill="#f0c85a"/>
<path d="M160.4 555.4l1.3 2.2h-2.6z" fill="#f0c85a"/>
<path d="M161.0 557.5l1.3 2.2h-2.6z" fill="#f0c85a"/>
<path d="M161.3 560.3l1.3 2.2h-2.6z" fill="#f0c85a"/>
<path d="M161.8 555.1l1.3 2.2h-2.6z" fill="#f0c85a"/>
<path d="M163.3 562.3l1.3 2.2h-2.6z" fill="#f0c85a"/>
<path d="M163.5 564.8l1.3 2.2h-2.6z" fill="#f0c85a"/>
<path d="M165.5 566.8l1.3 2.2h-2.6z" fill="#f0c85a"/>
<path d="M166.3 554.7l1.3 2.2h-2.6z" fill="#f0c85a"/>
<path d="M167.0 566.0l1.3 2.2h-2.6z" fill="#f0c85a"/>
<path d="M168.2 556.7l1.3 2.2h-2.6z" fill="#f0c85a"/>
<path d="M172.1 557.2l1.3 2.2h-2.6z" fill="#f0c85a"/>
<path d="M173.1 557.0l1.3 2.2h-2.6z" fill="#f0c85a"/>
<path d="M173.7 561.6l1.3 2.2h-2.6z" fill="#f0c85a"/>
<path d="M174.8 563.7l1.3 2.2h-2.6z" fill="#f0c85a"/>
<path d="M175.2 561.0l1.3 2.2h-2.6z" fill="#f0c85a"/>
<path d="M175.5 564.2l1.3 2.2h-2.6z" fill="#f0c85a"/>
<path d="M175.6 567.3l1.3 2.2h-2.6z" fill="#f0c85a"/>
<path d="M176.1 556.2l1.3 2.2h-2.6z" fill="#f0c85a"/>
<path d="M176.2 565.8l1.3 2.2h-2.6z" fill="#f0c85a"/>
<path d="M176.2 553.8l1.3 2.2h-2.6z" fill="#f0c85a"/>
<path d="M176.6 559.7l1.3 2.2h-2.6z" fill="#f0c85a"/>
<path d="M176.6 564.0l1.3 2.2h-2.6z" fill="#f0c85a"/>
<path d="M177.1 560.2l1.3 2.2h-2.6z" fill="#f0c85a"/>
<path d="M177.6 556.9l1.3 2.2h-2.6z" fill="#f0c85a"/>
<path d="M178.6 568.9l1.3 2.2h-2.6z" fill="#f0c85a"/>
<path d="M181.6 568.1l1.3 2.2h-2.6z" fill="#f0c85a"/>
<path d="M182.5 569.0l1.3 2.2h-2.6z" fill="#f0c85a"/>
<path d="M183.7 564.0l1.3 2.2h-2.6z" fill="#f0c85a"/>
<path d="M184.3 563.3l1.3 2.2h-2.6z" fill="#f0c85a"/>
<path d="M184.8 565.1l1.3 2.2h-2.6z" fill="#f0c85a"/>
<path d="M184.8 568.5l1.3 2.2h-2.6z" fill="#f0c85a"/>
<path d="M184.8 567.6l1.3 2.2h-2.6z" fill="#f0c85a"/>
<path d="M184.9 560.0l1.3 2.2h-2.6z" fill="#f0c85a"/>
<path d="M185.0 560.3l1.3 2.2h-2.6z" fill="#f0c85a"/>
<path d="M186.5 565.3l1.3 2.2h-2.6z" fill="#f0c85a"/>
<path d="M187.3 572.0l1.3 2.2h-2.6z" fill="#f0c85a"/>
<path d="M191.6 565.2l1.3 2.2h-2.6z" fill="#f0c85a"/>
<path d="M192.1 566.9l1.3 2.2h-2.6z" fill="#f0c85a"/>
<path d="M193.0 567.4l1.3 2.2h-2.6z" fill="#f0c85a"/>
<path d="M193.3 560.9l1.3 2.2h-2.6z" fill="#f0c85a"/>
<path d="M196.5 566.2l1.3 2.2h-2.6z" fill="#f0c85a"/>
<path d="M197.1 574.5l1.3 2.2h-2.6z" fill="#f0c85a"/>
<path d="M197.8 574.7l1.3 2.2h-2.6z" fill="#f0c85a"/>
<path d="M198.3 564.5l1.3 2.2h-2.6z" fill="#f0c85a"/>
<path d="M199.6 570.2l1.3 2.2h-2.6z" fill="#f0c85a"/>
<path d="M200.8 567.7l1.3 2.2h-2.6z" fill="#f0c85a"/>
<path d="M203.6 573.2l1.3 2.2h-2.6z" fill="#f0c85a"/>
<path d="M204.4 577.3l1.3 2.2h-2.6z" fill="#f0c85a"/>
<path d="M204.7 571.8l1.3 2.2h-2.6z" fill="#f0c85a"/>
<path d="M205.6 566.4l1.3 2.2h-2.6z" fill="#f0c85a"/>
<path d="M205.7 571.8l1.3 2.2h-2.6z" fill="#f0c85a"/>
<path d="M206.8 578.8l1.3 2.2h-2.6z" fill="#f0c85a"/>
<path d="M208.8 576.0l1.3 2.2h-2.6z" fill="#f0c85a"/>
<path d="M209.1 577.0l1.3 2.2h-2.6z" fill="#f0c85a"/>
<path d="M211.7 575.1l1.3 2.2h-2.6z" fill="#f0c85a"/>
<path d="M215.1 572.8l1.3 2.2h-2.6z" fill="#f0c85a"/>
<path d="M215.6 568.7l1.3 2.2h-2.6z" fill="#f0c85a"/>
<path d="M216.3 576.8l1.3 2.2h-2.6z" fill="#f0c85a"/>
<path d="M218.2 580.5l1.3 2.2h-2.6z" fill="#f0c85a"/>
<path d="M219.2 578.7l1.3 2.2h-2.6z" fill="#f0c85a"/>
<path d="M223.5 580.9l1.3 2.2h-2.6z" fill="#f0c85a"/>
<path d="M227.2 584.5l1.3 2.2h-2.6z" fill="#f0c85a"/>
<path d="M230.0 583.7l1.3 2.2h-2.6z" fill="#f0c85a"/>
<path d="M230.3 584.0l1.3 2.2h-2.6z" fill="#f0c85a"/>
<path d="M232.5 590.1l1.3 2.2h-2.6z" fill="#f0c85a"/>
<path d="M234.7 583.4l1.3 2.2h-2.6z" fill="#f0c85a"/>
<path d="M235.3 587.8l1.3 2.2h-2.6z" fill="#f0c85a"/>
<path d="M236.5 591.0l1.3 2.2h-2.6z" fill="#f0c85a"/>
<path d="M237.7 584.9l1.3 2.2h-2.6z" fill="#f0c85a"/>
<path d="M237.9 589.3l1.3 2.2h-2.6z" fill="#f0c85a"/>
<path d="M238.4 579.7l1.3 2.2h-2.6z" fill="#f0c85a"/>
<path d="M239.8 585.8l1.3 2.2h-2.6z" fill="#f0c85a"/>
<path d="M245.2 589.5l1.3 2.2h-2.6z" fill="#f0c85a"/>
<path d="M245.9 593.4l1.3 2.2h-2.6z" fill="#f0c85a"/>
<path d="M249.5 593.0l1.3 2.2h-2.6z" fill="#f0c85a"/>
<path d="M250.8 587.8l1.3 2.2h-2.6z" fill="#f0c85a"/>
<path d="M250.8 594.6l1.3 2.2h-2.6z" fill="#f0c85a"/>
<path d="M253.2 588.8l1.3 2.2h-2.6z" fill="#f0c85a"/>
<path d="M258.5 602.8l1.3 2.2h-2.6z" fill="#f0c85a"/>
<path d="M260.2 592.9l1.3 2.2h-2.6z" fill="#f0c85a"/>
<path d="M260.3 590.2l1.3 2.2h-2.6z" fill="#f0c85a"/>
<path d="M260.5 592.4l1.3 2.2h-2.6z" fill="#f0c85a"/>
<path d="M263.4 594.4l1.3 2.2h-2.6z" fill="#f0c85a"/>
<path d="M266.7 590.5l1.3 2.2h-2.6z" fill="#f0c85a"/>
<path d="M269.6 599.2l1.3 2.2h-2.6z" fill="#f0c85a"/>
<path d="M270.8 600.0l1.3 2.2h-2.6z" fill="#f0c85a"/>
<path d="M271.3 595.2l1.3 2.2h-2.6z" fill="#f0c85a"/>
<path d="M273.2 590.6l1.3 2.2h-2.6z" fill="#f0c85a"/>
<path d="M274.2 594.2l1.3 2.2h-2.6z" fill="#f0c85a"/>
<path d="M274.4 597.0l1.3 2.2h-2.6z" fill="#f0c85a"/>
<path d="M275.7 594.9l1.3 2.2h-2.6z" fill="#f0c85a"/>
<path d="M275.9 594.3l1.3 2.2h-2.6z" fill="#f0c85a"/>
<path d="M276.5 601.9l1.3 2.2h-2.6z" fill="#f0c85a"/>
<path d="M277.9 609.0l1.3 2.2h-2.6z" fill="#f0c85a"/>
<path d="M278.5 601.2l1.3 2.2h-2.6z" fill="#f0c85a"/>
<path d="M279.5 603.4l1.3 2.2h-2.6z" fill="#f0c85a"/>
<path d="M279.8 599.4l1.3 2.2h-2.6z" fill="#f0c85a"/>
<path d="M279.9 602.1l1.3 2.2h-2.6z" fill="#f0c85a"/>
<path d="M282.3 600.9l1.3 2.2h-2.6z" fill="#f0c85a"/>
<path d="M282.6 595.2l1.3 2.2h-2.6z" fill="#f0c85a"/>
<path d="M283.6 596.8l1.3 2.2h-2.6z" fill="#f0c85a"/>
<path d="M284.4 597.4l1.3 2.2h-2.6z" fill="#f0c85a"/>
<path d="M288.6 590.4l1.3 2.2h-2.6z" fill="#f0c85a"/>
<path d="M289.5 599.9l1.3 2.2h-2.6z" fill="#f0c85a"/>
<path d="M294.7 600.2l1.3 2.2h-2.6z" fill="#f0c85a"/>
<path d="M295.9 593.0l1.3 2.2h-2.6z" fill="#f0c85a"/>
<path d="M296.3 603.6l1.3 2.2h-2.6z" fill="#f0c85a"/>
<path d="M298.6 606.1l1.3 2.2h-2.6z" fill="#f0c85a"/>
<path d="M303.1 593.5l1.3 2.2h-2.6z" fill="#f0c85a"/>
<path d="M305.1 598.0l1.3 2.2h-2.6z" fill="#f0c85a"/>
<path d="M305.7 596.8l1.3 2.2h-2.6z" fill="#f0c85a"/>
<path d="M305.8 596.7l1.3 2.2h-2.6z" fill="#f0c85a"/>
<path d="M308.7 595.7l1.3 2.2h-2.6z" fill="#f0c85a"/>
<path d="M309.5 601.9l1.3 2.2h-2.6z" fill="#f0c85a"/>
<path d="M309.7 600.1l1.3 2.2h-2.6z" fill="#f0c85a"/>
<path d="M309.9 604.7l1.3 2.2h-2.6z" fill="#f0c85a"/>
<path d="M313.3 599.3l1.3 2.2h-2.6z" fill="#f0c85a"/>
<path d="M313.6 598.9l1.3 2.2h-2.6z" fill="#f0c85a"/>
<path d="M320.1 602.2l1.3 2.2h-2.6z" fill="#f0c85a"/>
<path d="M322.3 597.3l1.3 2.2h-2.6z" fill="#f0c85a"/>
<path d="M324.0 587.1l1.3 2.2h-2.6z" fill="#f0c85a"/>
<path d="M324.8 605.4l1.3 2.2h-2.6z" fill="#f0c85a"/>
<path d="M53.8 638.6l1.3 2.2h-2.6z" fill="#f0c85a"/>
<path d="M52.2 620.7l1.3 2.2h-2.6z" fill="#f0c85a"/>
<path d="M53.0 620.3l1.3 2.2h-2.6z" fill="#f0c85a"/>
<path d="M50.7 625.0l1.3 2.2h-2.6z" fill="#e0505a"/>
<path d="M52.7 620.8l1.3 2.2h-2.6z" fill="#e0505a"/>
<path d="M53.2 611.0l1.3 2.2h-2.6z" fill="#e0505a"/>
<path d="M53.7 614.3l1.3 2.2h-2.6z" fill="#e0505a"/>
<path d="M54.8 605.3l1.3 2.2h-2.6z" fill="#e0505a"/>
<path d="M55.4 611.3l1.3 2.2h-2.6z" fill="#e0505a"/>
<path d="M56.4 610.4l1.3 2.2h-2.6z" fill="#e0505a"/>
<path d="M57.2 604.3l1.3 2.2h-2.6z" fill="#e0505a"/>
<path d="M63.3 600.7l1.3 2.2h-2.6z" fill="#e0505a"/>
<path d="M64.7 593.2l1.3 2.2h-2.6z" fill="#e0505a"/>
<path d="M64.9 604.8l1.3 2.2h-2.6z" fill="#e0505a"/>
<path d="M65.5 597.5l1.3 2.2h-2.6z" fill="#e0505a"/>
<path d="M65.8 596.1l1.3 2.2h-2.6z" fill="#e0505a"/>
<path d="M65.8 596.7l1.3 2.2h-2.6z" fill="#e0505a"/>
<path d="M66.4 593.4l1.3 2.2h-2.6z" fill="#e0505a"/>
<path d="M69.1 590.9l1.3 2.2h-2.6z" fill="#e0505a"/>
<path d="M69.7 594.8l1.3 2.2h-2.6z" fill="#e0505a"/>
<path d="M69.9 597.1l1.3 2.2h-2.6z" fill="#e0505a"/>
<path d="M70.2 590.0l1.3 2.2h-2.6z" fill="#e0505a"/>
<path d="M72.8 591.3l1.3 2.2h-2.6z" fill="#e0505a"/>
<path d="M77.3 582.3l1.3 2.2h-2.6z" fill="#e0505a"/>
<path d="M77.8 579.9l1.3 2.2h-2.6z" fill="#e0505a"/>
<path d="M78.9 583.9l1.3 2.2h-2.6z" fill="#e0505a"/>
<path d="M80.9 586.5l1.3 2.2h-2.6z" fill="#e0505a"/>
<path d="M84.0 579.9l1.3 2.2h-2.6z" fill="#e0505a"/>
<path d="M87.1 571.3l1.3 2.2h-2.6z" fill="#e0505a"/>
<path d="M87.2 575.7l1.3 2.2h-2.6z" fill="#e0505a"/>
<path d="M87.5 569.1l1.3 2.2h-2.6z" fill="#e0505a"/>
<path d="M90.6 570.1l1.3 2.2h-2.6z" fill="#e0505a"/>
<path d="M93.7 565.6l1.3 2.2h-2.6z" fill="#e0505a"/>
<path d="M94.1 568.4l1.3 2.2h-2.6z" fill="#e0505a"/>
<path d="M95.6 564.2l1.3 2.2h-2.6z" fill="#e0505a"/>
<path d="M96.2 558.1l1.3 2.2h-2.6z" fill="#e0505a"/>
<path d="M96.5 564.1l1.3 2.2h-2.6z" fill="#e0505a"/>
<path d="M97.5 562.7l1.3 2.2h-2.6z" fill="#e0505a"/>
<path d="M97.9 564.2l1.3 2.2h-2.6z" fill="#e0505a"/>
<path d="M100.0 554.6l1.3 2.2h-2.6z" fill="#e0505a"/>
<path d="M101.0 563.6l1.3 2.2h-2.6z" fill="#e0505a"/>
<path d="M101.1 559.6l1.3 2.2h-2.6z" fill="#e0505a"/>
<path d="M101.8 551.9l1.3 2.2h-2.6z" fill="#e0505a"/>
<path d="M102.4 548.8l1.3 2.2h-2.6z" fill="#e0505a"/>
<path d="M103.2 555.2l1.3 2.2h-2.6z" fill="#e0505a"/>
<path d="M103.8 549.2l1.3 2.2h-2.6z" fill="#e0505a"/>
<path d="M107.3 558.3l1.3 2.2h-2.6z" fill="#e0505a"/>
<path d="M107.7 545.6l1.3 2.2h-2.6z" fill="#e0505a"/>
<path d="M109.0 546.2l1.3 2.2h-2.6z" fill="#e0505a"/>
<path d="M109.1 552.8l1.3 2.2h-2.6z" fill="#e0505a"/>
<path d="M112.4 551.8l1.3 2.2h-2.6z" fill="#e0505a"/>
<path d="M115.2 543.3l1.3 2.2h-2.6z" fill="#e0505a"/>
<path d="M115.5 539.6l1.3 2.2h-2.6z" fill="#e0505a"/>
<path d="M116.1 538.4l1.3 2.2h-2.6z" fill="#e0505a"/>
<path d="M116.3 539.4l1.3 2.2h-2.6z" fill="#e0505a"/>
<path d="M116.8 536.0l1.3 2.2h-2.6z" fill="#e0505a"/>
<path d="M117.2 535.8l1.3 2.2h-2.6z" fill="#e0505a"/>
<path d="M121.0 541.5l1.3 2.2h-2.6z" fill="#e0505a"/>
<path d="M121.6 536.5l1.3 2.2h-2.6z" fill="#e0505a"/>
<path d="M121.9 536.8l1.3 2.2h-2.6z" fill="#e0505a"/>
<path d="M123.1 528.9l1.3 2.2h-2.6z" fill="#e0505a"/>
<path d="M124.1 534.8l1.3 2.2h-2.6z" fill="#e0505a"/>
<path d="M124.5 527.7l1.3 2.2h-2.6z" fill="#e0505a"/>
<path d="M126.5 530.2l1.3 2.2h-2.6z" fill="#e0505a"/>
<path d="M126.8 519.9l1.3 2.2h-2.6z" fill="#e0505a"/>
<path d="M127.8 529.8l1.3 2.2h-2.6z" fill="#e0505a"/>
<path d="M128.1 529.3l1.3 2.2h-2.6z" fill="#e0505a"/>
<path d="M129.0 529.1l1.3 2.2h-2.6z" fill="#e0505a"/>
<path d="M130.2 527.1l1.3 2.2h-2.6z" fill="#e0505a"/>
<path d="M131.6 515.9l1.3 2.2h-2.6z" fill="#e0505a"/>
<path d="M134.1 527.3l1.3 2.2h-2.6z" fill="#e0505a"/>
<path d="M134.3 528.8l1.3 2.2h-2.6z" fill="#e0505a"/>
<path d="M134.7 525.6l1.3 2.2h-2.6z" fill="#e0505a"/>
<path d="M138.3 519.7l1.3 2.2h-2.6z" fill="#e0505a"/>
<path d="M138.4 527.1l1.3 2.2h-2.6z" fill="#e0505a"/>
<path d="M143.4 517.1l1.3 2.2h-2.6z" fill="#e0505a"/>
<path d="M150.1 515.8l1.3 2.2h-2.6z" fill="#e0505a"/>
<path d="M152.0 519.8l1.3 2.2h-2.6z" fill="#e0505a"/>
<path d="M156.5 520.3l1.3 2.2h-2.6z" fill="#e0505a"/>
<path d="M157.7 522.8l1.3 2.2h-2.6z" fill="#e0505a"/>
<path d="M159.9 520.8l1.3 2.2h-2.6z" fill="#e0505a"/>
<path d="M160.4 523.2l1.3 2.2h-2.6z" fill="#e0505a"/>
<path d="M161.5 514.3l1.3 2.2h-2.6z" fill="#e0505a"/>
<path d="M166.3 513.9l1.3 2.2h-2.6z" fill="#e0505a"/>
<path d="M168.7 523.1l1.3 2.2h-2.6z" fill="#e0505a"/>
<path d="M169.9 522.5l1.3 2.2h-2.6z" fill="#e0505a"/>
<path d="M170.0 530.8l1.3 2.2h-2.6z" fill="#e0505a"/>
<path d="M174.0 526.4l1.3 2.2h-2.6z" fill="#e0505a"/>
<path d="M177.1 524.2l1.3 2.2h-2.6z" fill="#e0505a"/>
<path d="M177.6 524.7l1.3 2.2h-2.6z" fill="#e0505a"/>
<path d="M177.7 525.4l1.3 2.2h-2.6z" fill="#e0505a"/>
<path d="M178.0 522.4l1.3 2.2h-2.6z" fill="#e0505a"/>
<path d="M179.3 526.5l1.3 2.2h-2.6z" fill="#e0505a"/>
<path d="M180.2 529.2l1.3 2.2h-2.6z" fill="#e0505a"/>
<path d="M180.3 520.4l1.3 2.2h-2.6z" fill="#e0505a"/>
<path d="M180.4 536.1l1.3 2.2h-2.6z" fill="#e0505a"/>
<path d="M182.9 534.4l1.3 2.2h-2.6z" fill="#e0505a"/>
<path d="M186.0 534.7l1.3 2.2h-2.6z" fill="#e0505a"/>
<path d="M191.5 539.0l1.3 2.2h-2.6z" fill="#e0505a"/>
<path d="M193.7 541.1l1.3 2.2h-2.6z" fill="#e0505a"/>
<path d="M194.6 539.5l1.3 2.2h-2.6z" fill="#e0505a"/>
<path d="M194.7 541.8l1.3 2.2h-2.6z" fill="#e0505a"/>
<path d="M196.1 540.2l1.3 2.2h-2.6z" fill="#e0505a"/>
<path d="M197.1 538.3l1.3 2.2h-2.6z" fill="#e0505a"/>
<path d="M198.0 541.6l1.3 2.2h-2.6z" fill="#e0505a"/>
<path d="M198.9 542.1l1.3 2.2h-2.6z" fill="#e0505a"/>
<path d="M201.0 548.9l1.3 2.2h-2.6z" fill="#e0505a"/>
<path d="M201.5 550.3l1.3 2.2h-2.6z" fill="#e0505a"/>
<path d="M202.0 547.0l1.3 2.2h-2.6z" fill="#e0505a"/>
<path d="M202.7 542.4l1.3 2.2h-2.6z" fill="#e0505a"/>
<path d="M203.0 545.2l1.3 2.2h-2.6z" fill="#e0505a"/>
<path d="M203.9 542.9l1.3 2.2h-2.6z" fill="#e0505a"/>
<path d="M203.9 543.4l1.3 2.2h-2.6z" fill="#e0505a"/>
<path d="M205.1 544.0l1.3 2.2h-2.6z" fill="#e0505a"/>
<path d="M206.0 553.5l1.3 2.2h-2.6z" fill="#e0505a"/>
<path d="M206.4 544.9l1.3 2.2h-2.6z" fill="#e0505a"/>
<path d="M207.2 547.8l1.3 2.2h-2.6z" fill="#e0505a"/>
<path d="M209.1 544.0l1.3 2.2h-2.6z" fill="#e0505a"/>
<path d="M211.2 552.8l1.3 2.2h-2.6z" fill="#e0505a"/>
<path d="M213.5 556.5l1.3 2.2h-2.6z" fill="#e0505a"/>
<path d="M214.0 559.0l1.3 2.2h-2.6z" fill="#e0505a"/>
<path d="M216.3 560.1l1.3 2.2h-2.6z" fill="#e0505a"/>
<path d="M216.7 568.6l1.3 2.2h-2.6z" fill="#e0505a"/>
<path d="M221.6 567.4l1.3 2.2h-2.6z" fill="#e0505a"/>
<path d="M222.0 566.8l1.3 2.2h-2.6z" fill="#e0505a"/>
<path d="M224.4 564.6l1.3 2.2h-2.6z" fill="#e0505a"/>
<path d="M227.8 575.0l1.3 2.2h-2.6z" fill="#e0505a"/>
<path d="M228.4 572.1l1.3 2.2h-2.6z" fill="#e0505a"/>
<path d="M228.8 565.0l1.3 2.2h-2.6z" fill="#e0505a"/>
<path d="M230.2 576.5l1.3 2.2h-2.6z" fill="#e0505a"/>
<path d="M230.3 570.6l1.3 2.2h-2.6z" fill="#e0505a"/>
<path d="M233.1 578.9l1.3 2.2h-2.6z" fill="#e0505a"/>
<path d="M233.1 577.0l1.3 2.2h-2.6z" fill="#e0505a"/>
<path d="M233.4 574.7l1.3 2.2h-2.6z" fill="#e0505a"/>
<path d="M235.8 574.7l1.3 2.2h-2.6z" fill="#e0505a"/>
<path d="M235.9 580.8l1.3 2.2h-2.6z" fill="#e0505a"/>
<path d="M238.7 585.1l1.3 2.2h-2.6z" fill="#e0505a"/>
<path d="M238.8 573.9l1.3 2.2h-2.6z" fill="#e0505a"/>
<path d="M239.1 580.1l1.3 2.2h-2.6z" fill="#e0505a"/>
<path d="M240.8 578.5l1.3 2.2h-2.6z" fill="#e0505a"/>
<path d="M241.5 578.4l1.3 2.2h-2.6z" fill="#e0505a"/>
<path d="M244.7 581.1l1.3 2.2h-2.6z" fill="#e0505a"/>
<path d="M244.8 585.6l1.3 2.2h-2.6z" fill="#e0505a"/>
<path d="M248.4 587.1l1.3 2.2h-2.6z" fill="#e0505a"/>
<path d="M250.9 594.6l1.3 2.2h-2.6z" fill="#e0505a"/>
<path d="M251.4 587.2l1.3 2.2h-2.6z" fill="#e0505a"/>
<path d="M252.2 590.5l1.3 2.2h-2.6z" fill="#e0505a"/>
<path d="M256.5 590.4l1.3 2.2h-2.6z" fill="#e0505a"/>
<path d="M256.6 582.1l1.3 2.2h-2.6z" fill="#e0505a"/>
<path d="M256.6 587.3l1.3 2.2h-2.6z" fill="#e0505a"/>
<path d="M257.0 590.2l1.3 2.2h-2.6z" fill="#e0505a"/>
<path d="M260.0 597.6l1.3 2.2h-2.6z" fill="#e0505a"/>
<path d="M261.3 588.9l1.3 2.2h-2.6z" fill="#e0505a"/>
<path d="M264.9 586.4l1.3 2.2h-2.6z" fill="#e0505a"/>
<path d="M265.6 596.9l1.3 2.2h-2.6z" fill="#e0505a"/>
<path d="M265.6 591.5l1.3 2.2h-2.6z" fill="#e0505a"/>
<path d="M265.8 595.6l1.3 2.2h-2.6z" fill="#e0505a"/>
<path d="M266.1 594.1l1.3 2.2h-2.6z" fill="#e0505a"/>
<path d="M266.7 595.2l1.3 2.2h-2.6z" fill="#e0505a"/>
<path d="M267.1 600.8l1.3 2.2h-2.6z" fill="#e0505a"/>
<path d="M267.3 596.0l1.3 2.2h-2.6z" fill="#e0505a"/>
<path d="M267.4 600.9l1.3 2.2h-2.6z" fill="#e0505a"/>
<path d="M269.9 588.2l1.3 2.2h-2.6z" fill="#e0505a"/>
<path d="M271.4 590.0l1.3 2.2h-2.6z" fill="#e0505a"/>
<path d="M272.7 594.7l1.3 2.2h-2.6z" fill="#e0505a"/>
<path d="M273.3 593.7l1.3 2.2h-2.6z" fill="#e0505a"/>
<path d="M274.2 594.8l1.3 2.2h-2.6z" fill="#e0505a"/>
<path d="M276.0 594.5l1.3 2.2h-2.6z" fill="#e0505a"/>
<path d="M278.5 594.9l1.3 2.2h-2.6z" fill="#e0505a"/>
<path d="M280.7 597.0l1.3 2.2h-2.6z" fill="#e0505a"/>
<path d="M281.2 596.8l1.3 2.2h-2.6z" fill="#e0505a"/>
<path d="M282.9 602.1l1.3 2.2h-2.6z" fill="#e0505a"/>
<path d="M283.3 600.6l1.3 2.2h-2.6z" fill="#e0505a"/>
<path d="M286.1 599.2l1.3 2.2h-2.6z" fill="#e0505a"/>
<path d="M286.7 595.7l1.3 2.2h-2.6z" fill="#e0505a"/>
<path d="M287.5 598.3l1.3 2.2h-2.6z" fill="#e0505a"/>
<path d="M288.8 588.5l1.3 2.2h-2.6z" fill="#e0505a"/>
<path d="M293.1 598.0l1.3 2.2h-2.6z" fill="#e0505a"/>
<path d="M293.8 598.8l1.3 2.2h-2.6z" fill="#e0505a"/>
<path d="M297.2 595.6l1.3 2.2h-2.6z" fill="#e0505a"/>
<path d="M297.8 593.1l1.3 2.2h-2.6z" fill="#e0505a"/>
<path d="M298.9 589.6l1.3 2.2h-2.6z" fill="#e0505a"/>
<path d="M300.7 593.6l1.3 2.2h-2.6z" fill="#e0505a"/>
<path d="M301.2 600.4l1.3 2.2h-2.6z" fill="#e0505a"/>
<path d="M301.3 598.6l1.3 2.2h-2.6z" fill="#e0505a"/>
<path d="M301.3 593.3l1.3 2.2h-2.6z" fill="#e0505a"/>
<path d="M301.8 596.8l1.3 2.2h-2.6z" fill="#e0505a"/>
<path d="M303.4 594.6l1.3 2.2h-2.6z" fill="#e0505a"/>
<path d="M304.5 598.5l1.3 2.2h-2.6z" fill="#e0505a"/>
<path d="M307.1 591.4l1.3 2.2h-2.6z" fill="#e0505a"/>
<path d="M311.7 592.5l1.3 2.2h-2.6z" fill="#e0505a"/>
<path d="M311.9 594.0l1.3 2.2h-2.6z" fill="#e0505a"/>
<path d="M314.5 598.4l1.3 2.2h-2.6z" fill="#e0505a"/>
<path d="M315.0 606.2l1.3 2.2h-2.6z" fill="#e0505a"/>
<path d="M318.3 605.4l1.3 2.2h-2.6z" fill="#e0505a"/>
<path d="M319.1 598.1l1.3 2.2h-2.6z" fill="#e0505a"/>
<path d="M319.5 596.8l1.3 2.2h-2.6z" fill="#e0505a"/>
<path d="M320.3 612.4l1.3 2.2h-2.6z" fill="#e0505a"/>
<path d="M320.9 601.8l1.3 2.2h-2.6z" fill="#e0505a"/>
<path d="M321.0 594.7l1.3 2.2h-2.6z" fill="#e0505a"/>
<path d="M322.3 595.7l1.3 2.2h-2.6z" fill="#e0505a"/>
<path d="M323.0 602.1l1.3 2.2h-2.6z" fill="#e0505a"/>
<path d="M324.8 597.4l1.3 2.2h-2.6z" fill="#e0505a"/>
<path d="M53.3 636.6l1.3 2.2h-2.6z" fill="#e0505a"/>
<path d="M53.8 637.9l1.3 2.2h-2.6z" fill="#e0505a"/>
<path d="M54.5 620.0l1.3 2.2h-2.6z" fill="#e0505a"/>
<path d="M51.4 611.2l1.3 2.2h-2.6z" fill="#48ab5e"/>
<path d="M51.7 611.6l1.3 2.2h-2.6z" fill="#48ab5e"/>
<path d="M53.7 606.8l1.3 2.2h-2.6z" fill="#48ab5e"/>
<path d="M58.9 612.8l1.3 2.2h-2.6z" fill="#48ab5e"/>
<path d="M61.0 612.2l1.3 2.2h-2.6z" fill="#48ab5e"/>
<path d="M61.0 608.2l1.3 2.2h-2.6z" fill="#48ab5e"/>
<path d="M62.8 606.6l1.3 2.2h-2.6z" fill="#48ab5e"/>
<path d="M63.0 605.1l1.3 2.2h-2.6z" fill="#48ab5e"/>
<path d="M64.3 606.2l1.3 2.2h-2.6z" fill="#48ab5e"/>
<path d="M69.0 599.6l1.3 2.2h-2.6z" fill="#48ab5e"/>
<path d="M70.8 597.3l1.3 2.2h-2.6z" fill="#48ab5e"/>
<path d="M72.0 598.5l1.3 2.2h-2.6z" fill="#48ab5e"/>
<path d="M74.1 602.8l1.3 2.2h-2.6z" fill="#48ab5e"/>
<path d="M76.2 591.6l1.3 2.2h-2.6z" fill="#48ab5e"/>
<path d="M76.5 603.2l1.3 2.2h-2.6z" fill="#48ab5e"/>
<path d="M76.7 597.2l1.3 2.2h-2.6z" fill="#48ab5e"/>
<path d="M80.3 589.8l1.3 2.2h-2.6z" fill="#48ab5e"/>
<path d="M81.0 596.0l1.3 2.2h-2.6z" fill="#48ab5e"/>
<path d="M82.2 586.8l1.3 2.2h-2.6z" fill="#48ab5e"/>
<path d="M82.7 583.6l1.3 2.2h-2.6z" fill="#48ab5e"/>
<path d="M85.7 583.0l1.3 2.2h-2.6z" fill="#48ab5e"/>
<path d="M92.3 583.4l1.3 2.2h-2.6z" fill="#48ab5e"/>
<path d="M92.3 581.0l1.3 2.2h-2.6z" fill="#48ab5e"/>
<path d="M92.3 587.5l1.3 2.2h-2.6z" fill="#48ab5e"/>
<path d="M93.8 582.5l1.3 2.2h-2.6z" fill="#48ab5e"/>
<path d="M93.9 582.2l1.3 2.2h-2.6z" fill="#48ab5e"/>
<path d="M97.3 581.4l1.3 2.2h-2.6z" fill="#48ab5e"/>
<path d="M97.8 580.7l1.3 2.2h-2.6z" fill="#48ab5e"/>
<path d="M98.9 581.5l1.3 2.2h-2.6z" fill="#48ab5e"/>
<path d="M100.1 588.4l1.3 2.2h-2.6z" fill="#48ab5e"/>
<path d="M100.4 577.8l1.3 2.2h-2.6z" fill="#48ab5e"/>
<path d="M105.2 574.8l1.3 2.2h-2.6z" fill="#48ab5e"/>
<path d="M106.8 566.0l1.3 2.2h-2.6z" fill="#48ab5e"/>
<path d="M107.6 571.4l1.3 2.2h-2.6z" fill="#48ab5e"/>
<path d="M107.6 574.2l1.3 2.2h-2.6z" fill="#48ab5e"/>
<path d="M109.8 569.1l1.3 2.2h-2.6z" fill="#48ab5e"/>
<path d="M113.2 567.9l1.3 2.2h-2.6z" fill="#48ab5e"/>
<path d="M113.8 570.3l1.3 2.2h-2.6z" fill="#48ab5e"/>
<path d="M114.7 571.3l1.3 2.2h-2.6z" fill="#48ab5e"/>
<path d="M117.3 574.4l1.3 2.2h-2.6z" fill="#48ab5e"/>
<path d="M120.3 565.5l1.3 2.2h-2.6z" fill="#48ab5e"/>
<path d="M122.9 557.2l1.3 2.2h-2.6z" fill="#48ab5e"/>
<path d="M124.7 571.6l1.3 2.2h-2.6z" fill="#48ab5e"/>
<path d="M125.6 567.0l1.3 2.2h-2.6z" fill="#48ab5e"/>
<path d="M125.6 559.4l1.3 2.2h-2.6z" fill="#48ab5e"/>
<path d="M126.5 561.4l1.3 2.2h-2.6z" fill="#48ab5e"/>
<path d="M127.1 560.0l1.3 2.2h-2.6z" fill="#48ab5e"/>
<path d="M132.3 566.9l1.3 2.2h-2.6z" fill="#48ab5e"/>
<path d="M133.3 560.7l1.3 2.2h-2.6z" fill="#48ab5e"/>
<path d="M133.7 555.6l1.3 2.2h-2.6z" fill="#48ab5e"/>
<path d="M135.8 553.9l1.3 2.2h-2.6z" fill="#48ab5e"/>
<path d="M137.1 554.4l1.3 2.2h-2.6z" fill="#48ab5e"/>
<path d="M137.8 559.1l1.3 2.2h-2.6z" fill="#48ab5e"/>
<path d="M139.8 551.6l1.3 2.2h-2.6z" fill="#48ab5e"/>
<path d="M140.8 558.6l1.3 2.2h-2.6z" fill="#48ab5e"/>
<path d="M141.7 556.9l1.3 2.2h-2.6z" fill="#48ab5e"/>
<path d="M147.6 554.3l1.3 2.2h-2.6z" fill="#48ab5e"/>
<path d="M148.2 542.4l1.3 2.2h-2.6z" fill="#48ab5e"/>
<path d="M148.5 550.4l1.3 2.2h-2.6z" fill="#48ab5e"/>
<path d="M148.8 548.2l1.3 2.2h-2.6z" fill="#48ab5e"/>
<path d="M149.9 557.5l1.3 2.2h-2.6z" fill="#48ab5e"/>
<path d="M151.3 542.1l1.3 2.2h-2.6z" fill="#48ab5e"/>
<path d="M151.6 544.7l1.3 2.2h-2.6z" fill="#48ab5e"/>
<path d="M153.5 553.0l1.3 2.2h-2.6z" fill="#48ab5e"/>
<path d="M154.0 552.5l1.3 2.2h-2.6z" fill="#48ab5e"/>
<path d="M158.7 535.7l1.3 2.2h-2.6z" fill="#48ab5e"/>
<path d="M159.6 546.8l1.3 2.2h-2.6z" fill="#48ab5e"/>
<path d="M159.8 534.3l1.3 2.2h-2.6z" fill="#48ab5e"/>
<path d="M160.3 544.4l1.3 2.2h-2.6z" fill="#48ab5e"/>
<path d="M161.0 553.0l1.3 2.2h-2.6z" fill="#48ab5e"/>
<path d="M161.7 536.7l1.3 2.2h-2.6z" fill="#48ab5e"/>
<path d="M161.9 539.3l1.3 2.2h-2.6z" fill="#48ab5e"/>
<path d="M163.2 538.0l1.3 2.2h-2.6z" fill="#48ab5e"/>
<path d="M163.7 543.0l1.3 2.2h-2.6z" fill="#48ab5e"/>
<path d="M164.2 541.5l1.3 2.2h-2.6z" fill="#48ab5e"/>
<path d="M165.8 535.7l1.3 2.2h-2.6z" fill="#48ab5e"/>
<path d="M166.1 543.5l1.3 2.2h-2.6z" fill="#48ab5e"/>
<path d="M166.2 548.5l1.3 2.2h-2.6z" fill="#48ab5e"/>
<path d="M167.0 535.4l1.3 2.2h-2.6z" fill="#48ab5e"/>
<path d="M168.3 541.7l1.3 2.2h-2.6z" fill="#48ab5e"/>
<path d="M168.3 533.3l1.3 2.2h-2.6z" fill="#48ab5e"/>
<path d="M168.5 541.0l1.3 2.2h-2.6z" fill="#48ab5e"/>
<path d="M168.7 540.7l1.3 2.2h-2.6z" fill="#48ab5e"/>
<path d="M169.6 539.6l1.3 2.2h-2.6z" fill="#48ab5e"/>
<path d="M170.7 548.5l1.3 2.2h-2.6z" fill="#48ab5e"/>
<path d="M171.1 532.7l1.3 2.2h-2.6z" fill="#48ab5e"/>
<path d="M171.8 540.4l1.3 2.2h-2.6z" fill="#48ab5e"/>
<path d="M172.6 538.2l1.3 2.2h-2.6z" fill="#48ab5e"/>
<path d="M172.7 530.8l1.3 2.2h-2.6z" fill="#48ab5e"/>
<path d="M175.3 535.7l1.3 2.2h-2.6z" fill="#48ab5e"/>
<path d="M178.7 531.0l1.3 2.2h-2.6z" fill="#48ab5e"/>
<path d="M178.8 533.4l1.3 2.2h-2.6z" fill="#48ab5e"/>
<path d="M180.4 530.8l1.3 2.2h-2.6z" fill="#48ab5e"/>
<path d="M181.2 532.7l1.3 2.2h-2.6z" fill="#48ab5e"/>
<path d="M183.2 527.9l1.3 2.2h-2.6z" fill="#48ab5e"/>
<path d="M185.1 533.1l1.3 2.2h-2.6z" fill="#48ab5e"/>
<path d="M186.6 529.5l1.3 2.2h-2.6z" fill="#48ab5e"/>
<path d="M186.7 534.6l1.3 2.2h-2.6z" fill="#48ab5e"/>
<path d="M189.9 524.6l1.3 2.2h-2.6z" fill="#48ab5e"/>
<path d="M190.0 539.5l1.3 2.2h-2.6z" fill="#48ab5e"/>
<path d="M190.2 528.8l1.3 2.2h-2.6z" fill="#48ab5e"/>
<path d="M190.8 527.7l1.3 2.2h-2.6z" fill="#48ab5e"/>
<path d="M191.4 527.5l1.3 2.2h-2.6z" fill="#48ab5e"/>
<path d="M192.2 528.6l1.3 2.2h-2.6z" fill="#48ab5e"/>
<path d="M192.3 522.5l1.3 2.2h-2.6z" fill="#48ab5e"/>
<path d="M192.8 518.8l1.3 2.2h-2.6z" fill="#48ab5e"/>
<path d="M193.0 530.7l1.3 2.2h-2.6z" fill="#48ab5e"/>
<path d="M193.2 536.4l1.3 2.2h-2.6z" fill="#48ab5e"/>
<path d="M194.2 532.2l1.3 2.2h-2.6z" fill="#48ab5e"/>
<path d="M194.3 530.9l1.3 2.2h-2.6z" fill="#48ab5e"/>
<path d="M194.4 527.8l1.3 2.2h-2.6z" fill="#48ab5e"/>
<path d="M195.0 527.1l1.3 2.2h-2.6z" fill="#48ab5e"/>
<path d="M198.3 519.9l1.3 2.2h-2.6z" fill="#48ab5e"/>
<path d="M199.1 526.0l1.3 2.2h-2.6z" fill="#48ab5e"/>
<path d="M202.8 521.7l1.3 2.2h-2.6z" fill="#48ab5e"/>
<path d="M203.5 520.5l1.3 2.2h-2.6z" fill="#48ab5e"/>
<path d="M204.7 524.0l1.3 2.2h-2.6z" fill="#48ab5e"/>
<path d="M205.4 521.0l1.3 2.2h-2.6z" fill="#48ab5e"/>
<path d="M205.7 507.1l1.3 2.2h-2.6z" fill="#48ab5e"/>
<path d="M206.4 519.3l1.3 2.2h-2.6z" fill="#48ab5e"/>
<path d="M207.2 522.6l1.3 2.2h-2.6z" fill="#48ab5e"/>
<path d="M210.8 525.4l1.3 2.2h-2.6z" fill="#48ab5e"/>
<path d="M215.9 507.6l1.3 2.2h-2.6z" fill="#48ab5e"/>
<path d="M216.2 513.5l1.3 2.2h-2.6z" fill="#48ab5e"/>
<path d="M216.4 514.7l1.3 2.2h-2.6z" fill="#48ab5e"/>
<path d="M216.7 500.9l1.3 2.2h-2.6z" fill="#48ab5e"/>
<path d="M217.1 505.2l1.3 2.2h-2.6z" fill="#48ab5e"/>
<path d="M217.9 518.6l1.3 2.2h-2.6z" fill="#48ab5e"/>
<path d="M218.1 512.4l1.3 2.2h-2.6z" fill="#48ab5e"/>
<path d="M219.0 505.9l1.3 2.2h-2.6z" fill="#48ab5e"/>
<path d="M222.3 505.0l1.3 2.2h-2.6z" fill="#48ab5e"/>
<path d="M222.6 513.5l1.3 2.2h-2.6z" fill="#48ab5e"/>
<path d="M223.6 500.2l1.3 2.2h-2.6z" fill="#48ab5e"/>
<path d="M224.7 499.5l1.3 2.2h-2.6z" fill="#48ab5e"/>
<path d="M225.2 512.4l1.3 2.2h-2.6z" fill="#48ab5e"/>
<path d="M225.5 515.2l1.3 2.2h-2.6z" fill="#48ab5e"/>
<path d="M225.6 513.5l1.3 2.2h-2.6z" fill="#48ab5e"/>
<path d="M227.2 503.9l1.3 2.2h-2.6z" fill="#48ab5e"/>
<path d="M227.8 501.9l1.3 2.2h-2.6z" fill="#48ab5e"/>
<path d="M228.7 505.7l1.3 2.2h-2.6z" fill="#48ab5e"/>
<path d="M229.2 509.1l1.3 2.2h-2.6z" fill="#48ab5e"/>
<path d="M230.3 506.7l1.3 2.2h-2.6z" fill="#48ab5e"/>
<path d="M231.8 503.6l1.3 2.2h-2.6z" fill="#48ab5e"/>
<path d="M234.1 511.5l1.3 2.2h-2.6z" fill="#48ab5e"/>
<path d="M235.8 513.9l1.3 2.2h-2.6z" fill="#48ab5e"/>
<path d="M235.9 506.8l1.3 2.2h-2.6z" fill="#48ab5e"/>
<path d="M237.0 501.1l1.3 2.2h-2.6z" fill="#48ab5e"/>
<path d="M244.5 509.5l1.3 2.2h-2.6z" fill="#48ab5e"/>
<path d="M246.2 510.9l1.3 2.2h-2.6z" fill="#48ab5e"/>
<path d="M247.9 516.4l1.3 2.2h-2.6z" fill="#48ab5e"/>
<path d="M251.2 513.0l1.3 2.2h-2.6z" fill="#48ab5e"/>
<path d="M251.5 525.0l1.3 2.2h-2.6z" fill="#48ab5e"/>
<path d="M252.3 518.6l1.3 2.2h-2.6z" fill="#48ab5e"/>
<path d="M254.7 524.1l1.3 2.2h-2.6z" fill="#48ab5e"/>
<path d="M254.9 522.4l1.3 2.2h-2.6z" fill="#48ab5e"/>
<path d="M256.3 527.8l1.3 2.2h-2.6z" fill="#48ab5e"/>
<path d="M257.4 521.8l1.3 2.2h-2.6z" fill="#48ab5e"/>
<path d="M257.8 526.1l1.3 2.2h-2.6z" fill="#48ab5e"/>
<path d="M258.2 529.0l1.3 2.2h-2.6z" fill="#48ab5e"/>
<path d="M258.4 524.3l1.3 2.2h-2.6z" fill="#48ab5e"/>
<path d="M258.9 527.6l1.3 2.2h-2.6z" fill="#48ab5e"/>
<path d="M260.7 532.3l1.3 2.2h-2.6z" fill="#48ab5e"/>
<path d="M261.1 533.2l1.3 2.2h-2.6z" fill="#48ab5e"/>
<path d="M262.4 529.0l1.3 2.2h-2.6z" fill="#48ab5e"/>
<path d="M263.1 537.6l1.3 2.2h-2.6z" fill="#48ab5e"/>
<path d="M268.0 541.8l1.3 2.2h-2.6z" fill="#48ab5e"/>
<path d="M268.3 542.4l1.3 2.2h-2.6z" fill="#48ab5e"/>
<path d="M268.5 540.2l1.3 2.2h-2.6z" fill="#48ab5e"/>
<path d="M274.0 550.4l1.3 2.2h-2.6z" fill="#48ab5e"/>
<path d="M274.3 540.4l1.3 2.2h-2.6z" fill="#48ab5e"/>
<path d="M277.2 561.8l1.3 2.2h-2.6z" fill="#48ab5e"/>
<path d="M277.7 552.2l1.3 2.2h-2.6z" fill="#48ab5e"/>
<path d="M278.1 555.5l1.3 2.2h-2.6z" fill="#48ab5e"/>
<path d="M279.9 552.8l1.3 2.2h-2.6z" fill="#48ab5e"/>
<path d="M280.6 565.9l1.3 2.2h-2.6z" fill="#48ab5e"/>
<path d="M287.1 561.4l1.3 2.2h-2.6z" fill="#48ab5e"/>
<path d="M295.4 582.0l1.3 2.2h-2.6z" fill="#48ab5e"/>
<path d="M295.6 572.9l1.3 2.2h-2.6z" fill="#48ab5e"/>
<path d="M295.8 574.0l1.3 2.2h-2.6z" fill="#48ab5e"/>
<path d="M296.7 577.0l1.3 2.2h-2.6z" fill="#48ab5e"/>
<path d="M297.3 581.0l1.3 2.2h-2.6z" fill="#48ab5e"/>
<path d="M300.4 584.2l1.3 2.2h-2.6z" fill="#48ab5e"/>
<path d="M301.5 581.2l1.3 2.2h-2.6z" fill="#48ab5e"/>
<path d="M301.9 585.3l1.3 2.2h-2.6z" fill="#48ab5e"/>
<path d="M302.6 591.2l1.3 2.2h-2.6z" fill="#48ab5e"/>
<path d="M303.5 591.4l1.3 2.2h-2.6z" fill="#48ab5e"/>
<path d="M303.6 579.9l1.3 2.2h-2.6z" fill="#48ab5e"/>
<path d="M306.4 582.0l1.3 2.2h-2.6z" fill="#48ab5e"/>
<path d="M306.5 583.5l1.3 2.2h-2.6z" fill="#48ab5e"/>
<path d="M310.8 588.7l1.3 2.2h-2.6z" fill="#48ab5e"/>
<path d="M312.7 588.5l1.3 2.2h-2.6z" fill="#48ab5e"/>
<path d="M314.2 588.9l1.3 2.2h-2.6z" fill="#48ab5e"/>
<path d="M316.8 591.4l1.3 2.2h-2.6z" fill="#48ab5e"/>
<path d="M316.9 596.1l1.3 2.2h-2.6z" fill="#48ab5e"/>
<path d="M317.1 595.9l1.3 2.2h-2.6z" fill="#48ab5e"/>
<path d="M317.1 597.8l1.3 2.2h-2.6z" fill="#48ab5e"/>
<path d="M318.5 592.7l1.3 2.2h-2.6z" fill="#48ab5e"/>
<path d="M320.8 598.9l1.3 2.2h-2.6z" fill="#48ab5e"/>
<path d="M324.4 596.9l1.3 2.2h-2.6z" fill="#48ab5e"/>
<path d="M324.4 590.4l1.3 2.2h-2.6z" fill="#48ab5e"/>
<path d="M51.8 634.3l1.3 2.2h-2.6z" fill="#48ab5e"/>
<path d="M50.5 631.0l1.3 2.2h-2.6z" fill="#48ab5e"/>
<path d="M54.7 642.4l1.3 2.2h-2.6z" fill="#48ab5e"/>
<path d="M52.4 603.9l1.3 2.2h-2.6z" fill="#6ab8ea"/>
<path d="M52.6 604.0l1.3 2.2h-2.6z" fill="#6ab8ea"/>
<path d="M52.8 607.0l1.3 2.2h-2.6z" fill="#6ab8ea"/>
<path d="M53.3 610.4l1.3 2.2h-2.6z" fill="#6ab8ea"/>
<path d="M54.2 601.7l1.3 2.2h-2.6z" fill="#6ab8ea"/>
<path d="M54.5 609.3l1.3 2.2h-2.6z" fill="#6ab8ea"/>
<path d="M55.4 605.5l1.3 2.2h-2.6z" fill="#6ab8ea"/>
<path d="M56.8 601.5l1.3 2.2h-2.6z" fill="#6ab8ea"/>
<path d="M58.3 604.6l1.3 2.2h-2.6z" fill="#6ab8ea"/>
<path d="M62.0 596.7l1.3 2.2h-2.6z" fill="#6ab8ea"/>
<path d="M62.2 603.7l1.3 2.2h-2.6z" fill="#6ab8ea"/>
<path d="M62.2 603.8l1.3 2.2h-2.6z" fill="#6ab8ea"/>
<path d="M62.5 602.3l1.3 2.2h-2.6z" fill="#6ab8ea"/>
<path d="M62.7 608.0l1.3 2.2h-2.6z" fill="#6ab8ea"/>
<path d="M63.3 607.2l1.3 2.2h-2.6z" fill="#6ab8ea"/>
<path d="M63.3 598.9l1.3 2.2h-2.6z" fill="#6ab8ea"/>
<path d="M63.3 610.1l1.3 2.2h-2.6z" fill="#6ab8ea"/>
<path d="M64.6 596.5l1.3 2.2h-2.6z" fill="#6ab8ea"/>
<path d="M66.9 598.9l1.3 2.2h-2.6z" fill="#6ab8ea"/>
<path d="M68.7 593.7l1.3 2.2h-2.6z" fill="#6ab8ea"/>
<path d="M69.2 595.2l1.3 2.2h-2.6z" fill="#6ab8ea"/>
<path d="M70.9 594.9l1.3 2.2h-2.6z" fill="#6ab8ea"/>
<path d="M75.0 587.2l1.3 2.2h-2.6z" fill="#6ab8ea"/>
<path d="M75.9 594.6l1.3 2.2h-2.6z" fill="#6ab8ea"/>
<path d="M76.6 594.3l1.3 2.2h-2.6z" fill="#6ab8ea"/>
<path d="M80.3 586.4l1.3 2.2h-2.6z" fill="#6ab8ea"/>
<path d="M81.0 593.9l1.3 2.2h-2.6z" fill="#6ab8ea"/>
<path d="M83.8 584.1l1.3 2.2h-2.6z" fill="#6ab8ea"/>
<path d="M85.7 584.9l1.3 2.2h-2.6z" fill="#6ab8ea"/>
<path d="M86.1 589.9l1.3 2.2h-2.6z" fill="#6ab8ea"/>
<path d="M89.3 591.2l1.3 2.2h-2.6z" fill="#6ab8ea"/>
<path d="M92.6 592.4l1.3 2.2h-2.6z" fill="#6ab8ea"/>
<path d="M94.1 574.1l1.3 2.2h-2.6z" fill="#6ab8ea"/>
<path d="M94.4 588.9l1.3 2.2h-2.6z" fill="#6ab8ea"/>
<path d="M96.3 586.4l1.3 2.2h-2.6z" fill="#6ab8ea"/>
<path d="M97.4 576.4l1.3 2.2h-2.6z" fill="#6ab8ea"/>
<path d="M98.8 577.3l1.3 2.2h-2.6z" fill="#6ab8ea"/>
<path d="M99.3 578.1l1.3 2.2h-2.6z" fill="#6ab8ea"/>
<path d="M99.6 578.5l1.3 2.2h-2.6z" fill="#6ab8ea"/>
<path d="M100.6 580.2l1.3 2.2h-2.6z" fill="#6ab8ea"/>
<path d="M100.6 582.4l1.3 2.2h-2.6z" fill="#6ab8ea"/>
<path d="M102.0 580.7l1.3 2.2h-2.6z" fill="#6ab8ea"/>
<path d="M105.4 572.6l1.3 2.2h-2.6z" fill="#6ab8ea"/>
<path d="M107.3 569.2l1.3 2.2h-2.6z" fill="#6ab8ea"/>
<path d="M107.3 568.8l1.3 2.2h-2.6z" fill="#6ab8ea"/>
<path d="M108.7 573.4l1.3 2.2h-2.6z" fill="#6ab8ea"/>
<path d="M109.5 582.8l1.3 2.2h-2.6z" fill="#6ab8ea"/>
<path d="M111.0 569.6l1.3 2.2h-2.6z" fill="#6ab8ea"/>
<path d="M111.1 572.4l1.3 2.2h-2.6z" fill="#6ab8ea"/>
<path d="M114.9 581.6l1.3 2.2h-2.6z" fill="#6ab8ea"/>
<path d="M116.5 562.6l1.3 2.2h-2.6z" fill="#6ab8ea"/>
<path d="M116.6 567.8l1.3 2.2h-2.6z" fill="#6ab8ea"/>
<path d="M119.1 567.7l1.3 2.2h-2.6z" fill="#6ab8ea"/>
<path d="M119.7 566.2l1.3 2.2h-2.6z" fill="#6ab8ea"/>
<path d="M123.9 564.6l1.3 2.2h-2.6z" fill="#6ab8ea"/>
<path d="M124.0 564.0l1.3 2.2h-2.6z" fill="#6ab8ea"/>
<path d="M125.5 563.8l1.3 2.2h-2.6z" fill="#6ab8ea"/>
<path d="M126.6 563.8l1.3 2.2h-2.6z" fill="#6ab8ea"/>
<path d="M126.9 561.2l1.3 2.2h-2.6z" fill="#6ab8ea"/>
<path d="M127.6 561.9l1.3 2.2h-2.6z" fill="#6ab8ea"/>
<path d="M127.8 552.6l1.3 2.2h-2.6z" fill="#6ab8ea"/>
<path d="M128.2 562.5l1.3 2.2h-2.6z" fill="#6ab8ea"/>
<path d="M128.3 565.4l1.3 2.2h-2.6z" fill="#6ab8ea"/>
<path d="M129.2 565.4l1.3 2.2h-2.6z" fill="#6ab8ea"/>
<path d="M129.4 560.9l1.3 2.2h-2.6z" fill="#6ab8ea"/>
<path d="M130.4 561.6l1.3 2.2h-2.6z" fill="#6ab8ea"/>
<path d="M130.4 561.1l1.3 2.2h-2.6z" fill="#6ab8ea"/>
<path d="M132.1 562.4l1.3 2.2h-2.6z" fill="#6ab8ea"/>
<path d="M133.6 561.6l1.3 2.2h-2.6z" fill="#6ab8ea"/>
<path d="M133.9 557.3l1.3 2.2h-2.6z" fill="#6ab8ea"/>
<path d="M134.6 554.3l1.3 2.2h-2.6z" fill="#6ab8ea"/>
<path d="M137.0 557.9l1.3 2.2h-2.6z" fill="#6ab8ea"/>
<path d="M138.0 559.5l1.3 2.2h-2.6z" fill="#6ab8ea"/>
<path d="M138.3 564.1l1.3 2.2h-2.6z" fill="#6ab8ea"/>
<path d="M139.5 563.6l1.3 2.2h-2.6z" fill="#6ab8ea"/>
<path d="M140.6 557.7l1.3 2.2h-2.6z" fill="#6ab8ea"/>
<path d="M142.6 558.2l1.3 2.2h-2.6z" fill="#6ab8ea"/>
<path d="M143.4 557.2l1.3 2.2h-2.6z" fill="#6ab8ea"/>
<path d="M144.0 561.5l1.3 2.2h-2.6z" fill="#6ab8ea"/>
<path d="M145.1 556.6l1.3 2.2h-2.6z" fill="#6ab8ea"/>
<path d="M145.7 564.5l1.3 2.2h-2.6z" fill="#6ab8ea"/>
<path d="M147.6 560.4l1.3 2.2h-2.6z" fill="#6ab8ea"/>
<path d="M148.0 558.5l1.3 2.2h-2.6z" fill="#6ab8ea"/>
<path d="M149.4 551.7l1.3 2.2h-2.6z" fill="#6ab8ea"/>
<path d="M151.2 556.3l1.3 2.2h-2.6z" fill="#6ab8ea"/>
<path d="M152.7 557.2l1.3 2.2h-2.6z" fill="#6ab8ea"/>
<path d="M153.0 551.6l1.3 2.2h-2.6z" fill="#6ab8ea"/>
<path d="M153.4 553.1l1.3 2.2h-2.6z" fill="#6ab8ea"/>
<path d="M154.0 548.4l1.3 2.2h-2.6z" fill="#6ab8ea"/>
<path d="M154.8 550.7l1.3 2.2h-2.6z" fill="#6ab8ea"/>
<path d="M155.9 550.8l1.3 2.2h-2.6z" fill="#6ab8ea"/>
<path d="M156.2 552.4l1.3 2.2h-2.6z" fill="#6ab8ea"/>
<path d="M164.9 545.1l1.3 2.2h-2.6z" fill="#6ab8ea"/>
<path d="M165.3 551.2l1.3 2.2h-2.6z" fill="#6ab8ea"/>
<path d="M166.7 554.2l1.3 2.2h-2.6z" fill="#6ab8ea"/>
<path d="M168.6 542.6l1.3 2.2h-2.6z" fill="#6ab8ea"/>
<path d="M168.9 548.6l1.3 2.2h-2.6z" fill="#6ab8ea"/>
<path d="M170.4 545.7l1.3 2.2h-2.6z" fill="#6ab8ea"/>
<path d="M171.8 542.6l1.3 2.2h-2.6z" fill="#6ab8ea"/>
<path d="M175.8 539.2l1.3 2.2h-2.6z" fill="#6ab8ea"/>
<path d="M176.7 556.3l1.3 2.2h-2.6z" fill="#6ab8ea"/>
<path d="M177.1 547.9l1.3 2.2h-2.6z" fill="#6ab8ea"/>
<path d="M178.2 537.3l1.3 2.2h-2.6z" fill="#6ab8ea"/>
<path d="M178.5 550.3l1.3 2.2h-2.6z" fill="#6ab8ea"/>
<path d="M179.9 540.0l1.3 2.2h-2.6z" fill="#6ab8ea"/>
<path d="M180.4 543.5l1.3 2.2h-2.6z" fill="#6ab8ea"/>
<path d="M180.7 545.7l1.3 2.2h-2.6z" fill="#6ab8ea"/>
<path d="M182.8 541.5l1.3 2.2h-2.6z" fill="#6ab8ea"/>
<path d="M186.4 546.9l1.3 2.2h-2.6z" fill="#6ab8ea"/>
<path d="M187.2 537.2l1.3 2.2h-2.6z" fill="#6ab8ea"/>
<path d="M189.9 532.5l1.3 2.2h-2.6z" fill="#6ab8ea"/>
<path d="M191.2 543.5l1.3 2.2h-2.6z" fill="#6ab8ea"/>
<path d="M195.2 538.3l1.3 2.2h-2.6z" fill="#6ab8ea"/>
<path d="M195.5 529.8l1.3 2.2h-2.6z" fill="#6ab8ea"/>
<path d="M196.9 532.8l1.3 2.2h-2.6z" fill="#6ab8ea"/>
<path d="M198.6 535.0l1.3 2.2h-2.6z" fill="#6ab8ea"/>
<path d="M198.6 527.2l1.3 2.2h-2.6z" fill="#6ab8ea"/>
<path d="M199.6 540.6l1.3 2.2h-2.6z" fill="#6ab8ea"/>
<path d="M201.5 533.2l1.3 2.2h-2.6z" fill="#6ab8ea"/>
<path d="M201.7 531.5l1.3 2.2h-2.6z" fill="#6ab8ea"/>
<path d="M202.8 532.7l1.3 2.2h-2.6z" fill="#6ab8ea"/>
<path d="M204.1 526.9l1.3 2.2h-2.6z" fill="#6ab8ea"/>
<path d="M204.8 537.5l1.3 2.2h-2.6z" fill="#6ab8ea"/>
<path d="M209.9 526.2l1.3 2.2h-2.6z" fill="#6ab8ea"/>
<path d="M210.9 529.1l1.3 2.2h-2.6z" fill="#6ab8ea"/>
<path d="M211.2 520.0l1.3 2.2h-2.6z" fill="#6ab8ea"/>
<path d="M212.1 519.9l1.3 2.2h-2.6z" fill="#6ab8ea"/>
<path d="M213.2 527.0l1.3 2.2h-2.6z" fill="#6ab8ea"/>
<path d="M214.6 527.3l1.3 2.2h-2.6z" fill="#6ab8ea"/>
<path d="M215.8 521.5l1.3 2.2h-2.6z" fill="#6ab8ea"/>
<path d="M216.7 524.3l1.3 2.2h-2.6z" fill="#6ab8ea"/>
<path d="M217.5 522.3l1.3 2.2h-2.6z" fill="#6ab8ea"/>
<path d="M217.6 517.7l1.3 2.2h-2.6z" fill="#6ab8ea"/>
<path d="M219.8 519.7l1.3 2.2h-2.6z" fill="#6ab8ea"/>
<path d="M219.8 509.5l1.3 2.2h-2.6z" fill="#6ab8ea"/>
<path d="M221.5 515.6l1.3 2.2h-2.6z" fill="#6ab8ea"/>
<path d="M221.7 518.1l1.3 2.2h-2.6z" fill="#6ab8ea"/>
<path d="M224.7 518.0l1.3 2.2h-2.6z" fill="#6ab8ea"/>
<path d="M225.8 514.4l1.3 2.2h-2.6z" fill="#6ab8ea"/>
<path d="M229.6 504.1l1.3 2.2h-2.6z" fill="#6ab8ea"/>
<path d="M231.5 505.3l1.3 2.2h-2.6z" fill="#6ab8ea"/>
<path d="M232.4 500.8l1.3 2.2h-2.6z" fill="#6ab8ea"/>
<path d="M232.8 501.0l1.3 2.2h-2.6z" fill="#6ab8ea"/>
<path d="M234.6 503.4l1.3 2.2h-2.6z" fill="#6ab8ea"/>
<path d="M237.2 507.7l1.3 2.2h-2.6z" fill="#6ab8ea"/>
<path d="M239.5 504.5l1.3 2.2h-2.6z" fill="#6ab8ea"/>
<path d="M240.6 503.2l1.3 2.2h-2.6z" fill="#6ab8ea"/>
<path d="M242.1 510.6l1.3 2.2h-2.6z" fill="#6ab8ea"/>
<path d="M243.0 501.7l1.3 2.2h-2.6z" fill="#6ab8ea"/>
<path d="M244.5 507.7l1.3 2.2h-2.6z" fill="#6ab8ea"/>
<path d="M245.5 503.5l1.3 2.2h-2.6z" fill="#6ab8ea"/>
<path d="M245.8 505.4l1.3 2.2h-2.6z" fill="#6ab8ea"/>
<path d="M250.0 501.5l1.3 2.2h-2.6z" fill="#6ab8ea"/>
<path d="M251.2 492.8l1.3 2.2h-2.6z" fill="#6ab8ea"/>
<path d="M251.9 510.2l1.3 2.2h-2.6z" fill="#6ab8ea"/>
<path d="M252.0 505.0l1.3 2.2h-2.6z" fill="#6ab8ea"/>
<path d="M253.2 496.5l1.3 2.2h-2.6z" fill="#6ab8ea"/>
<path d="M255.6 511.4l1.3 2.2h-2.6z" fill="#6ab8ea"/>
<path d="M258.7 511.0l1.3 2.2h-2.6z" fill="#6ab8ea"/>
<path d="M260.7 512.4l1.3 2.2h-2.6z" fill="#6ab8ea"/>
<path d="M260.8 510.6l1.3 2.2h-2.6z" fill="#6ab8ea"/>
<path d="M261.9 520.4l1.3 2.2h-2.6z" fill="#6ab8ea"/>
<path d="M262.0 511.9l1.3 2.2h-2.6z" fill="#6ab8ea"/>
<path d="M263.3 512.1l1.3 2.2h-2.6z" fill="#6ab8ea"/>
<path d="M265.9 506.5l1.3 2.2h-2.6z" fill="#6ab8ea"/>
<path d="M269.1 522.4l1.3 2.2h-2.6z" fill="#6ab8ea"/>
<path d="M270.4 526.3l1.3 2.2h-2.6z" fill="#6ab8ea"/>
<path d="M272.5 526.0l1.3 2.2h-2.6z" fill="#6ab8ea"/>
<path d="M275.7 542.9l1.3 2.2h-2.6z" fill="#6ab8ea"/>
<path d="M277.5 532.3l1.3 2.2h-2.6z" fill="#6ab8ea"/>
<path d="M278.2 527.8l1.3 2.2h-2.6z" fill="#6ab8ea"/>
<path d="M283.1 541.9l1.3 2.2h-2.6z" fill="#6ab8ea"/>
<path d="M284.8 544.3l1.3 2.2h-2.6z" fill="#6ab8ea"/>
<path d="M287.8 549.4l1.3 2.2h-2.6z" fill="#6ab8ea"/>
<path d="M288.6 548.7l1.3 2.2h-2.6z" fill="#6ab8ea"/>
<path d="M289.3 555.8l1.3 2.2h-2.6z" fill="#6ab8ea"/>
<path d="M292.2 547.3l1.3 2.2h-2.6z" fill="#6ab8ea"/>
<path d="M292.4 556.5l1.3 2.2h-2.6z" fill="#6ab8ea"/>
<path d="M292.7 556.9l1.3 2.2h-2.6z" fill="#6ab8ea"/>
<path d="M294.3 549.5l1.3 2.2h-2.6z" fill="#6ab8ea"/>
<path d="M294.4 556.9l1.3 2.2h-2.6z" fill="#6ab8ea"/>
<path d="M295.6 560.4l1.3 2.2h-2.6z" fill="#6ab8ea"/>
<path d="M299.0 555.4l1.3 2.2h-2.6z" fill="#6ab8ea"/>
<path d="M299.8 562.9l1.3 2.2h-2.6z" fill="#6ab8ea"/>
<path d="M302.1 562.2l1.3 2.2h-2.6z" fill="#6ab8ea"/>
<path d="M303.2 570.2l1.3 2.2h-2.6z" fill="#6ab8ea"/>
<path d="M304.0 576.5l1.3 2.2h-2.6z" fill="#6ab8ea"/>
<path d="M304.3 568.2l1.3 2.2h-2.6z" fill="#6ab8ea"/>
<path d="M305.1 563.5l1.3 2.2h-2.6z" fill="#6ab8ea"/>
<path d="M307.9 575.0l1.3 2.2h-2.6z" fill="#6ab8ea"/>
<path d="M311.5 575.1l1.3 2.2h-2.6z" fill="#6ab8ea"/>
<path d="M318.4 580.3l1.3 2.2h-2.6z" fill="#6ab8ea"/>
<path d="M318.4 582.4l1.3 2.2h-2.6z" fill="#6ab8ea"/>
<path d="M318.7 583.6l1.3 2.2h-2.6z" fill="#6ab8ea"/>
<path d="M319.4 581.1l1.3 2.2h-2.6z" fill="#6ab8ea"/>
<path d="M321.3 585.4l1.3 2.2h-2.6z" fill="#6ab8ea"/>
<path d="M321.5 588.9l1.3 2.2h-2.6z" fill="#6ab8ea"/>
<path d="M323.8 583.9l1.3 2.2h-2.6z" fill="#6ab8ea"/>
<path d="M323.9 585.1l1.3 2.2h-2.6z" fill="#6ab8ea"/>
<path d="M323.9 587.0l1.3 2.2h-2.6z" fill="#6ab8ea"/>
<path d="M54.8 618.6l1.3 2.2h-2.6z" fill="#6ab8ea"/>
<path d="M50.2 643.2l1.3 2.2h-2.6z" fill="#6ab8ea"/>
<path d="M54.8 637.3l1.3 2.2h-2.6z" fill="#6ab8ea"/>
<path d="M50.6 612.3l1.3 2.2h-2.6z" fill="#7d62b4"/>
<path d="M56.3 608.5l1.3 2.2h-2.6z" fill="#7d62b4"/>
<path d="M57.4 612.1l1.3 2.2h-2.6z" fill="#7d62b4"/>
<path d="M58.1 620.2l1.3 2.2h-2.6z" fill="#7d62b4"/>
<path d="M58.2 608.9l1.3 2.2h-2.6z" fill="#7d62b4"/>
<path d="M59.8 614.9l1.3 2.2h-2.6z" fill="#7d62b4"/>
<path d="M59.9 617.4l1.3 2.2h-2.6z" fill="#7d62b4"/>
<path d="M60.8 610.1l1.3 2.2h-2.6z" fill="#7d62b4"/>
<path d="M61.6 608.8l1.3 2.2h-2.6z" fill="#7d62b4"/>
<path d="M64.1 608.6l1.3 2.2h-2.6z" fill="#7d62b4"/>
<path d="M66.9 603.9l1.3 2.2h-2.6z" fill="#7d62b4"/>
<path d="M67.9 614.8l1.3 2.2h-2.6z" fill="#7d62b4"/>
<path d="M68.2 603.4l1.3 2.2h-2.6z" fill="#7d62b4"/>
<path d="M69.3 598.0l1.3 2.2h-2.6z" fill="#7d62b4"/>
<path d="M71.6 604.4l1.3 2.2h-2.6z" fill="#7d62b4"/>
<path d="M71.8 606.2l1.3 2.2h-2.6z" fill="#7d62b4"/>
<path d="M71.8 604.7l1.3 2.2h-2.6z" fill="#7d62b4"/>
<path d="M73.3 597.5l1.3 2.2h-2.6z" fill="#7d62b4"/>
<path d="M73.6 603.7l1.3 2.2h-2.6z" fill="#7d62b4"/>
<path d="M73.9 606.2l1.3 2.2h-2.6z" fill="#7d62b4"/>
<path d="M74.7 609.9l1.3 2.2h-2.6z" fill="#7d62b4"/>
<path d="M75.0 595.6l1.3 2.2h-2.6z" fill="#7d62b4"/>
<path d="M77.6 594.0l1.3 2.2h-2.6z" fill="#7d62b4"/>
<path d="M79.3 599.3l1.3 2.2h-2.6z" fill="#7d62b4"/>
<path d="M79.5 589.9l1.3 2.2h-2.6z" fill="#7d62b4"/>
<path d="M80.9 600.2l1.3 2.2h-2.6z" fill="#7d62b4"/>
<path d="M81.2 594.9l1.3 2.2h-2.6z" fill="#7d62b4"/>
<path d="M81.6 603.9l1.3 2.2h-2.6z" fill="#7d62b4"/>
<path d="M85.9 599.9l1.3 2.2h-2.6z" fill="#7d62b4"/>
<path d="M86.2 595.2l1.3 2.2h-2.6z" fill="#7d62b4"/>
<path d="M86.3 592.9l1.3 2.2h-2.6z" fill="#7d62b4"/>
<path d="M86.5 592.2l1.3 2.2h-2.6z" fill="#7d62b4"/>
<path d="M88.4 597.8l1.3 2.2h-2.6z" fill="#7d62b4"/>
<path d="M90.7 594.8l1.3 2.2h-2.6z" fill="#7d62b4"/>
<path d="M92.0 592.1l1.3 2.2h-2.6z" fill="#7d62b4"/>
<path d="M93.5 592.0l1.3 2.2h-2.6z" fill="#7d62b4"/>
<path d="M94.4 591.3l1.3 2.2h-2.6z" fill="#7d62b4"/>
<path d="M96.2 585.4l1.3 2.2h-2.6z" fill="#7d62b4"/>
<path d="M97.2 583.2l1.3 2.2h-2.6z" fill="#7d62b4"/>
<path d="M101.3 594.3l1.3 2.2h-2.6z" fill="#7d62b4"/>
<path d="M101.3 580.0l1.3 2.2h-2.6z" fill="#7d62b4"/>
<path d="M101.8 584.9l1.3 2.2h-2.6z" fill="#7d62b4"/>
<path d="M102.7 583.7l1.3 2.2h-2.6z" fill="#7d62b4"/>
<path d="M102.9 583.5l1.3 2.2h-2.6z" fill="#7d62b4"/>
<path d="M103.5 580.5l1.3 2.2h-2.6z" fill="#7d62b4"/>
<path d="M105.2 580.5l1.3 2.2h-2.6z" fill="#7d62b4"/>
<path d="M105.6 590.3l1.3 2.2h-2.6z" fill="#7d62b4"/>
<path d="M108.9 577.5l1.3 2.2h-2.6z" fill="#7d62b4"/>
<path d="M110.0 585.8l1.3 2.2h-2.6z" fill="#7d62b4"/>
<path d="M110.1 579.0l1.3 2.2h-2.6z" fill="#7d62b4"/>
<path d="M110.6 579.4l1.3 2.2h-2.6z" fill="#7d62b4"/>
<path d="M110.6 587.3l1.3 2.2h-2.6z" fill="#7d62b4"/>
<path d="M111.6 579.7l1.3 2.2h-2.6z" fill="#7d62b4"/>
<path d="M113.2 580.0l1.3 2.2h-2.6z" fill="#7d62b4"/>
<path d="M114.0 581.4l1.3 2.2h-2.6z" fill="#7d62b4"/>
<path d="M115.5 568.3l1.3 2.2h-2.6z" fill="#7d62b4"/>
<path d="M116.1 576.5l1.3 2.2h-2.6z" fill="#7d62b4"/>
<path d="M116.6 578.5l1.3 2.2h-2.6z" fill="#7d62b4"/>
<path d="M116.6 569.0l1.3 2.2h-2.6z" fill="#7d62b4"/>
<path d="M118.1 576.1l1.3 2.2h-2.6z" fill="#7d62b4"/>
<path d="M119.0 576.1l1.3 2.2h-2.6z" fill="#7d62b4"/>
<path d="M119.7 584.1l1.3 2.2h-2.6z" fill="#7d62b4"/>
<path d="M120.3 572.0l1.3 2.2h-2.6z" fill="#7d62b4"/>
<path d="M121.1 569.7l1.3 2.2h-2.6z" fill="#7d62b4"/>
<path d="M122.0 565.1l1.3 2.2h-2.6z" fill="#7d62b4"/>
<path d="M123.3 577.6l1.3 2.2h-2.6z" fill="#7d62b4"/>
<path d="M126.6 566.4l1.3 2.2h-2.6z" fill="#7d62b4"/>
<path d="M126.9 564.6l1.3 2.2h-2.6z" fill="#7d62b4"/>
<path d="M128.8 566.6l1.3 2.2h-2.6z" fill="#7d62b4"/>
<path d="M129.4 569.6l1.3 2.2h-2.6z" fill="#7d62b4"/>
<path d="M129.9 576.8l1.3 2.2h-2.6z" fill="#7d62b4"/>
<path d="M132.4 567.1l1.3 2.2h-2.6z" fill="#7d62b4"/>
<path d="M132.4 570.5l1.3 2.2h-2.6z" fill="#7d62b4"/>
<path d="M133.5 575.2l1.3 2.2h-2.6z" fill="#7d62b4"/>
<path d="M134.3 564.3l1.3 2.2h-2.6z" fill="#7d62b4"/>
<path d="M135.1 567.1l1.3 2.2h-2.6z" fill="#7d62b4"/>
<path d="M136.7 566.8l1.3 2.2h-2.6z" fill="#7d62b4"/>
<path d="M136.7 556.8l1.3 2.2h-2.6z" fill="#7d62b4"/>
<path d="M136.8 568.1l1.3 2.2h-2.6z" fill="#7d62b4"/>
<path d="M137.6 574.6l1.3 2.2h-2.6z" fill="#7d62b4"/>
<path d="M137.8 575.2l1.3 2.2h-2.6z" fill="#7d62b4"/>
<path d="M138.1 562.6l1.3 2.2h-2.6z" fill="#7d62b4"/>
<path d="M138.9 565.6l1.3 2.2h-2.6z" fill="#7d62b4"/>
<path d="M139.3 567.8l1.3 2.2h-2.6z" fill="#7d62b4"/>
<path d="M139.6 573.8l1.3 2.2h-2.6z" fill="#7d62b4"/>
<path d="M143.4 566.2l1.3 2.2h-2.6z" fill="#7d62b4"/>
<path d="M145.0 566.8l1.3 2.2h-2.6z" fill="#7d62b4"/>
<path d="M145.7 561.9l1.3 2.2h-2.6z" fill="#7d62b4"/>
<path d="M146.7 564.9l1.3 2.2h-2.6z" fill="#7d62b4"/>
<path d="M147.3 564.7l1.3 2.2h-2.6z" fill="#7d62b4"/>
<path d="M147.6 560.8l1.3 2.2h-2.6z" fill="#7d62b4"/>
<path d="M147.8 564.1l1.3 2.2h-2.6z" fill="#7d62b4"/>
<path d="M148.1 558.9l1.3 2.2h-2.6z" fill="#7d62b4"/>
<path d="M152.7 573.9l1.3 2.2h-2.6z" fill="#7d62b4"/>
<path d="M153.8 563.6l1.3 2.2h-2.6z" fill="#7d62b4"/>
<path d="M154.6 552.3l1.3 2.2h-2.6z" fill="#7d62b4"/>
<path d="M156.2 556.2l1.3 2.2h-2.6z" fill="#7d62b4"/>
<path d="M156.8 561.8l1.3 2.2h-2.6z" fill="#7d62b4"/>
<path d="M164.0 555.1l1.3 2.2h-2.6z" fill="#7d62b4"/>
<path d="M165.2 556.4l1.3 2.2h-2.6z" fill="#7d62b4"/>
<path d="M166.3 555.0l1.3 2.2h-2.6z" fill="#7d62b4"/>
<path d="M169.9 545.5l1.3 2.2h-2.6z" fill="#7d62b4"/>
<path d="M170.1 553.7l1.3 2.2h-2.6z" fill="#7d62b4"/>
<path d="M170.4 550.8l1.3 2.2h-2.6z" fill="#7d62b4"/>
<path d="M171.8 555.0l1.3 2.2h-2.6z" fill="#7d62b4"/>
<path d="M171.9 554.4l1.3 2.2h-2.6z" fill="#7d62b4"/>
<path d="M173.0 557.5l1.3 2.2h-2.6z" fill="#7d62b4"/>
<path d="M175.6 552.3l1.3 2.2h-2.6z" fill="#7d62b4"/>
<path d="M175.9 551.0l1.3 2.2h-2.6z" fill="#7d62b4"/>
<path d="M176.0 550.5l1.3 2.2h-2.6z" fill="#7d62b4"/>
<path d="M176.2 548.8l1.3 2.2h-2.6z" fill="#7d62b4"/>
<path d="M176.4 548.5l1.3 2.2h-2.6z" fill="#7d62b4"/>
<path d="M176.8 545.8l1.3 2.2h-2.6z" fill="#7d62b4"/>
<path d="M177.6 549.2l1.3 2.2h-2.6z" fill="#7d62b4"/>
<path d="M178.0 542.1l1.3 2.2h-2.6z" fill="#7d62b4"/>
<path d="M178.2 545.2l1.3 2.2h-2.6z" fill="#7d62b4"/>
<path d="M178.7 541.5l1.3 2.2h-2.6z" fill="#7d62b4"/>
<path d="M178.9 547.8l1.3 2.2h-2.6z" fill="#7d62b4"/>
<path d="M179.1 542.0l1.3 2.2h-2.6z" fill="#7d62b4"/>
<path d="M179.3 546.9l1.3 2.2h-2.6z" fill="#7d62b4"/>
<path d="M180.0 554.3l1.3 2.2h-2.6z" fill="#7d62b4"/>
<path d="M181.8 545.9l1.3 2.2h-2.6z" fill="#7d62b4"/>
<path d="M183.8 545.2l1.3 2.2h-2.6z" fill="#7d62b4"/>
<path d="M184.4 550.6l1.3 2.2h-2.6z" fill="#7d62b4"/>
<path d="M185.5 547.7l1.3 2.2h-2.6z" fill="#7d62b4"/>
<path d="M186.3 545.3l1.3 2.2h-2.6z" fill="#7d62b4"/>
<path d="M186.8 532.0l1.3 2.2h-2.6z" fill="#7d62b4"/>
<path d="M187.6 540.2l1.3 2.2h-2.6z" fill="#7d62b4"/>
<path d="M187.7 533.4l1.3 2.2h-2.6z" fill="#7d62b4"/>
<path d="M187.8 537.2l1.3 2.2h-2.6z" fill="#7d62b4"/>
<path d="M189.2 535.4l1.3 2.2h-2.6z" fill="#7d62b4"/>
<path d="M189.2 536.6l1.3 2.2h-2.6z" fill="#7d62b4"/>
<path d="M189.9 546.4l1.3 2.2h-2.6z" fill="#7d62b4"/>
<path d="M190.4 533.6l1.3 2.2h-2.6z" fill="#7d62b4"/>
<path d="M191.0 543.2l1.3 2.2h-2.6z" fill="#7d62b4"/>
<path d="M191.0 536.7l1.3 2.2h-2.6z" fill="#7d62b4"/>
<path d="M193.6 536.6l1.3 2.2h-2.6z" fill="#7d62b4"/>
<path d="M196.0 526.4l1.3 2.2h-2.6z" fill="#7d62b4"/>
<path d="M196.1 528.2l1.3 2.2h-2.6z" fill="#7d62b4"/>
<path d="M197.1 524.3l1.3 2.2h-2.6z" fill="#7d62b4"/>
<path d="M197.6 529.7l1.3 2.2h-2.6z" fill="#7d62b4"/>
<path d="M198.6 530.7l1.3 2.2h-2.6z" fill="#7d62b4"/>
<path d="M201.0 524.4l1.3 2.2h-2.6z" fill="#7d62b4"/>
<path d="M201.4 516.7l1.3 2.2h-2.6z" fill="#7d62b4"/>
<path d="M203.4 522.6l1.3 2.2h-2.6z" fill="#7d62b4"/>
<path d="M204.2 523.7l1.3 2.2h-2.6z" fill="#7d62b4"/>
<path d="M204.4 529.2l1.3 2.2h-2.6z" fill="#7d62b4"/>
<path d="M206.5 524.2l1.3 2.2h-2.6z" fill="#7d62b4"/>
<path d="M206.7 521.0l1.3 2.2h-2.6z" fill="#7d62b4"/>
<path d="M207.5 516.6l1.3 2.2h-2.6z" fill="#7d62b4"/>
<path d="M207.6 516.7l1.3 2.2h-2.6z" fill="#7d62b4"/>
<path d="M208.3 519.0l1.3 2.2h-2.6z" fill="#7d62b4"/>
<path d="M208.6 517.6l1.3 2.2h-2.6z" fill="#7d62b4"/>
<path d="M209.1 510.5l1.3 2.2h-2.6z" fill="#7d62b4"/>
<path d="M210.5 507.3l1.3 2.2h-2.6z" fill="#7d62b4"/>
<path d="M211.2 509.2l1.3 2.2h-2.6z" fill="#7d62b4"/>
<path d="M211.9 506.8l1.3 2.2h-2.6z" fill="#7d62b4"/>
<path d="M217.5 500.7l1.3 2.2h-2.6z" fill="#7d62b4"/>
<path d="M217.5 498.0l1.3 2.2h-2.6z" fill="#7d62b4"/>
<path d="M218.5 510.6l1.3 2.2h-2.6z" fill="#7d62b4"/>
<path d="M219.2 506.4l1.3 2.2h-2.6z" fill="#7d62b4"/>
<path d="M219.5 502.7l1.3 2.2h-2.6z" fill="#7d62b4"/>
<path d="M220.3 501.0l1.3 2.2h-2.6z" fill="#7d62b4"/>
<path d="M220.4 496.7l1.3 2.2h-2.6z" fill="#7d62b4"/>
<path d="M222.4 508.5l1.3 2.2h-2.6z" fill="#7d62b4"/>
<path d="M222.9 499.2l1.3 2.2h-2.6z" fill="#7d62b4"/>
<path d="M224.4 497.1l1.3 2.2h-2.6z" fill="#7d62b4"/>
<path d="M224.7 501.0l1.3 2.2h-2.6z" fill="#7d62b4"/>
<path d="M225.3 498.1l1.3 2.2h-2.6z" fill="#7d62b4"/>
<path d="M227.6 491.1l1.3 2.2h-2.6z" fill="#7d62b4"/>
<path d="M228.8 492.8l1.3 2.2h-2.6z" fill="#7d62b4"/>
<path d="M229.4 495.1l1.3 2.2h-2.6z" fill="#7d62b4"/>
<path d="M231.3 492.7l1.3 2.2h-2.6z" fill="#7d62b4"/>
<path d="M234.4 493.5l1.3 2.2h-2.6z" fill="#7d62b4"/>
<path d="M235.1 488.7l1.3 2.2h-2.6z" fill="#7d62b4"/>
<path d="M235.7 493.3l1.3 2.2h-2.6z" fill="#7d62b4"/>
<path d="M240.5 489.8l1.3 2.2h-2.6z" fill="#7d62b4"/>
<path d="M241.1 497.0l1.3 2.2h-2.6z" fill="#7d62b4"/>
<path d="M241.2 494.7l1.3 2.2h-2.6z" fill="#7d62b4"/>
<path d="M241.8 499.9l1.3 2.2h-2.6z" fill="#7d62b4"/>
<path d="M242.8 496.5l1.3 2.2h-2.6z" fill="#7d62b4"/>
<path d="M245.5 494.0l1.3 2.2h-2.6z" fill="#7d62b4"/>
<path d="M246.1 502.8l1.3 2.2h-2.6z" fill="#7d62b4"/>
<path d="M248.3 502.1l1.3 2.2h-2.6z" fill="#7d62b4"/>
<path d="M248.6 500.3l1.3 2.2h-2.6z" fill="#7d62b4"/>
<path d="M249.7 503.6l1.3 2.2h-2.6z" fill="#7d62b4"/>
<path d="M249.8 498.5l1.3 2.2h-2.6z" fill="#7d62b4"/>
<path d="M250.5 508.5l1.3 2.2h-2.6z" fill="#7d62b4"/>
<path d="M250.7 499.4l1.3 2.2h-2.6z" fill="#7d62b4"/>
<path d="M250.8 497.4l1.3 2.2h-2.6z" fill="#7d62b4"/>
<path d="M252.8 498.6l1.3 2.2h-2.6z" fill="#7d62b4"/>
<path d="M253.3 507.0l1.3 2.2h-2.6z" fill="#7d62b4"/>
<path d="M253.4 510.3l1.3 2.2h-2.6z" fill="#7d62b4"/>
<path d="M253.8 514.4l1.3 2.2h-2.6z" fill="#7d62b4"/>
<path d="M254.1 504.7l1.3 2.2h-2.6z" fill="#7d62b4"/>
<path d="M254.7 504.9l1.3 2.2h-2.6z" fill="#7d62b4"/>
<path d="M255.1 507.8l1.3 2.2h-2.6z" fill="#7d62b4"/>
<path d="M255.2 507.7l1.3 2.2h-2.6z" fill="#7d62b4"/>
<path d="M256.5 508.1l1.3 2.2h-2.6z" fill="#7d62b4"/>
<path d="M258.5 515.7l1.3 2.2h-2.6z" fill="#7d62b4"/>
<path d="M258.7 521.0l1.3 2.2h-2.6z" fill="#7d62b4"/>
<path d="M260.0 522.8l1.3 2.2h-2.6z" fill="#7d62b4"/>
<path d="M260.6 520.9l1.3 2.2h-2.6z" fill="#7d62b4"/>
<path d="M261.9 523.6l1.3 2.2h-2.6z" fill="#7d62b4"/>
<path d="M264.1 530.1l1.3 2.2h-2.6z" fill="#7d62b4"/>
<path d="M264.7 525.9l1.3 2.2h-2.6z" fill="#7d62b4"/>
<path d="M265.1 529.2l1.3 2.2h-2.6z" fill="#7d62b4"/>
<path d="M266.4 523.6l1.3 2.2h-2.6z" fill="#7d62b4"/>
<path d="M266.6 527.4l1.3 2.2h-2.6z" fill="#7d62b4"/>
<path d="M270.8 530.2l1.3 2.2h-2.6z" fill="#7d62b4"/>
<path d="M271.7 541.0l1.3 2.2h-2.6z" fill="#7d62b4"/>
<path d="M272.1 540.7l1.3 2.2h-2.6z" fill="#7d62b4"/>
<path d="M273.7 545.5l1.3 2.2h-2.6z" fill="#7d62b4"/>
<path d="M275.7 540.2l1.3 2.2h-2.6z" fill="#7d62b4"/>
<path d="M275.8 527.7l1.3 2.2h-2.6z" fill="#7d62b4"/>
<path d="M279.7 546.5l1.3 2.2h-2.6z" fill="#7d62b4"/>
<path d="M279.8 549.6l1.3 2.2h-2.6z" fill="#7d62b4"/>
<path d="M281.6 549.3l1.3 2.2h-2.6z" fill="#7d62b4"/>
<path d="M282.0 550.9l1.3 2.2h-2.6z" fill="#7d62b4"/>
<path d="M284.8 550.4l1.3 2.2h-2.6z" fill="#7d62b4"/>
<path d="M285.2 555.3l1.3 2.2h-2.6z" fill="#7d62b4"/>
<path d="M285.3 559.3l1.3 2.2h-2.6z" fill="#7d62b4"/>
<path d="M286.1 565.0l1.3 2.2h-2.6z" fill="#7d62b4"/>
<path d="M287.5 556.7l1.3 2.2h-2.6z" fill="#7d62b4"/>
<path d="M290.2 557.4l1.3 2.2h-2.6z" fill="#7d62b4"/>
<path d="M290.4 561.4l1.3 2.2h-2.6z" fill="#7d62b4"/>
<path d="M290.5 566.3l1.3 2.2h-2.6z" fill="#7d62b4"/>
<path d="M291.5 565.5l1.3 2.2h-2.6z" fill="#7d62b4"/>
<path d="M292.2 565.9l1.3 2.2h-2.6z" fill="#7d62b4"/>
<path d="M297.6 568.2l1.3 2.2h-2.6z" fill="#7d62b4"/>
<path d="M298.9 572.6l1.3 2.2h-2.6z" fill="#7d62b4"/>
<path d="M299.1 567.3l1.3 2.2h-2.6z" fill="#7d62b4"/>
<path d="M300.4 574.8l1.3 2.2h-2.6z" fill="#7d62b4"/>
<path d="M300.5 577.0l1.3 2.2h-2.6z" fill="#7d62b4"/>
<path d="M301.3 566.7l1.3 2.2h-2.6z" fill="#7d62b4"/>
<path d="M301.5 579.7l1.3 2.2h-2.6z" fill="#7d62b4"/>
<path d="M302.4 579.6l1.3 2.2h-2.6z" fill="#7d62b4"/>
<path d="M302.6 567.0l1.3 2.2h-2.6z" fill="#7d62b4"/>
<path d="M303.9 576.4l1.3 2.2h-2.6z" fill="#7d62b4"/>
<path d="M304.0 569.8l1.3 2.2h-2.6z" fill="#7d62b4"/>
<path d="M304.2 589.1l1.3 2.2h-2.6z" fill="#7d62b4"/>
<path d="M304.3 572.5l1.3 2.2h-2.6z" fill="#7d62b4"/>
<path d="M304.5 578.3l1.3 2.2h-2.6z" fill="#7d62b4"/>
<path d="M306.7 580.1l1.3 2.2h-2.6z" fill="#7d62b4"/>
<path d="M307.4 579.0l1.3 2.2h-2.6z" fill="#7d62b4"/>
<path d="M308.9 595.0l1.3 2.2h-2.6z" fill="#7d62b4"/>
<path d="M310.5 588.1l1.3 2.2h-2.6z" fill="#7d62b4"/>
<path d="M310.7 582.3l1.3 2.2h-2.6z" fill="#7d62b4"/>
<path d="M311.1 570.2l1.3 2.2h-2.6z" fill="#7d62b4"/>
<path d="M311.7 588.5l1.3 2.2h-2.6z" fill="#7d62b4"/>
<path d="M315.2 577.5l1.3 2.2h-2.6z" fill="#7d62b4"/>
<path d="M315.3 585.4l1.3 2.2h-2.6z" fill="#7d62b4"/>
<path d="M317.8 585.5l1.3 2.2h-2.6z" fill="#7d62b4"/>
<path d="M321.0 596.8l1.3 2.2h-2.6z" fill="#7d62b4"/>
<path d="M321.1 589.8l1.3 2.2h-2.6z" fill="#7d62b4"/>
<path d="M322.0 597.0l1.3 2.2h-2.6z" fill="#7d62b4"/>
<path d="M322.8 599.2l1.3 2.2h-2.6z" fill="#7d62b4"/>
<path d="M323.3 588.3l1.3 2.2h-2.6z" fill="#7d62b4"/>
<path d="M324.2 597.9l1.3 2.2h-2.6z" fill="#7d62b4"/>
<path d="M324.9 597.5l1.3 2.2h-2.6z" fill="#7d62b4"/>
<path d="M52.0 635.8l1.3 2.2h-2.6z" fill="#7d62b4"/>
<path d="M54.0 627.4l1.3 2.2h-2.6z" fill="#7d62b4"/>
<path d="M53.0 626.0l1.3 2.2h-2.6z" fill="#7d62b4"/>
<path d="M48.90 606.86 L50.64 604.70 L52.38 602.55 L54.12 600.41 L55.85 598.29 L57.59 596.19 L59.33 594.12 L61.07 592.08 L62.81 590.08 L64.55 588.13 L66.28 586.23 L68.02 584.38 L69.76 582.58 L71.50 580.82 L73.24 579.10 L74.98 577.43 L76.71 575.79 L78.45 574.18 L80.19 572.60 L81.93 571.04 L83.67 569.50 L85.41 567.99 L87.14 566.50 L88.88 565.04 L90.62 563.61 L92.36 562.22 L94.10 560.87 L95.84 559.57 L97.57 558.32 L99.31 557.12 L101.05 555.98 L102.79 554.91 L104.53 553.90 L106.27 552.94 L108.00 552.05 L109.74 551.22 L111.48 550.45 L113.22 549.74 L114.96 549.08 L116.70 548.48 L118.43 547.94 L120.17 547.46 L121.91 547.03 L123.65 546.66 L125.39 546.35 L127.13 546.10 L128.86 545.91 L130.60 545.79 L132.34 545.73 L134.08 545.73 L135.82 545.78 L137.56 545.89 L139.29 546.05 L141.03 546.25 L142.77 546.50 L144.51 546.79 L146.25 547.14 L147.99 547.53 L149.73 547.97 L151.46 548.48 L153.20 549.04 L154.94 549.66 L156.68 550.35 L158.42 551.11 L160.16 551.94 L161.89 552.83 L163.63 553.78 L165.37 554.77 L167.11 555.81 L168.85 556.90 L170.59 558.01 L172.32 559.15 L174.06 560.31 L175.80 561.49 L177.54 562.67 L179.28 563.87 L181.02 565.07 L182.75 566.29 L184.49 567.51 L186.23 568.74 L187.97 569.97 L189.71 571.21 L191.45 572.46 L193.18 573.71 L194.92 574.97 L196.66 576.22 L198.40 577.47 L200.14 578.71 L201.88 579.93 L203.61 581.13 L205.35 582.30 L207.09 583.44 L208.83 584.54 L210.57 585.61 L212.31 586.63 L214.04 587.60 L215.78 588.55 L217.52 589.46 L219.26 590.35 L221.00 591.22 L222.74 592.07 L224.47 592.92 L226.21 593.76 L227.95 594.60 L229.69 595.44 L231.43 596.28 L233.17 597.11 L234.91 597.92 L236.64 598.70 L238.38 599.45 L240.12 600.16 L241.86 600.82 L243.60 601.43 L245.34 602.00 L247.07 602.52 L248.81 603.00 L250.55 603.44 L252.29 603.85 L254.03 604.23 L255.77 604.58 L257.50 604.90 L259.24 605.20 L260.98 605.48 L262.72 605.74 L264.46 605.99 L266.20 606.22 L267.93 606.43 L269.67 606.62 L271.41 606.81 L273.15 606.97 L274.89 607.13 L276.63 607.27 L278.36 607.40 L280.10 607.53 L281.84 607.64 L283.58 607.74 L285.32 607.83 L287.06 607.92 L288.79 608.00 L290.53 608.07 L292.27 608.14 L294.01 608.19 L295.75 608.25 L297.49 608.30 L299.22 608.34 L300.96 608.38 L302.70 608.42 L304.44 608.45 L306.18 608.48 L307.92 608.51 L309.65 608.54 L311.39 608.56 L313.13 608.59 L314.87 608.61 L316.61 608.63 L318.35 608.65 L320.08 608.67 L321.82 608.69 L323.56 608.71 L325.30 608.73" fill="none" stroke="#8c8c8c" stroke-width="1.25"/>
<path d="M48.90 606.52 L50.64 605.38 L52.38 604.24 L54.12 603.10 L55.85 601.96 L57.59 600.81 L59.33 599.66 L61.07 598.50 L62.81 597.34 L64.55 596.17 L66.28 595.00 L68.02 593.81 L69.76 592.62 L71.50 591.43 L73.24 590.23 L74.98 589.03 L76.71 587.83 L78.45 586.63 L80.19 585.43 L81.93 584.23 L83.67 583.03 L85.41 581.84 L87.14 580.66 L88.88 579.49 L90.62 578.33 L92.36 577.19 L94.10 576.06 L95.84 574.96 L97.57 573.88 L99.31 572.83 L101.05 571.81 L102.79 570.82 L104.53 569.86 L106.27 568.92 L108.00 568.02 L109.74 567.14 L111.48 566.29 L113.22 565.46 L114.96 564.65 L116.70 563.87 L118.43 563.11 L120.17 562.37 L121.91 561.65 L123.65 560.95 L125.39 560.28 L127.13 559.64 L128.86 559.02 L130.60 558.43 L132.34 557.88 L134.08 557.36 L135.82 556.87 L137.56 556.42 L139.29 556.02 L141.03 555.68 L142.77 555.42 L144.51 555.25 L146.25 555.18 L147.99 555.19 L149.73 555.29 L151.46 555.48 L153.20 555.73 L154.94 556.05 L156.68 556.42 L158.42 556.85 L160.16 557.33 L161.89 557.85 L163.63 558.40 L165.37 558.99 L167.11 559.60 L168.85 560.24 L170.59 560.90 L172.32 561.57 L174.06 562.25 L175.80 562.94 L177.54 563.63 L179.28 564.32 L181.02 565.02 L182.75 565.71 L184.49 566.41 L186.23 567.10 L187.97 567.80 L189.71 568.49 L191.45 569.19 L193.18 569.88 L194.92 570.58 L196.66 571.27 L198.40 571.97 L200.14 572.66 L201.88 573.37 L203.61 574.07 L205.35 574.78 L207.09 575.50 L208.83 576.23 L210.57 576.96 L212.31 577.71 L214.04 578.47 L215.78 579.23 L217.52 580.00 L219.26 580.77 L221.00 581.55 L222.74 582.32 L224.47 583.10 L226.21 583.88 L227.95 584.66 L229.69 585.43 L231.43 586.19 L233.17 586.95 L234.91 587.69 L236.64 588.41 L238.38 589.10 L240.12 589.77 L241.86 590.41 L243.60 591.02 L245.34 591.60 L247.07 592.14 L248.81 592.66 L250.55 593.16 L252.29 593.62 L254.03 594.07 L255.77 594.48 L257.50 594.88 L259.24 595.25 L260.98 595.60 L262.72 595.93 L264.46 596.24 L266.20 596.53 L267.93 596.81 L269.67 597.08 L271.41 597.33 L273.15 597.57 L274.89 597.80 L276.63 598.02 L278.36 598.24 L280.10 598.45 L281.84 598.65 L283.58 598.86 L285.32 599.06 L287.06 599.26 L288.79 599.47 L290.53 599.67 L292.27 599.87 L294.01 600.07 L295.75 600.26 L297.49 600.44 L299.22 600.62 L300.96 600.80 L302.70 600.96 L304.44 601.12 L306.18 601.26 L307.92 601.39 L309.65 601.51 L311.39 601.61 L313.13 601.70 L314.87 601.78 L316.61 601.85 L318.35 601.91 L320.08 601.96 L321.82 602.00 L323.56 602.05 L325.30 602.09" fill="none" stroke="#e9b12a" stroke-width="1.25"/>
<path d="M48.90 619.80 L50.64 617.78 L52.38 615.76 L54.12 613.75 L55.85 611.75 L57.59 609.75 L59.33 607.77 L61.07 605.81 L62.81 603.86 L64.55 601.94 L66.28 600.03 L68.02 598.15 L69.76 596.27 L71.50 594.41 L73.24 592.53 L74.98 590.64 L76.71 588.73 L78.45 586.79 L80.19 584.82 L81.93 582.79 L83.67 580.71 L85.41 578.57 L87.14 576.38 L88.88 574.15 L90.62 571.90 L92.36 569.63 L94.10 567.37 L95.84 565.10 L97.57 562.86 L99.31 560.65 L101.05 558.47 L102.79 556.35 L104.53 554.27 L106.27 552.24 L108.00 550.26 L109.74 548.32 L111.48 546.44 L113.22 544.59 L114.96 542.80 L116.70 541.05 L118.43 539.34 L120.17 537.69 L121.91 536.08 L123.65 534.53 L125.39 533.04 L127.13 531.61 L128.86 530.25 L130.60 528.96 L132.34 527.75 L134.08 526.62 L135.82 525.58 L137.56 524.63 L139.29 523.77 L141.03 523.01 L142.77 522.35 L144.51 521.78 L146.25 521.32 L147.99 520.97 L149.73 520.72 L151.46 520.57 L153.20 520.52 L154.94 520.56 L156.68 520.68 L158.42 520.87 L160.16 521.12 L161.89 521.45 L163.63 521.84 L165.37 522.30 L167.11 522.82 L168.85 523.42 L170.59 524.08 L172.32 524.81 L174.06 525.60 L175.80 526.46 L177.54 527.39 L179.28 528.38 L181.02 529.44 L182.75 530.57 L184.49 531.76 L186.23 533.01 L187.97 534.33 L189.71 535.71 L191.45 537.16 L193.18 538.67 L194.92 540.24 L196.66 541.86 L198.40 543.53 L200.14 545.25 L201.88 547.00 L203.61 548.79 L205.35 550.60 L207.09 552.43 L208.83 554.27 L210.57 556.13 L212.31 557.98 L214.04 559.83 L215.78 561.67 L217.52 563.49 L219.26 565.28 L221.00 567.05 L222.74 568.77 L224.47 570.44 L226.21 572.06 L227.95 573.62 L229.69 575.11 L231.43 576.55 L233.17 577.92 L234.91 579.24 L236.64 580.51 L238.38 581.72 L240.12 582.89 L241.86 584.01 L243.60 585.08 L245.34 586.12 L247.07 587.10 L248.81 588.04 L250.55 588.94 L252.29 589.79 L254.03 590.59 L255.77 591.34 L257.50 592.05 L259.24 592.70 L260.98 593.31 L262.72 593.86 L264.46 594.36 L266.20 594.82 L267.93 595.24 L269.67 595.61 L271.41 595.96 L273.15 596.27 L274.89 596.55 L276.63 596.81 L278.36 597.04 L280.10 597.26 L281.84 597.46 L283.58 597.64 L285.32 597.82 L287.06 597.99 L288.79 598.14 L290.53 598.30 L292.27 598.44 L294.01 598.59 L295.75 598.74 L297.49 598.89 L299.22 599.04 L300.96 599.20 L302.70 599.36 L304.44 599.52 L306.18 599.69 L307.92 599.85 L309.65 600.02 L311.39 600.20 L313.13 600.37 L314.87 600.54 L316.61 600.72 L318.35 600.90 L320.08 601.08 L321.82 601.25 L323.56 601.43 L325.30 601.61" fill="none" stroke="#d7303c" stroke-width="1.25"/>
<path d="M48.90 614.90 L50.64 613.91 L52.38 612.92 L54.12 611.92 L55.85 610.91 L57.59 609.90 L59.33 608.87 L61.07 607.83 L62.81 606.77 L64.55 605.69 L66.28 604.58 L68.02 603.46 L69.76 602.31 L71.50 601.15 L73.24 599.97 L74.98 598.78 L76.71 597.57 L78.45 596.36 L80.19 595.13 L81.93 593.91 L83.67 592.68 L85.41 591.45 L87.14 590.22 L88.88 588.99 L90.62 587.76 L92.36 586.53 L94.10 585.29 L95.84 584.06 L97.57 582.83 L99.31 581.60 L101.05 580.37 L102.79 579.14 L104.53 577.91 L106.27 576.69 L108.00 575.47 L109.74 574.27 L111.48 573.07 L113.22 571.89 L114.96 570.73 L116.70 569.59 L118.43 568.46 L120.17 567.36 L121.91 566.28 L123.65 565.21 L125.39 564.15 L127.13 563.09 L128.86 562.04 L130.60 560.99 L132.34 559.93 L134.08 558.86 L135.82 557.77 L137.56 556.67 L139.29 555.56 L141.03 554.45 L142.77 553.35 L144.51 552.26 L146.25 551.18 L147.99 550.12 L149.73 549.09 L151.46 548.08 L153.20 547.11 L154.94 546.17 L156.68 545.26 L158.42 544.40 L160.16 543.59 L161.89 542.81 L163.63 542.06 L165.37 541.34 L167.11 540.65 L168.85 539.97 L170.59 539.30 L172.32 538.64 L174.06 537.98 L175.80 537.31 L177.54 536.64 L179.28 535.95 L181.02 535.24 L182.75 534.50 L184.49 533.74 L186.23 532.93 L187.97 532.08 L189.71 531.19 L191.45 530.24 L193.18 529.23 L194.92 528.16 L196.66 527.04 L198.40 525.87 L200.14 524.66 L201.88 523.42 L203.61 522.17 L205.35 520.91 L207.09 519.64 L208.83 518.38 L210.57 517.13 L212.31 515.91 L214.04 514.72 L215.78 513.58 L217.52 512.50 L219.26 511.48 L221.00 510.56 L222.74 509.72 L224.47 508.99 L226.21 508.38 L227.95 507.90 L229.69 507.55 L231.43 507.36 L233.17 507.32 L234.91 507.44 L236.64 507.74 L238.38 508.22 L240.12 508.91 L241.86 509.80 L243.60 510.91 L245.34 512.25 L247.07 513.81 L248.81 515.56 L250.55 517.48 L252.29 519.55 L254.03 521.76 L255.77 524.08 L257.50 526.49 L259.24 528.97 L260.98 531.50 L262.72 534.06 L264.46 536.63 L266.20 539.21 L267.93 541.80 L269.67 544.37 L271.41 546.93 L273.15 549.46 L274.89 551.95 L276.63 554.40 L278.36 556.79 L280.10 559.12 L281.84 561.39 L283.58 563.60 L285.32 565.74 L287.06 567.82 L288.79 569.84 L290.53 571.79 L292.27 573.69 L294.01 575.52 L295.75 577.30 L297.49 579.01 L299.22 580.67 L300.96 582.26 L302.70 583.79 L304.44 585.26 L306.18 586.66 L307.92 587.99 L309.65 589.25 L311.39 590.44 L313.13 591.56 L314.87 592.60 L316.61 593.57 L318.35 594.49 L320.08 595.36 L321.82 596.19 L323.56 597.00 L325.30 597.80" fill="none" stroke="#2e9a4c" stroke-width="1.25"/>
<path d="M48.90 613.08 L50.64 611.99 L52.38 610.89 L54.12 609.79 L55.85 608.70 L57.59 607.60 L59.33 606.50 L61.07 605.40 L62.81 604.29 L64.55 603.19 L66.28 602.08 L68.02 600.97 L69.76 599.86 L71.50 598.75 L73.24 597.63 L74.98 596.52 L76.71 595.39 L78.45 594.27 L80.19 593.14 L81.93 592.01 L83.67 590.87 L85.41 589.73 L87.14 588.59 L88.88 587.45 L90.62 586.31 L92.36 585.16 L94.10 584.03 L95.84 582.89 L97.57 581.76 L99.31 580.64 L101.05 579.52 L102.79 578.41 L104.53 577.31 L106.27 576.23 L108.00 575.17 L109.74 574.12 L111.48 573.10 L113.22 572.10 L114.96 571.13 L116.70 570.19 L118.43 569.28 L120.17 568.41 L121.91 567.57 L123.65 566.75 L125.39 565.97 L127.13 565.20 L128.86 564.45 L130.60 563.71 L132.34 562.99 L134.08 562.27 L135.82 561.55 L137.56 560.84 L139.29 560.12 L141.03 559.39 L142.77 558.66 L144.51 557.93 L146.25 557.19 L147.99 556.46 L149.73 555.72 L151.46 554.98 L153.20 554.25 L154.94 553.52 L156.68 552.80 L158.42 552.08 L160.16 551.37 L161.89 550.67 L163.63 549.98 L165.37 549.28 L167.11 548.59 L168.85 547.90 L170.59 547.21 L172.32 546.51 L174.06 545.81 L175.80 545.10 L177.54 544.39 L179.28 543.67 L181.02 542.94 L182.75 542.20 L184.49 541.45 L186.23 540.69 L187.97 539.92 L189.71 539.14 L191.45 538.34 L193.18 537.53 L194.92 536.71 L196.66 535.86 L198.40 534.98 L200.14 534.06 L201.88 533.09 L203.61 532.06 L205.35 530.96 L207.09 529.79 L208.83 528.53 L210.57 527.17 L212.31 525.72 L214.04 524.19 L215.78 522.61 L217.52 520.98 L219.26 519.34 L221.00 517.70 L222.74 516.09 L224.47 514.52 L226.21 513.02 L227.95 511.59 L229.69 510.27 L231.43 509.05 L233.17 507.95 L234.91 506.97 L236.64 506.13 L238.38 505.44 L240.12 504.90 L241.86 504.53 L243.60 504.34 L245.34 504.33 L247.07 504.52 L248.81 504.91 L250.55 505.51 L252.29 506.33 L254.03 507.37 L255.77 508.63 L257.50 510.08 L259.24 511.70 L260.98 513.48 L262.72 515.39 L264.46 517.42 L266.20 519.56 L267.93 521.79 L269.67 524.09 L271.41 526.46 L273.15 528.88 L274.89 531.34 L276.63 533.81 L278.36 536.30 L280.10 538.78 L281.84 541.25 L283.58 543.70 L285.32 546.13 L287.06 548.54 L288.79 550.92 L290.53 553.27 L292.27 555.58 L294.01 557.85 L295.75 560.08 L297.49 562.26 L299.22 564.39 L300.96 566.47 L302.70 568.51 L304.44 570.50 L306.18 572.44 L307.92 574.35 L309.65 576.21 L311.39 578.03 L313.13 579.81 L314.87 581.55 L316.61 583.26 L318.35 584.94 L320.08 586.60 L321.82 588.24 L323.56 589.87 L325.30 591.49" fill="none" stroke="#3b8fd4" stroke-width="1.25"/>
<path d="M48.90 619.99 L50.64 619.07 L52.38 618.16 L54.12 617.24 L55.85 616.32 L57.59 615.42 L59.33 614.51 L61.07 613.62 L62.81 612.73 L64.55 611.85 L66.28 610.99 L68.02 610.13 L69.76 609.28 L71.50 608.43 L73.24 607.57 L74.98 606.72 L76.71 605.85 L78.45 604.97 L80.19 604.07 L81.93 603.16 L83.67 602.21 L85.41 601.25 L87.14 600.26 L88.88 599.24 L90.62 598.21 L92.36 597.17 L94.10 596.12 L95.84 595.05 L97.57 593.98 L99.31 592.91 L101.05 591.84 L102.79 590.77 L104.53 589.71 L106.27 588.65 L108.00 587.60 L109.74 586.56 L111.48 585.54 L113.22 584.52 L114.96 583.52 L116.70 582.53 L118.43 581.56 L120.17 580.61 L121.91 579.68 L123.65 578.77 L125.39 577.87 L127.13 576.99 L128.86 576.13 L130.60 575.28 L132.34 574.45 L134.08 573.64 L135.82 572.83 L137.56 572.05 L139.29 571.27 L141.03 570.49 L142.77 569.71 L144.51 568.93 L146.25 568.15 L147.99 567.36 L149.73 566.57 L151.46 565.76 L153.20 564.95 L154.94 564.12 L156.68 563.27 L158.42 562.41 L160.16 561.52 L161.89 560.63 L163.63 559.71 L165.37 558.79 L167.11 557.85 L168.85 556.91 L170.59 555.96 L172.32 555.00 L174.06 554.04 L175.80 553.08 L177.54 552.12 L179.28 551.14 L181.02 550.12 L182.75 549.07 L184.49 547.97 L186.23 546.79 L187.97 545.54 L189.71 544.20 L191.45 542.75 L193.18 541.19 L194.92 539.51 L196.66 537.71 L198.40 535.80 L200.14 533.79 L201.88 531.70 L203.61 529.53 L205.35 527.28 L207.09 524.98 L208.83 522.63 L210.57 520.23 L212.31 517.80 L214.04 515.38 L215.78 512.98 L217.52 510.65 L219.26 508.40 L221.00 506.28 L222.74 504.30 L224.47 502.48 L226.21 500.85 L227.95 499.41 L229.69 498.19 L231.43 497.21 L233.17 496.48 L234.91 496.03 L236.64 495.86 L238.38 495.99 L240.12 496.43 L241.86 497.15 L243.60 498.16 L245.34 499.43 L247.07 500.96 L248.81 502.70 L250.55 504.65 L252.29 506.79 L254.03 509.07 L255.77 511.50 L257.50 514.03 L259.24 516.66 L260.98 519.35 L262.72 522.09 L264.46 524.86 L266.20 527.65 L267.93 530.46 L269.67 533.26 L271.41 536.05 L273.15 538.82 L274.89 541.56 L276.63 544.25 L278.36 546.90 L280.10 549.48 L281.84 552.00 L283.58 554.46 L285.32 556.86 L287.06 559.20 L288.79 561.48 L290.53 563.71 L292.27 565.88 L294.01 568.00 L295.75 570.07 L297.49 572.09 L299.22 574.06 L300.96 575.99 L302.70 577.85 L304.44 579.67 L306.18 581.42 L307.92 583.12 L309.65 584.75 L311.39 586.32 L313.13 587.82 L314.87 589.26 L316.61 590.63 L318.35 591.95 L320.08 593.22 L321.82 594.47 L323.56 595.69 L325.30 596.90" fill="none" stroke="#3b4fae" stroke-width="1.4"/>
<path d="M48.90 616.60 L50.64 615.81 L52.38 615.02 L54.12 614.22 L55.85 613.41 L57.59 612.59 L59.33 611.75 L61.07 610.90 L62.81 610.02 L64.55 609.12 L66.28 608.20 L68.02 607.24 L69.76 606.26 L71.50 605.26 L73.24 604.24 L74.98 603.20 L76.71 602.15 L78.45 601.09 L80.19 600.03 L81.93 598.97 L83.67 597.90 L85.41 596.84 L87.14 595.78 L88.88 594.72 L90.62 593.67 L92.36 592.61 L94.10 591.56 L95.84 590.51 L97.57 589.46 L99.31 588.42 L101.05 587.37 L102.79 586.33 L104.53 585.29 L106.27 584.25 L108.00 583.21 L109.74 582.18 L111.48 581.15 L113.22 580.12 L114.96 579.10 L116.70 578.09 L118.43 577.08 L120.17 576.07 L121.91 575.07 L123.65 574.09 L125.39 573.10 L127.13 572.13 L128.86 571.17 L130.60 570.22 L132.34 569.28 L134.08 568.36 L135.82 567.45 L137.56 566.55 L139.29 565.67 L141.03 564.82 L142.77 563.99 L144.51 563.19 L146.25 562.41 L147.99 561.65 L149.73 560.91 L151.46 560.19 L153.20 559.49 L154.94 558.80 L156.68 558.13 L158.42 557.48 L160.16 556.83 L161.89 556.19 L163.63 555.54 L165.37 554.89 L167.11 554.21 L168.85 553.52 L170.59 552.79 L172.32 552.03 L174.06 551.23 L175.80 550.37 L177.54 549.46 L179.28 548.49 L181.02 547.45 L182.75 546.33 L184.49 545.14 L186.23 543.87 L187.97 542.50 L189.71 541.05 L191.45 539.49 L193.18 537.83 L194.92 536.06 L196.66 534.20 L198.40 532.24 L200.14 530.20 L201.88 528.09 L203.61 525.92 L205.35 523.69 L207.09 521.41 L208.83 519.10 L210.57 516.76 L212.31 514.40 L214.04 512.06 L215.78 509.74 L217.52 507.48 L219.26 505.31 L221.00 503.24 L222.74 501.31 L224.47 499.56 L226.21 498.01 L227.95 496.72 L229.69 495.68 L231.43 494.91 L233.17 494.42 L234.91 494.22 L236.64 494.32 L238.38 494.70 L240.12 495.36 L241.86 496.29 L243.60 497.47 L245.34 498.90 L247.07 500.55 L248.81 502.40 L250.55 504.44 L252.29 506.64 L254.03 508.99 L255.77 511.45 L257.50 514.02 L259.24 516.67 L260.98 519.38 L262.72 522.13 L264.46 524.90 L266.20 527.70 L267.93 530.50 L269.67 533.29 L271.41 536.08 L273.15 538.85 L274.89 541.58 L276.63 544.27 L278.36 546.91 L280.10 549.49 L281.84 552.01 L283.58 554.46 L285.32 556.86 L287.06 559.20 L288.79 561.48 L290.53 563.70 L292.27 565.88 L294.01 568.00 L295.75 570.07 L297.49 572.09 L299.22 574.06 L300.96 575.98 L302.70 577.85 L304.44 579.67 L306.18 581.42 L307.92 583.12 L309.65 584.75 L311.39 586.32 L313.13 587.82 L314.87 589.26 L316.61 590.63 L318.35 591.95 L320.08 593.22 L321.82 594.47 L323.56 595.69 L325.30 596.90" fill="none" stroke="#6a4ca6" stroke-width="1.4"/>
<rect x="48.90" y="424.30" width="276.40" height="222.20" fill="none" stroke="#3c3c3c" stroke-width="1.2"/>
<line x1="44.90" y1="646.50" x2="48.90" y2="646.50" stroke="#3c3c3c" stroke-width="1.1"/>
<text x="41.20" y="650.10" text-anchor="end" font-size="10.3" fill="#222">0,0</text>
<line x1="46.70" y1="624.28" x2="48.90" y2="624.28" stroke="#3c3c3c" stroke-width="1.1"/>
<line x1="44.90" y1="602.06" x2="48.90" y2="602.06" stroke="#3c3c3c" stroke-width="1.1"/>
<text x="41.20" y="605.66" text-anchor="end" font-size="10.3" fill="#222">0,5</text>
<line x1="46.70" y1="579.84" x2="48.90" y2="579.84" stroke="#3c3c3c" stroke-width="1.1"/>
<line x1="44.90" y1="557.62" x2="48.90" y2="557.62" stroke="#3c3c3c" stroke-width="1.1"/>
<text x="41.20" y="561.22" text-anchor="end" font-size="10.3" fill="#222">1,0</text>
<line x1="46.70" y1="535.40" x2="48.90" y2="535.40" stroke="#3c3c3c" stroke-width="1.1"/>
<line x1="44.90" y1="513.18" x2="48.90" y2="513.18" stroke="#3c3c3c" stroke-width="1.1"/>
<text x="41.20" y="516.78" text-anchor="end" font-size="10.3" fill="#222">1,5</text>
<line x1="46.70" y1="490.96" x2="48.90" y2="490.96" stroke="#3c3c3c" stroke-width="1.1"/>
<line x1="44.90" y1="468.74" x2="48.90" y2="468.74" stroke="#3c3c3c" stroke-width="1.1"/>
<text x="41.20" y="472.34" text-anchor="end" font-size="10.3" fill="#222">2,0</text>
<line x1="46.70" y1="446.52" x2="48.90" y2="446.52" stroke="#3c3c3c" stroke-width="1.1"/>
<line x1="44.90" y1="424.30" x2="48.90" y2="424.30" stroke="#3c3c3c" stroke-width="1.1"/>
<text x="41.20" y="427.90" text-anchor="end" font-size="10.3" fill="#222">2,5</text>
<line x1="48.90" y1="646.50" x2="48.90" y2="650.50" stroke="#3c3c3c" stroke-width="1.1"/>
<text x="48.90" y="662.90" text-anchor="middle" font-size="10.3" fill="#222">0</text>
<line x1="76.54" y1="646.50" x2="76.54" y2="648.70" stroke="#3c3c3c" stroke-width="1.1"/>
<line x1="104.18" y1="646.50" x2="104.18" y2="650.50" stroke="#3c3c3c" stroke-width="1.1"/>
<text x="104.18" y="662.90" text-anchor="middle" font-size="10.3" fill="#222">2</text>
<line x1="131.82" y1="646.50" x2="131.82" y2="648.70" stroke="#3c3c3c" stroke-width="1.1"/>
<line x1="159.46" y1="646.50" x2="159.46" y2="650.50" stroke="#3c3c3c" stroke-width="1.1"/>
<text x="159.46" y="662.90" text-anchor="middle" font-size="10.3" fill="#222">4</text>
<line x1="187.10" y1="646.50" x2="187.10" y2="648.70" stroke="#3c3c3c" stroke-width="1.1"/>
<line x1="214.74" y1="646.50" x2="214.74" y2="650.50" stroke="#3c3c3c" stroke-width="1.1"/>
<text x="214.74" y="662.90" text-anchor="middle" font-size="10.3" fill="#222">6</text>
<line x1="242.38" y1="646.50" x2="242.38" y2="648.70" stroke="#3c3c3c" stroke-width="1.1"/>
<line x1="270.02" y1="646.50" x2="270.02" y2="650.50" stroke="#3c3c3c" stroke-width="1.1"/>
<text x="270.02" y="662.90" text-anchor="middle" font-size="10.3" fill="#222">8</text>
<line x1="297.66" y1="646.50" x2="297.66" y2="648.70" stroke="#3c3c3c" stroke-width="1.1"/>
<line x1="325.30" y1="646.50" x2="325.30" y2="650.50" stroke="#3c3c3c" stroke-width="1.1"/>
<text x="325.30" y="662.90" text-anchor="middle" font-size="10.3" fill="#222">10</text>
<text transform="translate(21.9 535.00) rotate(-90)" text-anchor="middle" font-size="11.8" fill="#222">dc/dt (a.U.)</text>
<text x="166.80" y="680.50" font-size="11.4" fill="#222">s<tspan font-size="8.4" dy="3">20.w</tspan><tspan dy="-3"> (S)</tspan></text>
<text x="222.0" y="483.8" font-size="11.6" fill="#6a4ca6" stroke="#6a4ca6" stroke-width="0.25">TC + AMP-PNP</text>
<text x="257.2" y="505.4" font-size="11.6" fill="#3b8fd4" stroke="#3b8fd4" stroke-width="0.25">TC + ATPγS</text>
<text x="163.4" y="504.8" font-size="11.6" fill="#2e9a4c" stroke="#2e9a4c" stroke-width="0.25">TC + ATP</text>
<text x="131.3" y="509.8" font-size="11.6" fill="#d7303c" stroke="#d7303c" stroke-width="0.25">BC</text>
<text x="73.5" y="528.1" font-size="11.6" fill="#e9b12a" stroke="#e9b12a" stroke-width="0.25">TC + ADP</text>
<text x="55.4" y="555.5" font-size="11.6" fill="#9c9c9c" stroke="#9c9c9c" stroke-width="0.25">sB-Raf*</text>
<rect x="410.3" y="133.0" width="205.7" height="158.6" fill="#f4f2f8"/>
<rect x="438.5" y="133.0" width="2.0" height="158.6" rx="0" fill="#fcfbfd" fill-opacity="0.8" filter="url(#b0)"/>
<rect x="454.5" y="133.0" width="2.5" height="158.6" rx="0" fill="#fcfbfd" fill-opacity="0.8" filter="url(#b0)"/>
<rect x="472.5" y="133.0" width="4.0" height="158.6" rx="0" fill="#fcfbfd" fill-opacity="0.8" filter="url(#b0)"/>
<rect x="491.5" y="133.0" width="2.0" height="158.6" rx="0" fill="#fcfbfd" fill-opacity="0.8" filter="url(#b0)"/>
<rect x="509.5" y="133.0" width="2.0" height="158.6" rx="0" fill="#fcfbfd" fill-opacity="0.8" filter="url(#b0)"/>
<rect x="526.5" y="133.0" width="2.0" height="158.6" rx="0" fill="#fcfbfd" fill-opacity="0.8" filter="url(#b0)"/>
<rect x="544.0" y="133.0" width="2.0" height="158.6" rx="0" fill="#fcfbfd" fill-opacity="0.8" filter="url(#b0)"/>
<rect x="561.5" y="133.0" width="2.0" height="158.6" rx="0" fill="#fcfbfd" fill-opacity="0.8" filter="url(#b0)"/>
<rect x="579.0" y="133.0" width="2.0" height="158.6" rx="0" fill="#fcfbfd" fill-opacity="0.8" filter="url(#b0)"/>
<rect x="596.5" y="133.0" width="2.0" height="158.6" rx="0" fill="#fcfbfd" fill-opacity="0.8" filter="url(#b0)"/>
<path d="M423 133.0 L438 133.0 L433 291.6 L416 291.6 Z" fill="#d3d4ef" fill-opacity="0.85" filter="url(#b1)"/>
<path d="M425.0 136.6 Q430.8 138.5 436.5 138.6" stroke="#4a58ba" stroke-width="4.0" stroke-linecap="round" fill="none" stroke-opacity="0.85" filter="url(#b2)"/>
<path d="M424.5 157.8 Q430.4 159.8 436.3 160.0" stroke="#4a58ba" stroke-width="4.6" stroke-linecap="round" fill="none" stroke-opacity="0.9" filter="url(#b2)"/>
<path d="M423.5 175.2 Q429.8 177.5 436.0 178.0" stroke="#7a2c7e" stroke-width="5.8" stroke-linecap="round" fill="none" stroke-opacity="0.9" filter="url(#b2)"/>
<path d="M422.5 193.9 Q429.0 196.1 435.5 196.4" stroke="#4a58ba" stroke-width="5.0" stroke-linecap="round" fill="none" stroke-opacity="0.9" filter="url(#b2)"/>
<path d="M421.5 216.0 Q428.0 218.4 434.5 219.0" stroke="#4a58ba" stroke-width="5.4" stroke-linecap="round" fill="none" stroke-opacity="0.92" filter="url(#b2)"/>
<path d="M420.0 242.0 Q426.8 244.4 433.5 245.0" stroke="#4a58ba" stroke-width="5.4" stroke-linecap="round" fill="none" stroke-opacity="0.92" filter="url(#b2)"/>
<path d="M418.0 270.5 Q424.8 273.5 431.5 274.8" stroke="#3a42aa" stroke-width="7.8" stroke-linecap="round" fill="none" stroke-opacity="1.0" filter="url(#b2)"/>
<path d="M418.0 285.2 Q424.0 287.8 430.0 288.5" stroke="#4a58ba" stroke-width="5.6" stroke-linecap="round" fill="none" stroke-opacity="0.92" filter="url(#b2)"/>
<rect x="440.5" y="184.0" width="13.0" height="22.0" rx="2" fill="url(#g1)" fill-opacity="1.0" filter="url(#b3)"/>
<path d="M437.0 255.0 Q444.8 257.4 452.5 258.0" stroke="#9a78c4" stroke-width="7" stroke-linecap="butt" fill="none" stroke-opacity="0.45" filter="url(#b4)"/>
<path d="M436.3 258.3 Q444.8 260.9 453.2 261.6" stroke="#4c40a4" stroke-width="7.6" stroke-linecap="butt" fill="none" stroke-opacity="0.95" filter="url(#b5)"/>
<rect x="458.0" y="208.5" width="14.0" height="20.5" rx="2" fill="url(#g2)" fill-opacity="1.0" filter="url(#b1)"/>
<rect x="458.5" y="218.0" width="13.0" height="10.0" rx="2.5" fill="#443a9e" fill-opacity="0.75" filter="url(#b1)"/>
<rect x="477.2" y="135.0" width="13.8" height="154.6" rx="0" fill="#e6d8ec" fill-opacity="0.3" filter="url(#b3)"/>
<rect x="477.2" y="159.0" width="13.8" height="26.0" rx="2" fill="url(#g3)" fill-opacity="1.0" filter="url(#b2)"/>
<rect x="477.2" y="198.5" width="13.8" height="8.0" rx="2.5" fill="#c9a2cc" fill-opacity="0.3" filter="url(#b4)"/>
<rect x="477.2" y="205.0" width="13.8" height="25.0" rx="2" fill="url(#g4)" fill-opacity="1.0" filter="url(#b2)"/>
<rect x="477.2" y="209.0" width="13.8" height="21.0" rx="2" fill="url(#g5)" fill-opacity="1.0" filter="url(#b2)"/>
<rect x="475.7" y="261.3" width="14.8" height="12.0" rx="2.5" fill="#8a7ac8" fill-opacity="0.35" filter="url(#b4)"/>
<rect x="476.2" y="263.3" width="13.8" height="8.0" rx="2.5" fill="#4a3ea2" fill-opacity="0.95" filter="url(#b1)"/>
<rect x="494.0" y="135.0" width="15.0" height="154.6" rx="0" fill="#e6d8ec" fill-opacity="0.3" filter="url(#b3)"/>
<rect x="494.0" y="158.0" width="15.0" height="42.0" rx="2" fill="url(#g6)" fill-opacity="1.0" filter="url(#b1)"/>
<rect x="494.0" y="198.5" width="15.0" height="8.0" rx="2.5" fill="#c9a2cc" fill-opacity="0.3" filter="url(#b4)"/>
<rect x="494.0" y="205.0" width="15.0" height="28.0" rx="2" fill="url(#g7)" fill-opacity="1.0" filter="url(#b2)"/>
<rect x="494.0" y="209.0" width="15.0" height="24.0" rx="2" fill="url(#g8)" fill-opacity="1.0" filter="url(#b2)"/>
<rect x="492.5" y="264.5" width="16.0" height="13.5" rx="2.5" fill="#8a7ac8" fill-opacity="0.35" filter="url(#b4)"/>
<rect x="493.0" y="266.5" width="15.0" height="9.5" rx="2.5" fill="#4a3ea2" fill-opacity="0.95" filter="url(#b1)"/>
<rect x="511.8" y="135.0" width="13.8" height="154.6" rx="0" fill="#e6d8ec" fill-opacity="0.3" filter="url(#b3)"/>
<rect x="511.8" y="159.5" width="13.8" height="26.4" rx="2" fill="url(#g9)" fill-opacity="1.0" filter="url(#b2)"/>
<rect x="511.8" y="198.5" width="13.8" height="8.0" rx="2.5" fill="#c9a2cc" fill-opacity="0.3" filter="url(#b4)"/>
<rect x="511.8" y="205.0" width="13.8" height="29.1" rx="2" fill="url(#g10)" fill-opacity="1.0" filter="url(#b2)"/>
<rect x="511.8" y="209.0" width="13.8" height="25.1" rx="2" fill="url(#g11)" fill-opacity="1.0" filter="url(#b2)"/>
<rect x="510.3" y="266.0" width="14.8" height="13.0" rx="2.5" fill="#8a7ac8" fill-opacity="0.35" filter="url(#b4)"/>
<rect x="510.8" y="268.0" width="13.8" height="9.0" rx="2.5" fill="#4a3ea2" fill-opacity="0.95" filter="url(#b1)"/>
<rect x="529.3" y="135.0" width="14.3" height="154.6" rx="0" fill="#e6d8ec" fill-opacity="0.3" filter="url(#b3)"/>
<rect x="529.3" y="159.8" width="14.3" height="26.6" rx="2" fill="url(#g12)" fill-opacity="1.0" filter="url(#b2)"/>
<rect x="529.3" y="198.5" width="14.3" height="8.0" rx="2.5" fill="#c9a2cc" fill-opacity="0.3" filter="url(#b4)"/>
<rect x="529.3" y="205.0" width="14.3" height="29.5" rx="2" fill="url(#g13)" fill-opacity="1.0" filter="url(#b2)"/>
<rect x="529.3" y="209.0" width="14.3" height="25.5" rx="2" fill="url(#g14)" fill-opacity="1.0" filter="url(#b2)"/>
<rect x="527.8" y="267.0" width="15.3" height="13.0" rx="2.5" fill="#8a7ac8" fill-opacity="0.35" filter="url(#b4)"/>
<rect x="528.3" y="269.0" width="14.3" height="9.0" rx="2.5" fill="#4a3ea2" fill-opacity="0.95" filter="url(#b1)"/>
<rect x="546.8" y="135.0" width="14.0" height="154.6" rx="0" fill="#e6d8ec" fill-opacity="0.3" filter="url(#b3)"/>
<rect x="546.8" y="160.0" width="14.0" height="26.8" rx="2" fill="url(#g15)" fill-opacity="1.0" filter="url(#b2)"/>
<rect x="546.8" y="198.5" width="14.0" height="8.0" rx="2.5" fill="#c9a2cc" fill-opacity="0.3" filter="url(#b4)"/>
<rect x="546.8" y="205.0" width="14.0" height="29.0" rx="2" fill="url(#g16)" fill-opacity="1.0" filter="url(#b2)"/>
<rect x="546.8" y="209.0" width="14.0" height="25.0" rx="2" fill="url(#g17)" fill-opacity="1.0" filter="url(#b2)"/>
<rect x="545.3" y="267.5" width="15.0" height="12.0" rx="2.5" fill="#8a7ac8" fill-opacity="0.35" filter="url(#b4)"/>
<rect x="545.8" y="269.5" width="14.0" height="8.0" rx="2.5" fill="#4a3ea2" fill-opacity="0.95" filter="url(#b1)"/>
<rect x="563.9" y="135.0" width="15.4" height="154.6" rx="0" fill="#e6d8ec" fill-opacity="0.3" filter="url(#b3)"/>
<rect x="563.9" y="158.0" width="15.4" height="42.0" rx="2" fill="url(#g18)" fill-opacity="1.0" filter="url(#b1)"/>
<rect x="563.9" y="198.5" width="15.4" height="8.0" rx="2.5" fill="#c9a2cc" fill-opacity="0.3" filter="url(#b4)"/>
<rect x="563.9" y="205.0" width="15.4" height="30.5" rx="2" fill="url(#g19)" fill-opacity="1.0" filter="url(#b2)"/>
<rect x="563.9" y="209.0" width="15.4" height="26.5" rx="2" fill="url(#g20)" fill-opacity="1.0" filter="url(#b2)"/>
<rect x="562.4" y="267.0" width="16.4" height="14.0" rx="2.5" fill="#8a7ac8" fill-opacity="0.35" filter="url(#b4)"/>
<rect x="562.9" y="269.0" width="15.4" height="10.0" rx="2.5" fill="#4a3ea2" fill-opacity="0.95" filter="url(#b1)"/>
<rect x="581.8" y="135.0" width="14.6" height="154.6" rx="0" fill="#e6d8ec" fill-opacity="0.3" filter="url(#b3)"/>
<rect x="581.8" y="160.5" width="14.6" height="27.2" rx="2" fill="url(#g21)" fill-opacity="1.0" filter="url(#b2)"/>
<rect x="581.8" y="198.5" width="14.6" height="8.0" rx="2.5" fill="#c9a2cc" fill-opacity="0.3" filter="url(#b4)"/>
<rect x="581.8" y="205.0" width="14.6" height="29.0" rx="2" fill="url(#g22)" fill-opacity="1.0" filter="url(#b2)"/>
<rect x="581.8" y="209.0" width="14.6" height="25.0" rx="2" fill="url(#g23)" fill-opacity="1.0" filter="url(#b2)"/>
<rect x="580.3" y="267.0" width="15.6" height="12.5" rx="2.5" fill="#8a7ac8" fill-opacity="0.35" filter="url(#b4)"/>
<rect x="580.8" y="269.0" width="14.6" height="8.5" rx="2.5" fill="#4a3ea2" fill-opacity="0.95" filter="url(#b1)"/>
<rect x="598.9" y="135.0" width="14.8" height="154.6" rx="0" fill="#e6d8ec" fill-opacity="0.3" filter="url(#b3)"/>
<rect x="598.9" y="158.0" width="14.8" height="42.0" rx="2" fill="url(#g24)" fill-opacity="1.0" filter="url(#b1)"/>
<rect x="598.9" y="198.5" width="14.8" height="8.0" rx="2.5" fill="#c9a2cc" fill-opacity="0.3" filter="url(#b4)"/>
<rect x="598.9" y="205.0" width="14.8" height="29.0" rx="2" fill="url(#g25)" fill-opacity="1.0" filter="url(#b2)"/>
<rect x="598.9" y="209.0" width="14.8" height="25.0" rx="2" fill="url(#g26)" fill-opacity="1.0" filter="url(#b2)"/>
<rect x="597.4" y="265.5" width="15.8" height="13.5" rx="2.5" fill="#8a7ac8" fill-opacity="0.35" filter="url(#b4)"/>
<rect x="597.9" y="267.5" width="14.8" height="9.5" rx="2.5" fill="#4a3ea2" fill-opacity="0.95" filter="url(#b1)"/>
<rect x="411.1" y="467.3" width="164.9" height="213.5" fill="#e9e7f3"/>
<circle cx="433.0" cy="573.9" r="0.40" fill="#7d86c6" fill-opacity="0.21"/>
<circle cx="436.2" cy="664.6" r="0.27" fill="#7d86c6" fill-opacity="0.25"/>
<circle cx="566.6" cy="599.8" r="0.34" fill="#7d86c6" fill-opacity="0.38"/>
<circle cx="520.1" cy="526.5" r="0.28" fill="#7d86c6" fill-opacity="0.48"/>
<circle cx="521.3" cy="576.7" r="0.45" fill="#7d86c6" fill-opacity="0.39"/>
<circle cx="571.9" cy="511.6" r="0.39" fill="#7d86c6" fill-opacity="0.37"/>
<circle cx="469.6" cy="593.4" r="0.31" fill="#7d86c6" fill-opacity="0.48"/>
<circle cx="553.4" cy="495.5" r="0.37" fill="#7d86c6" fill-opacity="0.30"/>
<circle cx="425.6" cy="657.8" r="0.36" fill="#7d86c6" fill-opacity="0.25"/>
<circle cx="521.8" cy="511.1" r="0.48" fill="#7d86c6" fill-opacity="0.28"/>
<circle cx="417.5" cy="510.8" r="0.34" fill="#7d86c6" fill-opacity="0.36"/>
<circle cx="559.7" cy="615.8" r="0.33" fill="#7d86c6" fill-opacity="0.21"/>
<circle cx="438.1" cy="679.0" r="0.36" fill="#7d86c6" fill-opacity="0.44"/>
<circle cx="421.0" cy="475.5" r="0.46" fill="#7d86c6" fill-opacity="0.41"/>
<circle cx="462.4" cy="535.4" r="0.27" fill="#7d86c6" fill-opacity="0.26"/>
<circle cx="416.1" cy="645.8" r="0.37" fill="#7d86c6" fill-opacity="0.24"/>
<circle cx="532.5" cy="509.7" r="0.27" fill="#7d86c6" fill-opacity="0.41"/>
<circle cx="558.0" cy="474.0" r="0.45" fill="#7d86c6" fill-opacity="0.27"/>
<circle cx="427.2" cy="472.1" r="0.32" fill="#7d86c6" fill-opacity="0.45"/>
<circle cx="492.4" cy="648.7" r="0.30" fill="#7d86c6" fill-opacity="0.31"/>
<circle cx="454.2" cy="675.2" r="0.49" fill="#7d86c6" fill-opacity="0.32"/>
<circle cx="483.1" cy="534.8" r="0.44" fill="#7d86c6" fill-opacity="0.21"/>
<circle cx="423.1" cy="553.8" r="0.31" fill="#7d86c6" fill-opacity="0.50"/>
<circle cx="532.9" cy="583.7" r="0.42" fill="#7d86c6" fill-opacity="0.44"/>
<circle cx="539.3" cy="664.5" r="0.29" fill="#7d86c6" fill-opacity="0.42"/>
<circle cx="435.5" cy="562.0" r="0.45" fill="#7d86c6" fill-opacity="0.51"/>
<circle cx="535.8" cy="475.8" r="0.34" fill="#7d86c6" fill-opacity="0.26"/>
<circle cx="574.8" cy="498.8" r="0.31" fill="#7d86c6" fill-opacity="0.33"/>
<circle cx="422.0" cy="652.4" r="0.41" fill="#7d86c6" fill-opacity="0.26"/>
<circle cx="493.3" cy="484.9" r="0.40" fill="#7d86c6" fill-opacity="0.28"/>
<circle cx="418.4" cy="492.7" r="0.39" fill="#7d86c6" fill-opacity="0.42"/>
<circle cx="465.0" cy="604.4" r="0.34" fill="#7d86c6" fill-opacity="0.25"/>
<circle cx="463.4" cy="551.9" r="0.48" fill="#7d86c6" fill-opacity="0.24"/>
<circle cx="426.1" cy="587.1" r="0.49" fill="#7d86c6" fill-opacity="0.52"/>
<circle cx="526.2" cy="482.4" r="0.45" fill="#7d86c6" fill-opacity="0.44"/>
<circle cx="435.5" cy="566.6" r="0.26" fill="#7d86c6" fill-opacity="0.48"/>
<circle cx="529.2" cy="638.5" r="0.44" fill="#7d86c6" fill-opacity="0.29"/>
<circle cx="540.7" cy="521.0" r="0.28" fill="#7d86c6" fill-opacity="0.34"/>
<circle cx="493.2" cy="528.8" r="0.40" fill="#7d86c6" fill-opacity="0.41"/>
<circle cx="451.2" cy="600.0" r="0.34" fill="#7d86c6" fill-opacity="0.46"/>
<circle cx="459.4" cy="637.2" r="0.35" fill="#7d86c6" fill-opacity="0.39"/>
<circle cx="521.8" cy="577.9" r="0.31" fill="#7d86c6" fill-opacity="0.54"/>
<circle cx="427.7" cy="537.0" r="0.39" fill="#7d86c6" fill-opacity="0.21"/>
<circle cx="437.3" cy="637.3" r="0.45" fill="#7d86c6" fill-opacity="0.42"/>
<circle cx="559.0" cy="628.1" r="0.32" fill="#7d86c6" fill-opacity="0.43"/>
<circle cx="467.5" cy="626.9" r="0.35" fill="#7d86c6" fill-opacity="0.25"/>
<circle cx="554.9" cy="614.3" r="0.44" fill="#7d86c6" fill-opacity="0.40"/>
<circle cx="539.6" cy="563.0" r="0.39" fill="#7d86c6" fill-opacity="0.22"/>
<circle cx="502.5" cy="640.6" r="0.43" fill="#7d86c6" fill-opacity="0.48"/>
<circle cx="492.9" cy="654.7" r="0.28" fill="#7d86c6" fill-opacity="0.51"/>
<circle cx="472.6" cy="487.5" r="0.40" fill="#7d86c6" fill-opacity="0.36"/>
<circle cx="481.9" cy="648.5" r="0.28" fill="#7d86c6" fill-opacity="0.42"/>
<circle cx="479.5" cy="580.0" r="0.37" fill="#7d86c6" fill-opacity="0.25"/>
<circle cx="495.5" cy="650.6" r="0.29" fill="#7d86c6" fill-opacity="0.20"/>
<circle cx="423.1" cy="565.5" r="0.49" fill="#7d86c6" fill-opacity="0.22"/>
<circle cx="573.5" cy="581.7" r="0.28" fill="#7d86c6" fill-opacity="0.35"/>
<circle cx="445.9" cy="619.3" r="0.39" fill="#7d86c6" fill-opacity="0.30"/>
<circle cx="453.7" cy="651.7" r="0.44" fill="#7d86c6" fill-opacity="0.35"/>
<circle cx="478.2" cy="624.3" r="0.49" fill="#7d86c6" fill-opacity="0.23"/>
<circle cx="438.0" cy="544.9" r="0.38" fill="#7d86c6" fill-opacity="0.22"/>
<circle cx="420.8" cy="514.7" r="0.35" fill="#7d86c6" fill-opacity="0.46"/>
<circle cx="511.5" cy="474.5" r="0.26" fill="#7d86c6" fill-opacity="0.36"/>
<circle cx="554.6" cy="661.8" r="0.34" fill="#7d86c6" fill-opacity="0.51"/>
<circle cx="563.5" cy="554.3" r="0.44" fill="#7d86c6" fill-opacity="0.33"/>
<circle cx="437.1" cy="590.0" r="0.27" fill="#7d86c6" fill-opacity="0.43"/>
<circle cx="543.9" cy="661.9" r="0.36" fill="#7d86c6" fill-opacity="0.24"/>
<circle cx="559.1" cy="652.4" r="0.49" fill="#7d86c6" fill-opacity="0.41"/>
<circle cx="521.8" cy="547.2" r="0.30" fill="#7d86c6" fill-opacity="0.30"/>
<circle cx="529.5" cy="537.0" r="0.42" fill="#7d86c6" fill-opacity="0.38"/>
<circle cx="485.2" cy="673.0" r="0.29" fill="#7d86c6" fill-opacity="0.37"/>
<circle cx="438.1" cy="666.6" r="0.37" fill="#7d86c6" fill-opacity="0.32"/>
<circle cx="439.5" cy="594.0" r="0.35" fill="#7d86c6" fill-opacity="0.24"/>
<circle cx="417.4" cy="551.1" r="0.40" fill="#7d86c6" fill-opacity="0.38"/>
<circle cx="558.7" cy="661.1" r="0.48" fill="#7d86c6" fill-opacity="0.48"/>
<circle cx="489.9" cy="579.1" r="0.35" fill="#7d86c6" fill-opacity="0.34"/>
<circle cx="418.9" cy="637.3" r="0.31" fill="#7d86c6" fill-opacity="0.21"/>
<circle cx="488.1" cy="620.1" r="0.36" fill="#7d86c6" fill-opacity="0.33"/>
<circle cx="519.4" cy="502.7" r="0.25" fill="#7d86c6" fill-opacity="0.41"/>
<circle cx="498.5" cy="651.4" r="0.35" fill="#7d86c6" fill-opacity="0.48"/>
<circle cx="415.0" cy="474.1" r="0.40" fill="#7d86c6" fill-opacity="0.28"/>
<circle cx="423.1" cy="495.3" r="0.34" fill="#7d86c6" fill-opacity="0.32"/>
<circle cx="503.9" cy="656.0" r="0.34" fill="#7d86c6" fill-opacity="0.26"/>
<circle cx="506.3" cy="468.8" r="0.35" fill="#7d86c6" fill-opacity="0.31"/>
<circle cx="475.2" cy="479.0" r="0.39" fill="#7d86c6" fill-opacity="0.42"/>
<circle cx="534.2" cy="670.8" r="0.34" fill="#7d86c6" fill-opacity="0.43"/>
<circle cx="484.1" cy="513.8" r="0.47" fill="#7d86c6" fill-opacity="0.46"/>
<circle cx="565.7" cy="642.1" r="0.48" fill="#7d86c6" fill-opacity="0.24"/>
<circle cx="414.7" cy="510.3" r="0.35" fill="#7d86c6" fill-opacity="0.44"/>
<circle cx="483.5" cy="576.9" r="0.44" fill="#7d86c6" fill-opacity="0.22"/>
<circle cx="522.6" cy="478.6" r="0.31" fill="#7d86c6" fill-opacity="0.45"/>
<circle cx="523.4" cy="554.0" r="0.32" fill="#7d86c6" fill-opacity="0.49"/>
<circle cx="456.9" cy="474.9" r="0.31" fill="#7d86c6" fill-opacity="0.21"/>
<circle cx="544.2" cy="494.2" r="0.49" fill="#7d86c6" fill-opacity="0.27"/>
<circle cx="462.0" cy="592.1" r="0.33" fill="#7d86c6" fill-opacity="0.33"/>
<circle cx="429.1" cy="550.6" r="0.26" fill="#7d86c6" fill-opacity="0.28"/>
<circle cx="560.3" cy="527.7" r="0.32" fill="#7d86c6" fill-opacity="0.44"/>
<circle cx="555.9" cy="530.9" r="0.34" fill="#7d86c6" fill-opacity="0.45"/>
<circle cx="541.1" cy="598.1" r="0.29" fill="#7d86c6" fill-opacity="0.26"/>
<circle cx="535.6" cy="617.8" r="0.47" fill="#7d86c6" fill-opacity="0.47"/>
<circle cx="480.7" cy="496.5" r="0.47" fill="#7d86c6" fill-opacity="0.44"/>
<circle cx="506.0" cy="612.5" r="0.35" fill="#7d86c6" fill-opacity="0.32"/>
<circle cx="505.8" cy="570.4" r="0.43" fill="#7d86c6" fill-opacity="0.53"/>
<circle cx="550.1" cy="550.2" r="0.34" fill="#7d86c6" fill-opacity="0.52"/>
<circle cx="476.4" cy="637.6" r="0.27" fill="#7d86c6" fill-opacity="0.36"/>
<circle cx="496.2" cy="639.4" r="0.47" fill="#7d86c6" fill-opacity="0.25"/>
<circle cx="512.6" cy="601.4" r="0.29" fill="#7d86c6" fill-opacity="0.49"/>
<circle cx="502.3" cy="671.7" r="0.30" fill="#7d86c6" fill-opacity="0.38"/>
<circle cx="464.8" cy="604.2" r="0.40" fill="#7d86c6" fill-opacity="0.38"/>
<circle cx="465.0" cy="574.9" r="0.34" fill="#7d86c6" fill-opacity="0.51"/>
<circle cx="487.3" cy="568.8" r="0.31" fill="#7d86c6" fill-opacity="0.29"/>
<circle cx="567.5" cy="534.7" r="0.47" fill="#7d86c6" fill-opacity="0.41"/>
<circle cx="571.8" cy="503.0" r="0.49" fill="#7d86c6" fill-opacity="0.47"/>
<circle cx="504.6" cy="618.2" r="0.43" fill="#7d86c6" fill-opacity="0.36"/>
<circle cx="515.5" cy="516.6" r="0.26" fill="#7d86c6" fill-opacity="0.44"/>
<circle cx="489.4" cy="659.8" r="0.32" fill="#7d86c6" fill-opacity="0.49"/>
<circle cx="572.8" cy="658.2" r="0.49" fill="#7d86c6" fill-opacity="0.26"/>
<circle cx="439.0" cy="516.6" r="0.34" fill="#7d86c6" fill-opacity="0.24"/>
<circle cx="436.6" cy="472.2" r="0.48" fill="#7d86c6" fill-opacity="0.33"/>
<circle cx="514.1" cy="564.4" r="0.44" fill="#7d86c6" fill-opacity="0.48"/>
<circle cx="474.5" cy="581.5" r="0.27" fill="#7d86c6" fill-opacity="0.30"/>
<circle cx="448.4" cy="533.6" r="0.33" fill="#7d86c6" fill-opacity="0.40"/>
<circle cx="466.3" cy="537.4" r="0.46" fill="#7d86c6" fill-opacity="0.20"/>
<circle cx="413.0" cy="480.4" r="0.47" fill="#7d86c6" fill-opacity="0.42"/>
<circle cx="530.7" cy="670.9" r="0.30" fill="#7d86c6" fill-opacity="0.52"/>
<circle cx="451.6" cy="578.0" r="0.42" fill="#7d86c6" fill-opacity="0.48"/>
<circle cx="452.5" cy="569.2" r="0.26" fill="#7d86c6" fill-opacity="0.30"/>
<circle cx="571.9" cy="659.7" r="0.40" fill="#7d86c6" fill-opacity="0.48"/>
<circle cx="559.1" cy="538.5" r="0.50" fill="#7d86c6" fill-opacity="0.36"/>
<circle cx="438.0" cy="580.4" r="0.40" fill="#7d86c6" fill-opacity="0.44"/>
<circle cx="521.4" cy="477.1" r="0.41" fill="#7d86c6" fill-opacity="0.52"/>
<circle cx="521.3" cy="674.6" r="0.38" fill="#7d86c6" fill-opacity="0.48"/>
<circle cx="435.0" cy="657.7" r="0.36" fill="#7d86c6" fill-opacity="0.51"/>
<circle cx="464.4" cy="600.3" r="0.46" fill="#7d86c6" fill-opacity="0.45"/>
<circle cx="513.1" cy="673.6" r="0.27" fill="#7d86c6" fill-opacity="0.24"/>
<circle cx="502.0" cy="670.2" r="0.42" fill="#7d86c6" fill-opacity="0.31"/>
<circle cx="429.6" cy="563.1" r="0.37" fill="#7d86c6" fill-opacity="0.36"/>
<circle cx="513.0" cy="526.0" r="0.47" fill="#7d86c6" fill-opacity="0.30"/>
<circle cx="429.5" cy="542.1" r="0.48" fill="#7d86c6" fill-opacity="0.26"/>
<circle cx="457.3" cy="664.3" r="0.34" fill="#7d86c6" fill-opacity="0.50"/>
<circle cx="419.5" cy="656.2" r="0.31" fill="#7d86c6" fill-opacity="0.26"/>
<circle cx="533.0" cy="677.6" r="0.49" fill="#7d86c6" fill-opacity="0.46"/>
<circle cx="561.0" cy="677.1" r="0.39" fill="#7d86c6" fill-opacity="0.25"/>
<circle cx="550.5" cy="552.0" r="0.33" fill="#7d86c6" fill-opacity="0.38"/>
<circle cx="417.8" cy="472.3" r="0.32" fill="#7d86c6" fill-opacity="0.41"/>
<circle cx="534.2" cy="670.7" r="0.45" fill="#7d86c6" fill-opacity="0.53"/>
<circle cx="515.8" cy="623.5" r="0.40" fill="#7d86c6" fill-opacity="0.23"/>
<circle cx="422.2" cy="629.1" r="0.30" fill="#7d86c6" fill-opacity="0.48"/>
<circle cx="487.7" cy="469.8" r="0.39" fill="#7d86c6" fill-opacity="0.36"/>
<circle cx="424.1" cy="523.5" r="0.33" fill="#7d86c6" fill-opacity="0.32"/>
<circle cx="527.2" cy="503.7" r="0.36" fill="#7d86c6" fill-opacity="0.41"/>
<circle cx="566.3" cy="492.6" r="0.27" fill="#7d86c6" fill-opacity="0.27"/>
<circle cx="448.0" cy="502.7" r="0.27" fill="#7d86c6" fill-opacity="0.27"/>
<circle cx="448.5" cy="569.7" r="0.41" fill="#7d86c6" fill-opacity="0.33"/>
<circle cx="439.5" cy="488.3" r="0.32" fill="#7d86c6" fill-opacity="0.26"/>
<circle cx="490.5" cy="652.5" r="0.43" fill="#7d86c6" fill-opacity="0.27"/>
<circle cx="417.9" cy="482.6" r="0.36" fill="#7d86c6" fill-opacity="0.33"/>
<circle cx="523.3" cy="486.0" r="0.31" fill="#7d86c6" fill-opacity="0.44"/>
<circle cx="504.6" cy="577.6" r="0.48" fill="#7d86c6" fill-opacity="0.24"/>
<circle cx="443.9" cy="587.9" r="0.39" fill="#7d86c6" fill-opacity="0.54"/>
<circle cx="571.3" cy="592.5" r="0.44" fill="#7d86c6" fill-opacity="0.44"/>
<circle cx="433.8" cy="595.7" r="0.33" fill="#7d86c6" fill-opacity="0.33"/>
<circle cx="437.6" cy="470.1" r="0.46" fill="#7d86c6" fill-opacity="0.45"/>
<circle cx="534.6" cy="529.2" r="0.35" fill="#7d86c6" fill-opacity="0.26"/>
<circle cx="510.2" cy="645.8" r="0.44" fill="#7d86c6" fill-opacity="0.53"/>
<circle cx="454.5" cy="616.6" r="0.28" fill="#7d86c6" fill-opacity="0.39"/>
<circle cx="430.1" cy="582.6" r="0.39" fill="#7d86c6" fill-opacity="0.32"/>
<circle cx="469.0" cy="618.7" r="0.37" fill="#7d86c6" fill-opacity="0.34"/>
<circle cx="430.5" cy="528.0" r="0.46" fill="#7d86c6" fill-opacity="0.54"/>
<circle cx="472.9" cy="652.5" r="0.47" fill="#7d86c6" fill-opacity="0.28"/>
<circle cx="456.7" cy="615.5" r="0.33" fill="#7d86c6" fill-opacity="0.53"/>
<circle cx="471.6" cy="622.7" r="0.43" fill="#7d86c6" fill-opacity="0.27"/>
<circle cx="553.2" cy="537.8" r="0.28" fill="#7d86c6" fill-opacity="0.22"/>
<circle cx="485.7" cy="602.2" r="0.32" fill="#7d86c6" fill-opacity="0.49"/>
<circle cx="455.7" cy="647.5" r="0.26" fill="#7d86c6" fill-opacity="0.29"/>
<circle cx="438.1" cy="563.0" r="0.34" fill="#7d86c6" fill-opacity="0.34"/>
<circle cx="550.8" cy="590.9" r="0.40" fill="#7d86c6" fill-opacity="0.34"/>
<circle cx="543.7" cy="574.4" r="0.44" fill="#7d86c6" fill-opacity="0.52"/>
<circle cx="511.8" cy="560.3" r="0.32" fill="#7d86c6" fill-opacity="0.52"/>
<circle cx="536.7" cy="637.4" r="0.31" fill="#7d86c6" fill-opacity="0.35"/>
<circle cx="556.0" cy="520.3" r="0.45" fill="#7d86c6" fill-opacity="0.39"/>
<circle cx="447.7" cy="547.7" r="0.27" fill="#7d86c6" fill-opacity="0.44"/>
<circle cx="530.5" cy="474.4" r="0.33" fill="#7d86c6" fill-opacity="0.47"/>
<circle cx="444.7" cy="581.9" r="0.45" fill="#7d86c6" fill-opacity="0.40"/>
<circle cx="432.0" cy="660.6" r="0.44" fill="#7d86c6" fill-opacity="0.40"/>
<circle cx="466.3" cy="591.5" r="0.35" fill="#7d86c6" fill-opacity="0.24"/>
<circle cx="432.0" cy="477.9" r="0.29" fill="#7d86c6" fill-opacity="0.29"/>
<circle cx="515.6" cy="591.0" r="0.40" fill="#7d86c6" fill-opacity="0.49"/>
<circle cx="427.6" cy="550.6" r="0.27" fill="#7d86c6" fill-opacity="0.35"/>
<circle cx="424.9" cy="482.3" r="0.28" fill="#7d86c6" fill-opacity="0.34"/>
<circle cx="536.4" cy="527.9" r="0.44" fill="#7d86c6" fill-opacity="0.28"/>
<circle cx="458.9" cy="568.0" r="0.27" fill="#7d86c6" fill-opacity="0.36"/>
<circle cx="507.2" cy="642.7" r="0.26" fill="#7d86c6" fill-opacity="0.48"/>
<circle cx="504.9" cy="590.6" r="0.26" fill="#7d86c6" fill-opacity="0.51"/>
<circle cx="457.3" cy="583.9" r="0.38" fill="#7d86c6" fill-opacity="0.52"/>
<circle cx="510.1" cy="678.0" r="0.31" fill="#7d86c6" fill-opacity="0.43"/>
<circle cx="506.1" cy="576.9" r="0.41" fill="#7d86c6" fill-opacity="0.39"/>
<circle cx="467.0" cy="604.0" r="0.27" fill="#7d86c6" fill-opacity="0.37"/>
<circle cx="485.9" cy="513.4" r="0.39" fill="#7d86c6" fill-opacity="0.43"/>
<circle cx="432.5" cy="531.1" r="0.27" fill="#7d86c6" fill-opacity="0.41"/>
<circle cx="425.4" cy="516.8" r="0.36" fill="#7d86c6" fill-opacity="0.36"/>
<circle cx="417.5" cy="668.7" r="0.31" fill="#7d86c6" fill-opacity="0.41"/>
<circle cx="448.3" cy="594.3" r="0.34" fill="#7d86c6" fill-opacity="0.31"/>
<circle cx="489.4" cy="592.3" r="0.40" fill="#7d86c6" fill-opacity="0.44"/>
<circle cx="455.9" cy="487.7" r="0.31" fill="#7d86c6" fill-opacity="0.31"/>
<circle cx="511.0" cy="555.9" r="0.33" fill="#7d86c6" fill-opacity="0.23"/>
<circle cx="509.3" cy="491.6" r="0.38" fill="#7d86c6" fill-opacity="0.44"/>
<circle cx="513.6" cy="502.1" r="0.34" fill="#7d86c6" fill-opacity="0.53"/>
<circle cx="426.9" cy="611.9" r="0.36" fill="#7d86c6" fill-opacity="0.41"/>
<circle cx="476.2" cy="494.5" r="0.39" fill="#7d86c6" fill-opacity="0.20"/>
<circle cx="552.9" cy="637.2" r="0.34" fill="#7d86c6" fill-opacity="0.39"/>
<circle cx="498.0" cy="675.5" r="0.26" fill="#7d86c6" fill-opacity="0.30"/>
<circle cx="478.4" cy="634.8" r="0.43" fill="#7d86c6" fill-opacity="0.35"/>
<circle cx="414.0" cy="605.3" r="0.35" fill="#7d86c6" fill-opacity="0.24"/>
<circle cx="514.9" cy="562.4" r="0.33" fill="#7d86c6" fill-opacity="0.29"/>
<circle cx="496.9" cy="520.7" r="0.35" fill="#7d86c6" fill-opacity="0.53"/>
<circle cx="489.9" cy="521.9" r="0.38" fill="#7d86c6" fill-opacity="0.52"/>
<circle cx="553.2" cy="611.5" r="0.47" fill="#7d86c6" fill-opacity="0.46"/>
<circle cx="522.9" cy="558.8" r="0.29" fill="#7d86c6" fill-opacity="0.46"/>
<circle cx="515.4" cy="673.0" r="0.33" fill="#7d86c6" fill-opacity="0.51"/>
<circle cx="447.7" cy="668.4" r="0.50" fill="#7d86c6" fill-opacity="0.22"/>
<circle cx="465.0" cy="679.4" r="0.49" fill="#7d86c6" fill-opacity="0.43"/>
<circle cx="434.0" cy="469.7" r="0.31" fill="#7d86c6" fill-opacity="0.53"/>
<circle cx="543.2" cy="558.9" r="0.44" fill="#7d86c6" fill-opacity="0.52"/>
<circle cx="461.0" cy="653.2" r="0.32" fill="#7d86c6" fill-opacity="0.32"/>
<circle cx="419.4" cy="502.2" r="0.39" fill="#7d86c6" fill-opacity="0.21"/>
<circle cx="501.0" cy="504.3" r="0.44" fill="#7d86c6" fill-opacity="0.24"/>
<circle cx="445.8" cy="525.2" r="0.40" fill="#7d86c6" fill-opacity="0.48"/>
<circle cx="534.8" cy="625.1" r="0.42" fill="#7d86c6" fill-opacity="0.39"/>
<circle cx="467.9" cy="506.3" r="0.47" fill="#7d86c6" fill-opacity="0.34"/>
<circle cx="518.0" cy="482.7" r="0.34" fill="#7d86c6" fill-opacity="0.24"/>
<circle cx="469.9" cy="623.4" r="0.34" fill="#7d86c6" fill-opacity="0.44"/>
<circle cx="432.2" cy="549.7" r="0.35" fill="#7d86c6" fill-opacity="0.38"/>
<circle cx="449.3" cy="616.1" r="0.47" fill="#7d86c6" fill-opacity="0.48"/>
<circle cx="417.1" cy="571.5" r="0.34" fill="#7d86c6" fill-opacity="0.40"/>
<circle cx="425.7" cy="622.6" r="0.35" fill="#7d86c6" fill-opacity="0.53"/>
<circle cx="415.2" cy="556.7" r="0.37" fill="#7d86c6" fill-opacity="0.49"/>
<circle cx="535.3" cy="506.8" r="0.33" fill="#7d86c6" fill-opacity="0.46"/>
<circle cx="480.5" cy="523.9" r="0.48" fill="#7d86c6" fill-opacity="0.50"/>
<circle cx="470.0" cy="584.5" r="0.48" fill="#7d86c6" fill-opacity="0.28"/>
<circle cx="560.2" cy="655.4" r="0.43" fill="#7d86c6" fill-opacity="0.44"/>
<circle cx="523.7" cy="583.4" r="0.40" fill="#7d86c6" fill-opacity="0.27"/>
<circle cx="503.7" cy="610.6" r="0.37" fill="#7d86c6" fill-opacity="0.44"/>
<circle cx="486.7" cy="638.2" r="0.43" fill="#7d86c6" fill-opacity="0.23"/>
<circle cx="537.4" cy="528.5" r="0.27" fill="#7d86c6" fill-opacity="0.24"/>
<circle cx="464.9" cy="579.3" r="0.33" fill="#7d86c6" fill-opacity="0.27"/>
<circle cx="537.4" cy="547.4" r="0.47" fill="#7d86c6" fill-opacity="0.29"/>
<circle cx="524.5" cy="543.9" r="0.46" fill="#7d86c6" fill-opacity="0.43"/>
<circle cx="522.6" cy="487.9" r="0.44" fill="#7d86c6" fill-opacity="0.32"/>
<circle cx="532.7" cy="647.1" r="0.28" fill="#7d86c6" fill-opacity="0.21"/>
<circle cx="535.6" cy="673.1" r="0.48" fill="#7d86c6" fill-opacity="0.35"/>
<circle cx="547.9" cy="473.3" r="0.26" fill="#7d86c6" fill-opacity="0.40"/>
<circle cx="498.0" cy="642.8" r="0.31" fill="#7d86c6" fill-opacity="0.36"/>
<circle cx="573.3" cy="532.3" r="0.35" fill="#7d86c6" fill-opacity="0.41"/>
<circle cx="574.2" cy="507.0" r="0.42" fill="#7d86c6" fill-opacity="0.34"/>
<circle cx="477.4" cy="522.6" r="0.37" fill="#7d86c6" fill-opacity="0.40"/>
<circle cx="476.0" cy="575.3" r="0.41" fill="#7d86c6" fill-opacity="0.50"/>
<circle cx="503.5" cy="549.2" r="0.49" fill="#7d86c6" fill-opacity="0.26"/>
<circle cx="419.5" cy="660.4" r="0.32" fill="#7d86c6" fill-opacity="0.25"/>
<circle cx="474.9" cy="540.8" r="0.34" fill="#7d86c6" fill-opacity="0.50"/>
<circle cx="459.4" cy="496.4" r="0.30" fill="#7d86c6" fill-opacity="0.53"/>
<circle cx="482.0" cy="544.6" r="0.44" fill="#7d86c6" fill-opacity="0.53"/>
<circle cx="495.2" cy="640.6" r="0.32" fill="#7d86c6" fill-opacity="0.32"/>
<circle cx="506.0" cy="518.3" r="0.32" fill="#7d86c6" fill-opacity="0.27"/>
<circle cx="454.8" cy="645.8" r="0.45" fill="#7d86c6" fill-opacity="0.24"/>
<circle cx="468.9" cy="621.1" r="0.46" fill="#7d86c6" fill-opacity="0.40"/>
<circle cx="530.5" cy="518.5" r="0.45" fill="#7d86c6" fill-opacity="0.49"/>
<circle cx="478.4" cy="518.2" r="0.26" fill="#7d86c6" fill-opacity="0.42"/>
<circle cx="515.1" cy="468.6" r="0.38" fill="#7d86c6" fill-opacity="0.53"/>
<circle cx="416.8" cy="497.4" r="0.26" fill="#7d86c6" fill-opacity="0.35"/>
<circle cx="474.8" cy="652.3" r="0.27" fill="#7d86c6" fill-opacity="0.27"/>
<circle cx="564.9" cy="472.3" r="0.31" fill="#7d86c6" fill-opacity="0.34"/>
<circle cx="412.2" cy="529.0" r="0.40" fill="#7d86c6" fill-opacity="0.42"/>
<circle cx="511.3" cy="606.0" r="0.40" fill="#7d86c6" fill-opacity="0.21"/>
<circle cx="518.8" cy="591.8" r="0.30" fill="#7d86c6" fill-opacity="0.35"/>
<circle cx="450.8" cy="651.9" r="0.32" fill="#7d86c6" fill-opacity="0.26"/>
<circle cx="541.9" cy="629.3" r="0.46" fill="#7d86c6" fill-opacity="0.44"/>
<circle cx="480.0" cy="568.9" r="0.39" fill="#7d86c6" fill-opacity="0.41"/>
<circle cx="566.1" cy="524.4" r="0.44" fill="#7d86c6" fill-opacity="0.21"/>
<circle cx="443.1" cy="668.0" r="0.31" fill="#7d86c6" fill-opacity="0.38"/>
<circle cx="561.4" cy="606.7" r="0.37" fill="#7d86c6" fill-opacity="0.45"/>
<circle cx="571.5" cy="667.4" r="0.30" fill="#7d86c6" fill-opacity="0.25"/>
<circle cx="459.0" cy="499.0" r="0.44" fill="#7d86c6" fill-opacity="0.49"/>
<circle cx="435.0" cy="483.8" r="0.33" fill="#7d86c6" fill-opacity="0.44"/>
<circle cx="537.6" cy="565.7" r="0.41" fill="#7d86c6" fill-opacity="0.52"/>
<circle cx="555.5" cy="493.2" r="0.43" fill="#7d86c6" fill-opacity="0.47"/>
<circle cx="559.9" cy="556.7" r="0.29" fill="#7d86c6" fill-opacity="0.37"/>
<circle cx="472.4" cy="551.6" r="0.45" fill="#7d86c6" fill-opacity="0.43"/>
<circle cx="522.9" cy="606.3" r="0.29" fill="#7d86c6" fill-opacity="0.22"/>
<circle cx="476.5" cy="648.0" r="0.41" fill="#7d86c6" fill-opacity="0.48"/>
<circle cx="513.5" cy="634.2" r="0.50" fill="#7d86c6" fill-opacity="0.45"/>
<circle cx="552.5" cy="674.1" r="0.44" fill="#7d86c6" fill-opacity="0.48"/>
<circle cx="424.9" cy="476.0" r="0.48" fill="#7d86c6" fill-opacity="0.28"/>
<circle cx="461.8" cy="496.9" r="0.41" fill="#7d86c6" fill-opacity="0.21"/>
<circle cx="542.3" cy="531.4" r="0.44" fill="#7d86c6" fill-opacity="0.52"/>
<circle cx="524.6" cy="558.1" r="0.41" fill="#7d86c6" fill-opacity="0.50"/>
<circle cx="528.0" cy="521.7" r="0.25" fill="#7d86c6" fill-opacity="0.51"/>
<circle cx="513.7" cy="481.7" r="0.39" fill="#7d86c6" fill-opacity="0.41"/>
<circle cx="459.9" cy="655.7" r="0.31" fill="#7d86c6" fill-opacity="0.25"/>
<circle cx="462.5" cy="539.9" r="0.47" fill="#7d86c6" fill-opacity="0.43"/>
<circle cx="432.0" cy="551.6" r="0.28" fill="#7d86c6" fill-opacity="0.45"/>
<circle cx="551.4" cy="488.1" r="0.37" fill="#7d86c6" fill-opacity="0.29"/>
<circle cx="458.5" cy="626.2" r="0.49" fill="#7d86c6" fill-opacity="0.30"/>
<circle cx="500.5" cy="533.9" r="0.27" fill="#7d86c6" fill-opacity="0.41"/>
<circle cx="437.4" cy="613.7" r="0.44" fill="#7d86c6" fill-opacity="0.25"/>
<circle cx="509.2" cy="512.4" r="0.44" fill="#7d86c6" fill-opacity="0.30"/>
<circle cx="524.4" cy="605.3" r="0.39" fill="#7d86c6" fill-opacity="0.28"/>
<circle cx="548.0" cy="543.3" r="0.44" fill="#7d86c6" fill-opacity="0.37"/>
<circle cx="485.1" cy="618.9" r="0.34" fill="#7d86c6" fill-opacity="0.47"/>
<circle cx="484.6" cy="624.9" r="0.42" fill="#7d86c6" fill-opacity="0.53"/>
<circle cx="478.7" cy="542.1" r="0.50" fill="#7d86c6" fill-opacity="0.38"/>
<circle cx="480.3" cy="616.5" r="0.31" fill="#7d86c6" fill-opacity="0.54"/>
<circle cx="534.9" cy="605.6" r="0.32" fill="#7d86c6" fill-opacity="0.48"/>
<circle cx="561.8" cy="635.7" r="0.48" fill="#7d86c6" fill-opacity="0.23"/>
<circle cx="532.8" cy="651.5" r="0.37" fill="#7d86c6" fill-opacity="0.23"/>
<circle cx="500.5" cy="519.6" r="0.26" fill="#7d86c6" fill-opacity="0.53"/>
<circle cx="547.7" cy="602.5" r="0.44" fill="#7d86c6" fill-opacity="0.44"/>
<circle cx="487.5" cy="493.9" r="0.32" fill="#7d86c6" fill-opacity="0.38"/>
<circle cx="506.9" cy="532.1" r="0.28" fill="#7d86c6" fill-opacity="0.32"/>
<circle cx="442.3" cy="665.1" r="0.31" fill="#7d86c6" fill-opacity="0.34"/>
<circle cx="500.4" cy="521.7" r="0.37" fill="#7d86c6" fill-opacity="0.39"/>
<circle cx="420.1" cy="668.7" r="0.38" fill="#7d86c6" fill-opacity="0.25"/>
<circle cx="572.1" cy="503.9" r="0.43" fill="#7d86c6" fill-opacity="0.37"/>
<circle cx="454.1" cy="548.6" r="0.37" fill="#7d86c6" fill-opacity="0.33"/>
<circle cx="452.3" cy="556.3" r="0.36" fill="#7d86c6" fill-opacity="0.44"/>
<circle cx="444.3" cy="477.9" r="0.46" fill="#7d86c6" fill-opacity="0.22"/>
<circle cx="515.0" cy="584.4" r="0.49" fill="#7d86c6" fill-opacity="0.27"/>
<circle cx="556.7" cy="495.9" r="0.29" fill="#7d86c6" fill-opacity="0.43"/>
<circle cx="439.1" cy="592.3" r="0.42" fill="#7d86c6" fill-opacity="0.24"/>
<circle cx="540.8" cy="557.8" r="0.49" fill="#7d86c6" fill-opacity="0.20"/>
<circle cx="424.9" cy="599.5" r="0.31" fill="#7d86c6" fill-opacity="0.34"/>
<circle cx="560.2" cy="541.0" r="0.26" fill="#7d86c6" fill-opacity="0.25"/>
<circle cx="502.6" cy="632.2" r="0.44" fill="#7d86c6" fill-opacity="0.37"/>
<circle cx="451.1" cy="495.5" r="0.31" fill="#7d86c6" fill-opacity="0.27"/>
<circle cx="559.9" cy="554.5" r="0.28" fill="#7d86c6" fill-opacity="0.42"/>
<circle cx="486.6" cy="474.5" r="0.49" fill="#7d86c6" fill-opacity="0.53"/>
<circle cx="454.9" cy="644.5" r="0.36" fill="#7d86c6" fill-opacity="0.44"/>
<circle cx="518.5" cy="623.1" r="0.36" fill="#7d86c6" fill-opacity="0.25"/>
<circle cx="543.1" cy="561.4" r="0.36" fill="#7d86c6" fill-opacity="0.47"/>
<circle cx="523.7" cy="677.5" r="0.35" fill="#7d86c6" fill-opacity="0.42"/>
<circle cx="425.7" cy="492.1" r="0.31" fill="#7d86c6" fill-opacity="0.30"/>
<circle cx="484.8" cy="516.7" r="0.48" fill="#7d86c6" fill-opacity="0.35"/>
<circle cx="474.4" cy="659.1" r="0.45" fill="#7d86c6" fill-opacity="0.47"/>
<circle cx="561.0" cy="624.1" r="0.33" fill="#7d86c6" fill-opacity="0.54"/>
<circle cx="416.5" cy="658.0" r="0.35" fill="#7d86c6" fill-opacity="0.32"/>
<circle cx="489.4" cy="552.9" r="0.47" fill="#7d86c6" fill-opacity="0.48"/>
<circle cx="533.7" cy="517.5" r="0.36" fill="#7d86c6" fill-opacity="0.23"/>
<circle cx="533.1" cy="477.2" r="0.35" fill="#7d86c6" fill-opacity="0.25"/>
<circle cx="550.9" cy="662.6" r="0.32" fill="#7d86c6" fill-opacity="0.51"/>
<circle cx="441.1" cy="618.7" r="0.31" fill="#7d86c6" fill-opacity="0.36"/>
<circle cx="511.6" cy="542.6" r="0.30" fill="#7d86c6" fill-opacity="0.41"/>
<circle cx="541.4" cy="678.9" r="0.33" fill="#7d86c6" fill-opacity="0.29"/>
<circle cx="424.6" cy="511.6" r="0.26" fill="#7d86c6" fill-opacity="0.29"/>
<circle cx="530.4" cy="492.6" r="0.41" fill="#7d86c6" fill-opacity="0.30"/>
<circle cx="449.4" cy="570.6" r="0.36" fill="#7d86c6" fill-opacity="0.36"/>
<circle cx="431.3" cy="587.7" r="0.48" fill="#7d86c6" fill-opacity="0.20"/>
<circle cx="425.3" cy="592.2" r="0.33" fill="#7d86c6" fill-opacity="0.29"/>
<circle cx="573.0" cy="533.5" r="0.48" fill="#7d86c6" fill-opacity="0.42"/>
<circle cx="417.0" cy="524.5" r="0.27" fill="#7d86c6" fill-opacity="0.39"/>
<circle cx="560.1" cy="479.4" r="0.26" fill="#7d86c6" fill-opacity="0.21"/>
<circle cx="456.6" cy="503.5" r="0.49" fill="#7d86c6" fill-opacity="0.47"/>
<circle cx="565.1" cy="590.9" r="0.46" fill="#7d86c6" fill-opacity="0.45"/>
<circle cx="459.7" cy="606.3" r="0.32" fill="#7d86c6" fill-opacity="0.36"/>
<circle cx="546.1" cy="515.0" r="0.29" fill="#7d86c6" fill-opacity="0.50"/>
<circle cx="487.6" cy="505.1" r="0.33" fill="#7d86c6" fill-opacity="0.30"/>
<circle cx="558.1" cy="568.3" r="0.48" fill="#7d86c6" fill-opacity="0.36"/>
<circle cx="565.1" cy="662.1" r="0.39" fill="#7d86c6" fill-opacity="0.48"/>
<circle cx="458.9" cy="492.7" r="0.40" fill="#7d86c6" fill-opacity="0.22"/>
<circle cx="488.3" cy="599.4" r="0.44" fill="#7d86c6" fill-opacity="0.51"/>
<circle cx="445.3" cy="651.3" r="0.37" fill="#7d86c6" fill-opacity="0.42"/>
<circle cx="487.4" cy="647.6" r="0.32" fill="#7d86c6" fill-opacity="0.20"/>
<circle cx="547.2" cy="608.2" r="0.43" fill="#7d86c6" fill-opacity="0.24"/>
<circle cx="445.7" cy="600.6" r="0.44" fill="#7d86c6" fill-opacity="0.43"/>
<circle cx="509.2" cy="606.8" r="0.29" fill="#7d86c6" fill-opacity="0.36"/>
<circle cx="465.8" cy="624.0" r="0.38" fill="#7d86c6" fill-opacity="0.45"/>
<circle cx="525.3" cy="659.8" r="0.46" fill="#7d86c6" fill-opacity="0.22"/>
<circle cx="520.9" cy="547.3" r="0.28" fill="#7d86c6" fill-opacity="0.37"/>
<circle cx="549.5" cy="636.7" r="0.28" fill="#7d86c6" fill-opacity="0.27"/>
<circle cx="525.3" cy="673.1" r="0.27" fill="#7d86c6" fill-opacity="0.23"/>
<circle cx="525.4" cy="598.6" r="0.45" fill="#7d86c6" fill-opacity="0.27"/>
<circle cx="492.6" cy="637.7" r="0.35" fill="#7d86c6" fill-opacity="0.34"/>
<circle cx="417.4" cy="637.0" r="0.36" fill="#7d86c6" fill-opacity="0.33"/>
<circle cx="518.9" cy="648.7" r="0.47" fill="#7d86c6" fill-opacity="0.32"/>
<circle cx="511.2" cy="550.2" r="0.46" fill="#7d86c6" fill-opacity="0.48"/>
<circle cx="519.9" cy="642.5" r="0.38" fill="#7d86c6" fill-opacity="0.40"/>
<circle cx="438.6" cy="618.0" r="0.32" fill="#7d86c6" fill-opacity="0.40"/>
<circle cx="412.4" cy="552.4" r="0.40" fill="#7d86c6" fill-opacity="0.42"/>
<circle cx="503.9" cy="521.6" r="0.41" fill="#7d86c6" fill-opacity="0.43"/>
<circle cx="508.2" cy="548.0" r="0.29" fill="#7d86c6" fill-opacity="0.39"/>
<circle cx="420.6" cy="662.1" r="0.34" fill="#7d86c6" fill-opacity="0.30"/>
<circle cx="485.5" cy="490.3" r="0.47" fill="#7d86c6" fill-opacity="0.54"/>
<circle cx="546.2" cy="589.7" r="0.49" fill="#7d86c6" fill-opacity="0.32"/>
<circle cx="487.9" cy="504.6" r="0.36" fill="#7d86c6" fill-opacity="0.52"/>
<circle cx="520.2" cy="583.7" r="0.38" fill="#7d86c6" fill-opacity="0.42"/>
<circle cx="511.5" cy="564.0" r="0.38" fill="#7d86c6" fill-opacity="0.24"/>
<circle cx="484.3" cy="611.0" r="0.31" fill="#7d86c6" fill-opacity="0.30"/>
<circle cx="543.2" cy="497.0" r="0.30" fill="#7d86c6" fill-opacity="0.49"/>
<circle cx="431.8" cy="531.9" r="0.48" fill="#7d86c6" fill-opacity="0.34"/>
<circle cx="545.3" cy="630.0" r="0.25" fill="#7d86c6" fill-opacity="0.28"/>
<circle cx="560.6" cy="536.3" r="0.35" fill="#7d86c6" fill-opacity="0.53"/>
<circle cx="430.0" cy="673.8" r="0.41" fill="#7d86c6" fill-opacity="0.42"/>
<circle cx="412.2" cy="601.7" r="0.46" fill="#7d86c6" fill-opacity="0.34"/>
<circle cx="424.0" cy="496.2" r="0.27" fill="#7d86c6" fill-opacity="0.35"/>
<circle cx="545.2" cy="480.7" r="0.35" fill="#7d86c6" fill-opacity="0.34"/>
<circle cx="476.9" cy="579.7" r="0.38" fill="#7d86c6" fill-opacity="0.27"/>
<circle cx="541.5" cy="577.7" r="0.34" fill="#7d86c6" fill-opacity="0.54"/>
<circle cx="527.1" cy="502.8" r="0.49" fill="#7d86c6" fill-opacity="0.40"/>
<circle cx="467.5" cy="518.5" r="0.27" fill="#7d86c6" fill-opacity="0.29"/>
<circle cx="459.2" cy="541.1" r="0.50" fill="#7d86c6" fill-opacity="0.41"/>
<circle cx="443.4" cy="546.7" r="0.36" fill="#7d86c6" fill-opacity="0.23"/>
<circle cx="488.4" cy="575.8" r="0.48" fill="#7d86c6" fill-opacity="0.35"/>
<circle cx="524.3" cy="612.0" r="0.29" fill="#7d86c6" fill-opacity="0.40"/>
<circle cx="485.2" cy="502.7" r="0.26" fill="#7d86c6" fill-opacity="0.55"/>
<circle cx="426.8" cy="655.8" r="0.34" fill="#7d86c6" fill-opacity="0.23"/>
<circle cx="569.2" cy="607.9" r="0.35" fill="#7d86c6" fill-opacity="0.49"/>
<circle cx="527.4" cy="556.2" r="0.43" fill="#7d86c6" fill-opacity="0.46"/>
<circle cx="440.1" cy="619.8" r="0.48" fill="#7d86c6" fill-opacity="0.44"/>
<circle cx="542.3" cy="677.7" r="0.45" fill="#7d86c6" fill-opacity="0.36"/>
<circle cx="503.7" cy="630.5" r="0.41" fill="#7d86c6" fill-opacity="0.22"/>
<circle cx="421.9" cy="526.0" r="0.45" fill="#7d86c6" fill-opacity="0.28"/>
<circle cx="464.1" cy="642.4" r="0.28" fill="#7d86c6" fill-opacity="0.30"/>
<circle cx="453.9" cy="478.3" r="0.44" fill="#7d86c6" fill-opacity="0.31"/>
<circle cx="478.5" cy="538.7" r="0.27" fill="#7d86c6" fill-opacity="0.50"/>
<circle cx="434.0" cy="528.7" r="0.43" fill="#7d86c6" fill-opacity="0.32"/>
<circle cx="494.7" cy="538.1" r="0.39" fill="#7d86c6" fill-opacity="0.31"/>
<circle cx="486.5" cy="470.2" r="0.25" fill="#7d86c6" fill-opacity="0.38"/>
<circle cx="545.2" cy="679.5" r="0.45" fill="#7d86c6" fill-opacity="0.38"/>
<circle cx="517.1" cy="610.3" r="0.43" fill="#7d86c6" fill-opacity="0.55"/>
<circle cx="468.1" cy="562.7" r="0.44" fill="#7d86c6" fill-opacity="0.28"/>
<circle cx="427.7" cy="658.4" r="0.25" fill="#7d86c6" fill-opacity="0.51"/>
<circle cx="561.1" cy="503.3" r="0.44" fill="#7d86c6" fill-opacity="0.30"/>
<circle cx="456.3" cy="676.3" r="0.47" fill="#7d86c6" fill-opacity="0.47"/>
<circle cx="483.1" cy="676.8" r="0.39" fill="#7d86c6" fill-opacity="0.54"/>
<circle cx="529.6" cy="478.2" r="0.45" fill="#7d86c6" fill-opacity="0.49"/>
<circle cx="555.6" cy="599.9" r="0.26" fill="#7d86c6" fill-opacity="0.50"/>
<circle cx="480.8" cy="509.9" r="0.30" fill="#7d86c6" fill-opacity="0.27"/>
<circle cx="545.0" cy="483.7" r="0.48" fill="#7d86c6" fill-opacity="0.21"/>
<circle cx="529.9" cy="517.1" r="0.38" fill="#7d86c6" fill-opacity="0.26"/>
<circle cx="558.7" cy="501.3" r="0.37" fill="#7d86c6" fill-opacity="0.41"/>
<circle cx="485.9" cy="514.0" r="0.32" fill="#7d86c6" fill-opacity="0.53"/>
<circle cx="432.5" cy="472.0" r="0.48" fill="#7d86c6" fill-opacity="0.51"/>
<circle cx="523.7" cy="568.1" r="0.49" fill="#7d86c6" fill-opacity="0.34"/>
<circle cx="414.2" cy="560.3" r="0.38" fill="#7d86c6" fill-opacity="0.39"/>
<circle cx="556.8" cy="482.6" r="0.46" fill="#7d86c6" fill-opacity="0.38"/>
<circle cx="531.4" cy="555.8" r="0.32" fill="#7d86c6" fill-opacity="0.32"/>
<circle cx="456.8" cy="564.2" r="0.40" fill="#7d86c6" fill-opacity="0.49"/>
<circle cx="440.5" cy="563.5" r="0.38" fill="#7d86c6" fill-opacity="0.49"/>
<circle cx="527.8" cy="600.1" r="0.42" fill="#7d86c6" fill-opacity="0.36"/>
<circle cx="543.5" cy="645.4" r="0.39" fill="#7d86c6" fill-opacity="0.24"/>
<circle cx="481.5" cy="524.3" r="0.30" fill="#7d86c6" fill-opacity="0.30"/>
<circle cx="545.6" cy="541.9" r="0.36" fill="#7d86c6" fill-opacity="0.33"/>
<circle cx="442.2" cy="589.1" r="0.35" fill="#7d86c6" fill-opacity="0.53"/>
<circle cx="512.8" cy="675.1" r="0.46" fill="#7d86c6" fill-opacity="0.37"/>
<circle cx="414.8" cy="513.3" r="0.28" fill="#7d86c6" fill-opacity="0.46"/>
<circle cx="434.5" cy="604.7" r="0.33" fill="#7d86c6" fill-opacity="0.37"/>
<circle cx="535.4" cy="531.4" r="0.29" fill="#7d86c6" fill-opacity="0.30"/>
<circle cx="565.8" cy="585.2" r="0.32" fill="#7d86c6" fill-opacity="0.25"/>
<circle cx="423.2" cy="538.9" r="0.40" fill="#7d86c6" fill-opacity="0.36"/>
<circle cx="544.4" cy="678.7" r="0.39" fill="#7d86c6" fill-opacity="0.32"/>
<circle cx="541.6" cy="487.1" r="0.44" fill="#7d86c6" fill-opacity="0.51"/>
<circle cx="538.5" cy="489.2" r="0.40" fill="#7d86c6" fill-opacity="0.48"/>
<circle cx="479.1" cy="646.8" r="0.29" fill="#7d86c6" fill-opacity="0.39"/>
<circle cx="503.0" cy="635.0" r="0.35" fill="#7d86c6" fill-opacity="0.29"/>
<circle cx="528.1" cy="492.5" r="0.34" fill="#7d86c6" fill-opacity="0.36"/>
<circle cx="540.4" cy="558.1" r="0.39" fill="#7d86c6" fill-opacity="0.44"/>
<circle cx="522.1" cy="672.1" r="0.37" fill="#7d86c6" fill-opacity="0.40"/>
<circle cx="415.3" cy="508.9" r="0.31" fill="#7d86c6" fill-opacity="0.27"/>
<circle cx="496.7" cy="510.5" r="0.39" fill="#7d86c6" fill-opacity="0.49"/>
<circle cx="423.9" cy="519.7" r="0.37" fill="#7d86c6" fill-opacity="0.22"/>
<circle cx="435.4" cy="589.9" r="0.35" fill="#7d86c6" fill-opacity="0.52"/>
<circle cx="505.0" cy="628.4" r="0.34" fill="#7d86c6" fill-opacity="0.33"/>
<circle cx="551.1" cy="598.4" r="0.48" fill="#7d86c6" fill-opacity="0.29"/>
<circle cx="430.8" cy="611.5" r="0.28" fill="#7d86c6" fill-opacity="0.23"/>
<circle cx="475.7" cy="613.5" r="0.34" fill="#7d86c6" fill-opacity="0.46"/>
<circle cx="486.3" cy="528.6" r="0.38" fill="#7d86c6" fill-opacity="0.41"/>
<circle cx="436.5" cy="593.4" r="0.29" fill="#7d86c6" fill-opacity="0.54"/>
<circle cx="498.7" cy="511.7" r="0.26" fill="#7d86c6" fill-opacity="0.28"/>
<circle cx="464.0" cy="589.6" r="0.42" fill="#7d86c6" fill-opacity="0.45"/>
<circle cx="484.0" cy="601.6" r="0.39" fill="#7d86c6" fill-opacity="0.30"/>
<circle cx="447.8" cy="552.7" r="0.42" fill="#7d86c6" fill-opacity="0.25"/>
<circle cx="515.7" cy="472.7" r="0.30" fill="#7d86c6" fill-opacity="0.43"/>
<circle cx="543.7" cy="630.6" r="0.42" fill="#7d86c6" fill-opacity="0.29"/>
<circle cx="573.0" cy="595.4" r="0.48" fill="#7d86c6" fill-opacity="0.53"/>
<circle cx="451.0" cy="673.4" r="0.27" fill="#7d86c6" fill-opacity="0.42"/>
<circle cx="453.9" cy="488.2" r="0.39" fill="#7d86c6" fill-opacity="0.27"/>
<circle cx="540.2" cy="565.9" r="0.32" fill="#7d86c6" fill-opacity="0.20"/>
<circle cx="524.8" cy="602.9" r="0.45" fill="#7d86c6" fill-opacity="0.33"/>
<circle cx="561.1" cy="473.3" r="0.48" fill="#7d86c6" fill-opacity="0.47"/>
<circle cx="428.8" cy="677.1" r="0.27" fill="#7d86c6" fill-opacity="0.46"/>
<circle cx="451.9" cy="614.4" r="0.46" fill="#7d86c6" fill-opacity="0.24"/>
<circle cx="465.0" cy="657.6" r="0.37" fill="#7d86c6" fill-opacity="0.25"/>
<circle cx="426.2" cy="494.3" r="0.28" fill="#7d86c6" fill-opacity="0.32"/>
<circle cx="538.6" cy="564.1" r="0.27" fill="#7d86c6" fill-opacity="0.32"/>
<circle cx="490.9" cy="563.1" r="0.41" fill="#7d86c6" fill-opacity="0.44"/>
<circle cx="533.9" cy="581.6" r="0.26" fill="#7d86c6" fill-opacity="0.47"/>
<circle cx="539.7" cy="622.6" r="0.36" fill="#7d86c6" fill-opacity="0.51"/>
<circle cx="427.8" cy="624.8" r="0.40" fill="#7d86c6" fill-opacity="0.45"/>
<circle cx="423.1" cy="673.1" r="0.26" fill="#7d86c6" fill-opacity="0.26"/>
<circle cx="496.3" cy="589.5" r="0.29" fill="#7d86c6" fill-opacity="0.30"/>
<circle cx="561.2" cy="536.3" r="0.36" fill="#7d86c6" fill-opacity="0.24"/>
<circle cx="504.8" cy="616.5" r="0.44" fill="#7d86c6" fill-opacity="0.28"/>
<circle cx="472.2" cy="606.7" r="0.49" fill="#7d86c6" fill-opacity="0.47"/>
<circle cx="447.8" cy="482.2" r="0.33" fill="#7d86c6" fill-opacity="0.39"/>
<circle cx="456.4" cy="635.4" r="0.31" fill="#7d86c6" fill-opacity="0.24"/>
<circle cx="510.2" cy="629.1" r="0.30" fill="#7d86c6" fill-opacity="0.32"/>
<circle cx="454.4" cy="474.4" r="0.42" fill="#7d86c6" fill-opacity="0.22"/>
<circle cx="511.8" cy="600.9" r="0.38" fill="#7d86c6" fill-opacity="0.21"/>
<circle cx="418.2" cy="577.2" r="0.37" fill="#7d86c6" fill-opacity="0.21"/>
<circle cx="413.9" cy="631.9" r="0.33" fill="#7d86c6" fill-opacity="0.45"/>
<circle cx="444.4" cy="524.5" r="0.47" fill="#7d86c6" fill-opacity="0.27"/>
<circle cx="478.6" cy="573.8" r="0.43" fill="#7d86c6" fill-opacity="0.31"/>
<circle cx="517.9" cy="515.3" r="0.42" fill="#7d86c6" fill-opacity="0.21"/>
<circle cx="442.5" cy="481.2" r="0.28" fill="#7d86c6" fill-opacity="0.46"/>
<circle cx="487.7" cy="634.0" r="0.49" fill="#7d86c6" fill-opacity="0.27"/>
<circle cx="537.4" cy="673.9" r="0.33" fill="#7d86c6" fill-opacity="0.23"/>
<circle cx="487.3" cy="583.1" r="0.42" fill="#7d86c6" fill-opacity="0.40"/>
<circle cx="461.3" cy="502.7" r="0.34" fill="#7d86c6" fill-opacity="0.36"/>
<circle cx="442.3" cy="531.5" r="0.47" fill="#7d86c6" fill-opacity="0.35"/>
<circle cx="432.5" cy="609.1" r="0.34" fill="#7d86c6" fill-opacity="0.38"/>
<circle cx="476.1" cy="492.6" r="0.43" fill="#7d86c6" fill-opacity="0.40"/>
<circle cx="573.2" cy="469.3" r="0.39" fill="#7d86c6" fill-opacity="0.35"/>
<circle cx="482.9" cy="621.1" r="0.31" fill="#7d86c6" fill-opacity="0.34"/>
<circle cx="433.8" cy="588.2" r="0.36" fill="#7d86c6" fill-opacity="0.21"/>
<circle cx="449.6" cy="551.9" r="0.38" fill="#7d86c6" fill-opacity="0.23"/>
<circle cx="513.0" cy="641.2" r="0.33" fill="#7d86c6" fill-opacity="0.22"/>
<circle cx="436.0" cy="629.7" r="0.38" fill="#7d86c6" fill-opacity="0.25"/>
<circle cx="439.5" cy="644.5" r="0.42" fill="#7d86c6" fill-opacity="0.44"/>
<circle cx="435.0" cy="677.8" r="0.31" fill="#7d86c6" fill-opacity="0.32"/>
<circle cx="450.2" cy="667.7" r="0.41" fill="#7d86c6" fill-opacity="0.39"/>
<circle cx="479.6" cy="620.0" r="0.37" fill="#7d86c6" fill-opacity="0.36"/>
<circle cx="436.8" cy="642.5" r="0.27" fill="#7d86c6" fill-opacity="0.52"/>
<circle cx="561.4" cy="579.0" r="0.29" fill="#7d86c6" fill-opacity="0.28"/>
<circle cx="434.9" cy="616.5" r="0.34" fill="#7d86c6" fill-opacity="0.54"/>
<circle cx="467.7" cy="538.0" r="0.42" fill="#7d86c6" fill-opacity="0.51"/>
<circle cx="497.9" cy="494.1" r="0.29" fill="#7d86c6" fill-opacity="0.45"/>
<circle cx="536.8" cy="677.7" r="0.39" fill="#7d86c6" fill-opacity="0.47"/>
<circle cx="522.0" cy="584.6" r="0.45" fill="#7d86c6" fill-opacity="0.27"/>
<circle cx="437.0" cy="533.8" r="0.35" fill="#7d86c6" fill-opacity="0.53"/>
<circle cx="546.5" cy="625.7" r="0.47" fill="#7d86c6" fill-opacity="0.33"/>
<circle cx="572.5" cy="660.3" r="0.30" fill="#7d86c6" fill-opacity="0.33"/>
<circle cx="462.3" cy="509.1" r="0.48" fill="#7d86c6" fill-opacity="0.34"/>
<circle cx="553.7" cy="594.5" r="0.26" fill="#7d86c6" fill-opacity="0.35"/>
<circle cx="539.2" cy="535.8" r="0.32" fill="#7d86c6" fill-opacity="0.23"/>
<circle cx="489.3" cy="667.6" r="0.25" fill="#7d86c6" fill-opacity="0.51"/>
<circle cx="509.8" cy="527.6" r="0.47" fill="#7d86c6" fill-opacity="0.52"/>
<circle cx="570.6" cy="566.2" r="0.35" fill="#7d86c6" fill-opacity="0.43"/>
<circle cx="556.9" cy="542.3" r="0.33" fill="#7d86c6" fill-opacity="0.34"/>
<circle cx="415.5" cy="646.0" r="0.36" fill="#7d86c6" fill-opacity="0.36"/>
<circle cx="515.2" cy="639.4" r="0.43" fill="#7d86c6" fill-opacity="0.32"/>
<circle cx="460.1" cy="538.8" r="0.38" fill="#7d86c6" fill-opacity="0.48"/>
<circle cx="413.4" cy="596.3" r="0.46" fill="#7d86c6" fill-opacity="0.40"/>
<circle cx="474.2" cy="568.6" r="0.38" fill="#7d86c6" fill-opacity="0.42"/>
<circle cx="424.3" cy="635.9" r="0.39" fill="#7d86c6" fill-opacity="0.30"/>
<circle cx="561.2" cy="552.6" r="0.44" fill="#7d86c6" fill-opacity="0.30"/>
<circle cx="501.4" cy="508.5" r="0.32" fill="#7d86c6" fill-opacity="0.32"/>
<circle cx="435.5" cy="629.1" r="0.36" fill="#7d86c6" fill-opacity="0.32"/>
<circle cx="507.4" cy="516.9" r="0.36" fill="#7d86c6" fill-opacity="0.40"/>
<circle cx="512.4" cy="557.6" r="0.44" fill="#7d86c6" fill-opacity="0.50"/>
<circle cx="569.0" cy="586.8" r="0.49" fill="#7d86c6" fill-opacity="0.53"/>
<circle cx="518.8" cy="496.8" r="0.41" fill="#7d86c6" fill-opacity="0.39"/>
<circle cx="526.5" cy="525.6" r="0.50" fill="#7d86c6" fill-opacity="0.32"/>
<circle cx="574.9" cy="526.8" r="0.37" fill="#7d86c6" fill-opacity="0.44"/>
<circle cx="454.4" cy="554.3" r="0.42" fill="#7d86c6" fill-opacity="0.46"/>
<circle cx="561.4" cy="585.0" r="0.49" fill="#7d86c6" fill-opacity="0.30"/>
<circle cx="511.3" cy="628.5" r="0.27" fill="#7d86c6" fill-opacity="0.48"/>
<circle cx="545.5" cy="587.3" r="0.48" fill="#7d86c6" fill-opacity="0.44"/>
<circle cx="471.9" cy="638.9" r="0.38" fill="#7d86c6" fill-opacity="0.44"/>
<circle cx="573.1" cy="615.6" r="0.44" fill="#7d86c6" fill-opacity="0.49"/>
<circle cx="444.7" cy="476.3" r="0.27" fill="#7d86c6" fill-opacity="0.36"/>
<circle cx="569.4" cy="562.6" r="0.48" fill="#7d86c6" fill-opacity="0.30"/>
<circle cx="435.2" cy="554.3" r="0.46" fill="#7d86c6" fill-opacity="0.54"/>
<circle cx="499.8" cy="548.7" r="0.45" fill="#7d86c6" fill-opacity="0.35"/>
<circle cx="461.3" cy="628.2" r="0.27" fill="#7d86c6" fill-opacity="0.47"/>
<circle cx="567.5" cy="490.1" r="0.45" fill="#7d86c6" fill-opacity="0.21"/>
<circle cx="432.5" cy="530.2" r="0.50" fill="#7d86c6" fill-opacity="0.22"/>
<circle cx="486.4" cy="561.9" r="0.29" fill="#7d86c6" fill-opacity="0.54"/>
<circle cx="450.6" cy="659.0" r="0.39" fill="#7d86c6" fill-opacity="0.45"/>
<circle cx="533.2" cy="611.0" r="0.45" fill="#7d86c6" fill-opacity="0.51"/>
<circle cx="435.2" cy="487.2" r="0.36" fill="#7d86c6" fill-opacity="0.24"/>
<circle cx="508.4" cy="667.5" r="0.38" fill="#7d86c6" fill-opacity="0.26"/>
<circle cx="431.1" cy="580.8" r="0.44" fill="#7d86c6" fill-opacity="0.48"/>
<circle cx="535.2" cy="566.6" r="0.47" fill="#7d86c6" fill-opacity="0.39"/>
<circle cx="523.4" cy="468.8" r="0.37" fill="#7d86c6" fill-opacity="0.23"/>
<circle cx="446.7" cy="532.0" r="0.39" fill="#7d86c6" fill-opacity="0.23"/>
<circle cx="528.1" cy="551.8" r="0.30" fill="#7d86c6" fill-opacity="0.53"/>
<circle cx="519.8" cy="539.3" r="0.28" fill="#7d86c6" fill-opacity="0.37"/>
<circle cx="537.8" cy="576.6" r="0.33" fill="#7d86c6" fill-opacity="0.24"/>
<circle cx="448.6" cy="635.4" r="0.29" fill="#7d86c6" fill-opacity="0.54"/>
<circle cx="530.9" cy="553.6" r="0.30" fill="#7d86c6" fill-opacity="0.36"/>
<circle cx="567.3" cy="493.4" r="0.31" fill="#7d86c6" fill-opacity="0.23"/>
<circle cx="530.0" cy="669.4" r="0.39" fill="#7d86c6" fill-opacity="0.30"/>
<circle cx="569.1" cy="592.5" r="0.49" fill="#7d86c6" fill-opacity="0.33"/>
<circle cx="435.8" cy="483.1" r="0.32" fill="#7d86c6" fill-opacity="0.35"/>
<circle cx="536.5" cy="567.5" r="0.32" fill="#7d86c6" fill-opacity="0.52"/>
<circle cx="506.1" cy="595.8" r="0.46" fill="#7d86c6" fill-opacity="0.43"/>
<circle cx="451.5" cy="669.8" r="0.29" fill="#7d86c6" fill-opacity="0.26"/>
<circle cx="517.8" cy="591.5" r="0.31" fill="#7d86c6" fill-opacity="0.45"/>
<circle cx="428.3" cy="568.8" r="0.49" fill="#7d86c6" fill-opacity="0.51"/>
<circle cx="510.5" cy="636.1" r="0.42" fill="#7d86c6" fill-opacity="0.28"/>
<circle cx="551.9" cy="597.5" r="0.40" fill="#7d86c6" fill-opacity="0.53"/>
<circle cx="503.2" cy="537.2" r="0.36" fill="#7d86c6" fill-opacity="0.39"/>
<circle cx="554.2" cy="646.5" r="0.35" fill="#7d86c6" fill-opacity="0.37"/>
<circle cx="420.2" cy="603.4" r="0.45" fill="#7d86c6" fill-opacity="0.27"/>
<circle cx="515.7" cy="497.9" r="0.46" fill="#7d86c6" fill-opacity="0.46"/>
<circle cx="564.3" cy="528.4" r="0.29" fill="#7d86c6" fill-opacity="0.40"/>
<circle cx="421.5" cy="641.9" r="0.30" fill="#7d86c6" fill-opacity="0.25"/>
<circle cx="436.2" cy="617.1" r="0.26" fill="#7d86c6" fill-opacity="0.35"/>
<circle cx="441.7" cy="633.4" r="0.26" fill="#7d86c6" fill-opacity="0.27"/>
<circle cx="537.8" cy="577.4" r="0.28" fill="#7d86c6" fill-opacity="0.55"/>
<circle cx="472.6" cy="557.0" r="0.44" fill="#7d86c6" fill-opacity="0.37"/>
<circle cx="547.3" cy="581.6" r="0.31" fill="#7d86c6" fill-opacity="0.39"/>
<circle cx="548.7" cy="527.6" r="0.41" fill="#7d86c6" fill-opacity="0.40"/>
<circle cx="525.0" cy="544.4" r="0.31" fill="#7d86c6" fill-opacity="0.43"/>
<circle cx="550.2" cy="568.0" r="0.28" fill="#7d86c6" fill-opacity="0.48"/>
<circle cx="498.1" cy="612.6" r="0.28" fill="#7d86c6" fill-opacity="0.47"/>
<circle cx="472.8" cy="656.5" r="0.31" fill="#7d86c6" fill-opacity="0.20"/>
<circle cx="464.1" cy="621.4" r="0.43" fill="#7d86c6" fill-opacity="0.50"/>
<circle cx="446.4" cy="593.9" r="0.27" fill="#7d86c6" fill-opacity="0.28"/>
<circle cx="419.5" cy="601.3" r="0.47" fill="#7d86c6" fill-opacity="0.41"/>
<circle cx="510.3" cy="659.4" r="0.33" fill="#7d86c6" fill-opacity="0.39"/>
<circle cx="544.0" cy="509.4" r="0.43" fill="#7d86c6" fill-opacity="0.23"/>
<circle cx="472.3" cy="507.4" r="0.36" fill="#7d86c6" fill-opacity="0.27"/>
<circle cx="422.1" cy="562.3" r="0.35" fill="#7d86c6" fill-opacity="0.46"/>
<circle cx="414.4" cy="602.7" r="0.26" fill="#7d86c6" fill-opacity="0.37"/>
<circle cx="415.4" cy="661.0" r="0.37" fill="#7d86c6" fill-opacity="0.37"/>
<circle cx="423.7" cy="634.7" r="0.32" fill="#7d86c6" fill-opacity="0.36"/>
<circle cx="529.7" cy="635.7" r="0.35" fill="#7d86c6" fill-opacity="0.22"/>
<circle cx="572.7" cy="522.3" r="0.26" fill="#7d86c6" fill-opacity="0.42"/>
<circle cx="554.4" cy="486.9" r="0.26" fill="#7d86c6" fill-opacity="0.44"/>
<circle cx="505.4" cy="523.1" r="0.32" fill="#7d86c6" fill-opacity="0.47"/>
<circle cx="415.5" cy="519.2" r="0.34" fill="#7d86c6" fill-opacity="0.47"/>
<circle cx="463.3" cy="479.8" r="0.44" fill="#7d86c6" fill-opacity="0.44"/>
<circle cx="432.8" cy="622.3" r="0.41" fill="#7d86c6" fill-opacity="0.33"/>
<circle cx="506.3" cy="574.6" r="0.45" fill="#7d86c6" fill-opacity="0.53"/>
<circle cx="467.6" cy="487.4" r="0.34" fill="#7d86c6" fill-opacity="0.41"/>
<circle cx="453.9" cy="501.0" r="0.30" fill="#7d86c6" fill-opacity="0.50"/>
<circle cx="528.4" cy="494.9" r="0.32" fill="#7d86c6" fill-opacity="0.29"/>
<circle cx="430.4" cy="645.8" r="0.32" fill="#7d86c6" fill-opacity="0.40"/>
<circle cx="474.4" cy="483.1" r="0.26" fill="#7d86c6" fill-opacity="0.44"/>
<circle cx="514.4" cy="572.4" r="0.29" fill="#7d86c6" fill-opacity="0.32"/>
<circle cx="494.7" cy="514.0" r="0.39" fill="#7d86c6" fill-opacity="0.49"/>
<circle cx="441.1" cy="665.2" r="0.38" fill="#7d86c6" fill-opacity="0.54"/>
<circle cx="569.7" cy="481.8" r="0.42" fill="#7d86c6" fill-opacity="0.29"/>
<circle cx="513.2" cy="656.4" r="0.36" fill="#7d86c6" fill-opacity="0.43"/>
<circle cx="520.9" cy="508.0" r="0.36" fill="#7d86c6" fill-opacity="0.30"/>
<circle cx="490.8" cy="629.6" r="0.29" fill="#7d86c6" fill-opacity="0.39"/>
<circle cx="494.2" cy="549.7" r="0.46" fill="#7d86c6" fill-opacity="0.32"/>
<circle cx="542.4" cy="483.3" r="0.36" fill="#7d86c6" fill-opacity="0.24"/>
<circle cx="550.0" cy="608.8" r="0.30" fill="#7d86c6" fill-opacity="0.33"/>
<circle cx="432.8" cy="655.5" r="0.47" fill="#7d86c6" fill-opacity="0.51"/>
<circle cx="510.8" cy="524.2" r="0.36" fill="#7d86c6" fill-opacity="0.43"/>
<circle cx="481.4" cy="480.6" r="0.38" fill="#7d86c6" fill-opacity="0.23"/>
<circle cx="450.4" cy="641.1" r="0.40" fill="#7d86c6" fill-opacity="0.48"/>
<circle cx="522.7" cy="607.4" r="0.31" fill="#7d86c6" fill-opacity="0.45"/>
<circle cx="432.7" cy="472.1" r="0.33" fill="#7d86c6" fill-opacity="0.25"/>
<circle cx="525.3" cy="528.7" r="0.26" fill="#7d86c6" fill-opacity="0.47"/>
<circle cx="564.4" cy="618.7" r="0.49" fill="#7d86c6" fill-opacity="0.47"/>
<circle cx="563.5" cy="610.6" r="0.45" fill="#7d86c6" fill-opacity="0.48"/>
<circle cx="431.1" cy="536.0" r="0.40" fill="#7d86c6" fill-opacity="0.31"/>
<circle cx="554.3" cy="479.8" r="0.28" fill="#7d86c6" fill-opacity="0.31"/>
<circle cx="467.9" cy="644.4" r="0.25" fill="#7d86c6" fill-opacity="0.49"/>
<circle cx="570.5" cy="478.8" r="0.49" fill="#7d86c6" fill-opacity="0.43"/>
<circle cx="433.6" cy="644.1" r="0.28" fill="#7d86c6" fill-opacity="0.33"/>
<circle cx="451.0" cy="549.6" r="0.29" fill="#7d86c6" fill-opacity="0.33"/>
<circle cx="504.8" cy="566.5" r="0.38" fill="#7d86c6" fill-opacity="0.51"/>
<circle cx="550.8" cy="492.2" r="0.43" fill="#7d86c6" fill-opacity="0.48"/>
<circle cx="560.2" cy="551.4" r="0.48" fill="#7d86c6" fill-opacity="0.39"/>
<circle cx="488.4" cy="575.8" r="0.35" fill="#7d86c6" fill-opacity="0.44"/>
<circle cx="498.7" cy="654.0" r="0.37" fill="#7d86c6" fill-opacity="0.22"/>
<circle cx="437.6" cy="555.6" r="0.37" fill="#7d86c6" fill-opacity="0.48"/>
<circle cx="508.3" cy="504.1" r="0.33" fill="#7d86c6" fill-opacity="0.39"/>
<circle cx="541.3" cy="618.2" r="0.41" fill="#7d86c6" fill-opacity="0.29"/>
<circle cx="505.0" cy="520.2" r="0.27" fill="#7d86c6" fill-opacity="0.47"/>
<circle cx="518.0" cy="677.3" r="0.44" fill="#7d86c6" fill-opacity="0.29"/>
<circle cx="416.7" cy="559.3" r="0.34" fill="#7d86c6" fill-opacity="0.38"/>
<circle cx="473.1" cy="478.5" r="0.27" fill="#7d86c6" fill-opacity="0.33"/>
<circle cx="508.1" cy="505.4" r="0.29" fill="#7d86c6" fill-opacity="0.28"/>
<circle cx="532.9" cy="629.9" r="0.37" fill="#7d86c6" fill-opacity="0.22"/>
<circle cx="565.3" cy="652.0" r="0.33" fill="#7d86c6" fill-opacity="0.20"/>
<circle cx="492.2" cy="503.9" r="0.35" fill="#7d86c6" fill-opacity="0.34"/>
<circle cx="462.8" cy="661.5" r="0.35" fill="#7d86c6" fill-opacity="0.24"/>
<circle cx="505.8" cy="656.2" r="0.31" fill="#7d86c6" fill-opacity="0.38"/>
<circle cx="473.7" cy="611.2" r="0.33" fill="#7d86c6" fill-opacity="0.29"/>
<circle cx="568.6" cy="642.4" r="0.43" fill="#7d86c6" fill-opacity="0.43"/>
<circle cx="564.2" cy="480.4" r="0.36" fill="#7d86c6" fill-opacity="0.42"/>
<circle cx="433.1" cy="678.9" r="0.42" fill="#7d86c6" fill-opacity="0.47"/>
<circle cx="569.5" cy="590.6" r="0.48" fill="#7d86c6" fill-opacity="0.33"/>
<circle cx="562.2" cy="575.6" r="0.44" fill="#7d86c6" fill-opacity="0.30"/>
<circle cx="489.7" cy="586.0" r="0.38" fill="#7d86c6" fill-opacity="0.52"/>
<circle cx="486.5" cy="653.6" r="0.28" fill="#7d86c6" fill-opacity="0.27"/>
<circle cx="440.7" cy="507.0" r="0.40" fill="#7d86c6" fill-opacity="0.24"/>
<circle cx="521.8" cy="652.6" r="0.48" fill="#7d86c6" fill-opacity="0.22"/>
<circle cx="452.2" cy="561.6" r="0.25" fill="#7d86c6" fill-opacity="0.44"/>
<circle cx="486.2" cy="558.6" r="0.29" fill="#7d86c6" fill-opacity="0.22"/>
<circle cx="556.1" cy="594.9" r="0.34" fill="#7d86c6" fill-opacity="0.51"/>
<circle cx="431.1" cy="552.4" r="0.27" fill="#7d86c6" fill-opacity="0.48"/>
<circle cx="555.9" cy="528.5" r="0.45" fill="#7d86c6" fill-opacity="0.53"/>
<circle cx="449.6" cy="672.6" r="0.33" fill="#7d86c6" fill-opacity="0.45"/>
<circle cx="499.5" cy="542.2" r="0.40" fill="#7d86c6" fill-opacity="0.20"/>
<circle cx="493.8" cy="573.9" r="0.41" fill="#7d86c6" fill-opacity="0.47"/>
<circle cx="555.5" cy="637.9" r="0.47" fill="#7d86c6" fill-opacity="0.33"/>
<circle cx="429.3" cy="605.9" r="0.26" fill="#7d86c6" fill-opacity="0.53"/>
<circle cx="490.6" cy="522.6" r="0.26" fill="#7d86c6" fill-opacity="0.50"/>
<circle cx="547.9" cy="496.6" r="0.44" fill="#7d86c6" fill-opacity="0.23"/>
<circle cx="525.5" cy="581.0" r="0.41" fill="#7d86c6" fill-opacity="0.25"/>
<circle cx="541.2" cy="634.7" r="0.46" fill="#7d86c6" fill-opacity="0.34"/>
<circle cx="454.3" cy="584.6" r="0.42" fill="#7d86c6" fill-opacity="0.47"/>
<circle cx="485.2" cy="597.1" r="0.41" fill="#7d86c6" fill-opacity="0.41"/>
<circle cx="529.0" cy="533.7" r="0.31" fill="#7d86c6" fill-opacity="0.30"/>
<circle cx="541.1" cy="673.1" r="0.33" fill="#7d86c6" fill-opacity="0.43"/>
<circle cx="506.8" cy="654.5" r="0.25" fill="#7d86c6" fill-opacity="0.42"/>
<circle cx="553.8" cy="672.4" r="0.35" fill="#7d86c6" fill-opacity="0.37"/>
<circle cx="548.9" cy="666.0" r="0.31" fill="#7d86c6" fill-opacity="0.51"/>
<circle cx="431.6" cy="479.2" r="0.26" fill="#7d86c6" fill-opacity="0.23"/>
<circle cx="427.8" cy="517.9" r="0.32" fill="#7d86c6" fill-opacity="0.54"/>
<circle cx="542.8" cy="490.2" r="0.30" fill="#7d86c6" fill-opacity="0.44"/>
<circle cx="509.9" cy="562.6" r="0.36" fill="#7d86c6" fill-opacity="0.46"/>
<circle cx="492.1" cy="620.5" r="0.25" fill="#7d86c6" fill-opacity="0.24"/>
<circle cx="442.4" cy="593.6" r="0.40" fill="#7d86c6" fill-opacity="0.50"/>
<circle cx="556.6" cy="639.2" r="0.33" fill="#7d86c6" fill-opacity="0.22"/>
<circle cx="556.3" cy="665.1" r="0.26" fill="#7d86c6" fill-opacity="0.20"/>
<circle cx="441.1" cy="544.6" r="0.43" fill="#7d86c6" fill-opacity="0.36"/>
<circle cx="519.8" cy="640.4" r="0.29" fill="#7d86c6" fill-opacity="0.31"/>
<circle cx="570.2" cy="582.7" r="0.37" fill="#7d86c6" fill-opacity="0.39"/>
<circle cx="501.3" cy="621.6" r="0.47" fill="#7d86c6" fill-opacity="0.42"/>
<circle cx="515.0" cy="590.6" r="0.31" fill="#7d86c6" fill-opacity="0.47"/>
<circle cx="444.4" cy="522.8" r="0.33" fill="#7d86c6" fill-opacity="0.38"/>
<circle cx="545.4" cy="543.7" r="0.40" fill="#7d86c6" fill-opacity="0.35"/>
<circle cx="484.8" cy="672.7" r="0.41" fill="#7d86c6" fill-opacity="0.21"/>
<circle cx="552.9" cy="574.3" r="0.49" fill="#7d86c6" fill-opacity="0.24"/>
<circle cx="568.4" cy="606.9" r="0.41" fill="#7d86c6" fill-opacity="0.37"/>
<circle cx="569.7" cy="645.3" r="0.38" fill="#7d86c6" fill-opacity="0.33"/>
<circle cx="475.4" cy="569.4" r="0.29" fill="#7d86c6" fill-opacity="0.28"/>
<circle cx="519.9" cy="631.4" r="0.48" fill="#7d86c6" fill-opacity="0.26"/>
<circle cx="462.4" cy="507.4" r="0.41" fill="#7d86c6" fill-opacity="0.31"/>
<circle cx="464.2" cy="482.6" r="0.44" fill="#7d86c6" fill-opacity="0.53"/>
<circle cx="434.3" cy="572.0" r="0.45" fill="#7d86c6" fill-opacity="0.50"/>
<circle cx="469.3" cy="480.9" r="0.44" fill="#7d86c6" fill-opacity="0.45"/>
<circle cx="476.6" cy="676.2" r="0.43" fill="#7d86c6" fill-opacity="0.40"/>
<circle cx="508.2" cy="485.2" r="0.49" fill="#7d86c6" fill-opacity="0.55"/>
<circle cx="438.9" cy="630.9" r="0.39" fill="#7d86c6" fill-opacity="0.34"/>
<circle cx="508.3" cy="493.9" r="0.34" fill="#7d86c6" fill-opacity="0.32"/>
<circle cx="523.1" cy="579.9" r="0.26" fill="#7d86c6" fill-opacity="0.30"/>
<circle cx="474.6" cy="545.1" r="0.45" fill="#7d86c6" fill-opacity="0.49"/>
<circle cx="567.1" cy="667.3" r="0.37" fill="#7d86c6" fill-opacity="0.40"/>
<circle cx="510.3" cy="575.6" r="0.26" fill="#7d86c6" fill-opacity="0.24"/>
<circle cx="541.8" cy="627.5" r="0.33" fill="#7d86c6" fill-opacity="0.27"/>
<circle cx="504.7" cy="647.7" r="0.26" fill="#7d86c6" fill-opacity="0.43"/>
<circle cx="448.8" cy="522.5" r="0.36" fill="#7d86c6" fill-opacity="0.26"/>
<circle cx="533.5" cy="488.6" r="0.37" fill="#7d86c6" fill-opacity="0.43"/>
<circle cx="547.3" cy="585.3" r="0.28" fill="#7d86c6" fill-opacity="0.48"/>
<circle cx="565.0" cy="474.7" r="0.48" fill="#7d86c6" fill-opacity="0.42"/>
<circle cx="509.4" cy="550.4" r="0.29" fill="#7d86c6" fill-opacity="0.41"/>
<circle cx="556.3" cy="473.4" r="0.39" fill="#7d86c6" fill-opacity="0.42"/>
<circle cx="561.8" cy="471.5" r="0.34" fill="#7d86c6" fill-opacity="0.24"/>
<circle cx="462.7" cy="660.2" r="0.30" fill="#7d86c6" fill-opacity="0.33"/>
<circle cx="546.0" cy="626.8" r="0.48" fill="#7d86c6" fill-opacity="0.24"/>
<circle cx="423.8" cy="515.2" r="0.37" fill="#7d86c6" fill-opacity="0.44"/>
<circle cx="431.2" cy="601.1" r="0.31" fill="#7d86c6" fill-opacity="0.54"/>
<circle cx="502.6" cy="497.8" r="0.46" fill="#7d86c6" fill-opacity="0.37"/>
<circle cx="537.5" cy="583.0" r="0.47" fill="#7d86c6" fill-opacity="0.30"/>
<circle cx="570.1" cy="472.1" r="0.34" fill="#7d86c6" fill-opacity="0.26"/>
<circle cx="573.0" cy="472.4" r="0.32" fill="#7d86c6" fill-opacity="0.34"/>
<circle cx="424.4" cy="662.5" r="0.44" fill="#7d86c6" fill-opacity="0.39"/>
<circle cx="478.3" cy="509.4" r="0.29" fill="#7d86c6" fill-opacity="0.34"/>
<circle cx="512.0" cy="648.8" r="0.31" fill="#7d86c6" fill-opacity="0.50"/>
<circle cx="519.9" cy="502.0" r="0.26" fill="#7d86c6" fill-opacity="0.21"/>
<circle cx="569.2" cy="520.2" r="0.27" fill="#7d86c6" fill-opacity="0.43"/>
<circle cx="457.0" cy="667.9" r="0.42" fill="#7d86c6" fill-opacity="0.51"/>
<circle cx="518.1" cy="623.2" r="0.37" fill="#7d86c6" fill-opacity="0.35"/>
<circle cx="539.4" cy="506.9" r="0.27" fill="#7d86c6" fill-opacity="0.52"/>
<circle cx="474.6" cy="586.5" r="0.35" fill="#7d86c6" fill-opacity="0.46"/>
<circle cx="538.6" cy="507.1" r="0.44" fill="#7d86c6" fill-opacity="0.31"/>
<circle cx="504.8" cy="570.5" r="0.46" fill="#7d86c6" fill-opacity="0.35"/>
<circle cx="546.6" cy="667.3" r="0.39" fill="#7d86c6" fill-opacity="0.49"/>
<circle cx="556.6" cy="516.6" r="0.36" fill="#7d86c6" fill-opacity="0.52"/>
<circle cx="536.0" cy="647.4" r="0.40" fill="#7d86c6" fill-opacity="0.33"/>
<circle cx="540.3" cy="541.3" r="0.40" fill="#7d86c6" fill-opacity="0.27"/>
<circle cx="477.4" cy="563.2" r="0.28" fill="#7d86c6" fill-opacity="0.24"/>
<circle cx="556.4" cy="676.8" r="0.29" fill="#7d86c6" fill-opacity="0.33"/>
<circle cx="521.9" cy="498.6" r="0.27" fill="#7d86c6" fill-opacity="0.52"/>
<circle cx="458.1" cy="670.5" r="0.38" fill="#7d86c6" fill-opacity="0.41"/>
<circle cx="500.1" cy="575.6" r="0.32" fill="#7d86c6" fill-opacity="0.42"/>
<circle cx="483.8" cy="647.8" r="0.32" fill="#7d86c6" fill-opacity="0.27"/>
<circle cx="552.3" cy="581.6" r="0.31" fill="#7d86c6" fill-opacity="0.47"/>
<circle cx="458.8" cy="620.4" r="0.41" fill="#7d86c6" fill-opacity="0.30"/>
<circle cx="516.7" cy="571.7" r="0.26" fill="#7d86c6" fill-opacity="0.54"/>
<circle cx="454.6" cy="549.5" r="0.47" fill="#7d86c6" fill-opacity="0.44"/>
<circle cx="439.8" cy="604.0" r="0.26" fill="#7d86c6" fill-opacity="0.46"/>
<circle cx="510.6" cy="608.4" r="0.39" fill="#7d86c6" fill-opacity="0.32"/>
<circle cx="518.9" cy="565.6" r="0.44" fill="#7d86c6" fill-opacity="0.21"/>
<circle cx="455.3" cy="501.3" r="0.38" fill="#7d86c6" fill-opacity="0.42"/>
<circle cx="447.9" cy="668.4" r="0.34" fill="#7d86c6" fill-opacity="0.20"/>
<circle cx="530.4" cy="492.0" r="0.25" fill="#7d86c6" fill-opacity="0.30"/>
<circle cx="488.5" cy="519.2" r="0.33" fill="#7d86c6" fill-opacity="0.25"/>
<circle cx="470.2" cy="636.7" r="0.33" fill="#7d86c6" fill-opacity="0.40"/>
<circle cx="446.3" cy="494.7" r="0.33" fill="#7d86c6" fill-opacity="0.21"/>
<circle cx="489.2" cy="617.5" r="0.36" fill="#7d86c6" fill-opacity="0.28"/>
<circle cx="465.0" cy="641.6" r="0.31" fill="#7d86c6" fill-opacity="0.32"/>
<circle cx="524.0" cy="521.0" r="0.48" fill="#7d86c6" fill-opacity="0.26"/>
<circle cx="416.1" cy="558.6" r="0.39" fill="#7d86c6" fill-opacity="0.40"/>
<circle cx="464.8" cy="633.3" r="0.46" fill="#7d86c6" fill-opacity="0.37"/>
<circle cx="545.7" cy="638.5" r="0.29" fill="#7d86c6" fill-opacity="0.25"/>
<circle cx="433.6" cy="486.5" r="0.44" fill="#7d86c6" fill-opacity="0.33"/>
<circle cx="435.2" cy="584.4" r="0.32" fill="#7d86c6" fill-opacity="0.22"/>
<circle cx="479.6" cy="643.0" r="0.43" fill="#7d86c6" fill-opacity="0.54"/>
<circle cx="489.4" cy="672.0" r="0.35" fill="#7d86c6" fill-opacity="0.37"/>
<circle cx="533.6" cy="565.3" r="0.29" fill="#7d86c6" fill-opacity="0.45"/>
<circle cx="561.3" cy="543.7" r="0.35" fill="#7d86c6" fill-opacity="0.31"/>
<circle cx="524.3" cy="572.4" r="0.31" fill="#7d86c6" fill-opacity="0.51"/>
<circle cx="414.4" cy="644.9" r="0.47" fill="#7d86c6" fill-opacity="0.23"/>
<circle cx="414.9" cy="605.1" r="0.40" fill="#7d86c6" fill-opacity="0.26"/>
<circle cx="482.6" cy="488.6" r="0.35" fill="#7d86c6" fill-opacity="0.38"/>
<circle cx="557.8" cy="547.6" r="0.29" fill="#7d86c6" fill-opacity="0.53"/>
<circle cx="515.9" cy="496.8" r="0.27" fill="#7d86c6" fill-opacity="0.33"/>
<circle cx="451.6" cy="545.9" r="0.32" fill="#7d86c6" fill-opacity="0.52"/>
<circle cx="544.4" cy="610.2" r="0.27" fill="#7d86c6" fill-opacity="0.48"/>
<circle cx="476.9" cy="652.0" r="0.26" fill="#7d86c6" fill-opacity="0.25"/>
<circle cx="433.3" cy="640.9" r="0.49" fill="#7d86c6" fill-opacity="0.46"/>
<circle cx="462.3" cy="479.2" r="0.49" fill="#7d86c6" fill-opacity="0.26"/>
<circle cx="544.1" cy="568.0" r="0.33" fill="#7d86c6" fill-opacity="0.34"/>
<circle cx="424.7" cy="493.0" r="0.47" fill="#7d86c6" fill-opacity="0.36"/>
<circle cx="521.6" cy="538.6" r="0.37" fill="#7d86c6" fill-opacity="0.48"/>
<circle cx="517.3" cy="552.6" r="0.37" fill="#7d86c6" fill-opacity="0.55"/>
<circle cx="417.4" cy="553.3" r="0.28" fill="#7d86c6" fill-opacity="0.24"/>
<circle cx="420.8" cy="630.2" r="0.36" fill="#7d86c6" fill-opacity="0.39"/>
<circle cx="461.2" cy="551.8" r="0.36" fill="#7d86c6" fill-opacity="0.49"/>
<circle cx="426.9" cy="506.3" r="0.29" fill="#7d86c6" fill-opacity="0.36"/>
<circle cx="489.8" cy="612.2" r="0.50" fill="#7d86c6" fill-opacity="0.52"/>
<circle cx="451.2" cy="554.6" r="0.38" fill="#7d86c6" fill-opacity="0.48"/>
<circle cx="495.5" cy="502.0" r="0.26" fill="#7d86c6" fill-opacity="0.32"/>
<circle cx="510.9" cy="506.4" r="0.36" fill="#7d86c6" fill-opacity="0.33"/>
<circle cx="568.5" cy="616.3" r="0.49" fill="#7d86c6" fill-opacity="0.38"/>
<circle cx="492.2" cy="675.0" r="0.35" fill="#7d86c6" fill-opacity="0.39"/>
<circle cx="416.0" cy="504.0" r="0.32" fill="#7d86c6" fill-opacity="0.29"/>
<circle cx="482.7" cy="656.4" r="0.30" fill="#7d86c6" fill-opacity="0.22"/>
<circle cx="503.7" cy="545.2" r="0.26" fill="#7d86c6" fill-opacity="0.47"/>
<circle cx="564.9" cy="625.9" r="0.45" fill="#7d86c6" fill-opacity="0.47"/>
<circle cx="571.5" cy="497.8" r="0.47" fill="#7d86c6" fill-opacity="0.45"/>
<circle cx="566.8" cy="647.5" r="0.39" fill="#7d86c6" fill-opacity="0.43"/>
<circle cx="452.2" cy="539.1" r="0.29" fill="#7d86c6" fill-opacity="0.34"/>
<circle cx="546.7" cy="540.5" r="0.47" fill="#7d86c6" fill-opacity="0.27"/>
<circle cx="517.5" cy="517.8" r="0.41" fill="#7d86c6" fill-opacity="0.48"/>
<circle cx="555.2" cy="629.5" r="0.29" fill="#7d86c6" fill-opacity="0.44"/>
<circle cx="460.0" cy="575.4" r="0.29" fill="#7d86c6" fill-opacity="0.35"/>
<circle cx="519.3" cy="492.5" r="0.40" fill="#7d86c6" fill-opacity="0.51"/>
<circle cx="497.9" cy="537.4" r="0.30" fill="#7d86c6" fill-opacity="0.36"/>
<circle cx="476.4" cy="615.0" r="0.44" fill="#7d86c6" fill-opacity="0.44"/>
<circle cx="535.6" cy="635.4" r="0.43" fill="#7d86c6" fill-opacity="0.29"/>
<circle cx="506.2" cy="551.0" r="0.27" fill="#7d86c6" fill-opacity="0.42"/>
<circle cx="435.2" cy="613.3" r="0.38" fill="#7d86c6" fill-opacity="0.22"/>
<circle cx="480.7" cy="583.9" r="0.31" fill="#7d86c6" fill-opacity="0.53"/>
<circle cx="567.0" cy="490.3" r="0.43" fill="#7d86c6" fill-opacity="0.35"/>
<circle cx="547.9" cy="666.5" r="0.38" fill="#7d86c6" fill-opacity="0.42"/>
<circle cx="471.9" cy="609.1" r="0.50" fill="#7d86c6" fill-opacity="0.32"/>
<circle cx="416.9" cy="673.7" r="0.26" fill="#7d86c6" fill-opacity="0.44"/>
<circle cx="506.6" cy="553.7" r="0.48" fill="#7d86c6" fill-opacity="0.24"/>
<circle cx="451.0" cy="643.7" r="0.25" fill="#7d86c6" fill-opacity="0.29"/>
<circle cx="439.7" cy="557.3" r="0.43" fill="#7d86c6" fill-opacity="0.53"/>
<circle cx="451.9" cy="471.1" r="0.44" fill="#7d86c6" fill-opacity="0.52"/>
<circle cx="414.5" cy="598.2" r="0.40" fill="#7d86c6" fill-opacity="0.39"/>
<circle cx="514.2" cy="527.3" r="0.47" fill="#7d86c6" fill-opacity="0.28"/>
<circle cx="566.1" cy="669.6" r="0.46" fill="#7d86c6" fill-opacity="0.34"/>
<circle cx="566.4" cy="513.7" r="0.37" fill="#7d86c6" fill-opacity="0.38"/>
<circle cx="434.9" cy="676.9" r="0.30" fill="#7d86c6" fill-opacity="0.37"/>
<circle cx="426.1" cy="527.7" r="0.46" fill="#7d86c6" fill-opacity="0.44"/>
<circle cx="471.5" cy="605.6" r="0.29" fill="#7d86c6" fill-opacity="0.43"/>
<circle cx="557.1" cy="471.3" r="0.32" fill="#7d86c6" fill-opacity="0.29"/>
<circle cx="426.5" cy="661.9" r="0.42" fill="#7d86c6" fill-opacity="0.42"/>
<circle cx="511.8" cy="610.6" r="0.32" fill="#7d86c6" fill-opacity="0.27"/>
<circle cx="424.6" cy="501.1" r="0.30" fill="#7d86c6" fill-opacity="0.48"/>
<circle cx="464.6" cy="550.1" r="0.43" fill="#7d86c6" fill-opacity="0.54"/>
<circle cx="429.0" cy="592.4" r="0.35" fill="#7d86c6" fill-opacity="0.26"/>
<circle cx="467.4" cy="633.9" r="0.32" fill="#7d86c6" fill-opacity="0.40"/>
<circle cx="486.3" cy="472.1" r="0.46" fill="#7d86c6" fill-opacity="0.50"/>
<circle cx="548.2" cy="560.3" r="0.36" fill="#7d86c6" fill-opacity="0.44"/>
<circle cx="572.8" cy="573.8" r="0.32" fill="#7d86c6" fill-opacity="0.37"/>
<circle cx="505.3" cy="601.5" r="0.48" fill="#7d86c6" fill-opacity="0.40"/>
<circle cx="546.0" cy="568.2" r="0.36" fill="#7d86c6" fill-opacity="0.52"/>
<circle cx="458.5" cy="532.3" r="0.39" fill="#7d86c6" fill-opacity="0.24"/>
<circle cx="439.0" cy="577.6" r="0.41" fill="#7d86c6" fill-opacity="0.54"/>
<circle cx="430.5" cy="477.2" r="0.42" fill="#7d86c6" fill-opacity="0.51"/>
<circle cx="427.1" cy="531.2" r="0.42" fill="#7d86c6" fill-opacity="0.42"/>
<circle cx="553.8" cy="608.4" r="0.49" fill="#7d86c6" fill-opacity="0.30"/>
<circle cx="533.5" cy="593.0" r="0.35" fill="#7d86c6" fill-opacity="0.45"/>
<circle cx="549.8" cy="590.9" r="0.43" fill="#7d86c6" fill-opacity="0.34"/>
<circle cx="552.2" cy="549.6" r="0.41" fill="#7d86c6" fill-opacity="0.41"/>
<circle cx="495.7" cy="662.5" r="0.43" fill="#7d86c6" fill-opacity="0.41"/>
<circle cx="528.3" cy="618.2" r="0.33" fill="#7d86c6" fill-opacity="0.31"/>
<circle cx="511.4" cy="497.8" r="0.45" fill="#7d86c6" fill-opacity="0.47"/>
<circle cx="516.6" cy="538.7" r="0.49" fill="#7d86c6" fill-opacity="0.46"/>
<circle cx="552.4" cy="620.5" r="0.39" fill="#7d86c6" fill-opacity="0.30"/>
<circle cx="441.5" cy="641.0" r="0.41" fill="#7d86c6" fill-opacity="0.28"/>
<circle cx="446.1" cy="571.3" r="0.41" fill="#7d86c6" fill-opacity="0.47"/>
<circle cx="490.3" cy="521.2" r="0.42" fill="#7d86c6" fill-opacity="0.25"/>
<circle cx="440.1" cy="546.9" r="0.39" fill="#7d86c6" fill-opacity="0.21"/>
<circle cx="434.2" cy="618.0" r="0.35" fill="#7d86c6" fill-opacity="0.36"/>
<circle cx="489.0" cy="505.3" r="0.49" fill="#7d86c6" fill-opacity="0.52"/>
<circle cx="515.4" cy="487.7" r="0.42" fill="#7d86c6" fill-opacity="0.48"/>
<circle cx="466.7" cy="500.2" r="0.43" fill="#7d86c6" fill-opacity="0.42"/>
<circle cx="476.0" cy="530.7" r="0.48" fill="#7d86c6" fill-opacity="0.23"/>
<rect x="432.0" y="467.3" width="2.0" height="213.5" rx="0" fill="#f6f5fa" fill-opacity="0.4" filter="url(#b0)"/>
<rect x="451.0" y="467.3" width="3.5" height="213.5" rx="0" fill="#f6f5fa" fill-opacity="0.4" filter="url(#b0)"/>
<rect x="469.0" y="467.3" width="2.2" height="213.5" rx="0" fill="#f6f5fa" fill-opacity="0.4" filter="url(#b0)"/>
<rect x="488.3" y="467.3" width="1.0" height="213.5" rx="0" fill="#f6f5fa" fill-opacity="0.4" filter="url(#b0)"/>
<rect x="504.5" y="467.3" width="2.5" height="213.5" rx="0" fill="#f6f5fa" fill-opacity="0.4" filter="url(#b0)"/>
<rect x="521.5" y="467.3" width="2.5" height="213.5" rx="0" fill="#f6f5fa" fill-opacity="0.4" filter="url(#b0)"/>
<rect x="537.0" y="467.3" width="3.5" height="213.5" rx="0" fill="#f6f5fa" fill-opacity="0.4" filter="url(#b0)"/>
<rect x="556.0" y="467.3" width="2.0" height="213.5" rx="0" fill="#f6f5fa" fill-opacity="0.4" filter="url(#b0)"/>
<rect x="571.0" y="467.3" width="5.0" height="213.5" rx="0" fill="#f6f5fa" fill-opacity="0.4" filter="url(#b0)"/>
<path d="M420.5 467.3 L432.3 467.3 L428.5 680.8 L415.5 680.8 Z" fill="#d2c4e2" fill-opacity="0.8" filter="url(#b1)"/>
<rect x="420.5" y="480.0" width="11.5" height="22.0" rx="2" fill="url(#g27)" fill-opacity="1.0" filter="url(#b3)"/>
<path d="M420.7 484.5 Q426.3 486.4 431.9 486.5" stroke="#8a70c0" stroke-width="3.4" stroke-linecap="butt" fill="none" stroke-opacity="0.45" filter="url(#b2)"/>
<path d="M420.2 510.2 Q425.8 512.1 431.4 512.2" stroke="#3a36a2" stroke-width="5.2" stroke-linecap="butt" fill="none" stroke-opacity="0.95" filter="url(#b2)"/>
<path d="M420.0 518.0 Q425.6 519.9 431.2 520.0" stroke="#8a74c0" stroke-width="2.4" stroke-linecap="butt" fill="none" stroke-opacity="0.4" filter="url(#b2)"/>
<path d="M419.9 523.0 Q425.5 524.9 431.1 525.0" stroke="#8a74c0" stroke-width="2.0" stroke-linecap="butt" fill="none" stroke-opacity="0.3" filter="url(#b2)"/>
<path d="M419.8 531.0 Q425.4 532.9 431.0 533.0" stroke="#8a74c0" stroke-width="2.2" stroke-linecap="butt" fill="none" stroke-opacity="0.35" filter="url(#b2)"/>
<path d="M419.7 536.0 Q425.3 537.9 430.9 538.0" stroke="#8a74c0" stroke-width="2.0" stroke-linecap="butt" fill="none" stroke-opacity="0.3" filter="url(#b2)"/>
<path d="M419.5 547.9 Q425.1 549.8 430.7 549.9" stroke="#3a36a2" stroke-width="5.0" stroke-linecap="butt" fill="none" stroke-opacity="0.95" filter="url(#b2)"/>
<path d="M419.3 555.4 Q424.9 557.3 430.5 557.4" stroke="#8a74c0" stroke-width="2.2" stroke-linecap="butt" fill="none" stroke-opacity="0.4" filter="url(#b2)"/>
<path d="M419.2 565.0 Q424.8 566.9 430.4 567.0" stroke="#8a74c0" stroke-width="2.0" stroke-linecap="butt" fill="none" stroke-opacity="0.3" filter="url(#b2)"/>
<path d="M419.0 574.0 Q424.6 575.9 430.2 576.0" stroke="#8a74c0" stroke-width="2.0" stroke-linecap="butt" fill="none" stroke-opacity="0.3" filter="url(#b2)"/>
<path d="M418.8 586.0 Q424.4 587.9 430.0 588.0" stroke="#3a36a2" stroke-width="4.6" stroke-linecap="butt" fill="none" stroke-opacity="0.9" filter="url(#b2)"/>
<path d="M418.6 596.0 Q424.2 597.9 429.8 598.0" stroke="#8a74c0" stroke-width="2.0" stroke-linecap="butt" fill="none" stroke-opacity="0.3" filter="url(#b2)"/>
<path d="M418.4 604.0 Q424.0 605.9 429.6 606.0" stroke="#8a74c0" stroke-width="2.2" stroke-linecap="butt" fill="none" stroke-opacity="0.3" filter="url(#b2)"/>
<path d="M418.3 612.0 Q423.9 613.9 429.5 614.0" stroke="#8a74c0" stroke-width="2.0" stroke-linecap="butt" fill="none" stroke-opacity="0.3" filter="url(#b2)"/>
<path d="M418.1 620.9 Q423.7 622.8 429.3 622.9" stroke="#3a36a2" stroke-width="5.2" stroke-linecap="butt" fill="none" stroke-opacity="0.95" filter="url(#b2)"/>
<path d="M417.9 634.0 Q423.5 635.9 429.1 636.0" stroke="#8a74c0" stroke-width="2.0" stroke-linecap="butt" fill="none" stroke-opacity="0.3" filter="url(#b2)"/>
<path d="M417.7 644.0 Q423.3 645.9 428.9 646.0" stroke="#8a74c0" stroke-width="2.0" stroke-linecap="butt" fill="none" stroke-opacity="0.3" filter="url(#b2)"/>
<path d="M417.3 661.8 Q422.9 663.7 428.5 663.8" stroke="#3a36a2" stroke-width="5.4" stroke-linecap="butt" fill="none" stroke-opacity="0.95" filter="url(#b2)"/>
<path d="M417.2 669.0 Q422.8 670.9 428.4 671.0" stroke="#8a74c0" stroke-width="2.2" stroke-linecap="butt" fill="none" stroke-opacity="0.4" filter="url(#b2)"/>
<path d="M417.1 675.0 Q422.7 676.9 428.3 677.0" stroke="#8a74c0" stroke-width="2.2" stroke-linecap="butt" fill="none" stroke-opacity="0.4" filter="url(#b2)"/>
<rect x="507.6" y="468.3" width="13.4" height="211.5" rx="0" fill="#dcc8e2" fill-opacity="0.22" filter="url(#b3)"/>
<rect x="524.3" y="468.3" width="13.2" height="211.5" rx="0" fill="#dcc8e2" fill-opacity="0.22" filter="url(#b3)"/>
<rect x="541.0" y="468.3" width="14.7" height="211.5" rx="0" fill="#dcc8e2" fill-opacity="0.22" filter="url(#b3)"/>
<rect x="558.2" y="468.3" width="13.8" height="211.5" rx="0" fill="#dcc8e2" fill-opacity="0.22" filter="url(#b3)"/>
<rect x="433.7" y="606.0" width="16.8" height="18.0" rx="2" fill="url(#g28)" fill-opacity="1.0" filter="url(#b1)"/>
<rect x="434.2" y="615.5" width="15.8" height="8.0" rx="2.5" fill="#443a9e" fill-opacity="0.8" filter="url(#b1)"/>
<rect x="454.8" y="468.0" width="13.5" height="65.0" rx="2" fill="url(#g29)" fill-opacity="1.0" filter="url(#b1)"/>
<rect x="455.0" y="496.0" width="13.0" height="13.0" rx="2.5" fill="#6a50b0" fill-opacity="0.3" filter="url(#b4)"/>
<rect x="454.8" y="565.0" width="13.7" height="15.5" rx="2" fill="url(#g30)" fill-opacity="1.0" filter="url(#b1)"/>
<rect x="455.2" y="573.2" width="13.0" height="7.0" rx="2.5" fill="#443a9e" fill-opacity="0.85" filter="url(#b1)"/>
<rect x="471.6" y="468.0" width="16.2" height="66.0" rx="2" fill="url(#g31)" fill-opacity="1.0" filter="url(#b1)"/>
<rect x="472.0" y="486.0" width="15.5" height="4.0" rx="2.5" fill="#6a50b0" fill-opacity="0.25" filter="url(#b3)"/>
<rect x="472.0" y="501.0" width="15.5" height="9.0" rx="2.5" fill="#6a50b0" fill-opacity="0.4" filter="url(#b6)"/>
<rect x="472.0" y="520.0" width="15.5" height="3.0" rx="2.5" fill="#6a50b0" fill-opacity="0.25" filter="url(#b1)"/>
<rect x="472.0" y="527.0" width="15.5" height="3.0" rx="2.5" fill="#6a50b0" fill-opacity="0.25" filter="url(#b1)"/>
<rect x="471.6" y="565.0" width="16.4" height="19.0" rx="2" fill="url(#g32)" fill-opacity="1.0" filter="url(#b1)"/>
<rect x="472.0" y="575.5" width="15.6" height="8.3" rx="2.5" fill="#3a30a0" fill-opacity="0.95" filter="url(#b1)"/>
<rect x="471.6" y="610.0" width="16.4" height="19.0" rx="2" fill="url(#g33)" fill-opacity="1.0" filter="url(#b1)"/>
<rect x="472.0" y="620.5" width="15.6" height="8.0" rx="2.5" fill="#443a9e" fill-opacity="0.9" filter="url(#b1)"/>
<rect x="489.4" y="664.5" width="15.2" height="9.0" rx="2.5" fill="#3a30a0" fill-opacity="0.95" filter="url(#b5)"/>
<rect x="489.0" y="661.0" width="16.0" height="15.0" rx="2.5" fill="#7a6ac0" fill-opacity="0.35" filter="url(#b4)"/>
<rect x="507.6" y="553.0" width="13.4" height="35.0" rx="2" fill="url(#g34)" fill-opacity="1.0" filter="url(#b1)"/>
<rect x="508.0" y="562.5" width="12.6" height="7.5" rx="2.5" fill="#4e3ea6" fill-opacity="0.7" filter="url(#b1)"/>
<rect x="508.0" y="578.0" width="12.6" height="7.5" rx="2.5" fill="#4e3ea6" fill-opacity="0.8" filter="url(#b1)"/>
<rect x="524.3" y="470.0" width="13.2" height="92.0" rx="2" fill="url(#g35)" fill-opacity="1.0" filter="url(#b1)"/>
<rect x="524.3" y="482.0" width="13.2" height="8.0" rx="2.5" fill="#5a40a8" fill-opacity="0.45" filter="url(#b7)"/>
<rect x="524.3" y="502.0" width="13.2" height="8.0" rx="2.5" fill="#5a40a8" fill-opacity="0.45" filter="url(#b7)"/>
<rect x="524.3" y="515.0" width="13.2" height="3.0" rx="2.5" fill="#6a50b0" fill-opacity="0.25" filter="url(#b1)"/>
<rect x="524.3" y="524.0" width="13.2" height="3.0" rx="2.5" fill="#6a50b0" fill-opacity="0.25" filter="url(#b1)"/>
<rect x="524.3" y="532.0" width="13.2" height="3.0" rx="2.5" fill="#6a50b0" fill-opacity="0.3" filter="url(#b1)"/>
<rect x="524.3" y="560.0" width="13.2" height="28.0" rx="2" fill="url(#g36)" fill-opacity="1.0" filter="url(#b1)"/>
<rect x="524.6" y="575.5" width="12.6" height="11.5" rx="2.5" fill="#3a30a0" fill-opacity="0.95" filter="url(#b5)"/>
<rect x="524.3" y="612.0" width="13.2" height="19.0" rx="2" fill="url(#g37)" fill-opacity="1.0" filter="url(#b1)"/>
<rect x="524.6" y="624.0" width="12.6" height="7.5" rx="2.5" fill="#443a9e" fill-opacity="0.92" filter="url(#b1)"/>
<rect x="524.3" y="666.5" width="13.2" height="7.5" rx="2.5" fill="#3a30a0" fill-opacity="0.92" filter="url(#b5)"/>
<rect x="541.0" y="470.0" width="14.7" height="92.0" rx="2" fill="url(#g38)" fill-opacity="1.0" filter="url(#b1)"/>
<rect x="541.0" y="497.5" width="14.7" height="4.0" rx="2.5" fill="#5a40a8" fill-opacity="0.4" filter="url(#b1)"/>
<rect x="541.0" y="505.0" width="14.7" height="3.5" rx="2.5" fill="#4a3aa0" fill-opacity="0.55" filter="url(#b2)"/>
<rect x="541.0" y="515.5" width="14.7" height="2.5" rx="2.5" fill="#6a50b0" fill-opacity="0.25" filter="url(#b1)"/>
<rect x="541.0" y="524.0" width="14.7" height="3.0" rx="2.5" fill="#6a50b0" fill-opacity="0.25" filter="url(#b1)"/>
<rect x="541.0" y="532.0" width="14.7" height="3.0" rx="2.5" fill="#6a50b0" fill-opacity="0.4" filter="url(#b1)"/>
<rect x="541.0" y="560.0" width="14.7" height="28.0" rx="2" fill="url(#g39)" fill-opacity="1.0" filter="url(#b1)"/>
<rect x="541.3" y="575.5" width="14.1" height="11.5" rx="2.5" fill="#3a30a0" fill-opacity="0.95" filter="url(#b5)"/>
<rect x="541.0" y="612.0" width="14.7" height="19.0" rx="2" fill="url(#g40)" fill-opacity="1.0" filter="url(#b1)"/>
<rect x="541.3" y="624.0" width="14.1" height="7.5" rx="2.5" fill="#443a9e" fill-opacity="0.92" filter="url(#b1)"/>
<rect x="541.0" y="666.5" width="14.7" height="7.5" rx="2.5" fill="#3a30a0" fill-opacity="0.92" filter="url(#b5)"/>
<rect x="558.2" y="470.0" width="13.8" height="92.0" rx="2" fill="url(#g41)" fill-opacity="1.0" filter="url(#b1)"/>
<rect x="558.2" y="497.5" width="13.8" height="4.0" rx="2.5" fill="#5a40a8" fill-opacity="0.4" filter="url(#b1)"/>
<rect x="558.2" y="505.0" width="13.8" height="3.5" rx="2.5" fill="#4a3aa0" fill-opacity="0.55" filter="url(#b2)"/>
<rect x="558.2" y="515.5" width="13.8" height="2.5" rx="2.5" fill="#6a50b0" fill-opacity="0.25" filter="url(#b1)"/>
<rect x="558.2" y="524.0" width="13.8" height="3.0" rx="2.5" fill="#6a50b0" fill-opacity="0.25" filter="url(#b1)"/>
<rect x="558.2" y="532.0" width="13.8" height="3.0" rx="2.5" fill="#6a50b0" fill-opacity="0.4" filter="url(#b1)"/>
<rect x="558.2" y="560.0" width="13.8" height="28.0" rx="2" fill="url(#g42)" fill-opacity="1.0" filter="url(#b1)"/>
<rect x="558.5" y="575.5" width="13.2" height="11.5" rx="2.5" fill="#3a30a0" fill-opacity="0.95" filter="url(#b5)"/>
<rect x="558.2" y="612.0" width="13.8" height="19.0" rx="2" fill="url(#g43)" fill-opacity="1.0" filter="url(#b1)"/>
<rect x="558.5" y="624.0" width="13.2" height="7.5" rx="2.5" fill="#443a9e" fill-opacity="0.92" filter="url(#b1)"/>
<rect x="558.2" y="666.5" width="13.8" height="7.5" rx="2.5" fill="#3a30a0" fill-opacity="0.92" filter="url(#b5)"/>
<rect x="507.6" y="612.0" width="13.4" height="19.0" rx="2" fill="url(#g44)" fill-opacity="1.0" filter="url(#b1)"/>
<rect x="507.9" y="624.0" width="12.8" height="7.0" rx="2.5" fill="#443a9e" fill-opacity="0.9" filter="url(#b1)"/>
<rect x="507.6" y="666.0" width="13.4" height="7.5" rx="2.5" fill="#3a30a0" fill-opacity="0.9" filter="url(#b5)"/>
<text transform="translate(383.0 123.9) scale(0.958 1)" font-size="14.2" text-anchor="start" fill="#222">kDa</text>
<text transform="translate(395.3 143.0) scale(0.958 1)" font-size="14.2" text-anchor="middle" fill="#222">135</text>
<text transform="translate(395.3 161.1) scale(0.958 1)" font-size="14.2" text-anchor="middle" fill="#222">100</text>
<text transform="translate(395.3 179.2) scale(0.958 1)" font-size="14.2" text-anchor="middle" fill="#222">80</text>
<text transform="translate(395.3 197.2) scale(0.958 1)" font-size="14.2" text-anchor="middle" fill="#222">58</text>
<text transform="translate(395.3 220.0) scale(0.958 1)" font-size="14.2" text-anchor="middle" fill="#222">46</text>
<text transform="translate(395.3 245.9) scale(0.958 1)" font-size="14.2" text-anchor="middle" fill="#222">32</text>
<text transform="translate(395.3 278.5) scale(0.958 1)" font-size="14.2" text-anchor="middle" fill="#222">22</text>
<text transform="translate(450.8 130.4) rotate(-90) scale(0.958 1)" font-size="14.2" fill="#222">sB-Raf (K)</text>
<text transform="translate(470.2 130.4) rotate(-90) scale(0.958 1)" font-size="14.2" fill="#222">CDC-37 (C)</text>
<text transform="translate(489.3 130.4) rotate(-90) scale(0.958 1)" font-size="14.2" fill="#222">K + C + ATP</text>
<text transform="translate(506.7 130.4) rotate(-90) scale(0.958 1)" font-size="14.2" fill="#222">K + ATP + C</text>
<text transform="translate(524.0 130.4) rotate(-90) scale(0.958 1)" font-size="14.2" fill="#222">K + C + ADP</text>
<text transform="translate(541.8 130.4) rotate(-90) scale(0.958 1)" font-size="14.2" fill="#222">K + ADP + C</text>
<text transform="translate(559.1 130.4) rotate(-90) scale(0.958 1)" font-size="14.2" fill="#222">K + C + AMP-PNP</text>
<text transform="translate(576.4 130.4) rotate(-90) scale(0.958 1)" font-size="14.2" fill="#222">K + AMP-PNP + C</text>
<text transform="translate(593.7 130.4) rotate(-90) scale(0.958 1)" font-size="14.2" fill="#222">K + C + ATPγS</text>
<text transform="translate(612.0 130.4) rotate(-90) scale(0.958 1)" font-size="14.2" fill="#222">K + ATPγS + C</text>
<text transform="translate(383.0 488.8) scale(0.958 1)" font-size="14.2" text-anchor="start" fill="#222">kDa</text>
<text transform="translate(395.3 515.1) scale(0.958 1)" font-size="14.2" text-anchor="middle" fill="#222">200</text>
<text transform="translate(395.3 552.8) scale(0.958 1)" font-size="14.2" text-anchor="middle" fill="#222">116</text>
<text transform="translate(395.3 590.4) scale(0.958 1)" font-size="14.2" text-anchor="middle" fill="#222">67</text>
<text transform="translate(395.3 625.3) scale(0.958 1)" font-size="14.2" text-anchor="middle" fill="#222">45</text>
<text transform="translate(395.3 666.2) scale(0.958 1)" font-size="14.2" text-anchor="middle" fill="#222">29</text>
<text transform="translate(450.0 464.4) rotate(-90) scale(0.958 1)" font-size="14.2" fill="#222">CDC-37 (C)</text>
<text transform="translate(466.6 464.4) rotate(-90) scale(0.958 1)" font-size="14.2" fill="#222">HSP-90 (H)</text>
<text transform="translate(482.4 464.4) rotate(-90) scale(0.958 1)" font-size="14.2" fill="#222">C + H</text>
<text transform="translate(500.2 464.4) rotate(-90) scale(0.958 1)" font-size="14.2" fill="#222">sB-Raf (K)</text>
<text transform="translate(516.4 464.4) rotate(-90) scale(0.958 1)" font-size="14.2" fill="#222">K + C</text>
<text transform="translate(534.0 464.4) rotate(-90) scale(0.958 1)" font-size="14.2" fill="#222">K + C + H</text>
<text transform="translate(550.4 464.4) rotate(-90) scale(0.958 1)" font-size="14.2" fill="#222">K + C + H + ATP</text>
<text transform="translate(568.0 464.4) rotate(-90) scale(0.958 1)" font-size="14.2" fill="#222">K + ATP + C + H</text>
</svg></body></html>
